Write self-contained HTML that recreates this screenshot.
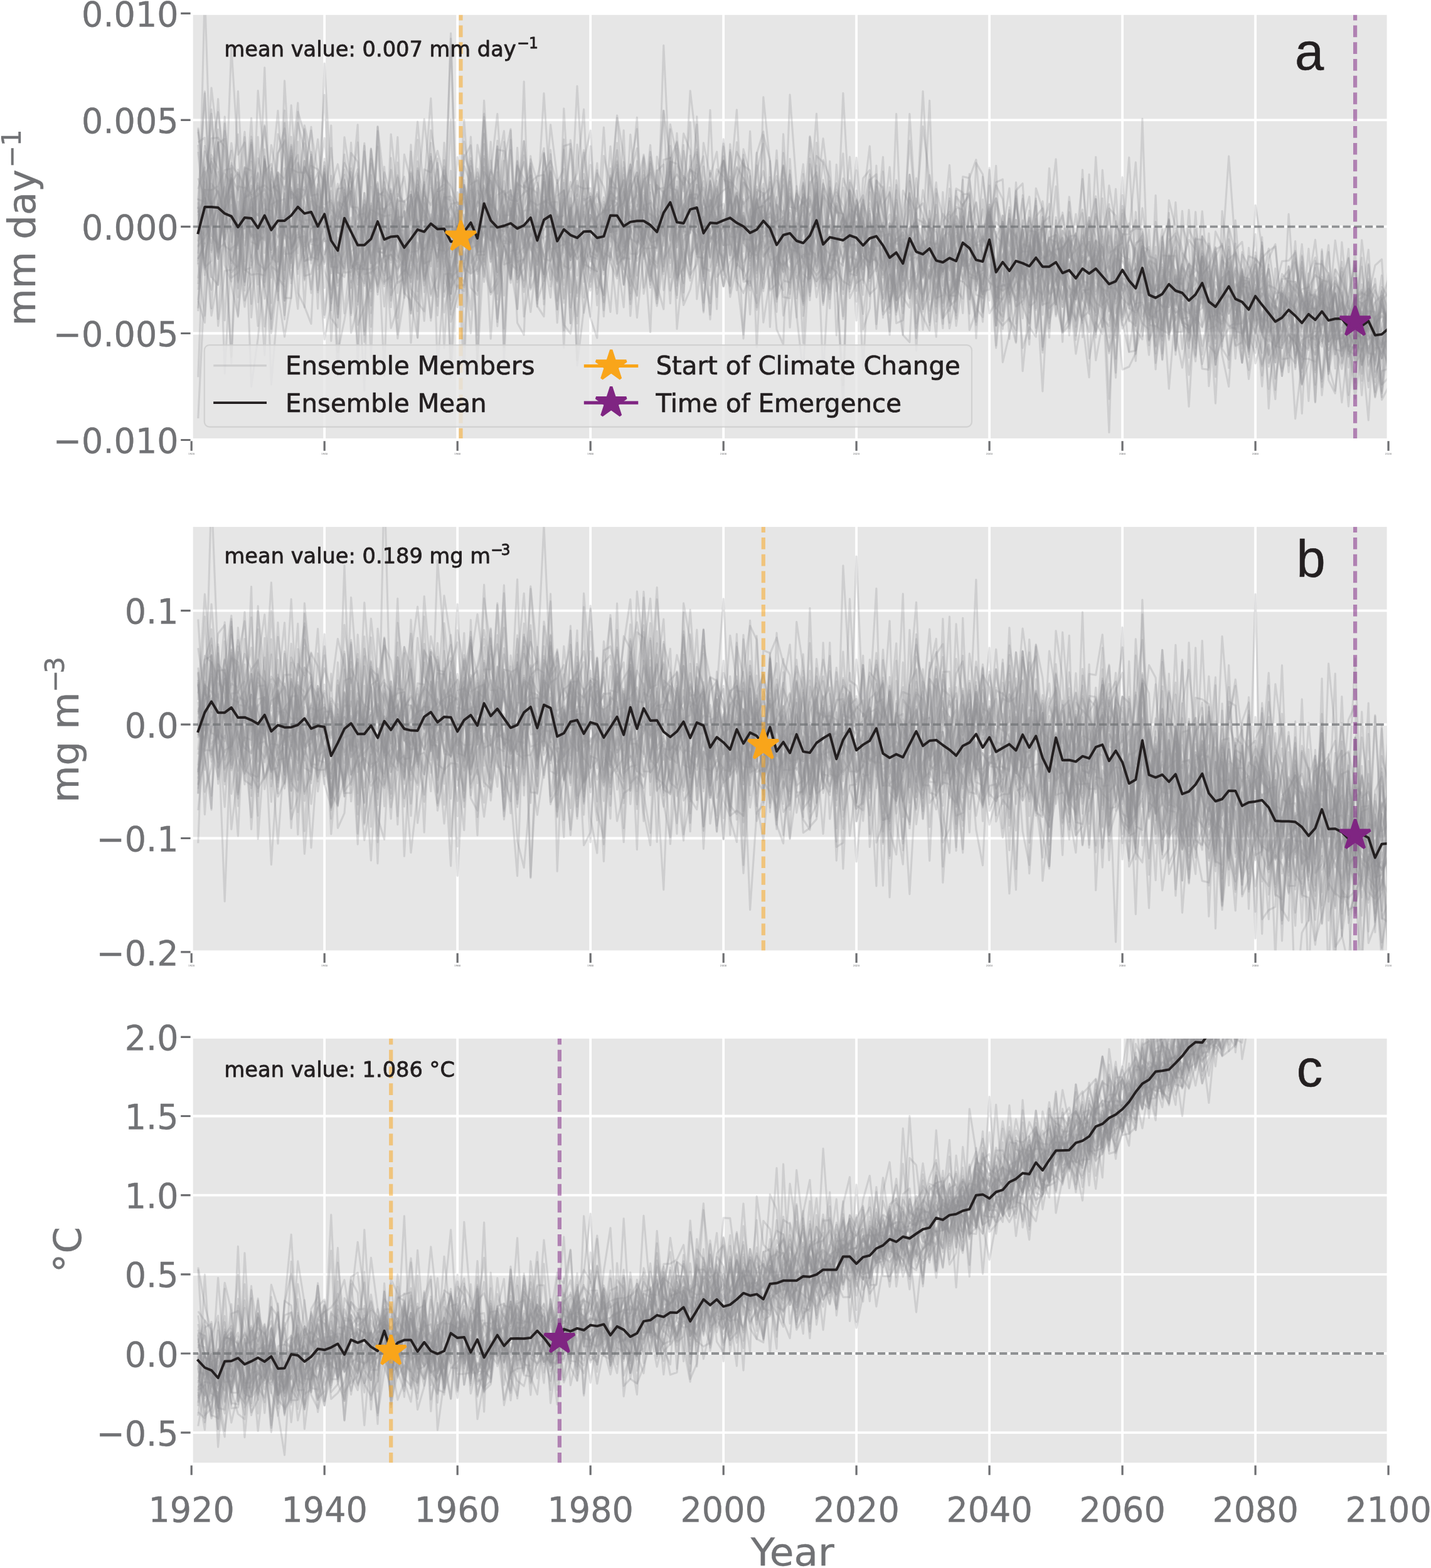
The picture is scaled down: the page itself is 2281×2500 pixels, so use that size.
<!DOCTYPE html>
<html lang="en">
<head>
<meta charset="utf-8">
<title>Ensemble time series: start of climate change and time of emergence</title>
<style>
html,body{margin:0;padding:0;background:#fff;}
body{width:2281px;height:2500px;overflow:hidden;}
svg{display:block;}
</style>
</head>
<body>
<svg width="2281" height="2500" viewBox="0 0 2281 2500" role="img" aria-label="Ensemble members, ensemble mean, start of climate change and time of emergence for three variables, 1920 to 2100">
<rect width="2281" height="2500" fill="#fff"/>
<defs>
<clipPath id="clipa"><rect x="305.2" y="21.3" width="1907.9" height="680.2"/></clipPath>
<clipPath id="clipb"><rect x="305.2" y="837.6" width="1907.9" height="680.3"/></clipPath>
<clipPath id="clipc"><rect x="305.2" y="1653.4" width="1907.9" height="681.2"/></clipPath>
</defs>
<rect width="2281" height="2500" fill="#fff"/>
<g>
<g id="panel-a">
<rect x="305.2" y="21.3" width="1907.9" height="680.2" fill="#e6e6e6"/>
<path d="M517.2,21.3V701.5M729.2,21.3V701.5M941.2,21.3V701.5M1153.2,21.3V701.5M1365.1,21.3V701.5M1577.1,21.3V701.5M1789.1,21.3V701.5M2001.1,21.3V701.5M305.2,191.3H2213.1M305.2,361.4H2213.1M305.2,531.5H2213.1" stroke="#fff" stroke-width="3.8" fill="none"/>
<g clip-path="url(#clipa)" fill="none" stroke-linejoin="round">
<g stroke="#8f9194" stroke-opacity="0.28" stroke-width="3.1">
<path d="M315.8,230.9L326.4,351.3L337.0,387.6L347.6,342.6L358.2,375.5L368.8,569.0L379.4,278.9L390.0,416.4L400.6,227.4L411.2,397.4L421.8,309.1L432.4,524.5L443.0,284.7L453.6,380.4L464.2,273.6L474.8,164.0L485.4,371.1L496.0,461.4L506.6,377.6L517.2,285.8L527.8,391.7L538.4,450.4L549.0,431.8L559.6,290.4L570.2,429.1L580.8,429.0L591.4,371.0L602.0,375.7L612.6,333.0L623.2,323.2L633.8,467.3L644.4,401.2L655.0,314.9L665.6,194.1L676.2,310.9L686.8,327.2L697.4,302.5L708.0,294.3L718.6,467.8L729.2,366.7L739.8,246.7L750.4,277.3L761.0,356.9L771.6,375.8L782.2,226.1L792.8,477.8L803.4,328.6L814.0,222.8L824.6,405.4L835.2,457.7L845.8,341.0L856.4,416.3L867.0,314.0L877.6,352.4L888.2,479.6L898.8,423.7L909.4,305.1L920.0,574.6L930.6,316.8L941.2,414.0L951.8,432.6L962.4,388.2L973.0,349.8L983.6,324.4L994.2,429.3L1004.8,301.5L1015.4,275.4L1026.0,393.3L1036.6,454.1L1047.2,369.8L1057.8,437.2L1068.4,321.3L1079.0,442.3L1089.6,426.5L1100.2,358.3L1110.8,379.9L1121.4,319.3L1132.0,354.0L1142.6,280.9L1153.2,256.5L1163.8,407.8L1174.4,346.4L1185.0,418.8L1195.6,400.8L1206.2,318.4L1216.8,514.1L1227.4,445.0L1238.0,415.5L1248.6,361.2L1259.1,468.6L1269.7,346.4L1280.3,486.3L1290.9,415.8L1301.5,263.8L1312.1,448.8L1322.7,425.2L1333.3,433.3L1343.9,448.6L1354.5,454.7L1365.1,361.2L1375.7,589.7L1386.3,396.2L1396.9,416.0L1407.5,297.2L1418.1,480.5L1428.7,453.0L1439.3,385.2L1449.9,396.3L1460.5,450.1L1471.1,472.8L1481.7,435.2L1492.3,389.0L1502.9,433.2L1513.5,300.7L1524.1,406.4L1534.7,345.8L1545.3,452.0L1555.9,504.9L1566.5,448.5L1577.1,267.6L1587.7,477.5L1598.3,343.8L1608.9,454.1L1619.5,435.6L1630.1,357.7L1640.7,313.5L1651.3,439.4L1661.9,624.0L1672.5,420.3L1683.1,454.5L1693.7,391.0L1704.3,411.1L1714.9,341.4L1725.5,447.7L1736.1,452.4L1746.7,414.6L1757.3,454.0L1767.9,435.6L1778.5,534.7L1789.1,430.3L1799.7,464.7L1810.3,515.1L1820.9,435.3L1831.5,508.3L1842.1,365.7L1852.7,458.2L1863.3,620.0L1873.9,492.0L1884.5,511.8L1895.1,520.3L1905.7,576.1L1916.3,409.1L1926.9,442.4L1937.5,509.1L1948.1,517.8L1958.7,470.5L1969.3,486.8L1979.9,441.7L1990.5,555.6L2001.1,468.7L2011.7,533.0L2022.3,468.1L2032.9,621.7L2043.5,477.4L2054.1,514.1L2064.7,452.7L2075.3,469.4L2085.9,516.3L2096.5,472.5L2107.1,493.0L2117.7,458.1L2128.3,528.3L2138.9,504.1L2149.5,586.0L2160.1,476.9L2170.7,466.8L2181.3,472.6L2191.9,423.2L2202.5,413.5L2213.1,580.2"/>
<path d="M315.8,601.2L326.4,315.4L337.0,339.7L347.6,298.1L358.2,382.0L368.8,342.5L379.4,378.2L390.0,336.0L400.6,230.9L411.2,432.7L421.8,257.5L432.4,531.4L443.0,444.8L453.6,356.5L464.2,167.7L474.8,322.4L485.4,393.0L496.0,363.7L506.6,293.9L517.2,502.2L527.8,424.8L538.4,379.2L549.0,499.7L559.6,401.1L570.2,390.9L580.8,416.6L591.4,459.3L602.0,396.3L612.6,396.4L623.2,384.6L633.8,507.2L644.4,388.6L655.0,274.2L665.6,314.5L676.2,337.9L686.8,437.7L697.4,473.5L708.0,363.5L718.6,410.5L729.2,363.4L739.8,265.0L750.4,293.4L761.0,287.2L771.6,318.0L782.2,384.2L792.8,358.9L803.4,328.8L814.0,386.5L824.6,307.0L835.2,224.8L845.8,351.1L856.4,394.3L867.0,275.1L877.6,256.3L888.2,291.9L898.8,269.2L909.4,365.1L920.0,367.9L930.6,394.5L941.2,417.0L951.8,377.6L962.4,430.8L973.0,365.3L983.6,227.9L994.2,357.8L1004.8,304.7L1015.4,274.9L1026.0,365.8L1036.6,408.8L1047.2,419.4L1057.8,353.9L1068.4,419.4L1079.0,337.1L1089.6,319.0L1100.2,294.3L1110.8,283.5L1121.4,249.1L1132.0,425.6L1142.6,370.9L1153.2,363.2L1163.8,318.3L1174.4,358.4L1185.0,317.6L1195.6,451.4L1206.2,263.9L1216.8,372.6L1227.4,362.5L1238.0,476.9L1248.6,447.3L1259.1,450.3L1269.7,366.5L1280.3,335.3L1290.9,465.6L1301.5,280.7L1312.1,430.3L1322.7,324.5L1333.3,390.0L1343.9,508.8L1354.5,408.8L1365.1,414.1L1375.7,364.0L1386.3,410.6L1396.9,416.2L1407.5,430.7L1418.1,364.4L1428.7,346.8L1439.3,423.4L1449.9,401.6L1460.5,445.9L1471.1,402.5L1481.7,279.0L1492.3,349.2L1502.9,516.4L1513.5,374.1L1524.1,481.2L1534.7,393.5L1545.3,352.9L1555.9,323.6L1566.5,392.0L1577.1,338.8L1587.7,376.5L1598.3,388.2L1608.9,509.0L1619.5,526.4L1630.1,311.3L1640.7,420.6L1651.3,369.3L1661.9,444.9L1672.5,467.2L1683.1,445.3L1693.7,426.0L1704.3,338.2L1714.9,384.2L1725.5,418.6L1736.1,405.3L1746.7,341.5L1757.3,376.1L1767.9,496.9L1778.5,393.7L1789.1,408.6L1799.7,413.3L1810.3,479.5L1820.9,393.2L1831.5,421.6L1842.1,436.8L1852.7,526.4L1863.3,532.6L1873.9,507.5L1884.5,471.6L1895.1,469.8L1905.7,504.4L1916.3,588.0L1926.9,589.4L1937.5,397.8L1948.1,391.6L1958.7,586.8L1969.3,453.8L1979.9,577.9L1990.5,466.5L2001.1,525.3L2011.7,562.7L2022.3,411.9L2032.9,389.3L2043.5,510.0L2054.1,444.2L2064.7,499.4L2075.3,572.2L2085.9,572.1L2096.5,576.6L2107.1,397.6L2117.7,535.5L2128.3,453.2L2138.9,464.6L2149.5,558.7L2160.1,565.8L2170.7,538.6L2181.3,541.3L2191.9,528.4L2202.5,465.4L2213.1,495.1"/>
<path d="M315.8,385.0L326.4,267.6L337.0,220.5L347.6,219.6L358.2,234.4L368.8,339.9L379.4,373.6L390.0,479.1L400.6,449.7L411.2,275.0L421.8,449.9L432.4,345.9L443.0,478.7L453.6,297.2L464.2,379.7L474.8,360.0L485.4,415.9L496.0,413.2L506.6,368.9L517.2,278.0L527.8,333.4L538.4,348.1L549.0,318.7L559.6,304.4L570.2,380.0L580.8,241.4L591.4,356.4L602.0,348.7L612.6,382.6L623.2,391.4L633.8,411.4L644.4,379.6L655.0,313.0L665.6,538.1L676.2,396.1L686.8,468.7L697.4,438.7L708.0,279.8L718.6,389.0L729.2,362.0L739.8,415.0L750.4,362.4L761.0,349.5L771.6,449.5L782.2,287.9L792.8,365.3L803.4,368.6L814.0,303.1L824.6,514.8L835.2,533.9L845.8,248.8L856.4,367.0L867.0,441.9L877.6,347.2L888.2,409.7L898.8,323.2L909.4,390.0L920.0,413.5L930.6,399.5L941.2,318.1L951.8,359.5L962.4,384.7L973.0,375.0L983.6,388.7L994.2,415.0L1004.8,364.5L1015.4,390.0L1026.0,339.2L1036.6,383.7L1047.2,350.0L1057.8,357.1L1068.4,313.6L1079.0,447.1L1089.6,398.0L1100.2,443.1L1110.8,325.4L1121.4,359.3L1132.0,454.9L1142.6,416.3L1153.2,341.2L1163.8,467.2L1174.4,356.2L1185.0,260.8L1195.6,400.6L1206.2,324.2L1216.8,349.3L1227.4,345.9L1238.0,355.5L1248.6,264.0L1259.1,329.7L1269.7,332.7L1280.3,293.0L1290.9,422.5L1301.5,438.4L1312.1,426.6L1322.7,461.2L1333.3,376.1L1343.9,360.4L1354.5,338.4L1365.1,511.1L1375.7,362.7L1386.3,364.6L1396.9,415.6L1407.5,476.9L1418.1,356.0L1428.7,383.7L1439.3,370.4L1449.9,441.9L1460.5,374.8L1471.1,479.5L1481.7,349.7L1492.3,407.7L1502.9,437.4L1513.5,316.1L1524.1,503.0L1534.7,384.3L1545.3,412.4L1555.9,411.6L1566.5,468.8L1577.1,359.4L1587.7,290.7L1598.3,285.8L1608.9,512.2L1619.5,303.6L1630.1,292.5L1640.7,452.6L1651.3,358.9L1661.9,442.8L1672.5,515.7L1683.1,466.9L1693.7,384.7L1704.3,523.4L1714.9,459.8L1725.5,505.3L1736.1,496.7L1746.7,527.5L1757.3,507.4L1767.9,520.3L1778.5,423.8L1789.1,367.3L1799.7,491.1L1810.3,498.1L1820.9,482.7L1831.5,511.9L1842.1,498.4L1852.7,385.6L1863.3,542.1L1873.9,368.6L1884.5,514.9L1895.1,452.9L1905.7,469.8L1916.3,565.4L1926.9,500.4L1937.5,369.1L1948.1,392.5L1958.7,424.3L1969.3,486.5L1979.9,456.1L1990.5,459.2L2001.1,519.0L2011.7,436.1L2022.3,651.4L2032.9,488.0L2043.5,495.0L2054.1,481.3L2064.7,492.8L2075.3,593.4L2085.9,509.7L2096.5,465.9L2107.1,452.4L2117.7,523.1L2128.3,469.0L2138.9,579.6L2149.5,516.2L2160.1,476.9L2170.7,462.0L2181.3,607.6L2191.9,504.6L2202.5,571.2L2213.1,519.9"/>
<path d="M315.8,329.3L326.4,421.4L337.0,462.2L347.6,374.1L358.2,292.1L368.8,240.2L379.4,460.0L390.0,311.0L400.6,223.4L411.2,391.7L421.8,343.0L432.4,313.3L443.0,275.0L453.6,285.5L464.2,248.7L474.8,429.1L485.4,394.2L496.0,242.4L506.6,361.0L517.2,361.5L527.8,392.6L538.4,394.0L549.0,428.9L559.6,305.3L570.2,392.1L580.8,331.6L591.4,499.1L602.0,201.6L612.6,295.8L623.2,449.4L633.8,358.6L644.4,431.9L655.0,310.5L665.6,496.3L676.2,366.1L686.8,364.3L697.4,378.2L708.0,265.4L718.6,317.8L729.2,367.7L739.8,305.0L750.4,459.0L761.0,470.2L771.6,340.7L782.2,466.0L792.8,443.5L803.4,393.1L814.0,451.0L824.6,235.5L835.2,382.6L845.8,342.5L856.4,387.0L867.0,352.8L877.6,331.5L888.2,445.7L898.8,286.8L909.4,515.8L920.0,295.9L930.6,300.8L941.2,300.1L951.8,386.7L962.4,392.6L973.0,304.9L983.6,318.1L994.2,286.7L1004.8,503.8L1015.4,386.9L1026.0,360.0L1036.6,319.7L1047.2,339.0L1057.8,362.8L1068.4,257.2L1079.0,261.3L1089.6,283.3L1100.2,424.5L1110.8,366.5L1121.4,377.0L1132.0,319.0L1142.6,441.5L1153.2,427.6L1163.8,229.9L1174.4,357.7L1185.0,283.9L1195.6,323.8L1206.2,494.1L1216.8,445.1L1227.4,384.4L1238.0,379.1L1248.6,473.6L1259.1,475.5L1269.7,366.2L1280.3,310.8L1290.9,478.6L1301.5,248.5L1312.1,258.9L1322.7,332.1L1333.3,302.2L1343.9,348.7L1354.5,369.7L1365.1,435.3L1375.7,416.1L1386.3,400.3L1396.9,358.3L1407.5,375.6L1418.1,373.1L1428.7,388.8L1439.3,390.7L1449.9,475.9L1460.5,413.1L1471.1,402.1L1481.7,444.7L1492.3,413.8L1502.9,396.9L1513.5,342.2L1524.1,454.0L1534.7,358.0L1545.3,429.0L1555.9,322.0L1566.5,415.0L1577.1,406.9L1587.7,437.3L1598.3,524.5L1608.9,409.4L1619.5,350.7L1630.1,591.8L1640.7,484.4L1651.3,391.8L1661.9,553.0L1672.5,484.6L1683.1,406.9L1693.7,437.8L1704.3,420.4L1714.9,466.1L1725.5,436.6L1736.1,492.3L1746.7,317.1L1757.3,485.6L1767.9,447.7L1778.5,454.8L1789.1,412.4L1799.7,434.3L1810.3,564.7L1820.9,452.8L1831.5,518.4L1842.1,519.6L1852.7,527.1L1863.3,405.3L1873.9,433.7L1884.5,476.0L1895.1,529.6L1905.7,497.7L1916.3,444.3L1926.9,534.5L1937.5,480.8L1948.1,407.1L1958.7,472.2L1969.3,401.8L1979.9,429.4L1990.5,553.6L2001.1,433.3L2011.7,511.0L2022.3,535.0L2032.9,504.1L2043.5,550.2L2054.1,533.8L2064.7,546.4L2075.3,568.7L2085.9,471.1L2096.5,469.4L2107.1,630.2L2117.7,531.5L2128.3,457.8L2138.9,578.0L2149.5,411.1L2160.1,571.7L2170.7,496.2L2181.3,522.8L2191.9,633.6L2202.5,515.7L2213.1,494.1"/>
<path d="M315.8,394.4L326.4,290.4L337.0,441.5L347.6,454.3L358.2,276.9L368.8,293.2L379.4,214.1L390.0,448.7L400.6,257.2L411.2,396.7L421.8,359.5L432.4,442.6L443.0,280.1L453.6,430.8L464.2,302.2L474.8,337.2L485.4,200.0L496.0,248.2L506.6,406.6L517.2,379.9L527.8,407.2L538.4,500.9L549.0,314.2L559.6,363.6L570.2,386.7L580.8,232.3L591.4,419.5L602.0,374.4L612.6,449.5L623.2,440.5L633.8,533.4L644.4,396.5L655.0,401.9L665.6,400.0L676.2,382.2L686.8,256.8L697.4,460.1L708.0,309.8L718.6,359.5L729.2,330.2L739.8,421.4L750.4,531.5L761.0,377.0L771.6,422.2L782.2,326.0L792.8,439.2L803.4,304.8L814.0,347.5L824.6,293.1L835.2,299.4L845.8,260.3L856.4,450.1L867.0,396.8L877.6,365.6L888.2,344.5L898.8,356.3L909.4,398.1L920.0,329.7L930.6,379.5L941.2,262.7L951.8,432.7L962.4,325.8L973.0,370.5L983.6,367.9L994.2,340.4L1004.8,404.5L1015.4,405.0L1026.0,387.9L1036.6,340.7L1047.2,355.2L1057.8,359.6L1068.4,206.0L1079.0,383.2L1089.6,334.1L1100.2,314.5L1110.8,317.2L1121.4,299.2L1132.0,337.8L1142.6,269.9L1153.2,282.0L1163.8,307.2L1174.4,441.6L1185.0,533.3L1195.6,378.1L1206.2,401.3L1216.8,215.0L1227.4,255.6L1238.0,402.0L1248.6,432.8L1259.1,151.1L1269.7,298.2L1280.3,426.4L1290.9,341.6L1301.5,308.0L1312.1,379.2L1322.7,435.0L1333.3,407.0L1343.9,351.5L1354.5,460.5L1365.1,413.8L1375.7,470.2L1386.3,287.0L1396.9,277.8L1407.5,506.6L1418.1,402.4L1428.7,318.5L1439.3,426.6L1449.9,391.3L1460.5,461.2L1471.1,438.6L1481.7,386.1L1492.3,426.7L1502.9,353.1L1513.5,337.8L1524.1,406.9L1534.7,399.9L1545.3,500.1L1555.9,259.8L1566.5,278.0L1577.1,392.1L1587.7,485.2L1598.3,406.3L1608.9,448.8L1619.5,424.0L1630.1,449.0L1640.7,430.1L1651.3,381.3L1661.9,362.1L1672.5,415.5L1683.1,475.3L1693.7,526.3L1704.3,417.5L1714.9,471.5L1725.5,453.9L1736.1,347.0L1746.7,420.8L1757.3,449.7L1767.9,689.4L1778.5,352.5L1789.1,387.7L1799.7,251.0L1810.3,439.5L1820.9,391.9L1831.5,486.5L1842.1,537.8L1852.7,444.4L1863.3,422.4L1873.9,377.0L1884.5,403.6L1895.1,493.1L1905.7,536.2L1916.3,376.0L1926.9,615.6L1937.5,501.4L1948.1,467.6L1958.7,445.9L1969.3,538.9L1979.9,459.1L1990.5,408.4L2001.1,412.8L2011.7,424.2L2022.3,507.5L2032.9,498.2L2043.5,528.1L2054.1,467.2L2064.7,570.5L2075.3,517.9L2085.9,492.2L2096.5,491.5L2107.1,441.4L2117.7,482.9L2128.3,537.3L2138.9,427.0L2149.5,502.8L2160.1,476.2L2170.7,484.0L2181.3,535.6L2191.9,545.2L2202.5,563.5L2213.1,539.3"/>
<path d="M315.8,318.1L326.4,321.7L337.0,491.6L347.6,332.1L358.2,297.7L368.8,348.8L379.4,370.5L390.0,320.1L400.6,616.6L411.2,539.2L421.8,428.1L432.4,326.2L443.0,319.1L453.6,371.6L464.2,419.3L474.8,335.9L485.4,256.3L496.0,304.3L506.6,371.8L517.2,264.6L527.8,543.7L538.4,411.9L549.0,365.3L559.6,346.9L570.2,480.5L580.8,363.2L591.4,328.0L602.0,465.6L612.6,403.2L623.2,376.2L633.8,331.6L644.4,475.0L655.0,407.3L665.6,436.2L676.2,290.2L686.8,403.1L697.4,315.7L708.0,465.3L718.6,415.6L729.2,357.4L739.8,376.7L750.4,264.7L761.0,406.5L771.6,406.2L782.2,256.1L792.8,354.8L803.4,386.7L814.0,389.7L824.6,265.4L835.2,285.1L845.8,440.1L856.4,291.2L867.0,366.7L877.6,245.7L888.2,386.8L898.8,238.7L909.4,366.8L920.0,467.0L930.6,411.0L941.2,431.3L951.8,368.5L962.4,430.1L973.0,268.5L983.6,412.9L994.2,397.7L1004.8,361.4L1015.4,472.1L1026.0,331.7L1036.6,260.8L1047.2,374.3L1057.8,341.8L1068.4,382.5L1079.0,289.1L1089.6,396.9L1100.2,304.0L1110.8,348.7L1121.4,387.6L1132.0,343.1L1142.6,300.9L1153.2,339.9L1163.8,281.4L1174.4,336.5L1185.0,540.0L1195.6,370.8L1206.2,323.1L1216.8,445.4L1227.4,323.6L1238.0,473.0L1248.6,415.9L1259.1,430.3L1269.7,355.7L1280.3,361.2L1290.9,377.9L1301.5,474.1L1312.1,420.0L1322.7,257.0L1333.3,427.7L1343.9,393.4L1354.5,392.6L1365.1,326.6L1375.7,375.5L1386.3,443.4L1396.9,426.2L1407.5,393.8L1418.1,413.7L1428.7,401.1L1439.3,438.5L1449.9,388.8L1460.5,372.8L1471.1,468.3L1481.7,434.9L1492.3,418.8L1502.9,482.0L1513.5,399.6L1524.1,384.5L1534.7,326.2L1545.3,311.2L1555.9,455.5L1566.5,359.1L1577.1,355.8L1587.7,424.1L1598.3,449.0L1608.9,335.0L1619.5,488.0L1630.1,423.5L1640.7,359.9L1651.3,522.8L1661.9,430.1L1672.5,415.5L1683.1,437.7L1693.7,446.8L1704.3,473.7L1714.9,456.5L1725.5,513.5L1736.1,601.8L1746.7,345.9L1757.3,426.4L1767.9,636.1L1778.5,449.0L1789.1,282.5L1799.7,444.5L1810.3,465.9L1820.9,466.8L1831.5,366.4L1842.1,506.9L1852.7,426.6L1863.3,481.5L1873.9,440.3L1884.5,556.6L1895.1,449.1L1905.7,412.4L1916.3,474.8L1926.9,443.7L1937.5,497.3L1948.1,475.9L1958.7,398.2L1969.3,472.1L1979.9,555.8L1990.5,453.2L2001.1,421.4L2011.7,477.9L2022.3,584.7L2032.9,526.0L2043.5,502.8L2054.1,502.1L2064.7,566.6L2075.3,542.4L2085.9,535.7L2096.5,528.5L2107.1,608.5L2117.7,464.7L2128.3,448.2L2138.9,471.5L2149.5,518.4L2160.1,543.1L2170.7,522.4L2181.3,563.4L2191.9,564.9L2202.5,633.2L2213.1,539.9"/>
<path d="M315.8,322.4L326.4,429.7L337.0,302.2L347.6,519.7L358.2,432.0L368.8,430.1L379.4,374.0L390.0,339.6L400.6,374.9L411.2,374.2L421.8,382.8L432.4,294.3L443.0,305.4L453.6,479.5L464.2,361.3L474.8,294.2L485.4,410.8L496.0,316.8L506.6,330.9L517.2,330.8L527.8,411.0L538.4,407.0L549.0,329.3L559.6,502.6L570.2,356.5L580.8,412.5L591.4,521.1L602.0,332.6L612.6,368.0L623.2,405.9L633.8,317.3L644.4,394.4L655.0,364.6L665.6,222.9L676.2,419.8L686.8,415.5L697.4,301.8L708.0,359.8L718.6,572.8L729.2,340.6L739.8,362.1L750.4,395.4L761.0,389.9L771.6,295.2L782.2,358.3L792.8,224.4L803.4,553.5L814.0,341.1L824.6,356.9L835.2,349.8L845.8,321.0L856.4,398.8L867.0,349.2L877.6,198.7L888.2,283.0L898.8,390.7L909.4,369.9L920.0,439.5L930.6,378.4L941.2,348.0L951.8,271.3L962.4,412.5L973.0,353.7L983.6,420.2L994.2,301.5L1004.8,360.8L1015.4,298.6L1026.0,335.4L1036.6,231.4L1047.2,399.8L1057.8,305.3L1068.4,335.0L1079.0,470.4L1089.6,231.3L1100.2,428.9L1110.8,269.1L1121.4,373.5L1132.0,288.5L1142.6,329.8L1153.2,365.0L1163.8,315.7L1174.4,411.6L1185.0,347.0L1195.6,402.1L1206.2,407.7L1216.8,385.4L1227.4,463.1L1238.0,452.5L1248.6,404.9L1259.1,271.5L1269.7,442.5L1280.3,483.4L1290.9,317.7L1301.5,427.3L1312.1,292.4L1322.7,333.7L1333.3,381.5L1343.9,374.6L1354.5,475.4L1365.1,451.1L1375.7,352.4L1386.3,409.2L1396.9,393.5L1407.5,359.8L1418.1,425.5L1428.7,343.8L1439.3,436.8L1449.9,361.4L1460.5,476.2L1471.1,505.2L1481.7,527.2L1492.3,415.5L1502.9,380.9L1513.5,477.9L1524.1,498.1L1534.7,393.5L1545.3,385.5L1555.9,442.7L1566.5,469.8L1577.1,295.7L1587.7,519.0L1598.3,353.6L1608.9,386.3L1619.5,444.3L1630.1,390.0L1640.7,540.3L1651.3,365.5L1661.9,418.3L1672.5,380.2L1683.1,386.6L1693.7,528.9L1704.3,506.1L1714.9,446.6L1725.5,514.9L1736.1,415.7L1746.7,423.1L1757.3,520.8L1767.9,413.9L1778.5,499.3L1789.1,468.1L1799.7,452.9L1810.3,526.1L1820.9,541.1L1831.5,431.9L1842.1,550.9L1852.7,456.7L1863.3,349.4L1873.9,450.8L1884.5,419.7L1895.1,382.4L1905.7,398.0L1916.3,435.5L1926.9,482.5L1937.5,394.0L1948.1,552.3L1958.7,458.1L1969.3,388.2L1979.9,532.8L1990.5,555.1L2001.1,408.0L2011.7,512.2L2022.3,448.8L2032.9,487.8L2043.5,505.0L2054.1,474.1L2064.7,494.3L2075.3,524.3L2085.9,449.3L2096.5,382.4L2107.1,486.1L2117.7,438.8L2128.3,507.1L2138.9,555.6L2149.5,472.5L2160.1,526.7L2170.7,512.6L2181.3,460.0L2191.9,475.2L2202.5,540.8L2213.1,561.5"/>
<path d="M315.8,318.9L326.4,148.8L337.0,342.7L347.6,454.0L358.2,369.3L368.8,263.8L379.4,277.6L390.0,349.0L400.6,416.9L411.2,268.5L421.8,201.9L432.4,311.9L443.0,416.8L453.6,307.8L464.2,251.1L474.8,350.2L485.4,355.0L496.0,414.7L506.6,333.8L517.2,459.3L527.8,344.6L538.4,359.1L549.0,342.1L559.6,499.5L570.2,279.8L580.8,456.0L591.4,260.7L602.0,410.9L612.6,438.7L623.2,367.9L633.8,218.6L644.4,432.2L655.0,241.6L665.6,377.7L676.2,398.9L686.8,373.3L697.4,410.6L708.0,307.8L718.6,513.2L729.2,473.7L739.8,424.7L750.4,494.0L761.0,341.9L771.6,322.3L782.2,330.3L792.8,233.0L803.4,579.5L814.0,332.1L824.6,439.7L835.2,391.8L845.8,311.9L856.4,282.5L867.0,236.3L877.6,457.0L888.2,366.6L898.8,384.1L909.4,388.6L920.0,412.4L930.6,277.4L941.2,317.7L951.8,400.7L962.4,364.0L973.0,328.4L983.6,415.9L994.2,267.4L1004.8,388.7L1015.4,415.9L1026.0,396.0L1036.6,396.0L1047.2,394.3L1057.8,72.3L1068.4,300.0L1079.0,302.9L1089.6,431.7L1100.2,334.2L1110.8,262.7L1121.4,346.6L1132.0,289.5L1142.6,368.7L1153.2,257.0L1163.8,323.4L1174.4,265.9L1185.0,284.2L1195.6,308.8L1206.2,490.2L1216.8,154.9L1227.4,259.8L1238.0,430.9L1248.6,380.2L1259.1,361.7L1269.7,309.4L1280.3,325.1L1290.9,314.2L1301.5,353.7L1312.1,395.1L1322.7,404.7L1333.3,442.8L1343.9,652.1L1354.5,287.2L1365.1,318.4L1375.7,351.8L1386.3,402.8L1396.9,359.5L1407.5,359.6L1418.1,489.1L1428.7,355.9L1439.3,488.4L1449.9,391.0L1460.5,333.6L1471.1,324.0L1481.7,360.5L1492.3,400.4L1502.9,506.9L1513.5,471.9L1524.1,461.1L1534.7,336.6L1545.3,477.8L1555.9,387.8L1566.5,380.9L1577.1,326.6L1587.7,473.6L1598.3,477.3L1608.9,400.7L1619.5,420.2L1630.1,555.0L1640.7,521.6L1651.3,537.2L1661.9,447.9L1672.5,268.2L1683.1,445.6L1693.7,338.9L1704.3,409.1L1714.9,420.7L1725.5,476.2L1736.1,442.5L1746.7,427.8L1757.3,464.2L1767.9,538.3L1778.5,417.2L1789.1,518.4L1799.7,373.0L1810.3,408.7L1820.9,444.1L1831.5,451.8L1842.1,511.8L1852.7,542.8L1863.3,471.3L1873.9,322.5L1884.5,471.3L1895.1,334.6L1905.7,476.5L1916.3,415.6L1926.9,519.6L1937.5,429.0L1948.1,471.6L1958.7,455.9L1969.3,428.0L1979.9,538.7L1990.5,508.5L2001.1,529.6L2011.7,468.1L2022.3,565.2L2032.9,533.4L2043.5,479.9L2054.1,487.3L2064.7,449.7L2075.3,659.4L2085.9,457.1L2096.5,509.9L2107.1,518.6L2117.7,509.4L2128.3,468.3L2138.9,540.3L2149.5,517.0L2160.1,620.5L2170.7,475.0L2181.3,460.5L2191.9,575.0L2202.5,477.7L2213.1,546.7"/>
<path d="M315.8,341.0L326.4,438.6L337.0,247.1L347.6,269.2L358.2,321.9L368.8,284.8L379.4,357.5L390.0,361.3L400.6,343.6L411.2,308.4L421.8,476.1L432.4,286.6L443.0,306.8L453.6,448.2L464.2,231.1L474.8,467.0L485.4,488.6L496.0,516.3L506.6,301.6L517.2,332.3L527.8,235.9L538.4,342.6L549.0,358.6L559.6,365.7L570.2,276.6L580.8,353.8L591.4,339.5L602.0,401.1L612.6,403.8L623.2,303.8L633.8,428.6L644.4,414.5L655.0,393.5L665.6,287.3L676.2,327.0L686.8,424.8L697.4,318.8L708.0,280.8L718.6,329.2L729.2,352.6L739.8,298.2L750.4,419.1L761.0,402.4L771.6,312.4L782.2,283.9L792.8,468.3L803.4,391.5L814.0,425.3L824.6,492.7L835.2,295.4L845.8,303.1L856.4,368.3L867.0,381.9L877.6,446.0L888.2,312.4L898.8,303.4L909.4,410.1L920.0,318.4L930.6,433.3L941.2,507.0L951.8,539.0L962.4,356.8L973.0,233.4L983.6,372.4L994.2,207.8L1004.8,477.6L1015.4,365.5L1026.0,271.7L1036.6,332.2L1047.2,428.2L1057.8,301.5L1068.4,258.4L1079.0,394.1L1089.6,342.3L1100.2,310.3L1110.8,404.6L1121.4,265.2L1132.0,346.5L1142.6,391.5L1153.2,339.4L1163.8,473.5L1174.4,420.1L1185.0,432.2L1195.6,367.5L1206.2,312.7L1216.8,272.7L1227.4,327.7L1238.0,255.6L1248.6,421.2L1259.1,308.8L1269.7,343.1L1280.3,261.8L1290.9,392.0L1301.5,352.4L1312.1,255.1L1322.7,284.6L1333.3,464.1L1343.9,408.3L1354.5,315.1L1365.1,373.0L1375.7,319.1L1386.3,374.8L1396.9,389.6L1407.5,423.6L1418.1,369.5L1428.7,460.6L1439.3,418.4L1449.9,181.6L1460.5,347.6L1471.1,497.0L1481.7,362.4L1492.3,366.4L1502.9,432.4L1513.5,409.0L1524.1,329.8L1534.7,334.6L1545.3,460.5L1555.9,513.2L1566.5,405.0L1577.1,499.6L1587.7,481.8L1598.3,458.7L1608.9,349.1L1619.5,380.7L1630.1,507.6L1640.7,387.0L1651.3,416.1L1661.9,411.2L1672.5,407.2L1683.1,396.2L1693.7,378.7L1704.3,504.3L1714.9,459.3L1725.5,387.7L1736.1,361.6L1746.7,312.9L1757.3,447.8L1767.9,458.8L1778.5,459.9L1789.1,476.0L1799.7,486.4L1810.3,465.6L1820.9,372.3L1831.5,456.0L1842.1,498.2L1852.7,491.7L1863.3,339.6L1873.9,565.6L1884.5,425.6L1895.1,442.4L1905.7,431.6L1916.3,377.1L1926.9,461.1L1937.5,538.4L1948.1,410.1L1958.7,488.0L1969.3,437.1L1979.9,516.0L1990.5,495.6L2001.1,459.0L2011.7,527.1L2022.3,566.5L2032.9,428.0L2043.5,545.0L2054.1,512.1L2064.7,418.0L2075.3,473.8L2085.9,503.0L2096.5,416.2L2107.1,517.4L2117.7,501.0L2128.3,451.9L2138.9,500.9L2149.5,478.4L2160.1,577.4L2170.7,523.2L2181.3,555.2L2191.9,532.6L2202.5,571.2L2213.1,519.9"/>
<path d="M315.8,392.5L326.4,378.9L337.0,358.3L347.6,324.2L358.2,369.7L368.8,278.8L379.4,371.6L390.0,331.8L400.6,379.0L411.2,376.7L421.8,347.5L432.4,410.0L443.0,420.6L453.6,128.8L464.2,316.6L474.8,314.1L485.4,490.1L496.0,321.1L506.6,341.6L517.2,334.1L527.8,417.7L538.4,302.7L549.0,278.6L559.6,408.0L570.2,453.7L580.8,391.9L591.4,352.1L602.0,469.6L612.6,290.2L623.2,399.9L633.8,259.1L644.4,437.1L655.0,386.3L665.6,306.8L676.2,354.9L686.8,363.2L697.4,392.0L708.0,329.8L718.6,344.4L729.2,387.3L739.8,424.8L750.4,388.2L761.0,325.6L771.6,253.3L782.2,382.6L792.8,348.5L803.4,524.1L814.0,310.0L824.6,320.6L835.2,307.8L845.8,265.6L856.4,487.8L867.0,504.6L877.6,289.1L888.2,369.2L898.8,380.5L909.4,408.2L920.0,394.5L930.6,378.4L941.2,350.3L951.8,260.1L962.4,437.4L973.0,395.8L983.6,500.0L994.2,306.8L1004.8,262.6L1015.4,360.3L1026.0,307.1L1036.6,458.7L1047.2,249.9L1057.8,295.8L1068.4,340.1L1079.0,364.9L1089.6,283.6L1100.2,407.6L1110.8,388.8L1121.4,436.4L1132.0,335.7L1142.6,357.1L1153.2,335.1L1163.8,412.2L1174.4,312.3L1185.0,366.0L1195.6,411.4L1206.2,393.1L1216.8,383.0L1227.4,359.1L1238.0,365.9L1248.6,365.0L1259.1,289.9L1269.7,411.0L1280.3,344.2L1290.9,444.0L1301.5,410.4L1312.1,383.4L1322.7,381.5L1333.3,387.3L1343.9,346.8L1354.5,390.8L1365.1,390.0L1375.7,413.7L1386.3,333.1L1396.9,419.5L1407.5,501.6L1418.1,486.9L1428.7,361.1L1439.3,433.3L1449.9,307.6L1460.5,392.6L1471.1,396.4L1481.7,477.9L1492.3,301.4L1502.9,346.8L1513.5,408.9L1524.1,300.5L1534.7,306.9L1545.3,384.0L1555.9,377.1L1566.5,496.9L1577.1,270.9L1587.7,480.8L1598.3,418.0L1608.9,340.9L1619.5,463.5L1630.1,420.5L1640.7,405.4L1651.3,401.6L1661.9,436.9L1672.5,382.2L1683.1,504.3L1693.7,447.7L1704.3,400.7L1714.9,372.2L1725.5,460.8L1736.1,470.1L1746.7,422.3L1757.3,366.4L1767.9,325.6L1778.5,474.6L1789.1,589.2L1799.7,584.8L1810.3,562.7L1820.9,384.6L1831.5,478.5L1842.1,459.0L1852.7,407.3L1863.3,408.1L1873.9,555.6L1884.5,403.7L1895.1,419.8L1905.7,568.9L1916.3,433.8L1926.9,391.8L1937.5,547.6L1948.1,475.6L1958.7,472.7L1969.3,487.9L1979.9,531.8L1990.5,499.8L2001.1,554.0L2011.7,386.4L2022.3,540.4L2032.9,551.6L2043.5,555.1L2054.1,448.3L2064.7,449.5L2075.3,488.2L2085.9,514.0L2096.5,461.8L2107.1,546.5L2117.7,473.9L2128.3,429.0L2138.9,447.6L2149.5,474.9L2160.1,423.0L2170.7,581.9L2181.3,493.3L2191.9,511.1L2202.5,439.1L2213.1,585.7"/>
<path d="M315.8,330.6L326.4,410.9L337.0,351.6L347.6,401.3L358.2,186.0L368.8,398.1L379.4,296.7L390.0,300.0L400.6,369.8L411.2,396.8L421.8,257.6L432.4,302.8L443.0,345.8L453.6,368.9L464.2,269.6L474.8,274.8L485.4,275.3L496.0,208.1L506.6,275.3L517.2,360.7L527.8,367.6L538.4,599.5L549.0,351.4L559.6,361.9L570.2,443.6L580.8,423.4L591.4,394.5L602.0,209.1L612.6,388.0L623.2,489.8L633.8,279.5L644.4,343.4L655.0,324.4L665.6,299.3L676.2,405.1L686.8,375.0L697.4,305.0L708.0,399.5L718.6,351.2L729.2,410.6L739.8,592.6L750.4,320.9L761.0,401.4L771.6,400.6L782.2,305.9L792.8,255.3L803.4,342.9L814.0,440.1L824.6,389.7L835.2,419.0L845.8,366.1L856.4,355.0L867.0,436.8L877.6,275.4L888.2,429.8L898.8,222.4L909.4,415.0L920.0,402.8L930.6,330.3L941.2,317.5L951.8,350.3L962.4,314.6L973.0,366.4L983.6,258.0L994.2,393.8L1004.8,271.5L1015.4,439.5L1026.0,374.1L1036.6,258.1L1047.2,301.8L1057.8,299.3L1068.4,442.2L1079.0,353.1L1089.6,334.0L1100.2,438.2L1110.8,421.2L1121.4,362.5L1132.0,353.3L1142.6,377.5L1153.2,430.1L1163.8,456.8L1174.4,307.2L1185.0,382.9L1195.6,346.0L1206.2,442.1L1216.8,300.6L1227.4,388.3L1238.0,239.8L1248.6,399.1L1259.1,387.0L1269.7,461.6L1280.3,353.3L1290.9,384.3L1301.5,291.6L1312.1,452.9L1322.7,300.6L1333.3,446.4L1343.9,374.6L1354.5,341.1L1365.1,370.7L1375.7,318.0L1386.3,422.2L1396.9,287.6L1407.5,300.6L1418.1,424.9L1428.7,466.4L1439.3,534.2L1449.9,545.5L1460.5,339.8L1471.1,444.4L1481.7,399.2L1492.3,326.6L1502.9,424.5L1513.5,523.8L1524.1,469.1L1534.7,281.6L1545.3,284.0L1555.9,254.6L1566.5,379.2L1577.1,398.8L1587.7,448.7L1598.3,427.2L1608.9,469.1L1619.5,449.0L1630.1,388.5L1640.7,393.6L1651.3,320.0L1661.9,501.9L1672.5,378.7L1683.1,411.1L1693.7,454.4L1704.3,430.1L1714.9,381.6L1725.5,537.7L1736.1,427.6L1746.7,574.4L1757.3,514.8L1767.9,332.2L1778.5,343.9L1789.1,501.2L1799.7,462.8L1810.3,395.5L1820.9,437.5L1831.5,550.4L1842.1,311.5L1852.7,573.9L1863.3,466.5L1873.9,471.7L1884.5,420.6L1895.1,541.5L1905.7,488.1L1916.3,551.8L1926.9,501.7L1937.5,461.2L1948.1,511.4L1958.7,364.3L1969.3,493.0L1979.9,498.1L1990.5,604.4L2001.1,524.0L2011.7,502.7L2022.3,481.3L2032.9,492.3L2043.5,436.8L2054.1,450.5L2064.7,463.6L2075.3,417.4L2085.9,537.0L2096.5,541.5L2107.1,492.6L2117.7,544.3L2128.3,496.3L2138.9,567.5L2149.5,501.8L2160.1,498.4L2170.7,410.7L2181.3,581.7L2191.9,555.6L2202.5,553.5L2213.1,580.8"/>
<path d="M315.8,339.3L326.4,315.8L337.0,402.2L347.6,333.9L358.2,364.7L368.8,363.7L379.4,505.3L390.0,334.9L400.6,376.5L411.2,218.3L421.8,403.3L432.4,375.1L443.0,321.4L453.6,222.8L464.2,398.1L474.8,378.7L485.4,376.5L496.0,467.2L506.6,293.5L517.2,220.1L527.8,349.9L538.4,435.3L549.0,348.3L559.6,366.7L570.2,414.2L580.8,308.0L591.4,419.0L602.0,456.9L612.6,397.1L623.2,359.9L633.8,444.4L644.4,430.9L655.0,499.2L665.6,357.9L676.2,420.7L686.8,369.2L697.4,252.9L708.0,386.6L718.6,325.5L729.2,322.6L739.8,347.5L750.4,400.9L761.0,432.8L771.6,329.5L782.2,412.7L792.8,311.4L803.4,304.1L814.0,340.2L824.6,426.6L835.2,337.8L845.8,318.8L856.4,375.2L867.0,289.7L877.6,414.7L888.2,353.0L898.8,341.5L909.4,290.1L920.0,333.3L930.6,426.5L941.2,343.1L951.8,359.6L962.4,416.6L973.0,497.5L983.6,342.7L994.2,305.3L1004.8,344.2L1015.4,359.4L1026.0,287.3L1036.6,275.7L1047.2,371.4L1057.8,360.2L1068.4,335.4L1079.0,353.0L1089.6,338.5L1100.2,144.9L1110.8,235.3L1121.4,322.9L1132.0,345.8L1142.6,314.5L1153.2,303.4L1163.8,296.9L1174.4,175.0L1185.0,381.1L1195.6,382.5L1206.2,321.5L1216.8,307.7L1227.4,418.4L1238.0,442.5L1248.6,266.3L1259.1,362.5L1269.7,368.0L1280.3,331.1L1290.9,399.7L1301.5,333.3L1312.1,445.5L1322.7,410.0L1333.3,366.0L1343.9,367.4L1354.5,367.4L1365.1,303.8L1375.7,451.2L1386.3,354.3L1396.9,432.5L1407.5,361.9L1418.1,266.4L1428.7,406.6L1439.3,363.4L1449.9,380.4L1460.5,284.1L1471.1,375.5L1481.7,495.5L1492.3,459.5L1502.9,378.9L1513.5,495.8L1524.1,403.0L1534.7,286.9L1545.3,526.3L1555.9,496.7L1566.5,435.8L1577.1,449.8L1587.7,491.8L1598.3,505.1L1608.9,348.2L1619.5,515.9L1630.1,377.0L1640.7,348.0L1651.3,392.8L1661.9,558.3L1672.5,440.3L1683.1,398.4L1693.7,393.9L1704.3,534.8L1714.9,411.4L1725.5,375.1L1736.1,407.7L1746.7,383.9L1757.3,432.8L1767.9,295.7L1778.5,361.4L1789.1,373.6L1799.7,466.0L1810.3,484.5L1820.9,445.2L1831.5,541.7L1842.1,393.6L1852.7,517.5L1863.3,475.9L1873.9,477.3L1884.5,336.3L1895.1,463.7L1905.7,452.2L1916.3,409.2L1926.9,489.8L1937.5,581.7L1948.1,404.8L1958.7,249.1L1969.3,397.4L1979.9,385.6L1990.5,469.5L2001.1,415.2L2011.7,598.8L2022.3,486.1L2032.9,603.6L2043.5,546.8L2054.1,341.4L2064.7,492.3L2075.3,433.9L2085.9,500.5L2096.5,613.4L2107.1,464.6L2117.7,544.5L2128.3,442.2L2138.9,475.8L2149.5,629.9L2160.1,452.5L2170.7,555.9L2181.3,444.7L2191.9,531.3L2202.5,463.3L2213.1,615.3"/>
<path d="M315.8,203.6L326.4,283.3L337.0,356.7L347.6,329.3L358.2,196.7L368.8,308.9L379.4,377.8L390.0,315.1L400.6,310.4L411.2,378.9L421.8,238.0L432.4,398.6L443.0,243.8L453.6,225.2L464.2,390.2L474.8,309.9L485.4,205.7L496.0,306.2L506.6,416.9L517.2,278.1L527.8,425.0L538.4,323.6L549.0,336.9L559.6,404.0L570.2,518.1L580.8,489.1L591.4,450.9L602.0,314.0L612.6,421.0L623.2,458.7L633.8,366.7L644.4,367.5L655.0,423.5L665.6,272.0L676.2,423.9L686.8,506.5L697.4,370.9L708.0,398.2L718.6,53.1L729.2,456.6L739.8,464.2L750.4,256.6L761.0,414.8L771.6,186.2L782.2,382.4L792.8,233.7L803.4,370.7L814.0,444.0L824.6,344.3L835.2,375.8L845.8,430.9L856.4,328.8L867.0,148.8L877.6,320.2L888.2,371.5L898.8,454.3L909.4,354.5L920.0,137.4L930.6,319.5L941.2,313.5L951.8,381.8L962.4,413.1L973.0,386.9L983.6,263.1L994.2,392.9L1004.8,271.8L1015.4,461.2L1026.0,327.2L1036.6,323.8L1047.2,389.8L1057.8,330.0L1068.4,198.3L1079.0,249.3L1089.6,305.0L1100.2,194.8L1110.8,476.9L1121.4,389.1L1132.0,175.5L1142.6,418.4L1153.2,369.7L1163.8,349.6L1174.4,443.9L1185.0,290.5L1195.6,305.4L1206.2,381.9L1216.8,322.8L1227.4,315.5L1238.0,280.5L1248.6,329.8L1259.1,398.0L1269.7,400.4L1280.3,412.2L1290.9,289.8L1301.5,379.6L1312.1,404.0L1322.7,435.4L1333.3,392.1L1343.9,461.5L1354.5,373.3L1365.1,251.4L1375.7,368.4L1386.3,355.0L1396.9,374.1L1407.5,377.0L1418.1,406.1L1428.7,474.2L1439.3,404.1L1449.9,463.5L1460.5,316.2L1471.1,343.1L1481.7,419.9L1492.3,458.6L1502.9,407.6L1513.5,430.8L1524.1,344.2L1534.7,364.7L1545.3,277.3L1555.9,463.6L1566.5,318.0L1577.1,382.6L1587.7,354.3L1598.3,366.6L1608.9,460.0L1619.5,373.4L1630.1,401.2L1640.7,400.8L1651.3,434.9L1661.9,418.3L1672.5,506.5L1683.1,454.2L1693.7,379.7L1704.3,410.3L1714.9,399.2L1725.5,388.0L1736.1,476.0L1746.7,529.1L1757.3,441.5L1767.9,415.6L1778.5,394.3L1789.1,387.5L1799.7,446.7L1810.3,455.3L1820.9,403.7L1831.5,449.3L1842.1,478.4L1852.7,488.5L1863.3,489.7L1873.9,456.3L1884.5,508.9L1895.1,450.7L1905.7,404.9L1916.3,438.6L1926.9,424.1L1937.5,395.0L1948.1,489.2L1958.7,566.4L1969.3,512.6L1979.9,439.5L1990.5,477.2L2001.1,540.5L2011.7,583.8L2022.3,514.8L2032.9,479.3L2043.5,599.5L2054.1,454.7L2064.7,585.4L2075.3,467.0L2085.9,506.6L2096.5,506.5L2107.1,449.3L2117.7,573.1L2128.3,522.9L2138.9,557.9L2149.5,528.7L2160.1,553.7L2170.7,482.2L2181.3,498.6L2191.9,580.8L2202.5,485.2L2213.1,513.7"/>
<path d="M315.8,496.1L326.4,273.5L337.0,332.9L347.6,328.2L358.2,373.4L368.8,579.2L379.4,337.7L390.0,269.3L400.6,315.8L411.2,395.4L421.8,345.2L432.4,350.3L443.0,213.7L453.6,246.3L464.2,392.9L474.8,330.3L485.4,297.8L496.0,202.4L506.6,383.7L517.2,362.5L527.8,200.0L538.4,507.3L549.0,321.2L559.6,427.2L570.2,418.4L580.8,622.9L591.4,236.7L602.0,383.2L612.6,452.5L623.2,214.0L633.8,313.6L644.4,281.7L655.0,359.0L665.6,403.0L676.2,318.0L686.8,351.7L697.4,259.9L708.0,435.9L718.6,478.2L729.2,359.9L739.8,295.3L750.4,408.3L761.0,463.6L771.6,274.3L782.2,289.8L792.8,364.1L803.4,393.1L814.0,361.9L824.6,415.4L835.2,447.5L845.8,300.9L856.4,473.9L867.0,285.9L877.6,330.3L888.2,447.9L898.8,373.2L909.4,223.4L920.0,312.9L930.6,239.4L941.2,324.7L951.8,387.7L962.4,359.2L973.0,344.1L983.6,339.1L994.2,412.3L1004.8,334.3L1015.4,374.3L1026.0,279.4L1036.6,390.8L1047.2,396.0L1057.8,351.5L1068.4,483.8L1079.0,304.4L1089.6,403.3L1100.2,447.4L1110.8,294.8L1121.4,498.2L1132.0,319.5L1142.6,348.9L1153.2,391.1L1163.8,300.8L1174.4,413.9L1185.0,339.6L1195.6,501.5L1206.2,334.1L1216.8,409.7L1227.4,393.1L1238.0,525.1L1248.6,549.3L1259.1,253.3L1269.7,403.5L1280.3,315.0L1290.9,436.5L1301.5,308.8L1312.1,443.4L1322.7,445.4L1333.3,386.6L1343.9,373.8L1354.5,389.0L1365.1,317.9L1375.7,373.1L1386.3,397.0L1396.9,397.6L1407.5,421.5L1418.1,481.0L1428.7,438.0L1439.3,370.8L1449.9,389.7L1460.5,465.9L1471.1,348.6L1481.7,362.7L1492.3,444.6L1502.9,412.7L1513.5,320.9L1524.1,425.7L1534.7,379.1L1545.3,286.8L1555.9,355.6L1566.5,410.6L1577.1,405.3L1587.7,295.6L1598.3,317.4L1608.9,415.1L1619.5,370.9L1630.1,475.0L1640.7,392.5L1651.3,427.1L1661.9,362.3L1672.5,325.0L1683.1,501.5L1693.7,367.7L1704.3,450.0L1714.9,542.0L1725.5,384.7L1736.1,401.9L1746.7,429.3L1757.3,471.5L1767.9,370.1L1778.5,414.8L1789.1,514.5L1799.7,561.3L1810.3,559.1L1820.9,485.0L1831.5,515.5L1842.1,407.0L1852.7,563.7L1863.3,319.3L1873.9,362.1L1884.5,396.8L1895.1,428.9L1905.7,510.1L1916.3,437.6L1926.9,424.1L1937.5,481.6L1948.1,544.3L1958.7,484.6L1969.3,551.8L1979.9,545.6L1990.5,458.1L2001.1,373.4L2011.7,581.0L2022.3,549.6L2032.9,636.5L2043.5,468.5L2054.1,492.3L2064.7,524.2L2075.3,587.8L2085.9,502.1L2096.5,491.5L2107.1,536.0L2117.7,558.1L2128.3,537.0L2138.9,433.3L2149.5,543.6L2160.1,610.1L2170.7,453.4L2181.3,530.0L2191.9,541.8L2202.5,475.0L2213.1,523.8"/>
<path d="M315.8,354.1L326.4,422.7L337.0,348.6L347.6,412.8L358.2,319.7L368.8,290.3L379.4,275.2L390.0,297.4L400.6,309.5L411.2,252.4L421.8,303.2L432.4,483.2L443.0,276.1L453.6,302.0L464.2,234.1L474.8,346.7L485.4,267.8L496.0,289.1L506.6,386.8L517.2,275.6L527.8,389.1L538.4,334.0L549.0,356.4L559.6,459.1L570.2,393.4L580.8,545.1L591.4,427.4L602.0,315.8L612.6,338.4L623.2,301.1L633.8,370.8L644.4,468.6L655.0,305.3L665.6,446.2L676.2,375.6L686.8,351.1L697.4,503.0L708.0,342.1L718.6,364.7L729.2,373.2L739.8,381.5L750.4,360.9L761.0,401.8L771.6,160.3L782.2,336.3L792.8,368.9L803.4,356.9L814.0,331.9L824.6,435.1L835.2,413.7L845.8,387.5L856.4,457.0L867.0,244.2L877.6,327.1L888.2,337.9L898.8,372.7L909.4,327.1L920.0,387.3L930.6,474.5L941.2,342.5L951.8,358.4L962.4,203.1L973.0,385.1L983.6,269.3L994.2,373.3L1004.8,484.9L1015.4,391.3L1026.0,285.0L1036.6,421.8L1047.2,295.8L1057.8,307.3L1068.4,293.6L1079.0,278.0L1089.6,294.4L1100.2,269.7L1110.8,287.1L1121.4,451.1L1132.0,295.2L1142.6,399.0L1153.2,457.0L1163.8,416.9L1174.4,404.3L1185.0,339.0L1195.6,406.5L1206.2,243.2L1216.8,372.0L1227.4,314.8L1238.0,471.9L1248.6,213.9L1259.1,386.6L1269.7,353.3L1280.3,314.7L1290.9,472.2L1301.5,392.4L1312.1,313.6L1322.7,413.5L1333.3,328.1L1343.9,384.8L1354.5,290.7L1365.1,379.2L1375.7,447.0L1386.3,336.6L1396.9,517.0L1407.5,407.1L1418.1,411.3L1428.7,380.7L1439.3,375.5L1449.9,465.3L1460.5,339.5L1471.1,493.1L1481.7,389.1L1492.3,342.3L1502.9,483.7L1513.5,368.6L1524.1,356.4L1534.7,429.3L1545.3,385.5L1555.9,469.9L1566.5,474.4L1577.1,416.9L1587.7,465.0L1598.3,372.2L1608.9,439.2L1619.5,396.5L1630.1,436.3L1640.7,346.2L1651.3,448.9L1661.9,355.4L1672.5,345.7L1683.1,440.5L1693.7,481.4L1704.3,362.8L1714.9,444.2L1725.5,407.6L1736.1,420.7L1746.7,482.5L1757.3,490.8L1767.9,393.5L1778.5,451.4L1789.1,311.1L1799.7,462.8L1810.3,427.1L1820.9,409.4L1831.5,451.8L1842.1,463.7L1852.7,457.4L1863.3,539.9L1873.9,430.1L1884.5,492.3L1895.1,499.7L1905.7,337.7L1916.3,490.6L1926.9,388.4L1937.5,426.4L1948.1,502.6L1958.7,381.6L1969.3,494.6L1979.9,432.0L1990.5,471.4L2001.1,515.2L2011.7,404.4L2022.3,530.1L2032.9,487.2L2043.5,506.9L2054.1,499.8L2064.7,543.0L2075.3,586.0L2085.9,536.5L2096.5,488.7L2107.1,531.9L2117.7,544.6L2128.3,533.2L2138.9,466.4L2149.5,564.7L2160.1,548.4L2170.7,484.4L2181.3,475.6L2191.9,601.3L2202.5,554.0L2213.1,476.3"/>
<path d="M315.8,667.0L326.4,448.9L337.0,292.9L347.6,306.6L358.2,358.1L368.8,305.6L379.4,376.8L390.0,450.2L400.6,336.3L411.2,292.3L421.8,346.2L432.4,359.6L443.0,378.3L453.6,363.1L464.2,410.9L474.8,359.3L485.4,369.8L496.0,410.0L506.6,413.5L517.2,333.1L527.8,361.7L538.4,561.9L549.0,510.2L559.6,447.8L570.2,548.3L580.8,357.0L591.4,253.0L602.0,311.9L612.6,305.8L623.2,399.3L633.8,319.7L644.4,321.6L655.0,310.4L665.6,363.9L676.2,301.3L686.8,249.8L697.4,304.7L708.0,271.4L718.6,442.2L729.2,432.7L739.8,400.7L750.4,432.4L761.0,319.7L771.6,181.4L782.2,333.9L792.8,513.5L803.4,383.2L814.0,386.6L824.6,308.6L835.2,404.1L845.8,372.1L856.4,395.1L867.0,328.6L877.6,427.8L888.2,448.6L898.8,303.3L909.4,427.2L920.0,230.6L930.6,354.8L941.2,329.5L951.8,309.3L962.4,338.8L973.0,308.5L983.6,421.9L994.2,410.5L1004.8,412.9L1015.4,339.5L1026.0,252.1L1036.6,368.1L1047.2,454.3L1057.8,493.0L1068.4,273.5L1079.0,367.6L1089.6,466.5L1100.2,314.4L1110.8,366.7L1121.4,387.8L1132.0,276.3L1142.6,400.7L1153.2,456.1L1163.8,377.0L1174.4,343.8L1185.0,365.5L1195.6,367.9L1206.2,353.4L1216.8,324.6L1227.4,312.7L1238.0,421.8L1248.6,361.4L1259.1,301.5L1269.7,384.4L1280.3,449.0L1290.9,252.8L1301.5,363.3L1312.1,486.3L1322.7,401.9L1333.3,330.0L1343.9,353.9L1354.5,432.8L1365.1,390.2L1375.7,320.6L1386.3,233.1L1396.9,415.6L1407.5,462.1L1418.1,389.3L1428.7,399.8L1439.3,499.3L1449.9,364.4L1460.5,361.6L1471.1,386.3L1481.7,409.3L1492.3,433.8L1502.9,523.4L1513.5,348.6L1524.1,333.1L1534.7,422.7L1545.3,413.8L1555.9,435.4L1566.5,431.1L1577.1,326.0L1587.7,446.1L1598.3,362.7L1608.9,392.3L1619.5,323.1L1630.1,383.7L1640.7,442.0L1651.3,373.6L1661.9,440.2L1672.5,388.5L1683.1,448.9L1693.7,368.1L1704.3,384.4L1714.9,449.6L1725.5,417.1L1736.1,571.7L1746.7,513.9L1757.3,532.7L1767.9,438.7L1778.5,301.2L1789.1,463.6L1799.7,449.2L1810.3,390.7L1820.9,375.0L1831.5,541.5L1842.1,518.2L1852.7,394.7L1863.3,528.7L1873.9,451.2L1884.5,453.3L1895.1,495.2L1905.7,514.5L1916.3,404.0L1926.9,438.2L1937.5,509.9L1948.1,457.4L1958.7,500.1L1969.3,476.6L1979.9,429.9L1990.5,561.2L2001.1,465.8L2011.7,430.6L2022.3,518.4L2032.9,546.8L2043.5,509.4L2054.1,582.9L2064.7,462.3L2075.3,477.2L2085.9,639.5L2096.5,476.2L2107.1,617.3L2117.7,482.2L2128.3,565.4L2138.9,444.6L2149.5,412.0L2160.1,499.0L2170.7,596.0L2181.3,468.3L2191.9,609.5L2202.5,546.5L2213.1,520.1"/>
<path d="M315.8,209.8L326.4,306.1L337.0,441.7L347.6,334.3L358.2,388.8L368.8,442.7L379.4,435.3L390.0,316.7L400.6,385.8L411.2,390.6L421.8,432.1L432.4,417.9L443.0,375.4L453.6,196.0L464.2,318.0L474.8,436.8L485.4,312.5L496.0,250.2L506.6,414.1L517.2,361.6L527.8,323.6L538.4,403.5L549.0,307.8L559.6,530.9L570.2,488.6L580.8,325.6L591.4,409.8L602.0,378.1L612.6,488.8L623.2,370.1L633.8,346.3L644.4,345.9L655.0,460.7L665.6,476.9L676.2,364.2L686.8,282.9L697.4,387.9L708.0,314.4L718.6,313.4L729.2,332.3L739.8,489.0L750.4,354.6L761.0,269.1L771.6,330.4L782.2,416.8L792.8,288.0L803.4,353.0L814.0,303.3L824.6,410.5L835.2,130.1L845.8,458.7L856.4,300.2L867.0,485.3L877.6,239.0L888.2,379.9L898.8,361.8L909.4,414.8L920.0,378.2L930.6,327.0L941.2,457.5L951.8,345.6L962.4,388.3L973.0,319.3L983.6,323.5L994.2,403.4L1004.8,375.0L1015.4,337.3L1026.0,458.8L1036.6,400.2L1047.2,271.5L1057.8,391.7L1068.4,322.3L1079.0,380.3L1089.6,345.2L1100.2,337.3L1110.8,310.4L1121.4,365.5L1132.0,287.3L1142.6,493.0L1153.2,233.6L1163.8,406.5L1174.4,284.9L1185.0,253.4L1195.6,361.6L1206.2,317.8L1216.8,359.1L1227.4,377.7L1238.0,361.1L1248.6,295.3L1259.1,522.2L1269.7,388.0L1280.3,436.7L1290.9,447.8L1301.5,336.2L1312.1,600.2L1322.7,407.6L1333.3,405.1L1343.9,148.6L1354.5,342.1L1365.1,425.7L1375.7,395.7L1386.3,357.7L1396.9,524.4L1407.5,325.7L1418.1,307.7L1428.7,354.7L1439.3,448.1L1449.9,314.7L1460.5,338.2L1471.1,201.6L1481.7,285.2L1492.3,440.4L1502.9,399.6L1513.5,477.7L1524.1,313.2L1534.7,328.2L1545.3,306.6L1555.9,539.5L1566.5,369.8L1577.1,333.0L1587.7,491.5L1598.3,369.9L1608.9,453.2L1619.5,386.8L1630.1,431.5L1640.7,486.2L1651.3,370.3L1661.9,486.8L1672.5,445.7L1683.1,364.9L1693.7,343.1L1704.3,428.5L1714.9,381.5L1725.5,476.9L1736.1,500.6L1746.7,384.4L1757.3,459.9L1767.9,473.7L1778.5,407.7L1789.1,505.4L1799.7,438.0L1810.3,462.0L1820.9,388.0L1831.5,447.9L1842.1,483.7L1852.7,470.6L1863.3,522.8L1873.9,446.6L1884.5,444.1L1895.1,543.6L1905.7,511.2L1916.3,470.4L1926.9,544.2L1937.5,496.7L1948.1,465.1L1958.7,450.9L1969.3,475.5L1979.9,486.2L1990.5,564.5L2001.1,402.2L2011.7,520.8L2022.3,470.7L2032.9,483.7L2043.5,444.7L2054.1,430.5L2064.7,588.6L2075.3,427.1L2085.9,488.9L2096.5,420.0L2107.1,421.4L2117.7,436.1L2128.3,546.4L2138.9,528.5L2149.5,647.9L2160.1,523.4L2170.7,580.7L2181.3,551.6L2191.9,632.2L2202.5,591.5L2213.1,588.0"/>
<path d="M315.8,362.2L326.4,375.0L337.0,237.1L347.6,178.6L358.2,261.2L368.8,434.4L379.4,423.2L390.0,299.0L400.6,411.0L411.2,296.0L421.8,319.7L432.4,613.0L443.0,484.1L453.6,308.3L464.2,451.8L474.8,322.5L485.4,425.5L496.0,302.7L506.6,222.1L517.2,326.1L527.8,319.4L538.4,350.8L549.0,270.6L559.6,314.0L570.2,428.5L580.8,319.0L591.4,362.3L602.0,292.8L612.6,408.8L623.2,406.4L633.8,417.5L644.4,371.7L655.0,276.6L665.6,350.9L676.2,455.1L686.8,341.9L697.4,371.5L708.0,498.2L718.6,435.8L729.2,384.6L739.8,322.2L750.4,352.3L761.0,359.6L771.6,406.3L782.2,311.0L792.8,391.9L803.4,256.0L814.0,446.2L824.6,325.4L835.2,361.6L845.8,350.7L856.4,386.7L867.0,273.8L877.6,325.2L888.2,346.0L898.8,344.5L909.4,515.3L920.0,364.7L930.6,449.5L941.2,369.2L951.8,346.2L962.4,337.9L973.0,307.0L983.6,184.0L994.2,250.0L1004.8,380.5L1015.4,386.8L1026.0,378.0L1036.6,347.1L1047.2,366.9L1057.8,310.5L1068.4,271.9L1079.0,225.6L1089.6,372.3L1100.2,311.1L1110.8,309.2L1121.4,338.1L1132.0,501.8L1142.6,309.8L1153.2,399.6L1163.8,352.8L1174.4,226.8L1185.0,387.8L1195.6,400.1L1206.2,245.4L1216.8,209.8L1227.4,381.5L1238.0,474.2L1248.6,359.1L1259.1,334.6L1269.7,406.2L1280.3,471.7L1290.9,361.7L1301.5,397.1L1312.1,427.7L1322.7,466.6L1333.3,262.4L1343.9,393.1L1354.5,367.6L1365.1,398.4L1375.7,416.1L1386.3,429.0L1396.9,322.0L1407.5,368.8L1418.1,342.1L1428.7,497.3L1439.3,438.8L1449.9,475.4L1460.5,395.0L1471.1,303.0L1481.7,365.5L1492.3,442.4L1502.9,403.8L1513.5,471.2L1524.1,471.7L1534.7,344.1L1545.3,378.5L1555.9,448.6L1566.5,434.0L1577.1,337.1L1587.7,457.4L1598.3,455.3L1608.9,452.3L1619.5,478.4L1630.1,397.7L1640.7,367.6L1651.3,370.0L1661.9,417.0L1672.5,399.2L1683.1,485.4L1693.7,396.0L1704.3,378.9L1714.9,441.9L1725.5,458.3L1736.1,357.5L1746.7,503.3L1757.3,271.0L1767.9,403.3L1778.5,396.7L1789.1,432.0L1799.7,430.8L1810.3,558.8L1820.9,518.6L1831.5,429.1L1842.1,464.6L1852.7,449.2L1863.3,483.3L1873.9,498.6L1884.5,492.3L1895.1,648.3L1905.7,470.7L1916.3,474.1L1926.9,475.7L1937.5,643.2L1948.1,432.3L1958.7,499.9L1969.3,426.1L1979.9,453.5L1990.5,558.7L2001.1,479.9L2011.7,513.9L2022.3,486.2L2032.9,515.7L2043.5,463.6L2054.1,483.2L2064.7,525.1L2075.3,479.4L2085.9,509.7L2096.5,564.7L2107.1,450.5L2117.7,606.0L2128.3,627.2L2138.9,480.3L2149.5,551.8L2160.1,554.9L2170.7,425.1L2181.3,532.7L2191.9,625.4L2202.5,577.4L2213.1,539.3"/>
<path d="M315.8,284.2L326.4,313.3L337.0,399.1L347.6,228.6L358.2,342.2L368.8,369.0L379.4,321.7L390.0,463.3L400.6,295.8L411.2,413.0L421.8,460.3L432.4,508.5L443.0,443.2L453.6,456.8L464.2,218.0L474.8,336.4L485.4,265.3L496.0,389.0L506.6,392.0L517.2,417.9L527.8,280.4L538.4,414.2L549.0,427.3L559.6,380.7L570.2,343.3L580.8,339.9L591.4,381.9L602.0,364.1L612.6,599.8L623.2,251.8L633.8,357.5L644.4,400.4L655.0,466.6L665.6,482.3L676.2,496.3L686.8,299.6L697.4,375.2L708.0,390.4L718.6,347.9L729.2,439.6L739.8,449.0L750.4,395.7L761.0,282.1L771.6,417.3L782.2,338.8L792.8,433.8L803.4,257.8L814.0,205.7L824.6,492.9L835.2,336.2L845.8,334.1L856.4,468.0L867.0,365.3L877.6,266.8L888.2,358.5L898.8,367.7L909.4,446.8L920.0,515.7L930.6,342.4L941.2,379.7L951.8,401.9L962.4,248.6L973.0,293.8L983.6,255.8L994.2,388.2L1004.8,378.0L1015.4,410.7L1026.0,246.6L1036.6,308.4L1047.2,476.9L1057.8,348.6L1068.4,294.0L1079.0,321.6L1089.6,440.4L1100.2,356.7L1110.8,322.9L1121.4,354.1L1132.0,371.4L1142.6,349.7L1153.2,438.4L1163.8,242.8L1174.4,402.1L1185.0,438.9L1195.6,341.0L1206.2,297.5L1216.8,395.5L1227.4,381.6L1238.0,436.3L1248.6,360.1L1259.1,360.3L1269.7,400.8L1280.3,308.9L1290.9,330.5L1301.5,181.4L1312.1,374.9L1322.7,491.8L1333.3,312.1L1343.9,342.3L1354.5,432.9L1365.1,425.0L1375.7,407.3L1386.3,418.4L1396.9,362.5L1407.5,250.4L1418.1,464.6L1428.7,181.5L1439.3,454.4L1449.9,413.8L1460.5,539.1L1471.1,398.8L1481.7,518.7L1492.3,394.4L1502.9,433.1L1513.5,388.7L1524.1,345.4L1534.7,423.7L1545.3,390.2L1555.9,407.1L1566.5,513.2L1577.1,338.3L1587.7,316.0L1598.3,360.1L1608.9,422.8L1619.5,304.6L1630.1,474.1L1640.7,362.7L1651.3,531.2L1661.9,466.8L1672.5,428.9L1683.1,361.5L1693.7,453.1L1704.3,466.3L1714.9,512.2L1725.5,417.0L1736.1,379.6L1746.7,538.2L1757.3,365.9L1767.9,408.3L1778.5,452.8L1789.1,524.1L1799.7,503.5L1810.3,483.8L1820.9,481.7L1831.5,437.2L1842.1,563.5L1852.7,499.1L1863.3,350.4L1873.9,531.1L1884.5,586.3L1895.1,510.5L1905.7,566.1L1916.3,409.6L1926.9,478.4L1937.5,485.2L1948.1,441.8L1958.7,520.6L1969.3,515.0L1979.9,441.3L1990.5,444.5L2001.1,531.6L2011.7,449.2L2022.3,396.3L2032.9,467.4L2043.5,466.0L2054.1,562.3L2064.7,533.8L2075.3,409.6L2085.9,555.2L2096.5,511.9L2107.1,449.3L2117.7,595.8L2128.3,534.9L2138.9,526.2L2149.5,487.6L2160.1,531.6L2170.7,538.2L2181.3,521.3L2191.9,538.1L2202.5,571.2L2213.1,475.3"/>
<path d="M315.8,206.4L326.4,322.4L337.0,376.4L347.6,389.3L358.2,336.8L368.8,286.6L379.4,450.4L390.0,356.9L400.6,347.8L411.2,341.3L421.8,373.6L432.4,309.4L443.0,347.3L453.6,268.4L464.2,397.3L474.8,375.1L485.4,399.8L496.0,381.5L506.6,381.1L517.2,253.1L527.8,483.8L538.4,416.5L549.0,302.9L559.6,450.5L570.2,410.0L580.8,385.9L591.4,406.9L602.0,202.5L612.6,370.4L623.2,384.1L633.8,343.6L644.4,396.4L655.0,494.5L665.6,315.1L676.2,189.7L686.8,292.8L697.4,343.5L708.0,473.3L718.6,426.2L729.2,335.0L739.8,372.0L750.4,303.6L761.0,437.0L771.6,406.3L782.2,465.8L792.8,265.8L803.4,208.7L814.0,368.8L824.6,257.8L835.2,379.2L845.8,461.6L856.4,429.4L867.0,343.4L877.6,272.4L888.2,393.9L898.8,389.4L909.4,336.8L920.0,393.7L930.6,287.2L941.2,408.6L951.8,412.9L962.4,335.2L973.0,365.7L983.6,439.9L994.2,321.6L1004.8,292.4L1015.4,350.4L1026.0,388.4L1036.6,330.1L1047.2,356.3L1057.8,375.7L1068.4,251.6L1079.0,410.4L1089.6,451.5L1100.2,285.5L1110.8,398.2L1121.4,495.6L1132.0,340.6L1142.6,320.3L1153.2,249.0L1163.8,308.9L1174.4,424.2L1185.0,291.9L1195.6,368.1L1206.2,435.8L1216.8,341.5L1227.4,373.2L1238.0,342.2L1248.6,385.2L1259.1,445.3L1269.7,307.9L1280.3,428.8L1290.9,341.1L1301.5,431.1L1312.1,394.9L1322.7,358.6L1333.3,368.7L1343.9,284.6L1354.5,312.0L1365.1,400.0L1375.7,347.3L1386.3,417.7L1396.9,348.4L1407.5,303.7L1418.1,402.9L1428.7,303.2L1439.3,403.6L1449.9,334.7L1460.5,523.1L1471.1,465.9L1481.7,424.9L1492.3,499.6L1502.9,377.0L1513.5,370.4L1524.1,461.7L1534.7,476.4L1545.3,366.0L1555.9,417.1L1566.5,453.6L1577.1,387.0L1587.7,264.3L1598.3,511.6L1608.9,449.2L1619.5,312.9L1630.1,436.8L1640.7,449.8L1651.3,475.4L1661.9,425.9L1672.5,379.2L1683.1,374.3L1693.7,446.5L1704.3,379.3L1714.9,480.5L1725.5,339.8L1736.1,408.2L1746.7,464.5L1757.3,419.9L1767.9,375.4L1778.5,602.2L1789.1,373.5L1799.7,373.7L1810.3,258.7L1820.9,430.2L1831.5,494.2L1842.1,455.2L1852.7,453.5L1863.3,384.7L1873.9,371.9L1884.5,518.2L1895.1,525.1L1905.7,506.5L1916.3,521.8L1926.9,372.0L1937.5,512.7L1948.1,451.4L1958.7,432.4L1969.3,527.8L1979.9,531.8L1990.5,508.1L2001.1,454.6L2011.7,530.8L2022.3,464.4L2032.9,490.6L2043.5,510.7L2054.1,534.1L2064.7,545.4L2075.3,574.5L2085.9,436.3L2096.5,410.5L2107.1,465.4L2117.7,390.8L2128.3,542.6L2138.9,522.3L2149.5,568.1L2160.1,478.9L2170.7,582.4L2181.3,534.4L2191.9,557.9L2202.5,477.9L2213.1,468.1"/>
<path d="M315.8,453.0L326.4,302.6L337.0,327.1L347.6,304.4L358.2,339.6L368.8,277.5L379.4,447.7L390.0,308.9L400.6,282.2L411.2,481.9L421.8,354.0L432.4,355.0L443.0,417.8L453.6,370.9L464.2,270.1L474.8,247.0L485.4,439.9L496.0,436.7L506.6,392.5L517.2,379.7L527.8,304.4L538.4,397.2L549.0,286.0L559.6,422.7L570.2,432.7L580.8,451.9L591.4,381.1L602.0,233.9L612.6,387.6L623.2,523.1L633.8,490.0L644.4,426.9L655.0,443.2L665.6,257.1L676.2,465.9L686.8,360.0L697.4,416.9L708.0,346.5L718.6,329.1L729.2,442.3L739.8,389.9L750.4,294.6L761.0,347.7L771.6,317.2L782.2,271.1L792.8,295.4L803.4,308.3L814.0,318.8L824.6,321.3L835.2,358.2L845.8,395.5L856.4,421.7L867.0,352.3L877.6,285.8L888.2,402.2L898.8,427.1L909.4,348.0L920.0,288.4L930.6,384.4L941.2,369.9L951.8,276.2L962.4,298.2L973.0,346.6L983.6,399.3L994.2,369.5L1004.8,277.4L1015.4,236.5L1026.0,468.4L1036.6,413.2L1047.2,426.0L1057.8,383.0L1068.4,303.8L1079.0,455.9L1089.6,384.2L1100.2,363.4L1110.8,375.6L1121.4,482.7L1132.0,371.8L1142.6,311.6L1153.2,422.7L1163.8,370.9L1174.4,312.6L1185.0,374.8L1195.6,333.7L1206.2,467.4L1216.8,355.0L1227.4,357.7L1238.0,353.0L1248.6,347.3L1259.1,315.8L1269.7,382.9L1280.3,382.3L1290.9,394.8L1301.5,376.4L1312.1,300.7L1322.7,363.8L1333.3,385.9L1343.9,358.9L1354.5,381.3L1365.1,328.6L1375.7,374.4L1386.3,443.2L1396.9,370.8L1407.5,355.1L1418.1,492.5L1428.7,408.2L1439.3,431.7L1449.9,400.7L1460.5,460.2L1471.1,382.9L1481.7,408.5L1492.3,384.4L1502.9,403.7L1513.5,446.7L1524.1,304.0L1534.7,374.7L1545.3,457.2L1555.9,491.3L1566.5,505.7L1577.1,388.2L1587.7,519.4L1598.3,419.2L1608.9,473.4L1619.5,422.5L1630.1,444.2L1640.7,335.7L1651.3,417.2L1661.9,479.7L1672.5,399.1L1683.1,413.0L1693.7,476.2L1704.3,367.5L1714.9,419.4L1725.5,444.2L1736.1,358.3L1746.7,533.2L1757.3,316.2L1767.9,432.4L1778.5,412.4L1789.1,417.0L1799.7,436.9L1810.3,428.7L1820.9,459.4L1831.5,503.1L1842.1,505.7L1852.7,378.3L1863.3,440.1L1873.9,394.4L1884.5,499.5L1895.1,433.4L1905.7,547.7L1916.3,427.4L1926.9,495.8L1937.5,540.5L1948.1,415.2L1958.7,427.5L1969.3,525.0L1979.9,405.7L1990.5,423.7L2001.1,455.1L2011.7,533.9L2022.3,422.1L2032.9,552.2L2043.5,533.6L2054.1,503.0L2064.7,481.7L2075.3,389.3L2085.9,509.3L2096.5,515.7L2107.1,475.6L2117.7,588.7L2128.3,466.5L2138.9,568.2L2149.5,538.5L2160.1,481.3L2170.7,516.8L2181.3,420.7L2191.9,520.7L2202.5,487.5L2213.1,555.5"/>
<path d="M315.8,316.3L326.4,388.4L337.0,320.9L347.6,508.6L358.2,358.5L368.8,347.1L379.4,391.5L390.0,267.0L400.6,272.0L411.2,343.4L421.8,274.0L432.4,261.4L443.0,333.9L453.6,368.0L464.2,427.3L474.8,178.2L485.4,213.4L496.0,312.1L506.6,309.6L517.2,347.2L527.8,425.4L538.4,426.4L549.0,400.7L559.6,227.3L570.2,421.0L580.8,429.6L591.4,428.6L602.0,416.8L612.6,373.1L623.2,383.9L633.8,370.0L644.4,336.6L655.0,415.7L665.6,306.8L676.2,340.4L686.8,357.5L697.4,397.6L708.0,400.5L718.6,468.6L729.2,391.1L739.8,294.7L750.4,331.7L761.0,585.4L771.6,248.9L782.2,347.8L792.8,384.3L803.4,471.1L814.0,208.0L824.6,387.7L835.2,327.6L845.8,290.6L856.4,280.8L867.0,278.9L877.6,384.1L888.2,403.5L898.8,527.0L909.4,359.1L920.0,365.1L930.6,435.4L941.2,505.0L951.8,344.8L962.4,335.9L973.0,334.7L983.6,336.5L994.2,367.2L1004.8,296.3L1015.4,187.2L1026.0,407.2L1036.6,356.4L1047.2,294.8L1057.8,336.6L1068.4,273.4L1079.0,355.7L1089.6,280.5L1100.2,294.3L1110.8,356.8L1121.4,332.5L1132.0,327.9L1142.6,306.9L1153.2,256.7L1163.8,308.8L1174.4,242.1L1185.0,263.8L1195.6,272.0L1206.2,430.8L1216.8,335.6L1227.4,379.0L1238.0,353.7L1248.6,373.8L1259.1,339.2L1269.7,381.8L1280.3,416.4L1290.9,430.2L1301.5,448.6L1312.1,294.0L1322.7,323.5L1333.3,339.9L1343.9,244.7L1354.5,436.4L1365.1,439.0L1375.7,284.3L1386.3,271.1L1396.9,375.2L1407.5,273.6L1418.1,435.1L1428.7,479.4L1439.3,464.7L1449.9,375.4L1460.5,351.4L1471.1,145.6L1481.7,340.0L1492.3,488.8L1502.9,373.9L1513.5,263.2L1524.1,439.4L1534.7,355.3L1545.3,396.9L1555.9,389.1L1566.5,452.8L1577.1,410.0L1587.7,554.8L1598.3,451.4L1608.9,362.1L1619.5,411.2L1630.1,400.4L1640.7,352.2L1651.3,414.0L1661.9,352.4L1672.5,423.6L1683.1,446.8L1693.7,477.8L1704.3,390.9L1714.9,372.2L1725.5,412.4L1736.1,425.3L1746.7,427.8L1757.3,494.4L1767.9,560.0L1778.5,522.3L1789.1,445.7L1799.7,391.3L1810.3,520.0L1820.9,445.1L1831.5,500.9L1842.1,466.7L1852.7,452.8L1863.3,408.6L1873.9,558.2L1884.5,460.7L1895.1,466.6L1905.7,442.9L1916.3,462.2L1926.9,497.6L1937.5,449.9L1948.1,469.3L1958.7,471.3L1969.3,483.0L1979.9,447.8L1990.5,473.5L2001.1,512.3L2011.7,378.1L2022.3,578.8L2032.9,553.8L2043.5,530.0L2054.1,425.4L2064.7,548.2L2075.3,471.9L2085.9,545.0L2096.5,566.1L2107.1,525.2L2117.7,446.8L2128.3,513.0L2138.9,490.6L2149.5,512.4L2160.1,470.4L2170.7,529.8L2181.3,515.3L2191.9,583.2L2202.5,476.4L2213.1,444.8"/>
<path d="M315.8,443.9L326.4,340.1L337.0,140.1L347.6,230.8L358.2,310.8L368.8,455.3L379.4,503.4L390.0,395.6L400.6,314.8L411.2,429.0L421.8,520.8L432.4,424.5L443.0,433.3L453.6,394.5L464.2,444.0L474.8,381.0L485.4,330.7L496.0,420.0L506.6,316.3L517.2,384.4L527.8,384.3L538.4,349.6L549.0,287.5L559.6,329.9L570.2,331.0L580.8,366.0L591.4,279.4L602.0,401.6L612.6,403.3L623.2,350.4L633.8,381.8L644.4,409.6L655.0,386.1L665.6,387.0L676.2,511.7L686.8,375.5L697.4,411.4L708.0,347.3L718.6,501.5L729.2,393.3L739.8,420.7L750.4,377.5L761.0,533.9L771.6,229.5L782.2,343.6L792.8,386.8L803.4,288.8L814.0,421.1L824.6,430.5L835.2,307.9L845.8,299.4L856.4,308.0L867.0,378.9L877.6,373.5L888.2,342.5L898.8,483.0L909.4,334.4L920.0,310.0L930.6,428.9L941.2,313.6L951.8,369.2L962.4,421.2L973.0,356.5L983.6,399.9L994.2,365.9L1004.8,303.3L1015.4,358.2L1026.0,383.1L1036.6,250.5L1047.2,314.3L1057.8,462.6L1068.4,389.2L1079.0,212.3L1089.6,363.3L1100.2,321.7L1110.8,409.2L1121.4,411.8L1132.0,383.3L1142.6,367.4L1153.2,255.2L1163.8,375.7L1174.4,462.7L1185.0,375.7L1195.6,416.0L1206.2,332.6L1216.8,328.1L1227.4,362.2L1238.0,446.4L1248.6,462.6L1259.1,352.1L1269.7,394.1L1280.3,349.4L1290.9,218.9L1301.5,375.8L1312.1,311.1L1322.7,330.9L1333.3,370.9L1343.9,418.0L1354.5,391.8L1365.1,320.1L1375.7,407.9L1386.3,418.2L1396.9,411.2L1407.5,442.4L1418.1,393.3L1428.7,384.6L1439.3,381.2L1449.9,415.0L1460.5,409.3L1471.1,429.5L1481.7,443.3L1492.3,418.1L1502.9,417.8L1513.5,362.8L1524.1,358.5L1534.7,448.8L1545.3,401.8L1555.9,413.8L1566.5,376.8L1577.1,401.8L1587.7,438.3L1598.3,404.0L1608.9,443.1L1619.5,488.9L1630.1,479.6L1640.7,458.7L1651.3,328.3L1661.9,562.3L1672.5,406.1L1683.1,297.1L1693.7,442.5L1704.3,313.7L1714.9,408.4L1725.5,479.4L1736.1,278.0L1746.7,515.9L1757.3,457.7L1767.9,510.3L1778.5,465.7L1789.1,448.5L1799.7,475.3L1810.3,502.4L1820.9,473.0L1831.5,415.1L1842.1,421.5L1852.7,461.3L1863.3,452.7L1873.9,399.2L1884.5,501.3L1895.1,597.8L1905.7,502.9L1916.3,580.5L1926.9,533.9L1937.5,423.7L1948.1,501.9L1958.7,442.8L1969.3,482.7L1979.9,578.2L1990.5,517.6L2001.1,463.9L2011.7,535.8L2022.3,544.5L2032.9,478.1L2043.5,467.7L2054.1,593.4L2064.7,470.7L2075.3,494.7L2085.9,481.1L2096.5,589.8L2107.1,514.8L2117.7,401.9L2128.3,540.4L2138.9,539.2L2149.5,467.6L2160.1,417.6L2170.7,560.3L2181.3,450.6L2191.9,516.2L2202.5,549.5L2213.1,541.1"/>
<path d="M315.8,461.9L326.4,355.3L337.0,281.4L347.6,226.6L358.2,392.1L368.8,400.1L379.4,145.6L390.0,363.7L400.6,318.1L411.2,388.6L421.8,107.9L432.4,402.4L443.0,321.1L453.6,317.1L464.2,395.5L474.8,370.3L485.4,392.8L496.0,335.4L506.6,466.3L517.2,369.0L527.8,494.8L538.4,351.1L549.0,338.0L559.6,417.8L570.2,381.5L580.8,528.2L591.4,297.9L602.0,440.0L612.6,338.7L623.2,309.3L633.8,404.6L644.4,455.0L655.0,413.3L665.6,268.3L676.2,315.4L686.8,397.5L697.4,270.0L708.0,451.9L718.6,272.2L729.2,393.1L739.8,427.4L750.4,436.5L761.0,428.6L771.6,362.4L782.2,336.6L792.8,387.1L803.4,347.6L814.0,239.2L824.6,445.1L835.2,407.7L845.8,384.7L856.4,407.4L867.0,437.8L877.6,376.5L888.2,292.4L898.8,423.5L909.4,430.2L920.0,388.3L930.6,423.8L941.2,348.4L951.8,366.9L962.4,332.2L973.0,414.3L983.6,275.1L994.2,413.1L1004.8,329.1L1015.4,372.2L1026.0,389.3L1036.6,242.1L1047.2,302.7L1057.8,376.3L1068.4,250.1L1079.0,428.4L1089.6,327.1L1100.2,364.8L1110.8,343.5L1121.4,440.7L1132.0,342.7L1142.6,379.7L1153.2,361.1L1163.8,356.8L1174.4,371.2L1185.0,349.1L1195.6,380.8L1206.2,332.1L1216.8,328.3L1227.4,375.2L1238.0,314.4L1248.6,445.6L1259.1,388.6L1269.7,304.1L1280.3,503.8L1290.9,421.8L1301.5,456.4L1312.1,394.4L1322.7,350.8L1333.3,407.7L1343.9,341.9L1354.5,449.8L1365.1,354.0L1375.7,404.3L1386.3,369.8L1396.9,366.5L1407.5,398.5L1418.1,459.6L1428.7,294.9L1439.3,468.4L1449.9,447.0L1460.5,433.4L1471.1,385.0L1481.7,442.7L1492.3,537.2L1502.9,365.4L1513.5,487.8L1524.1,478.5L1534.7,325.9L1545.3,455.6L1555.9,414.3L1566.5,430.8L1577.1,398.0L1587.7,415.4L1598.3,464.0L1608.9,330.5L1619.5,433.8L1630.1,364.4L1640.7,411.9L1651.3,477.6L1661.9,386.9L1672.5,470.0L1683.1,460.7L1693.7,489.4L1704.3,456.1L1714.9,564.1L1725.5,502.8L1736.1,459.7L1746.7,250.4L1757.3,417.6L1767.9,449.3L1778.5,448.4L1789.1,406.0L1799.7,382.3L1810.3,351.0L1820.9,535.8L1831.5,417.4L1842.1,588.9L1852.7,430.2L1863.3,467.4L1873.9,487.5L1884.5,426.8L1895.1,366.2L1905.7,389.2L1916.3,458.3L1926.9,586.1L1937.5,483.1L1948.1,566.3L1958.7,616.4L1969.3,458.2L1979.9,445.2L1990.5,449.1L2001.1,492.7L2011.7,458.6L2022.3,488.9L2032.9,577.9L2043.5,468.3L2054.1,481.4L2064.7,541.7L2075.3,512.3L2085.9,396.6L2096.5,536.7L2107.1,523.0L2117.7,460.5L2128.3,564.5L2138.9,482.2L2149.5,501.5L2160.1,504.4L2170.7,549.7L2181.3,471.3L2191.9,500.7L2202.5,553.2L2213.1,425.3"/>
<path d="M315.8,404.5L326.4,279.7L337.0,258.0L347.6,284.9L358.2,368.5L368.8,415.3L379.4,427.4L390.0,309.6L400.6,484.7L411.2,355.9L421.8,249.2L432.4,367.9L443.0,245.9L453.6,204.7L464.2,315.5L474.8,301.0L485.4,303.1L496.0,345.0L506.6,423.1L517.2,101.0L527.8,297.3L538.4,261.7L549.0,321.3L559.6,298.6L570.2,269.9L580.8,418.3L591.4,324.4L602.0,420.0L612.6,409.1L623.2,333.2L633.8,539.7L644.4,471.9L655.0,330.2L665.6,395.4L676.2,369.6L686.8,511.3L697.4,407.4L708.0,351.1L718.6,61.5L729.2,368.3L739.8,191.3L750.4,344.4L761.0,321.1L771.6,331.2L782.2,540.2L792.8,380.8L803.4,337.2L814.0,400.2L824.6,397.2L835.2,292.8L845.8,280.0L856.4,352.5L867.0,447.9L877.6,418.3L888.2,493.1L898.8,317.4L909.4,466.4L920.0,342.3L930.6,256.7L941.2,208.0L951.8,398.7L962.4,343.1L973.0,327.0L983.6,314.0L994.2,454.5L1004.8,360.8L1015.4,256.9L1026.0,387.4L1036.6,529.6L1047.2,272.8L1057.8,262.1L1068.4,384.2L1079.0,306.8L1089.6,363.7L1100.2,422.2L1110.8,320.2L1121.4,288.8L1132.0,410.3L1142.6,348.3L1153.2,390.5L1163.8,304.3L1174.4,267.7L1185.0,442.3L1195.6,455.5L1206.2,302.2L1216.8,308.4L1227.4,423.1L1238.0,327.4L1248.6,408.5L1259.1,366.2L1269.7,420.4L1280.3,277.6L1290.9,444.6L1301.5,305.3L1312.1,380.4L1322.7,336.1L1333.3,292.1L1343.9,355.3L1354.5,400.4L1365.1,438.7L1375.7,355.4L1386.3,286.2L1396.9,402.5L1407.5,431.2L1418.1,528.4L1428.7,287.2L1439.3,352.2L1449.9,390.1L1460.5,401.8L1471.1,525.9L1481.7,429.8L1492.3,475.4L1502.9,470.9L1513.5,409.4L1524.1,461.4L1534.7,416.4L1545.3,364.0L1555.9,421.3L1566.5,468.5L1577.1,443.9L1587.7,378.5L1598.3,356.6L1608.9,423.7L1619.5,411.8L1630.1,365.8L1640.7,454.4L1651.3,384.0L1661.9,407.4L1672.5,421.6L1683.1,384.8L1693.7,414.8L1704.3,516.1L1714.9,388.1L1725.5,285.2L1736.1,406.2L1746.7,427.3L1757.3,412.7L1767.9,367.0L1778.5,483.8L1789.1,452.5L1799.7,457.6L1810.3,575.6L1820.9,409.3L1831.5,393.7L1842.1,464.4L1852.7,456.9L1863.3,453.8L1873.9,466.6L1884.5,422.3L1895.1,458.5L1905.7,414.9L1916.3,469.7L1926.9,485.7L1937.5,581.2L1948.1,525.4L1958.7,432.2L1969.3,538.5L1979.9,432.9L1990.5,548.8L2001.1,462.4L2011.7,460.2L2022.3,429.1L2032.9,482.7L2043.5,541.7L2054.1,424.3L2064.7,501.3L2075.3,478.1L2085.9,497.3L2096.5,549.8L2107.1,446.9L2117.7,505.6L2128.3,552.5L2138.9,588.3L2149.5,522.6L2160.1,578.4L2170.7,563.2L2181.3,508.6L2191.9,481.5L2202.5,471.1L2213.1,535.6"/>
<path d="M315.8,491.7L326.4,348.5L337.0,174.5L347.6,328.4L358.2,359.0L368.8,75.0L379.4,246.8L390.0,227.1L400.6,506.1L411.2,374.2L421.8,333.2L432.4,336.2L443.0,454.7L453.6,176.0L464.2,406.9L474.8,492.5L485.4,298.4L496.0,351.9L506.6,393.4L517.2,541.1L527.8,484.0L538.4,350.6L549.0,246.2L559.6,327.3L570.2,341.2L580.8,387.7L591.4,239.7L602.0,321.4L612.6,299.9L623.2,319.1L633.8,352.1L644.4,401.0L655.0,449.3L665.6,350.3L676.2,305.9L686.8,356.1L697.4,290.5L708.0,404.5L718.6,393.1L729.2,386.0L739.8,225.8L750.4,287.4L761.0,405.2L771.6,428.5L782.2,469.5L792.8,453.0L803.4,388.5L814.0,444.2L824.6,324.4L835.2,504.8L845.8,440.0L856.4,334.6L867.0,437.1L877.6,335.5L888.2,514.7L898.8,374.0L909.4,373.7L920.0,382.7L930.6,243.1L941.2,401.5L951.8,408.4L962.4,375.3L973.0,282.9L983.6,387.0L994.2,361.3L1004.8,323.7L1015.4,311.2L1026.0,384.9L1036.6,419.2L1047.2,487.9L1057.8,413.7L1068.4,315.8L1079.0,394.8L1089.6,338.8L1100.2,267.4L1110.8,238.2L1121.4,447.5L1132.0,317.9L1142.6,397.7L1153.2,410.7L1163.8,239.4L1174.4,448.5L1185.0,467.3L1195.6,439.7L1206.2,376.7L1216.8,332.6L1227.4,401.5L1238.0,366.2L1248.6,429.3L1259.1,313.2L1269.7,336.5L1280.3,320.9L1290.9,343.0L1301.5,322.8L1312.1,408.9L1322.7,447.8L1333.3,434.9L1343.9,360.8L1354.5,439.7L1365.1,332.3L1375.7,403.6L1386.3,422.0L1396.9,308.1L1407.5,395.5L1418.1,298.7L1428.7,501.8L1439.3,424.9L1449.9,406.9L1460.5,405.0L1471.1,386.9L1481.7,377.9L1492.3,512.8L1502.9,306.2L1513.5,465.8L1524.1,448.3L1534.7,389.1L1545.3,441.2L1555.9,445.3L1566.5,380.9L1577.1,391.7L1587.7,476.1L1598.3,453.2L1608.9,461.1L1619.5,421.0L1630.1,485.7L1640.7,393.1L1651.3,494.5L1661.9,424.3L1672.5,395.7L1683.1,485.2L1693.7,425.0L1704.3,459.2L1714.9,465.7L1725.5,402.3L1736.1,385.3L1746.7,444.1L1757.3,393.6L1767.9,461.9L1778.5,572.0L1789.1,439.4L1799.7,418.3L1810.3,493.8L1820.9,397.1L1831.5,460.2L1842.1,476.5L1852.7,489.2L1863.3,469.1L1873.9,498.4L1884.5,359.5L1895.1,393.7L1905.7,528.1L1916.3,463.2L1926.9,456.1L1937.5,404.3L1948.1,496.7L1958.7,412.8L1969.3,518.4L1979.9,435.7L1990.5,569.6L2001.1,327.2L2011.7,394.5L2022.3,504.6L2032.9,465.1L2043.5,489.7L2054.1,497.9L2064.7,384.6L2075.3,547.1L2085.9,558.2L2096.5,427.1L2107.1,491.5L2117.7,549.2L2128.3,517.1L2138.9,472.7L2149.5,556.8L2160.1,534.0L2170.7,537.1L2181.3,617.8L2191.9,506.2L2202.5,496.1L2213.1,504.7"/>
<path d="M315.8,301.4L326.4,267.0L337.0,347.5L347.6,228.3L358.2,221.6L368.8,385.8L379.4,270.6L390.0,314.8L400.6,306.5L411.2,276.8L421.8,358.1L432.4,274.2L443.0,333.2L453.6,373.6L464.2,381.9L474.8,259.1L485.4,386.1L496.0,284.0L506.6,462.7L517.2,274.6L527.8,507.3L538.4,522.0L549.0,331.7L559.6,304.6L570.2,227.1L580.8,437.2L591.4,434.2L602.0,425.3L612.6,456.5L623.2,319.7L633.8,282.9L644.4,378.6L655.0,438.0L665.6,354.1L676.2,350.8L686.8,207.7L697.4,268.4L708.0,412.8L718.6,190.5L729.2,489.9L739.8,366.4L750.4,275.5L761.0,577.3L771.6,394.1L782.2,335.5L792.8,520.1L803.4,343.2L814.0,343.0L824.6,291.7L835.2,352.3L845.8,376.1L856.4,362.9L867.0,413.0L877.6,415.8L888.2,369.2L898.8,291.3L909.4,490.1L920.0,396.2L930.6,498.8L941.2,442.9L951.8,325.0L962.4,403.2L973.0,410.2L983.6,332.4L994.2,323.3L1004.8,266.6L1015.4,205.5L1026.0,389.0L1036.6,306.8L1047.2,473.9L1057.8,254.8L1068.4,251.9L1079.0,524.5L1089.6,415.2L1100.2,302.5L1110.8,348.7L1121.4,398.3L1132.0,376.8L1142.6,388.5L1153.2,368.0L1163.8,344.7L1174.4,306.7L1185.0,445.8L1195.6,427.1L1206.2,316.1L1216.8,380.7L1227.4,337.1L1238.0,439.8L1248.6,352.2L1259.1,402.0L1269.7,317.6L1280.3,405.1L1290.9,405.1L1301.5,227.6L1312.1,371.3L1322.7,359.5L1333.3,385.8L1343.9,358.9L1354.5,465.0L1365.1,416.6L1375.7,325.7L1386.3,353.3L1396.9,392.3L1407.5,390.6L1418.1,372.1L1428.7,414.1L1439.3,394.5L1449.9,381.3L1460.5,393.3L1471.1,404.5L1481.7,380.6L1492.3,422.7L1502.9,366.5L1513.5,359.2L1524.1,508.1L1534.7,309.7L1545.3,309.1L1555.9,462.5L1566.5,390.3L1577.1,330.6L1587.7,491.5L1598.3,475.6L1608.9,454.8L1619.5,350.4L1630.1,422.2L1640.7,403.1L1651.3,367.2L1661.9,364.5L1672.5,452.2L1683.1,398.9L1693.7,545.3L1704.3,321.7L1714.9,535.1L1725.5,462.9L1736.1,461.8L1746.7,414.9L1757.3,389.7L1767.9,472.7L1778.5,385.7L1789.1,510.2L1799.7,477.6L1810.3,387.4L1820.9,382.0L1831.5,454.2L1842.1,353.5L1852.7,433.5L1863.3,489.8L1873.9,444.8L1884.5,505.7L1895.1,555.0L1905.7,379.4L1916.3,444.1L1926.9,485.9L1937.5,516.9L1948.1,535.4L1958.7,432.3L1969.3,499.3L1979.9,463.5L1990.5,495.0L2001.1,443.9L2011.7,410.9L2022.3,489.1L2032.9,552.3L2043.5,592.6L2054.1,553.7L2064.7,481.5L2075.3,460.9L2085.9,458.2L2096.5,438.7L2107.1,446.4L2117.7,449.8L2128.3,587.7L2138.9,386.1L2149.5,491.9L2160.1,399.8L2170.7,575.9L2181.3,466.1L2191.9,554.1L2202.5,457.5L2213.1,473.8"/>
<path d="M315.8,333.2L326.4,145.7L337.0,376.2L347.6,319.7L358.2,510.9L368.8,326.8L379.4,362.1L390.0,430.7L400.6,426.5L411.2,385.1L421.8,376.3L432.4,425.2L443.0,464.6L453.6,344.4L464.2,404.4L474.8,310.2L485.4,416.6L496.0,408.9L506.6,311.5L517.2,151.4L527.8,383.9L538.4,321.2L549.0,328.1L559.6,274.4L570.2,332.7L580.8,368.8L591.4,411.4L602.0,453.6L612.6,265.7L623.2,418.8L633.8,372.8L644.4,336.9L655.0,450.1L665.6,338.1L676.2,294.6L686.8,381.9L697.4,306.7L708.0,300.5L718.6,601.9L729.2,421.1L739.8,251.1L750.4,231.5L761.0,366.7L771.6,266.4L782.2,363.0L792.8,394.0L803.4,326.8L814.0,427.1L824.6,256.4L835.2,390.6L845.8,359.2L856.4,355.7L867.0,409.0L877.6,474.4L888.2,345.4L898.8,391.3L909.4,409.0L920.0,336.7L930.6,416.6L941.2,400.8L951.8,357.5L962.4,494.7L973.0,402.9L983.6,436.6L994.2,400.7L1004.8,365.8L1015.4,326.4L1026.0,412.6L1036.6,269.9L1047.2,307.7L1057.8,176.4L1068.4,398.2L1079.0,475.4L1089.6,326.5L1100.2,310.1L1110.8,357.4L1121.4,345.9L1132.0,385.5L1142.6,360.7L1153.2,358.1L1163.8,387.9L1174.4,409.1L1185.0,255.5L1195.6,297.9L1206.2,404.0L1216.8,459.6L1227.4,417.7L1238.0,497.4L1248.6,243.9L1259.1,366.5L1269.7,378.6L1280.3,457.4L1290.9,396.1L1301.5,311.1L1312.1,418.2L1322.7,288.7L1333.3,534.7L1343.9,415.1L1354.5,370.9L1365.1,342.3L1375.7,441.7L1386.3,323.9L1396.9,355.7L1407.5,427.4L1418.1,381.2L1428.7,428.0L1439.3,382.8L1449.9,377.1L1460.5,359.4L1471.1,441.2L1481.7,362.0L1492.3,370.2L1502.9,455.6L1513.5,415.0L1524.1,403.8L1534.7,414.8L1545.3,371.8L1555.9,390.0L1566.5,392.1L1577.1,351.2L1587.7,472.3L1598.3,425.1L1608.9,396.3L1619.5,316.7L1630.1,412.6L1640.7,498.5L1651.3,344.9L1661.9,332.2L1672.5,468.3L1683.1,375.2L1693.7,418.3L1704.3,445.9L1714.9,488.7L1725.5,510.5L1736.1,417.5L1746.7,404.6L1757.3,438.5L1767.9,461.6L1778.5,447.9L1789.1,460.2L1799.7,512.2L1810.3,337.7L1820.9,429.5L1831.5,497.4L1842.1,525.2L1852.7,495.4L1863.3,455.2L1873.9,485.1L1884.5,438.9L1895.1,532.6L1905.7,475.7L1916.3,408.9L1926.9,457.1L1937.5,401.2L1948.1,555.9L1958.7,573.5L1969.3,351.4L1979.9,484.7L1990.5,471.0L2001.1,502.6L2011.7,529.4L2022.3,455.0L2032.9,460.0L2043.5,472.6L2054.1,493.6L2064.7,667.6L2075.3,578.9L2085.9,473.6L2096.5,508.1L2107.1,415.8L2117.7,482.3L2128.3,556.9L2138.9,559.7L2149.5,540.6L2160.1,474.9L2170.7,502.1L2181.3,584.2L2191.9,542.1L2202.5,626.6L2213.1,528.1"/>
<path d="M315.8,478.5L326.4,369.0L337.0,338.4L347.6,157.9L358.2,324.7L368.8,415.3L379.4,360.8L390.0,454.7L400.6,317.9L411.2,311.7L421.8,301.5L432.4,328.1L443.0,452.4L453.6,351.9L464.2,239.8L474.8,356.1L485.4,444.9L496.0,264.3L506.6,270.0L517.2,290.2L527.8,435.5L538.4,352.6L549.0,313.7L559.6,439.6L570.2,386.4L580.8,395.6L591.4,464.7L602.0,321.0L612.6,417.9L623.2,405.9L633.8,431.6L644.4,383.2L655.0,409.6L665.6,350.9L676.2,445.3L686.8,402.0L697.4,365.9L708.0,314.8L718.6,319.3L729.2,419.1L739.8,287.4L750.4,387.2L761.0,357.0L771.6,379.2L782.2,274.2L792.8,370.2L803.4,392.2L814.0,416.9L824.6,358.6L835.2,465.7L845.8,366.5L856.4,484.1L867.0,243.7L877.6,321.8L888.2,322.2L898.8,554.6L909.4,316.1L920.0,375.8L930.6,337.4L941.2,407.3L951.8,441.8L962.4,470.3L973.0,347.2L983.6,387.0L994.2,426.3L1004.8,456.0L1015.4,397.1L1026.0,358.1L1036.6,440.2L1047.2,385.2L1057.8,304.6L1068.4,350.3L1079.0,297.6L1089.6,346.6L1100.2,366.1L1110.8,198.5L1121.4,402.9L1132.0,326.0L1142.6,297.9L1153.2,367.9L1163.8,341.8L1174.4,427.4L1185.0,344.0L1195.6,423.3L1206.2,338.9L1216.8,358.9L1227.4,324.5L1238.0,352.1L1248.6,285.7L1259.1,383.6L1269.7,398.0L1280.3,480.4L1290.9,261.9L1301.5,327.5L1312.1,451.0L1322.7,430.0L1333.3,366.1L1343.9,347.1L1354.5,363.4L1365.1,329.8L1375.7,311.4L1386.3,396.1L1396.9,381.3L1407.5,416.8L1418.1,356.1L1428.7,416.8L1439.3,474.0L1449.9,490.3L1460.5,352.9L1471.1,492.7L1481.7,463.8L1492.3,308.3L1502.9,458.9L1513.5,477.2L1524.1,353.2L1534.7,409.4L1545.3,436.1L1555.9,409.3L1566.5,464.7L1577.1,461.4L1587.7,433.3L1598.3,374.1L1608.9,469.8L1619.5,383.2L1630.1,316.9L1640.7,408.6L1651.3,460.7L1661.9,469.5L1672.5,368.6L1683.1,434.5L1693.7,444.7L1704.3,369.1L1714.9,477.8L1725.5,361.0L1736.1,461.5L1746.7,382.5L1757.3,393.7L1767.9,472.3L1778.5,538.7L1789.1,377.0L1799.7,356.2L1810.3,429.7L1820.9,369.9L1831.5,509.4L1842.1,432.8L1852.7,365.7L1863.3,529.8L1873.9,473.3L1884.5,508.1L1895.1,506.2L1905.7,465.4L1916.3,336.7L1926.9,459.0L1937.5,496.7L1948.1,501.3L1958.7,393.3L1969.3,550.0L1979.9,453.7L1990.5,450.1L2001.1,489.6L2011.7,616.1L2022.3,482.8L2032.9,510.6L2043.5,599.5L2054.1,531.4L2064.7,534.9L2075.3,612.5L2085.9,489.5L2096.5,523.8L2107.1,515.4L2117.7,489.0L2128.3,468.6L2138.9,521.9L2149.5,505.3L2160.1,427.8L2170.7,539.8L2181.3,492.2L2191.9,462.8L2202.5,488.8L2213.1,518.6"/>
<path d="M315.8,412.7L326.4,387.6L337.0,503.3L347.6,443.9L358.2,208.7L368.8,303.0L379.4,343.1L390.0,379.4L400.6,331.0L411.2,343.4L421.8,317.9L432.4,414.0L443.0,393.2L453.6,509.1L464.2,305.4L474.8,318.2L485.4,359.9L496.0,246.5L506.6,369.1L517.2,405.5L527.8,382.2L538.4,505.8L549.0,402.5L559.6,243.9L570.2,257.9L580.8,441.1L591.4,487.2L602.0,339.9L612.6,344.8L623.2,342.8L633.8,406.7L644.4,424.2L655.0,310.5L665.6,368.0L676.2,323.8L686.8,392.5L697.4,309.9L708.0,428.6L718.6,458.6L729.2,441.5L739.8,457.8L750.4,369.9L761.0,287.9L771.6,441.4L782.2,355.6L792.8,238.4L803.4,240.8L814.0,331.8L824.6,450.4L835.2,413.0L845.8,497.5L856.4,404.4L867.0,319.2L877.6,325.8L888.2,360.4L898.8,322.2L909.4,300.1L920.0,276.1L930.6,174.3L941.2,409.6L951.8,306.5L962.4,350.8L973.0,284.8L983.6,300.4L994.2,397.8L1004.8,214.5L1015.4,329.0L1026.0,289.1L1036.6,385.4L1047.2,364.3L1057.8,345.7L1068.4,411.2L1079.0,318.3L1089.6,478.9L1100.2,248.1L1110.8,358.2L1121.4,323.5L1132.0,272.0L1142.6,311.8L1153.2,425.2L1163.8,286.9L1174.4,302.3L1185.0,325.2L1195.6,312.4L1206.2,348.4L1216.8,408.4L1227.4,393.0L1238.0,318.6L1248.6,263.7L1259.1,417.6L1269.7,386.9L1280.3,372.7L1290.9,320.4L1301.5,358.6L1312.1,483.1L1322.7,407.4L1333.3,385.6L1343.9,412.3L1354.5,372.5L1365.1,384.4L1375.7,332.9L1386.3,472.2L1396.9,346.9L1407.5,438.1L1418.1,418.2L1428.7,404.8L1439.3,407.1L1449.9,405.2L1460.5,398.9L1471.1,400.5L1481.7,513.6L1492.3,414.4L1502.9,429.5L1513.5,422.9L1524.1,466.5L1534.7,407.0L1545.3,476.4L1555.9,408.2L1566.5,281.9L1577.1,361.4L1587.7,518.6L1598.3,408.7L1608.9,365.7L1619.5,376.8L1630.1,445.9L1640.7,390.2L1651.3,491.7L1661.9,345.3L1672.5,434.7L1683.1,364.1L1693.7,396.8L1704.3,376.7L1714.9,375.2L1725.5,403.5L1736.1,346.2L1746.7,450.7L1757.3,460.7L1767.9,465.1L1778.5,520.4L1789.1,377.1L1799.7,485.2L1810.3,440.0L1820.9,414.3L1831.5,543.7L1842.1,496.6L1852.7,535.3L1863.3,429.7L1873.9,475.4L1884.5,428.4L1895.1,570.3L1905.7,366.4L1916.3,426.6L1926.9,551.0L1937.5,563.4L1948.1,503.5L1958.7,519.4L1969.3,524.3L1979.9,401.9L1990.5,490.5L2001.1,439.4L2011.7,489.1L2022.3,445.4L2032.9,553.6L2043.5,448.3L2054.1,495.4L2064.7,496.2L2075.3,613.6L2085.9,543.6L2096.5,535.3L2107.1,552.8L2117.7,490.6L2128.3,498.8L2138.9,417.2L2149.5,491.1L2160.1,499.4L2170.7,607.3L2181.3,448.5L2191.9,540.4L2202.5,552.9L2213.1,492.8"/>
<path d="M315.8,413.4L326.4,391.4L337.0,252.7L347.6,396.9L358.2,387.9L368.8,419.6L379.4,383.7L390.0,218.6L400.6,423.0L411.2,144.6L421.8,266.5L432.4,421.6L443.0,347.0L453.6,474.9L464.2,475.4L474.8,301.6L485.4,321.5L496.0,364.2L506.6,327.9L517.2,506.6L527.8,359.7L538.4,293.0L549.0,419.6L559.6,375.5L570.2,428.5L580.8,420.7L591.4,332.1L602.0,290.4L612.6,410.0L623.2,446.2L633.8,309.3L644.4,322.9L655.0,546.7L665.6,417.3L676.2,293.1L686.8,156.9L697.4,368.1L708.0,327.3L718.6,493.0L729.2,455.3L739.8,454.6L750.4,377.2L761.0,379.3L771.6,213.3L782.2,394.6L792.8,343.9L803.4,226.1L814.0,306.1L824.6,349.1L835.2,395.3L845.8,375.9L856.4,333.1L867.0,352.1L877.6,324.1L888.2,493.8L898.8,232.7L909.4,229.4L920.0,346.6L930.6,421.1L941.2,427.1L951.8,432.8L962.4,470.9L973.0,333.9L983.6,325.4L994.2,288.0L1004.8,443.7L1015.4,470.7L1026.0,329.4L1036.6,343.3L1047.2,382.5L1057.8,176.8L1068.4,253.1L1079.0,227.5L1089.6,277.4L1100.2,340.5L1110.8,185.8L1121.4,383.4L1132.0,509.3L1142.6,361.3L1153.2,432.0L1163.8,348.6L1174.4,308.8L1185.0,363.7L1195.6,383.9L1206.2,274.3L1216.8,229.1L1227.4,521.5L1238.0,326.1L1248.6,340.5L1259.1,278.0L1269.7,374.6L1280.3,547.1L1290.9,217.2L1301.5,284.0L1312.1,463.9L1322.7,416.5L1333.3,414.7L1343.9,423.5L1354.5,303.8L1365.1,425.8L1375.7,500.6L1386.3,420.1L1396.9,384.2L1407.5,404.5L1418.1,305.8L1428.7,467.4L1439.3,337.1L1449.9,278.5L1460.5,362.4L1471.1,442.7L1481.7,408.3L1492.3,476.9L1502.9,379.6L1513.5,480.7L1524.1,395.2L1534.7,499.4L1545.3,325.0L1555.9,393.0L1566.5,415.8L1577.1,450.4L1587.7,457.5L1598.3,463.1L1608.9,457.4L1619.5,432.5L1630.1,400.6L1640.7,489.7L1651.3,479.7L1661.9,357.6L1672.5,490.8L1683.1,479.9L1693.7,530.7L1704.3,518.3L1714.9,460.3L1725.5,438.7L1736.1,495.3L1746.7,317.7L1757.3,466.1L1767.9,488.2L1778.5,517.9L1789.1,334.7L1799.7,443.3L1810.3,427.9L1820.9,436.7L1831.5,436.9L1842.1,578.6L1852.7,507.4L1863.3,408.6L1873.9,407.7L1884.5,459.2L1895.1,499.7L1905.7,467.8L1916.3,445.0L1926.9,500.6L1937.5,526.9L1948.1,432.0L1958.7,362.2L1969.3,403.3L1979.9,539.3L1990.5,589.9L2001.1,459.3L2011.7,410.8L2022.3,400.2L2032.9,392.8L2043.5,505.3L2054.1,564.8L2064.7,579.3L2075.3,407.3L2085.9,491.4L2096.5,640.5L2107.1,400.9L2117.7,596.9L2128.3,430.5L2138.9,509.7L2149.5,516.4L2160.1,544.3L2170.7,561.2L2181.3,525.0L2191.9,524.0L2202.5,613.3L2213.1,602.3"/>
<path d="M315.8,227.1L326.4,219.6L337.0,322.8L347.6,398.9L358.2,334.0L368.8,309.8L379.4,396.3L390.0,274.0L400.6,334.7L411.2,383.7L421.8,253.1L432.4,398.5L443.0,350.8L453.6,346.9L464.2,299.1L474.8,360.0L485.4,256.8L496.0,385.5L506.6,380.7L517.2,420.6L527.8,352.4L538.4,435.3L549.0,218.7L559.6,289.6L570.2,349.7L580.8,326.7L591.4,436.5L602.0,381.4L612.6,274.8L623.2,311.1L633.8,372.5L644.4,320.1L655.0,351.3L665.6,310.6L676.2,395.9L686.8,371.9L697.4,365.1L708.0,425.0L718.6,365.0L729.2,360.9L739.8,388.5L750.4,218.1L761.0,397.1L771.6,368.6L782.2,384.3L792.8,508.2L803.4,420.4L814.0,369.8L824.6,292.6L835.2,258.1L845.8,320.3L856.4,327.3L867.0,322.1L877.6,316.0L888.2,404.6L898.8,443.4L909.4,330.7L920.0,582.8L930.6,492.9L941.2,396.4L951.8,469.0L962.4,415.7L973.0,314.9L983.6,351.3L994.2,278.7L1004.8,468.0L1015.4,285.3L1026.0,332.0L1036.6,368.2L1047.2,483.8L1057.8,375.8L1068.4,257.4L1079.0,438.2L1089.6,361.6L1100.2,307.0L1110.8,354.0L1121.4,441.2L1132.0,483.6L1142.6,331.1L1153.2,325.0L1163.8,377.3L1174.4,378.8L1185.0,237.9L1195.6,279.0L1206.2,554.0L1216.8,349.5L1227.4,290.4L1238.0,329.9L1248.6,503.1L1259.1,448.0L1269.7,420.0L1280.3,406.5L1290.9,413.7L1301.5,301.7L1312.1,480.0L1322.7,308.5L1333.3,448.1L1343.9,614.2L1354.5,302.6L1365.1,337.6L1375.7,395.6L1386.3,341.1L1396.9,434.4L1407.5,475.3L1418.1,438.2L1428.7,478.4L1439.3,430.5L1449.9,288.9L1460.5,559.3L1471.1,381.3L1481.7,160.2L1492.3,483.2L1502.9,407.8L1513.5,514.7L1524.1,375.6L1534.7,424.2L1545.3,423.3L1555.9,386.2L1566.5,333.8L1577.1,413.6L1587.7,322.6L1598.3,392.7L1608.9,426.7L1619.5,441.4L1630.1,488.6L1640.7,515.1L1651.3,415.3L1661.9,346.6L1672.5,439.0L1683.1,374.8L1693.7,439.2L1704.3,513.8L1714.9,454.8L1725.5,410.5L1736.1,486.5L1746.7,384.4L1757.3,407.1L1767.9,337.9L1778.5,461.5L1789.1,443.9L1799.7,492.0L1810.3,420.6L1820.9,504.6L1831.5,483.0L1842.1,492.5L1852.7,467.4L1863.3,443.8L1873.9,532.5L1884.5,456.4L1895.1,420.1L1905.7,497.8L1916.3,491.6L1926.9,418.1L1937.5,572.4L1948.1,540.9L1958.7,523.3L1969.3,523.1L1979.9,578.5L1990.5,395.0L2001.1,510.3L2011.7,507.7L2022.3,512.3L2032.9,577.8L2043.5,445.6L2054.1,443.3L2064.7,413.0L2075.3,506.5L2085.9,453.2L2096.5,502.9L2107.1,463.2L2117.7,539.1L2128.3,467.3L2138.9,555.0L2149.5,549.5L2160.1,635.3L2170.7,555.6L2181.3,670.0L2191.9,482.9L2202.5,612.9L2213.1,485.8"/>
<path d="M315.8,353.9L326.4,302.5L337.0,303.4L347.6,296.2L358.2,271.3L368.8,268.8L379.4,408.5L390.0,489.3L400.6,406.8L411.2,519.9L421.8,254.9L432.4,315.9L443.0,445.9L453.6,349.1L464.2,305.6L474.8,320.7L485.4,310.1L496.0,280.0L506.6,492.3L517.2,258.5L527.8,321.3L538.4,368.7L549.0,301.8L559.6,376.6L570.2,437.7L580.8,403.3L591.4,391.8L602.0,300.8L612.6,402.4L623.2,382.1L633.8,317.2L644.4,466.8L655.0,479.8L665.6,538.6L676.2,270.1L686.8,274.8L697.4,240.4L708.0,283.6L718.6,296.8L729.2,325.5L739.8,315.7L750.4,397.3L761.0,231.0L771.6,282.4L782.2,335.4L792.8,274.5L803.4,384.6L814.0,341.8L824.6,290.7L835.2,351.7L845.8,398.9L856.4,379.2L867.0,246.4L877.6,307.4L888.2,414.4L898.8,517.8L909.4,532.0L920.0,453.2L930.6,395.3L941.2,307.9L951.8,335.7L962.4,365.4L973.0,300.8L983.6,239.2L994.2,374.2L1004.8,441.1L1015.4,335.9L1026.0,332.7L1036.6,361.6L1047.2,386.9L1057.8,355.1L1068.4,346.0L1079.0,265.8L1089.6,368.8L1100.2,370.6L1110.8,294.5L1121.4,318.4L1132.0,409.3L1142.6,314.3L1153.2,429.8L1163.8,319.2L1174.4,381.3L1185.0,427.4L1195.6,462.9L1206.2,378.3L1216.8,311.4L1227.4,300.3L1238.0,375.4L1248.6,345.3L1259.1,403.7L1269.7,475.8L1280.3,386.2L1290.9,392.9L1301.5,424.6L1312.1,363.3L1322.7,378.8L1333.3,324.4L1343.9,342.3L1354.5,382.7L1365.1,451.3L1375.7,444.2L1386.3,468.8L1396.9,459.0L1407.5,394.6L1418.1,533.8L1428.7,380.9L1439.3,410.2L1449.9,375.5L1460.5,350.5L1471.1,400.2L1481.7,423.8L1492.3,387.7L1502.9,507.7L1513.5,492.1L1524.1,445.2L1534.7,449.2L1545.3,459.8L1555.9,357.0L1566.5,386.5L1577.1,341.9L1587.7,551.0L1598.3,353.6L1608.9,465.6L1619.5,544.8L1630.1,409.2L1640.7,375.2L1651.3,470.0L1661.9,375.1L1672.5,523.5L1683.1,346.3L1693.7,489.4L1704.3,392.8L1714.9,432.0L1725.5,382.0L1736.1,352.1L1746.7,377.2L1757.3,486.1L1767.9,475.5L1778.5,374.6L1789.1,463.1L1799.7,377.7L1810.3,400.4L1820.9,479.2L1831.5,566.0L1842.1,451.1L1852.7,421.5L1863.3,470.8L1873.9,510.7L1884.5,481.5L1895.1,502.8L1905.7,381.3L1916.3,382.3L1926.9,512.2L1937.5,475.8L1948.1,527.4L1958.7,480.2L1969.3,452.3L1979.9,464.0L1990.5,536.9L2001.1,562.8L2011.7,497.0L2022.3,620.3L2032.9,545.0L2043.5,475.2L2054.1,442.9L2064.7,399.9L2075.3,484.5L2085.9,515.4L2096.5,593.5L2107.1,494.0L2117.7,435.4L2128.3,502.8L2138.9,491.8L2149.5,396.7L2160.1,555.0L2170.7,465.2L2181.3,569.6L2191.9,517.3L2202.5,502.3L2213.1,546.3"/>
<path d="M315.8,417.2L326.4,-12.8L337.0,324.4L347.6,403.0L358.2,320.4L368.8,260.1L379.4,376.8L390.0,330.9L400.6,188.3L411.2,411.8L421.8,566.4L432.4,300.4L443.0,295.1L453.6,346.4L464.2,363.7L474.8,225.7L485.4,447.1L496.0,365.1L506.6,356.5L517.2,268.7L527.8,414.0L538.4,488.1L549.0,364.6L559.6,268.3L570.2,582.2L580.8,353.4L591.4,570.6L602.0,303.0L612.6,406.3L623.2,414.3L633.8,351.7L644.4,422.1L655.0,230.8L665.6,464.5L676.2,344.5L686.8,407.2L697.4,487.6L708.0,255.4L718.6,444.1L729.2,392.1L739.8,431.7L750.4,300.4L761.0,391.2L771.6,326.7L782.2,374.6L792.8,434.1L803.4,376.8L814.0,387.3L824.6,302.7L835.2,402.0L845.8,288.4L856.4,379.0L867.0,321.4L877.6,392.5L888.2,450.9L898.8,173.0L909.4,361.8L920.0,334.9L930.6,411.5L941.2,362.9L951.8,364.1L962.4,357.9L973.0,305.8L983.6,375.7L994.2,454.1L1004.8,359.7L1015.4,506.5L1026.0,403.1L1036.6,447.9L1047.2,332.5L1057.8,347.2L1068.4,463.3L1079.0,416.0L1089.6,486.4L1100.2,461.5L1110.8,410.2L1121.4,227.9L1132.0,281.7L1142.6,242.0L1153.2,359.6L1163.8,455.3L1174.4,363.5L1185.0,358.6L1195.6,372.2L1206.2,412.7L1216.8,347.2L1227.4,339.7L1238.0,357.6L1248.6,418.6L1259.1,458.4L1269.7,296.8L1280.3,383.2L1290.9,443.3L1301.5,363.0L1312.1,316.9L1322.7,477.0L1333.3,385.3L1343.9,299.1L1354.5,411.1L1365.1,319.8L1375.7,368.0L1386.3,424.1L1396.9,341.0L1407.5,400.0L1418.1,421.6L1428.7,371.7L1439.3,362.1L1449.9,308.8L1460.5,396.1L1471.1,438.2L1481.7,355.0L1492.3,460.6L1502.9,427.5L1513.5,399.1L1524.1,519.6L1534.7,444.7L1545.3,328.6L1555.9,419.9L1566.5,460.0L1577.1,343.2L1587.7,428.7L1598.3,441.0L1608.9,484.3L1619.5,290.8L1630.1,436.1L1640.7,418.0L1651.3,410.2L1661.9,320.7L1672.5,400.5L1683.1,406.1L1693.7,425.3L1704.3,460.2L1714.9,477.8L1725.5,362.1L1736.1,483.1L1746.7,399.9L1757.3,486.5L1767.9,563.2L1778.5,448.4L1789.1,340.7L1799.7,448.4L1810.3,460.5L1820.9,331.9L1831.5,408.3L1842.1,412.9L1852.7,536.4L1863.3,380.8L1873.9,529.3L1884.5,529.0L1895.1,451.2L1905.7,541.8L1916.3,377.2L1926.9,395.2L1937.5,600.9L1948.1,336.6L1958.7,445.8L1969.3,507.9L1979.9,457.6L1990.5,438.3L2001.1,411.6L2011.7,426.7L2022.3,521.6L2032.9,459.4L2043.5,416.5L2054.1,415.5L2064.7,403.0L2075.3,521.2L2085.9,436.0L2096.5,641.7L2107.1,469.7L2117.7,591.8L2128.3,505.7L2138.9,483.2L2149.5,519.5L2160.1,520.0L2170.7,497.0L2181.3,562.0L2191.9,515.1L2202.5,504.5L2213.1,509.9"/>
<path d="M315.8,421.7L326.4,241.3L337.0,275.7L347.6,206.4L358.2,368.9L368.8,296.0L379.4,364.3L390.0,364.4L400.6,330.1L411.2,453.7L421.8,349.7L432.4,231.2L443.0,287.8L453.6,479.5L464.2,394.7L474.8,372.2L485.4,266.5L496.0,289.9L506.6,337.8L517.2,340.0L527.8,475.2L538.4,396.3L549.0,361.9L559.6,312.8L570.2,198.9L580.8,534.0L591.4,355.1L602.0,392.3L612.6,431.6L623.2,398.3L633.8,348.8L644.4,398.4L655.0,398.6L665.6,354.2L676.2,430.4L686.8,352.2L697.4,363.9L708.0,396.0L718.6,431.7L729.2,397.6L739.8,310.6L750.4,364.3L761.0,384.2L771.6,358.9L782.2,315.6L792.8,342.4L803.4,421.7L814.0,417.9L824.6,263.6L835.2,297.6L845.8,317.1L856.4,379.1L867.0,408.6L877.6,391.0L888.2,286.7L898.8,403.2L909.4,347.1L920.0,378.0L930.6,418.6L941.2,320.2L951.8,458.8L962.4,346.2L973.0,369.9L983.6,359.6L994.2,452.8L1004.8,364.9L1015.4,280.9L1026.0,327.2L1036.6,365.4L1047.2,342.0L1057.8,413.3L1068.4,394.0L1079.0,356.0L1089.6,240.5L1100.2,305.8L1110.8,405.7L1121.4,379.0L1132.0,302.6L1142.6,423.7L1153.2,271.4L1163.8,339.5L1174.4,312.9L1185.0,387.7L1195.6,280.8L1206.2,398.8L1216.8,376.0L1227.4,377.3L1238.0,288.0L1248.6,353.2L1259.1,363.3L1269.7,506.1L1280.3,290.9L1290.9,398.6L1301.5,406.7L1312.1,286.8L1322.7,412.8L1333.3,306.6L1343.9,328.5L1354.5,382.1L1365.1,463.9L1375.7,334.3L1386.3,278.1L1396.9,340.4L1407.5,392.6L1418.1,498.9L1428.7,396.6L1439.3,447.9L1449.9,362.8L1460.5,354.5L1471.1,428.4L1481.7,336.0L1492.3,391.3L1502.9,411.4L1513.5,400.5L1524.1,477.4L1534.7,411.4L1545.3,421.8L1555.9,518.3L1566.5,421.6L1577.1,343.4L1587.7,375.8L1598.3,495.9L1608.9,447.8L1619.5,479.0L1630.1,365.9L1640.7,473.0L1651.3,364.5L1661.9,407.3L1672.5,422.2L1683.1,485.3L1693.7,395.8L1704.3,381.3L1714.9,521.4L1725.5,445.4L1736.1,385.7L1746.7,469.6L1757.3,434.7L1767.9,424.1L1778.5,457.7L1789.1,478.8L1799.7,510.1L1810.3,519.4L1820.9,189.4L1831.5,502.6L1842.1,453.3L1852.7,490.1L1863.3,433.4L1873.9,559.3L1884.5,468.5L1895.1,421.5L1905.7,446.2L1916.3,460.3L1926.9,508.8L1937.5,409.7L1948.1,388.6L1958.7,438.9L1969.3,517.5L1979.9,514.9L1990.5,479.2L2001.1,422.1L2011.7,525.8L2022.3,500.3L2032.9,510.1L2043.5,555.2L2054.1,515.5L2064.7,527.6L2075.3,558.6L2085.9,467.1L2096.5,474.9L2107.1,544.1L2117.7,501.9L2128.3,383.3L2138.9,458.4L2149.5,569.1L2160.1,545.6L2170.7,382.9L2181.3,471.5L2191.9,453.4L2202.5,637.5L2213.1,617.1"/>
<path d="M315.8,418.2L326.4,503.4L337.0,319.3L347.6,226.4L358.2,422.7L368.8,449.0L379.4,336.1L390.0,391.3L400.6,346.6L411.2,420.1L421.8,430.2L432.4,282.8L443.0,176.5L453.6,334.3L464.2,282.9L474.8,196.1L485.4,240.7L496.0,298.7L506.6,275.8L517.2,354.1L527.8,369.5L538.4,301.2L549.0,299.0L559.6,427.4L570.2,409.6L580.8,365.5L591.4,419.5L602.0,307.7L612.6,312.3L623.2,479.5L633.8,334.3L644.4,452.2L655.0,329.9L665.6,312.6L676.2,447.8L686.8,409.3L697.4,343.9L708.0,408.0L718.6,468.8L729.2,306.5L739.8,553.4L750.4,319.0L761.0,274.8L771.6,325.8L782.2,275.8L792.8,181.5L803.4,346.9L814.0,372.2L824.6,314.2L835.2,247.9L845.8,380.1L856.4,489.0L867.0,290.6L877.6,399.3L888.2,432.9L898.8,391.0L909.4,376.1L920.0,472.7L930.6,418.0L941.2,463.3L951.8,394.4L962.4,322.1L973.0,370.7L983.6,347.2L994.2,258.3L1004.8,371.7L1015.4,294.2L1026.0,249.2L1036.6,436.2L1047.2,470.5L1057.8,308.2L1068.4,358.4L1079.0,237.4L1089.6,350.9L1100.2,270.7L1110.8,277.7L1121.4,349.7L1132.0,411.8L1142.6,345.2L1153.2,456.1L1163.8,302.0L1174.4,415.7L1185.0,321.4L1195.6,353.1L1206.2,331.6L1216.8,293.1L1227.4,460.7L1238.0,410.4L1248.6,387.7L1259.1,405.1L1269.7,443.3L1280.3,420.6L1290.9,293.8L1301.5,274.5L1312.1,360.1L1322.7,363.2L1333.3,405.2L1343.9,468.7L1354.5,356.1L1365.1,352.8L1375.7,429.7L1386.3,306.3L1396.9,368.7L1407.5,369.9L1418.1,389.2L1428.7,515.4L1439.3,510.7L1449.9,392.4L1460.5,483.6L1471.1,419.2L1481.7,400.3L1492.3,419.6L1502.9,365.2L1513.5,482.7L1524.1,410.6L1534.7,444.7L1545.3,380.3L1555.9,403.7L1566.5,476.1L1577.1,452.0L1587.7,369.3L1598.3,577.6L1608.9,533.0L1619.5,491.6L1630.1,420.0L1640.7,516.1L1651.3,378.2L1661.9,399.0L1672.5,346.8L1683.1,253.8L1693.7,423.7L1704.3,432.0L1714.9,476.7L1725.5,270.7L1736.1,445.2L1746.7,392.8L1757.3,418.9L1767.9,495.7L1778.5,406.1L1789.1,445.0L1799.7,444.0L1810.3,490.3L1820.9,429.3L1831.5,453.9L1842.1,491.2L1852.7,572.8L1863.3,406.9L1873.9,450.1L1884.5,452.0L1895.1,421.1L1905.7,429.6L1916.3,440.8L1926.9,505.8L1937.5,503.1L1948.1,447.3L1958.7,412.8L1969.3,404.2L1979.9,494.4L1990.5,443.8L2001.1,501.7L2011.7,467.8L2022.3,476.9L2032.9,493.3L2043.5,586.4L2054.1,525.0L2064.7,516.9L2075.3,536.9L2085.9,484.7L2096.5,471.1L2107.1,478.2L2117.7,558.7L2128.3,512.4L2138.9,501.1L2149.5,525.0L2160.1,490.7L2170.7,505.7L2181.3,506.0L2191.9,533.4L2202.5,550.7L2213.1,480.5"/>
<path d="M315.8,335.4L326.4,426.6L337.0,415.9L347.6,274.2L358.2,595.5L368.8,395.9L379.4,387.9L390.0,356.8L400.6,217.8L411.2,314.8L421.8,457.3L432.4,268.2L443.0,340.1L453.6,502.7L464.2,404.5L474.8,393.2L485.4,349.9L496.0,274.8L506.6,314.1L517.2,431.9L527.8,462.0L538.4,394.7L549.0,434.6L559.6,433.5L570.2,398.4L580.8,354.1L591.4,334.1L602.0,340.8L612.6,362.4L623.2,365.4L633.8,335.8L644.4,405.1L655.0,500.1L665.6,294.2L676.2,440.4L686.8,245.5L697.4,387.9L708.0,349.5L718.6,452.6L729.2,400.6L739.8,342.2L750.4,435.3L761.0,410.2L771.6,299.5L782.2,316.5L792.8,383.6L803.4,371.5L814.0,347.5L824.6,445.1L835.2,428.0L845.8,254.1L856.4,289.9L867.0,334.3L877.6,397.2L888.2,394.4L898.8,322.4L909.4,237.8L920.0,376.9L930.6,401.1L941.2,449.2L951.8,347.1L962.4,504.7L973.0,279.7L983.6,408.8L994.2,490.0L1004.8,287.5L1015.4,388.0L1026.0,311.3L1036.6,341.7L1047.2,348.0L1057.8,425.0L1068.4,325.0L1079.0,355.7L1089.6,419.6L1100.2,367.5L1110.8,246.5L1121.4,314.1L1132.0,380.1L1142.6,361.8L1153.2,221.9L1163.8,341.9L1174.4,385.8L1185.0,246.8L1195.6,343.5L1206.2,356.4L1216.8,383.8L1227.4,415.1L1238.0,409.0L1248.6,434.1L1259.1,385.3L1269.7,396.2L1280.3,392.3L1290.9,406.2L1301.5,319.4L1312.1,220.9L1322.7,312.3L1333.3,334.3L1343.9,363.0L1354.5,250.1L1365.1,379.3L1375.7,428.9L1386.3,289.5L1396.9,319.8L1407.5,368.7L1418.1,417.2L1428.7,323.6L1439.3,533.7L1449.9,278.6L1460.5,364.5L1471.1,413.9L1481.7,348.6L1492.3,417.4L1502.9,488.5L1513.5,421.7L1524.1,371.0L1534.7,417.4L1545.3,337.7L1555.9,390.0L1566.5,403.7L1577.1,443.5L1587.7,424.8L1598.3,343.7L1608.9,481.6L1619.5,447.2L1630.1,463.3L1640.7,400.0L1651.3,316.5L1661.9,485.6L1672.5,482.4L1683.1,437.0L1693.7,528.7L1704.3,383.1L1714.9,399.5L1725.5,445.1L1736.1,493.6L1746.7,407.9L1757.3,440.2L1767.9,457.7L1778.5,448.4L1789.1,451.8L1799.7,560.9L1810.3,484.8L1820.9,515.7L1831.5,525.3L1842.1,414.1L1852.7,525.0L1863.3,465.0L1873.9,438.1L1884.5,476.4L1895.1,459.9L1905.7,555.1L1916.3,400.3L1926.9,426.3L1937.5,462.1L1948.1,496.1L1958.7,418.9L1969.3,468.6L1979.9,463.7L1990.5,507.1L2001.1,466.6L2011.7,443.1L2022.3,528.1L2032.9,520.3L2043.5,500.6L2054.1,547.8L2064.7,532.9L2075.3,611.4L2085.9,577.7L2096.5,509.5L2107.1,603.5L2117.7,533.3L2128.3,509.3L2138.9,548.2L2149.5,530.6L2160.1,553.1L2170.7,499.1L2181.3,523.3L2191.9,444.2L2202.5,537.4L2213.1,592.4"/>
<path d="M315.8,479.2L326.4,514.4L337.0,324.3L347.6,409.6L358.2,333.5L368.8,283.7L379.4,302.8L390.0,210.1L400.6,377.1L411.2,329.2L421.8,199.9L432.4,304.2L443.0,274.6L453.6,444.5L464.2,314.9L474.8,403.8L485.4,228.2L496.0,359.0L506.6,341.4L517.2,356.4L527.8,381.8L538.4,333.5L549.0,259.9L559.6,284.5L570.2,365.6L580.8,228.4L591.4,383.5L602.0,375.6L612.6,343.2L623.2,270.7L633.8,368.5L644.4,412.4L655.0,367.7L665.6,417.5L676.2,395.1L686.8,227.7L697.4,590.1L708.0,437.2L718.6,436.2L729.2,460.9L739.8,358.2L750.4,371.4L761.0,401.2L771.6,192.4L782.2,379.7L792.8,407.7L803.4,352.3L814.0,323.6L824.6,405.4L835.2,393.3L845.8,279.4L856.4,422.6L867.0,279.4L877.6,416.5L888.2,355.7L898.8,368.6L909.4,332.0L920.0,401.1L930.6,289.1L941.2,379.8L951.8,400.8L962.4,343.6L973.0,297.7L983.6,300.8L994.2,336.8L1004.8,345.0L1015.4,383.3L1026.0,394.9L1036.6,294.5L1047.2,328.3L1057.8,432.7L1068.4,290.5L1079.0,385.8L1089.6,324.9L1100.2,341.5L1110.8,344.6L1121.4,426.5L1132.0,432.0L1142.6,370.3L1153.2,228.9L1163.8,365.6L1174.4,341.0L1185.0,449.2L1195.6,448.0L1206.2,483.3L1216.8,421.4L1227.4,282.6L1238.0,481.2L1248.6,351.9L1259.1,390.8L1269.7,434.7L1280.3,296.4L1290.9,365.2L1301.5,448.2L1312.1,434.0L1322.7,380.6L1333.3,384.8L1343.9,344.3L1354.5,305.0L1365.1,481.1L1375.7,368.4L1386.3,434.3L1396.9,288.1L1407.5,337.0L1418.1,433.5L1428.7,463.8L1439.3,303.8L1449.9,325.9L1460.5,515.7L1471.1,359.9L1481.7,377.7L1492.3,433.7L1502.9,382.6L1513.5,360.6L1524.1,460.7L1534.7,406.8L1545.3,436.3L1555.9,442.0L1566.5,406.7L1577.1,373.0L1587.7,506.0L1598.3,519.0L1608.9,507.2L1619.5,546.7L1630.1,351.2L1640.7,390.6L1651.3,444.2L1661.9,436.5L1672.5,538.3L1683.1,351.4L1693.7,435.7L1704.3,511.0L1714.9,374.0L1725.5,334.2L1736.1,478.4L1746.7,497.5L1757.3,377.0L1767.9,433.2L1778.5,364.7L1789.1,474.7L1799.7,421.6L1810.3,454.3L1820.9,392.9L1831.5,399.4L1842.1,552.9L1852.7,376.5L1863.3,498.1L1873.9,477.4L1884.5,514.8L1895.1,519.5L1905.7,459.8L1916.3,520.4L1926.9,485.5L1937.5,474.1L1948.1,443.5L1958.7,433.6L1969.3,571.9L1979.9,429.1L1990.5,498.3L2001.1,579.4L2011.7,540.5L2022.3,477.8L2032.9,570.4L2043.5,458.9L2054.1,533.0L2064.7,556.5L2075.3,487.8L2085.9,476.6L2096.5,554.3L2107.1,541.4L2117.7,582.7L2128.3,623.0L2138.9,533.3L2149.5,559.4L2160.1,478.6L2170.7,474.8L2181.3,398.1L2191.9,539.9L2202.5,525.3L2213.1,501.3"/>
<path d="M315.8,361.3L326.4,232.5L337.0,277.4L347.6,412.8L358.2,325.5L368.8,228.1L379.4,299.0L390.0,429.9L400.6,438.3L411.2,436.4L421.8,439.2L432.4,343.8L443.0,279.0L453.6,404.9L464.2,404.1L474.8,305.0L485.4,351.1L496.0,350.0L506.6,429.4L517.2,405.5L527.8,367.2L538.4,455.8L549.0,356.7L559.6,408.2L570.2,485.7L580.8,307.6L591.4,378.1L602.0,319.9L612.6,366.9L623.2,374.3L633.8,451.1L644.4,443.9L655.0,369.1L665.6,373.9L676.2,335.6L686.8,471.5L697.4,326.6L708.0,554.9L718.6,367.9L729.2,366.1L739.8,363.1L750.4,252.1L761.0,329.0L771.6,297.0L782.2,418.1L792.8,342.4L803.4,310.9L814.0,303.9L824.6,393.6L835.2,225.4L845.8,339.9L856.4,478.9L867.0,448.1L877.6,322.8L888.2,342.3L898.8,476.0L909.4,396.5L920.0,384.9L930.6,313.2L941.2,350.5L951.8,486.9L962.4,364.9L973.0,419.1L983.6,444.0L994.2,322.6L1004.8,262.0L1015.4,304.5L1026.0,409.5L1036.6,386.6L1047.2,383.8L1057.8,323.5L1068.4,232.5L1079.0,339.8L1089.6,212.7L1100.2,239.9L1110.8,402.0L1121.4,345.7L1132.0,366.2L1142.6,473.7L1153.2,286.6L1163.8,291.3L1174.4,423.8L1185.0,344.4L1195.6,366.5L1206.2,306.1L1216.8,464.2L1227.4,256.9L1238.0,414.2L1248.6,423.7L1259.1,409.3L1269.7,365.6L1280.3,367.1L1290.9,392.9L1301.5,416.2L1312.1,386.0L1322.7,374.3L1333.3,367.4L1343.9,504.1L1354.5,333.6L1365.1,340.5L1375.7,357.4L1386.3,448.3L1396.9,264.0L1407.5,496.0L1418.1,437.2L1428.7,494.8L1439.3,377.9L1449.9,224.4L1460.5,348.5L1471.1,354.7L1481.7,362.7L1492.3,290.8L1502.9,442.7L1513.5,400.9L1524.1,362.5L1534.7,409.0L1545.3,391.9L1555.9,367.2L1566.5,398.6L1577.1,479.1L1587.7,316.3L1598.3,371.8L1608.9,300.1L1619.5,441.8L1630.1,366.9L1640.7,440.7L1651.3,349.1L1661.9,423.1L1672.5,436.8L1683.1,477.4L1693.7,421.2L1704.3,508.8L1714.9,421.3L1725.5,493.5L1736.1,529.7L1746.7,395.3L1757.3,507.0L1767.9,474.9L1778.5,594.3L1789.1,328.4L1799.7,370.9L1810.3,364.3L1820.9,366.1L1831.5,411.3L1842.1,476.6L1852.7,439.5L1863.3,533.5L1873.9,470.6L1884.5,514.8L1895.1,530.4L1905.7,382.1L1916.3,446.2L1926.9,524.7L1937.5,520.0L1948.1,462.2L1958.7,433.5L1969.3,399.3L1979.9,548.1L1990.5,425.7L2001.1,482.1L2011.7,391.6L2022.3,483.7L2032.9,524.1L2043.5,498.0L2054.1,504.1L2064.7,488.6L2075.3,569.3L2085.9,484.9L2096.5,494.0L2107.1,482.5L2117.7,492.8L2128.3,531.6L2138.9,641.7L2149.5,542.1L2160.1,472.0L2170.7,558.6L2181.3,422.9L2191.9,593.0L2202.5,570.1L2213.1,485.9"/>
<path d="M315.8,242.1L326.4,358.7L337.0,181.3L347.6,350.3L358.2,381.3L368.8,313.9L379.4,474.2L390.0,266.8L400.6,312.8L411.2,300.9L421.8,295.5L432.4,305.2L443.0,466.2L453.6,537.0L464.2,472.4L474.8,260.8L485.4,286.1L496.0,336.8L506.6,398.8L517.2,352.9L527.8,335.3L538.4,434.1L549.0,441.5L559.6,391.1L570.2,363.3L580.8,370.7L591.4,237.6L602.0,332.7L612.6,332.9L623.2,470.8L633.8,448.5L644.4,246.3L655.0,288.5L665.6,444.3L676.2,374.2L686.8,348.1L697.4,425.4L708.0,227.6L718.6,400.0L729.2,250.6L739.8,300.1L750.4,349.9L761.0,304.0L771.6,323.2L782.2,326.5L792.8,337.0L803.4,359.8L814.0,383.2L824.6,417.6L835.2,413.2L845.8,268.8L856.4,338.3L867.0,476.5L877.6,273.7L888.2,398.2L898.8,304.2L909.4,353.7L920.0,504.0L930.6,389.2L941.2,233.1L951.8,400.2L962.4,481.9L973.0,320.8L983.6,188.0L994.2,325.0L1004.8,344.9L1015.4,363.5L1026.0,364.7L1036.6,383.6L1047.2,349.4L1057.8,337.4L1068.4,356.4L1079.0,444.0L1089.6,376.0L1100.2,371.9L1110.8,242.5L1121.4,428.9L1132.0,361.3L1142.6,288.3L1153.2,390.8L1163.8,390.0L1174.4,318.8L1185.0,401.3L1195.6,209.3L1206.2,398.8L1216.8,435.7L1227.4,362.3L1238.0,455.7L1248.6,335.9L1259.1,398.9L1269.7,501.7L1280.3,595.7L1290.9,380.6L1301.5,332.4L1312.1,425.8L1322.7,298.3L1333.3,338.0L1343.9,341.1L1354.5,373.1L1365.1,271.6L1375.7,525.3L1386.3,491.6L1396.9,297.6L1407.5,341.6L1418.1,365.1L1428.7,478.2L1439.3,403.0L1449.9,391.8L1460.5,386.3L1471.1,430.8L1481.7,386.2L1492.3,389.7L1502.9,340.9L1513.5,356.4L1524.1,460.4L1534.7,405.8L1545.3,428.4L1555.9,366.6L1566.5,498.8L1577.1,421.2L1587.7,427.7L1598.3,370.7L1608.9,540.4L1619.5,364.2L1630.1,443.8L1640.7,549.4L1651.3,300.2L1661.9,333.7L1672.5,492.2L1683.1,396.0L1693.7,399.5L1704.3,488.5L1714.9,509.8L1725.5,468.4L1736.1,458.9L1746.7,481.3L1757.3,521.8L1767.9,448.4L1778.5,475.9L1789.1,394.2L1799.7,445.0L1810.3,494.5L1820.9,396.8L1831.5,430.6L1842.1,513.7L1852.7,379.2L1863.3,352.0L1873.9,471.1L1884.5,472.1L1895.1,459.0L1905.7,475.9L1916.3,484.3L1926.9,433.5L1937.5,499.7L1948.1,515.6L1958.7,468.8L1969.3,431.9L1979.9,535.7L1990.5,468.5L2001.1,469.9L2011.7,472.9L2022.3,428.7L2032.9,499.8L2043.5,572.6L2054.1,571.2L2064.7,410.5L2075.3,480.3L2085.9,463.5L2096.5,528.4L2107.1,507.1L2117.7,545.0L2128.3,501.6L2138.9,504.3L2149.5,527.9L2160.1,518.5L2170.7,630.3L2181.3,496.2L2191.9,497.5L2202.5,623.5L2213.1,433.6"/>
</g>
<path d="M305.2,361.4H2213.1" stroke="#737578" stroke-opacity="0.8" stroke-width="3.9" stroke-dasharray="12.33 5.33" stroke-dashoffset="1.3"/>
<path d="M734.5,701.5V21.3" stroke="#f9a51a" stroke-opacity="0.52" stroke-width="6.2" stroke-dasharray="18.7 8.06"/>
<path d="M2160.1,701.5V21.3" stroke="#7f2582" stroke-opacity="0.52" stroke-width="6.2" stroke-dasharray="18.7 8.06"/>
<path d="M315.8,371.3L326.4,329.9L337.0,329.9L347.6,331.0L358.2,340.4L368.8,344.9L379.4,362.1L390.0,347.0L400.6,347.9L411.2,363.5L421.8,343.5L432.4,366.6L443.0,351.9L453.6,351.9L464.2,343.5L474.8,329.9L485.4,340.4L496.0,337.9L506.6,360.9L517.2,341.4L527.8,383.5L538.4,399.5L549.0,347.9L559.6,369.6L570.2,390.8L580.8,390.8L591.4,380.9L602.0,353.1L612.6,381.8L623.2,377.4L633.8,376.6L644.4,394.8L655.0,380.9L665.6,366.1L676.2,369.6L686.8,356.6L697.4,365.3L708.0,364.7L718.6,385.3L729.2,385.3L739.8,369.6L750.4,354.8L761.0,380.0L771.6,324.4L782.2,351.3L792.8,362.6L803.4,360.0L814.0,356.0L824.6,364.4L835.2,359.2L845.8,347.0L856.4,383.5L867.0,350.5L877.6,343.5L888.2,384.4L898.8,365.8L909.4,374.8L920.0,379.2L930.6,369.3L941.2,368.7L951.8,379.2L962.4,376.9L973.0,343.5L983.6,343.8L994.2,360.6L1004.8,353.9L1015.4,352.2L1026.0,352.2L1036.6,358.8L1047.2,369.9L1057.8,339.2L1068.4,322.6L1079.0,354.3L1089.6,356.0L1100.2,333.9L1110.8,331.0L1121.4,371.7L1132.0,355.3L1142.6,356.0L1153.2,351.3L1163.8,347.3L1174.4,355.3L1185.0,360.9L1195.6,371.3L1206.2,366.1L1216.8,352.2L1227.4,364.0L1238.0,390.5L1248.6,374.8L1259.1,371.9L1269.7,384.0L1280.3,387.5L1290.9,375.7L1301.5,351.3L1312.1,389.6L1322.7,378.3L1333.3,380.6L1343.9,383.0L1354.5,375.3L1365.1,379.2L1375.7,391.3L1386.3,380.0L1396.9,376.6L1407.5,391.3L1418.1,410.8L1428.7,402.7L1439.3,420.1L1449.9,380.0L1460.5,401.4L1471.1,405.3L1481.7,396.2L1492.3,415.4L1502.9,418.3L1513.5,411.4L1524.1,416.2L1534.7,387.0L1545.3,395.6L1555.9,414.4L1566.5,417.0L1577.1,382.2L1587.7,433.9L1598.3,417.9L1608.9,431.8L1619.5,416.1L1630.1,419.6L1640.7,424.5L1651.3,410.9L1661.9,425.3L1672.5,425.2L1683.1,418.2L1693.7,435.3L1704.3,430.9L1714.9,443.6L1725.5,428.3L1736.1,436.1L1746.7,428.3L1757.3,440.5L1767.9,453.0L1778.5,448.3L1789.1,430.4L1799.7,447.4L1810.3,459.6L1820.9,427.4L1831.5,470.1L1842.1,474.8L1852.7,468.7L1863.3,453.1L1873.9,463.5L1884.5,467.0L1895.1,479.2L1905.7,469.6L1916.3,451.3L1926.9,480.9L1937.5,489.1L1948.1,473.1L1958.7,456.6L1969.3,476.6L1979.9,481.4L1990.5,493.6L2001.1,472.2L2011.7,486.1L2022.3,499.2L2032.9,512.8L2043.5,506.5L2054.1,494.0L2064.7,503.5L2075.3,514.8L2085.9,500.9L2096.5,510.0L2107.1,496.5L2117.7,510.9L2128.3,508.3L2138.9,508.1L2149.5,520.9L2160.1,515.3L2170.7,519.6L2181.3,511.8L2191.9,534.4L2202.5,533.1L2213.1,524.0" stroke="#231f20" stroke-width="4.0" stroke-linecap="square"/>
<path d="M734.5,352.1L740.2,369.6L758.5,369.6L743.7,380.4L749.3,397.9L734.5,387.1L719.6,397.9L725.3,380.4L710.4,369.6L728.8,369.6Z" fill="#f9a51a" stroke="#f9a51a" stroke-width="4.4" stroke-linejoin="bevel"/>
<path d="M2160.1,488.0L2165.8,505.5L2184.2,505.5L2169.3,516.3L2175.0,533.8L2160.1,523.0L2145.2,533.8L2150.9,516.3L2136.0,505.5L2154.4,505.5Z" fill="#7f2582" stroke="#7f2582" stroke-width="4.4" stroke-linejoin="bevel"/>
</g>
<rect x="325.8" y="550.2" width="1223.2" height="130.4" rx="8" ry="8" fill="#e6e6e6" fill-opacity="0.8" stroke="#cccccc" stroke-opacity="0.8" stroke-width="2.2"/>
<path d="M342,582.9H423.2" stroke="#8f9194" stroke-opacity="0.28" stroke-width="3.4" stroke-linecap="square"/>
<path d="M342,642.2H423.2" stroke="#231f20" stroke-width="3.7" stroke-linecap="square"/>
<path d="M933.4,583.5H1014.7" stroke="#f9a51a" stroke-width="5.2" stroke-linecap="square"/>
<path d="M933.4,642.1H1014.7" stroke="#7f2582" stroke-width="5.2" stroke-linecap="square"/>
<path d="M974.2,558.0L979.9,575.5L998.3,575.5L983.4,586.3L989.1,603.8L974.2,593.0L959.3,603.8L965.0,586.3L950.1,575.5L968.5,575.5Z" fill="#f9a51a" stroke="#f9a51a" stroke-width="4.4" stroke-linejoin="bevel"/>
<path d="M974.2,616.6L979.9,634.1L998.3,634.1L983.4,644.9L989.1,662.4L974.2,651.6L959.3,662.4L965.0,644.9L950.1,634.1L968.5,634.1Z" fill="#7f2582" stroke="#7f2582" stroke-width="4.4" stroke-linejoin="bevel"/>
<text transform="translate(455.0,597.4) scale(0.968,1)" font-family="'DejaVu Sans', 'Liberation Sans', sans-serif" font-size="41.67" fill="#231f20" text-anchor="start" stroke="#231f20" stroke-width="0.7" stroke-linejoin="round">Ensemble Members</text>
<text transform="translate(455.0,657.0) scale(0.968,1)" font-family="'DejaVu Sans', 'Liberation Sans', sans-serif" font-size="41.67" fill="#231f20" text-anchor="start" stroke="#231f20" stroke-width="0.7" stroke-linejoin="round">Ensemble Mean</text>
<text transform="translate(1045.4,597.4) scale(0.968,1)" font-family="'DejaVu Sans', 'Liberation Sans', sans-serif" font-size="41.67" fill="#231f20" text-anchor="start" stroke="#231f20" stroke-width="0.7" stroke-linejoin="round">Start of Climate Change</text>
<text transform="translate(1045.4,657.0) scale(0.968,1)" font-family="'DejaVu Sans', 'Liberation Sans', sans-serif" font-size="41.67" fill="#231f20" text-anchor="start" stroke="#231f20" stroke-width="0.7" stroke-linejoin="round">Time of Emergence</text>
<rect x="305.2" y="21.3" width="1907.9" height="680.2" fill="none" stroke="#fff" stroke-width="5"/>
<path d="M288.2,21.3H303.6M288.2,191.3H303.6M288.2,361.4H303.6M288.2,531.5H303.6M288.2,701.5H303.6M305.2,703.3V718.7M517.2,703.3V718.7M729.2,703.3V718.7M941.2,703.3V718.7M1153.2,703.3V718.7M1365.1,703.3V718.7M1577.1,703.3V718.7M1789.1,703.3V718.7M2001.1,703.3V718.7M2213.1,703.3V718.7" stroke="#6d6e71" stroke-width="3.2" fill="none"/>
<text transform="translate(284.6,41.9) scale(0.972,1)" font-family="'DejaVu Sans', 'Liberation Sans', sans-serif" font-size="55.56" fill="#717275" text-anchor="end" stroke="#717275" stroke-width="0.35" stroke-linejoin="round">0.010</text>
<text transform="translate(284.6,211.9) scale(0.972,1)" font-family="'DejaVu Sans', 'Liberation Sans', sans-serif" font-size="55.56" fill="#717275" text-anchor="end" stroke="#717275" stroke-width="0.35" stroke-linejoin="round">0.005</text>
<text transform="translate(284.6,382.0) scale(0.972,1)" font-family="'DejaVu Sans', 'Liberation Sans', sans-serif" font-size="55.56" fill="#717275" text-anchor="end" stroke="#717275" stroke-width="0.35" stroke-linejoin="round">0.000</text>
<text transform="translate(284.6,552.1) scale(0.972,1)" font-family="'DejaVu Sans', 'Liberation Sans', sans-serif" font-size="55.56" fill="#717275" text-anchor="end" stroke="#717275" stroke-width="0.35" stroke-linejoin="round">−0.005</text>
<text transform="translate(284.6,722.1) scale(0.972,1)" font-family="'DejaVu Sans', 'Liberation Sans', sans-serif" font-size="55.56" fill="#717275" text-anchor="end" stroke="#717275" stroke-width="0.35" stroke-linejoin="round">−0.010</text>
<text transform="translate(305.2,724.9)" font-family="'DejaVu Sans', 'Liberation Sans', sans-serif" font-size="4.0" fill="#6d6e71" text-anchor="middle">1920</text>
<text transform="translate(517.2,724.9)" font-family="'DejaVu Sans', 'Liberation Sans', sans-serif" font-size="4.0" fill="#6d6e71" text-anchor="middle">1940</text>
<text transform="translate(729.2,724.9)" font-family="'DejaVu Sans', 'Liberation Sans', sans-serif" font-size="4.0" fill="#6d6e71" text-anchor="middle">1960</text>
<text transform="translate(941.2,724.9)" font-family="'DejaVu Sans', 'Liberation Sans', sans-serif" font-size="4.0" fill="#6d6e71" text-anchor="middle">1980</text>
<text transform="translate(1153.2,724.9)" font-family="'DejaVu Sans', 'Liberation Sans', sans-serif" font-size="4.0" fill="#6d6e71" text-anchor="middle">2000</text>
<text transform="translate(1365.1,724.9)" font-family="'DejaVu Sans', 'Liberation Sans', sans-serif" font-size="4.0" fill="#6d6e71" text-anchor="middle">2020</text>
<text transform="translate(1577.1,724.9)" font-family="'DejaVu Sans', 'Liberation Sans', sans-serif" font-size="4.0" fill="#6d6e71" text-anchor="middle">2040</text>
<text transform="translate(1789.1,724.9)" font-family="'DejaVu Sans', 'Liberation Sans', sans-serif" font-size="4.0" fill="#6d6e71" text-anchor="middle">2060</text>
<text transform="translate(2001.1,724.9)" font-family="'DejaVu Sans', 'Liberation Sans', sans-serif" font-size="4.0" fill="#6d6e71" text-anchor="middle">2080</text>
<text transform="translate(2213.1,724.9)" font-family="'DejaVu Sans', 'Liberation Sans', sans-serif" font-size="4.0" fill="#6d6e71" text-anchor="middle">2100</text>
<text transform="translate(56.3,519.5) rotate(-90) scale(0.995,1)" font-family="'DejaVu Sans', 'Liberation Sans', sans-serif" font-size="61.1" fill="#717275" text-anchor="start" stroke="#717275" stroke-width="0.35" stroke-linejoin="round">mm day<tspan font-size="42.77" dy="-23.22" dx="2.69">−</tspan><tspan font-size="42.77" dx="-1.53">1</tspan></text>
<text transform="translate(357.6,90.2) scale(0.978,1)" font-family="'DejaVu Sans', 'Liberation Sans', sans-serif" font-size="34.4" fill="#231f20" text-anchor="start" stroke="#231f20" stroke-width="0.8" stroke-linejoin="round">mean value: 0.007 mm day<tspan font-size="24.08" dy="-13.07" dx="1.51">−</tspan><tspan font-size="24.08" dx="-0.86">1</tspan></text>
<text transform="translate(2087.0,111.4)" font-family="'Liberation Sans', Arial, Helvetica, sans-serif" font-size="83" fill="#231f20" text-anchor="middle" stroke="#231f20" stroke-width="0.5" stroke-linejoin="round">a</text>
</g>
<g id="panel-b">
<rect x="305.2" y="837.6" width="1907.9" height="680.3" fill="#e6e6e6"/>
<path d="M517.2,837.6V1517.9M729.2,837.6V1517.9M941.2,837.6V1517.9M1153.2,837.6V1517.9M1365.1,837.6V1517.9M1577.1,837.6V1517.9M1789.1,837.6V1517.9M2001.1,837.6V1517.9M305.2,973.7H2213.1M305.2,1155.1H2213.1M305.2,1336.5H2213.1" stroke="#fff" stroke-width="3.8" fill="none"/>
<g clip-path="url(#clipb)" fill="none" stroke-linejoin="round">
<g stroke="#8f9194" stroke-opacity="0.28" stroke-width="3.1">
<path d="M315.8,1088.0L326.4,1181.1L337.0,1055.2L347.6,1224.5L358.2,1196.4L368.8,1189.8L379.4,1165.9L390.0,1225.2L400.6,1107.2L411.2,1134.3L421.8,1172.0L432.4,1116.9L443.0,1110.5L453.6,1154.3L464.2,1183.3L474.8,1070.0L485.4,993.7L496.0,1179.1L506.6,1122.8L517.2,1169.1L527.8,1118.6L538.4,1280.7L549.0,1241.8L559.6,1101.5L570.2,1217.8L580.8,1339.6L591.4,1271.1L602.0,1216.8L612.6,1238.7L623.2,1100.8L633.8,1179.4L644.4,1210.6L655.0,1208.0L665.6,1124.0L676.2,1161.8L686.8,1039.8L697.4,1168.3L708.0,1232.9L718.6,1164.7L729.2,1243.2L739.8,1089.3L750.4,1029.9L761.0,1076.3L771.6,1221.0L782.2,1017.7L792.8,1137.0L803.4,1138.7L814.0,1202.7L824.6,1183.7L835.2,1129.1L845.8,934.9L856.4,1045.3L867.0,1146.9L877.6,1182.8L888.2,1035.2L898.8,1204.7L909.4,1191.9L920.0,1071.4L930.6,1247.1L941.2,1218.9L951.8,1134.4L962.4,1105.5L973.0,1196.2L983.6,1221.3L994.2,1102.1L1004.8,1213.3L1015.4,1180.3L1026.0,1309.3L1036.6,1052.5L1047.2,1241.3L1057.8,1205.4L1068.4,1248.0L1079.0,1256.9L1089.6,1207.8L1100.2,1011.2L1110.8,1122.6L1121.4,1145.1L1132.0,1172.7L1142.6,1229.7L1153.2,1198.7L1163.8,1120.3L1174.4,1307.0L1185.0,1019.2L1195.6,1130.0L1206.2,1152.4L1216.8,1206.9L1227.4,1074.8L1238.0,1271.6L1248.6,1164.6L1259.1,1234.1L1269.7,1167.1L1280.3,1043.0L1290.9,1227.6L1301.5,1263.6L1312.1,1134.8L1322.7,1157.7L1333.3,1209.3L1343.9,1198.6L1354.5,1108.5L1365.1,1231.7L1375.7,1219.6L1386.3,1249.4L1396.9,1130.7L1407.5,1085.6L1418.1,1263.0L1428.7,1276.9L1439.3,1103.3L1449.9,1107.6L1460.5,1314.3L1471.1,1238.7L1481.7,1164.4L1492.3,1263.5L1502.9,1206.5L1513.5,1142.5L1524.1,1224.6L1534.7,1236.6L1545.3,1266.0L1555.9,1194.2L1566.5,1268.9L1577.1,1197.9L1587.7,1067.2L1598.3,1149.0L1608.9,1239.3L1619.5,1324.2L1630.1,1198.4L1640.7,1132.1L1651.3,1133.6L1661.9,1254.8L1672.5,1216.1L1683.1,1228.0L1693.7,1236.9L1704.3,1271.8L1714.9,1162.5L1725.5,1093.0L1736.1,1222.8L1746.7,1227.6L1757.3,1351.1L1767.9,1260.9L1778.5,1110.2L1789.1,1032.1L1799.7,1311.3L1810.3,1018.7L1820.9,1175.3L1831.5,1251.2L1842.1,1256.6L1852.7,1234.0L1863.3,1222.8L1873.9,1212.0L1884.5,1055.8L1895.1,1286.0L1905.7,1367.4L1916.3,1195.3L1926.9,1232.9L1937.5,1381.0L1948.1,1192.0L1958.7,1412.0L1969.3,1225.3L1979.9,1224.5L1990.5,1238.6L2001.1,1300.8L2011.7,1136.7L2022.3,1274.3L2032.9,1090.8L2043.5,1170.2L2054.1,1371.5L2064.7,1247.3L2075.3,1233.7L2085.9,1283.1L2096.5,1466.6L2107.1,1322.4L2117.7,1231.5L2128.3,1290.2L2138.9,1353.7L2149.5,1220.2L2160.1,1361.0L2170.7,1294.0L2181.3,1288.9L2191.9,1470.1L2202.5,1359.1L2213.1,1487.2"/>
<path d="M315.8,1127.9L326.4,1142.8L337.0,1214.2L347.6,1102.1L358.2,1250.8L368.8,1105.9L379.4,1104.3L390.0,975.8L400.6,1166.2L411.2,1126.2L421.8,1111.1L432.4,1198.6L443.0,1220.5L453.6,1128.3L464.2,1115.6L474.8,1194.1L485.4,1077.6L496.0,1172.4L506.6,1170.2L517.2,1135.0L527.8,1133.8L538.4,1215.6L549.0,1175.3L559.6,1171.2L570.2,1208.3L580.8,1200.2L591.4,1188.0L602.0,1065.8L612.6,1200.2L623.2,1110.2L633.8,1142.8L644.4,1138.9L655.0,1161.2L665.6,1158.5L676.2,1117.6L686.8,1185.6L697.4,1153.5L708.0,1072.2L718.6,1049.1L729.2,1123.0L739.8,1080.7L750.4,1160.6L761.0,1066.5L771.6,1018.7L782.2,1087.8L792.8,1118.2L803.4,1301.4L814.0,1179.0L824.6,1129.2L835.2,1224.7L845.8,1114.5L856.4,1112.6L867.0,1121.2L877.6,1129.0L888.2,1133.1L898.8,1076.8L909.4,1027.9L920.0,1150.8L930.6,1153.4L941.2,1205.5L951.8,1242.9L962.4,1208.5L973.0,1222.4L983.6,1036.1L994.2,1160.4L1004.8,1069.7L1015.4,1250.0L1026.0,1037.8L1036.6,954.3L1047.2,1115.5L1057.8,1162.2L1068.4,1093.7L1079.0,1181.3L1089.6,1135.9L1100.2,1089.9L1110.8,1162.9L1121.4,1140.9L1132.0,1143.0L1142.6,1272.1L1153.2,1246.4L1163.8,1105.7L1174.4,1085.0L1185.0,1184.1L1195.6,1162.3L1206.2,1188.0L1216.8,1189.1L1227.4,1042.7L1238.0,1016.5L1248.6,1057.1L1259.1,1076.5L1269.7,1215.8L1280.3,1144.3L1290.9,1069.5L1301.5,1187.5L1312.1,1248.0L1322.7,1136.5L1333.3,1372.1L1343.9,1211.4L1354.5,1230.0L1365.1,1229.8L1375.7,1060.3L1386.3,1152.2L1396.9,1041.0L1407.5,1159.1L1418.1,1224.7L1428.7,1277.7L1439.3,1231.5L1449.9,1115.1L1460.5,1251.3L1471.1,1272.5L1481.7,1222.4L1492.3,1128.0L1502.9,1343.1L1513.5,1321.4L1524.1,1204.6L1534.7,1353.9L1545.3,1150.9L1555.9,1054.8L1566.5,1129.1L1577.1,1136.2L1587.7,1167.9L1598.3,1138.4L1608.9,1316.4L1619.5,1193.0L1630.1,1122.5L1640.7,1219.8L1651.3,1120.1L1661.9,1265.1L1672.5,1203.4L1683.1,1253.4L1693.7,1117.1L1704.3,1231.2L1714.9,1247.5L1725.5,1272.0L1736.1,1135.0L1746.7,1115.9L1757.3,1188.1L1767.9,1302.0L1778.5,1275.2L1789.1,1220.6L1799.7,1332.6L1810.3,1327.2L1820.9,1186.2L1831.5,1265.5L1842.1,1202.9L1852.7,1197.3L1863.3,1257.8L1873.9,1238.2L1884.5,1144.8L1895.1,1333.6L1905.7,1275.5L1916.3,1318.8L1926.9,1250.9L1937.5,1150.1L1948.1,1434.1L1958.7,1218.0L1969.3,1306.3L1979.9,1231.6L1990.5,1289.9L2001.1,1310.1L2011.7,1231.0L2022.3,1355.9L2032.9,1334.7L2043.5,1272.6L2054.1,1281.6L2064.7,1192.9L2075.3,1378.6L2085.9,1263.5L2096.5,1368.7L2107.1,1226.8L2117.7,1293.3L2128.3,1308.5L2138.9,1353.7L2149.5,1372.3L2160.1,1176.4L2170.7,1305.3L2181.3,1399.5L2191.9,1413.9L2202.5,1346.7L2213.1,1305.0"/>
<path d="M315.8,1105.5L326.4,1051.9L337.0,1046.0L347.6,1176.7L358.2,1073.1L368.8,1118.9L379.4,1194.7L390.0,1127.5L400.6,1107.9L411.2,1237.7L421.8,1134.8L432.4,1169.1L443.0,1137.9L453.6,1130.2L464.2,1146.1L474.8,1145.1L485.4,1188.5L496.0,1173.3L506.6,1212.0L517.2,1215.5L527.8,1273.2L538.4,1174.2L549.0,1143.6L559.6,1155.5L570.2,1118.4L580.8,1226.5L591.4,1053.8L602.0,1145.9L612.6,1088.7L623.2,1103.1L633.8,1159.8L644.4,1249.9L655.0,988.0L665.6,1166.7L676.2,1148.9L686.8,1014.6L697.4,1068.5L708.0,1071.1L718.6,1333.4L729.2,1199.4L739.8,1044.5L750.4,1092.9L761.0,1302.8L771.6,1185.4L782.2,1263.0L792.8,1191.9L803.4,1198.6L814.0,1296.8L824.6,1055.8L835.2,1200.1L845.8,1108.2L856.4,1266.0L867.0,1181.3L877.6,1212.5L888.2,1167.2L898.8,1131.3L909.4,1233.2L920.0,1126.5L930.6,1127.8L941.2,1197.3L951.8,1135.9L962.4,1174.4L973.0,1248.4L983.6,1195.1L994.2,1272.4L1004.8,1071.0L1015.4,1153.9L1026.0,1053.0L1036.6,1095.9L1047.2,1125.1L1057.8,1123.0L1068.4,1211.0L1079.0,1132.5L1089.6,1119.5L1100.2,972.4L1110.8,1122.1L1121.4,1353.4L1132.0,1168.7L1142.6,1143.0L1153.2,1166.3L1163.8,1013.4L1174.4,1089.2L1185.0,1157.8L1195.6,1053.7L1206.2,1177.6L1216.8,1234.9L1227.4,1050.3L1238.0,1132.7L1248.6,1281.8L1259.1,1130.4L1269.7,1227.4L1280.3,1205.0L1290.9,1174.6L1301.5,1217.2L1312.1,1203.1L1322.7,1198.2L1333.3,1204.4L1343.9,1201.3L1354.5,1117.3L1365.1,1149.7L1375.7,1066.2L1386.3,1232.4L1396.9,1117.4L1407.5,1225.5L1418.1,1221.8L1428.7,1199.5L1439.3,1264.2L1449.9,1004.4L1460.5,1262.8L1471.1,1169.3L1481.7,1094.7L1492.3,1258.3L1502.9,1075.8L1513.5,1127.8L1524.1,1105.3L1534.7,1218.2L1545.3,1204.1L1555.9,1123.0L1566.5,1252.8L1577.1,1070.7L1587.7,1149.7L1598.3,1113.8L1608.9,1119.3L1619.5,1112.1L1630.1,1223.0L1640.7,1224.1L1651.3,1218.7L1661.9,1217.5L1672.5,1332.8L1683.1,1269.9L1693.7,1008.1L1704.3,1143.8L1714.9,1105.0L1725.5,1204.6L1736.1,1272.8L1746.7,1167.2L1757.3,1160.0L1767.9,1236.8L1778.5,1212.1L1789.1,1000.2L1799.7,1328.5L1810.3,1207.7L1820.9,1272.8L1831.5,1222.0L1842.1,1263.2L1852.7,1167.1L1863.3,1376.1L1873.9,1353.5L1884.5,1298.6L1895.1,1262.2L1905.7,1203.6L1916.3,1215.7L1926.9,1188.4L1937.5,1351.9L1948.1,1301.8L1958.7,1325.6L1969.3,1188.1L1979.9,1334.6L1990.5,1111.5L2001.1,1349.6L2011.7,1190.7L2022.3,1382.7L2032.9,1168.8L2043.5,1350.4L2054.1,1381.7L2064.7,1301.5L2075.3,1294.3L2085.9,1242.6L2096.5,1204.9L2107.1,1331.3L2117.7,1305.2L2128.3,1316.8L2138.9,1182.2L2149.5,1407.0L2160.1,1339.6L2170.7,1235.8L2181.3,1313.0L2191.9,1317.6L2202.5,1279.4L2213.1,1332.5"/>
<path d="M315.8,1138.9L326.4,1092.5L337.0,1177.1L347.6,1068.0L358.2,1141.7L368.8,1225.0L379.4,1159.8L390.0,1128.9L400.6,1236.5L411.2,1256.7L421.8,1238.7L432.4,1207.9L443.0,1169.4L453.6,1173.1L464.2,1123.4L474.8,994.4L485.4,1277.0L496.0,1211.7L506.6,1186.4L517.2,1101.8L527.8,1283.2L538.4,1110.2L549.0,1042.6L559.6,1163.8L570.2,1182.0L580.8,960.9L591.4,1100.6L602.0,1332.7L612.6,1185.0L623.2,1094.5L633.8,1161.9L644.4,1108.2L655.0,1259.2L665.6,1168.0L676.2,1194.7L686.8,1107.7L697.4,1243.6L708.0,1137.5L718.6,1121.0L729.2,1301.4L739.8,1064.2L750.4,1128.3L761.0,1126.7L771.6,1032.0L782.2,1147.3L792.8,1133.6L803.4,1153.0L814.0,1118.0L824.6,1149.5L835.2,1152.0L845.8,1005.3L856.4,1182.5L867.0,1083.9L877.6,1269.4L888.2,1192.2L898.8,1307.4L909.4,1117.0L920.0,1150.9L930.6,1270.7L941.2,1084.7L951.8,1150.9L962.4,1056.9L973.0,1044.8L983.6,1123.4L994.2,1216.5L1004.8,1177.1L1015.4,1142.2L1026.0,1165.2L1036.6,1064.0L1047.2,1249.8L1057.8,1418.7L1068.4,1141.1L1079.0,1071.8L1089.6,1211.1L1100.2,1277.7L1110.8,1159.8L1121.4,1107.2L1132.0,1231.4L1142.6,1214.0L1153.2,1169.1L1163.8,1212.2L1174.4,1207.3L1185.0,1219.7L1195.6,1077.8L1206.2,1297.7L1216.8,1159.9L1227.4,1223.0L1238.0,1239.8L1248.6,1331.4L1259.1,1243.3L1269.7,1180.0L1280.3,1136.9L1290.9,1209.0L1301.5,1065.4L1312.1,1257.5L1322.7,1125.8L1333.3,1255.8L1343.9,1204.7L1354.5,1127.6L1365.1,1158.7L1375.7,1282.1L1386.3,1169.4L1396.9,1225.7L1407.5,1282.7L1418.1,1309.2L1428.7,1189.9L1439.3,1222.9L1449.9,1172.3L1460.5,1180.9L1471.1,1305.1L1481.7,1228.9L1492.3,1218.3L1502.9,1131.7L1513.5,1176.1L1524.1,1116.7L1534.7,1257.1L1545.3,1220.4L1555.9,1183.5L1566.5,1187.5L1577.1,1155.5L1587.7,1212.5L1598.3,1203.0L1608.9,1183.7L1619.5,1251.9L1630.1,1276.6L1640.7,1056.1L1651.3,1126.4L1661.9,1292.6L1672.5,1319.6L1683.1,1189.6L1693.7,1231.5L1704.3,1164.5L1714.9,1310.8L1725.5,1314.0L1736.1,1265.5L1746.7,1113.6L1757.3,1265.2L1767.9,1276.4L1778.5,1115.8L1789.1,1135.3L1799.7,1381.6L1810.3,1357.3L1820.9,1089.5L1831.5,1180.1L1842.1,1208.9L1852.7,1284.6L1863.3,1248.2L1873.9,1028.3L1884.5,1245.4L1895.1,1151.6L1905.7,1227.4L1916.3,1303.0L1926.9,1268.4L1937.5,1214.7L1948.1,1260.4L1958.7,1368.9L1969.3,1184.4L1979.9,1425.6L1990.5,1241.4L2001.1,1282.2L2011.7,1202.5L2022.3,1072.7L2032.9,1284.2L2043.5,1291.5L2054.1,1167.0L2064.7,1321.8L2075.3,1330.7L2085.9,1333.5L2096.5,1282.5L2107.1,1300.0L2117.7,1397.2L2128.3,1365.4L2138.9,1273.9L2149.5,1147.5L2160.1,1124.5L2170.7,1460.0L2181.3,1366.3L2191.9,1467.1L2202.5,1402.7L2213.1,1425.0"/>
<path d="M315.8,1159.1L326.4,1119.5L337.0,963.2L347.6,1099.1L358.2,1051.1L368.8,1097.8L379.4,1263.8L390.0,1087.4L400.6,1256.8L411.2,1180.7L421.8,1105.5L432.4,928.9L443.0,1121.6L453.6,1076.1L464.2,1075.6L474.8,1133.1L485.4,1112.0L496.0,1092.4L506.6,1110.3L517.2,1065.6L527.8,1101.2L538.4,1018.6L549.0,1062.3L559.6,1206.5L570.2,1117.0L580.8,1173.3L591.4,1139.7L602.0,1202.1L612.6,1101.8L623.2,1145.3L633.8,1077.9L644.4,1159.9L655.0,1171.8L665.6,1202.0L676.2,1227.2L686.8,1047.6L697.4,1142.9L708.0,1193.7L718.6,1205.5L729.2,1158.1L739.8,1053.4L750.4,1268.3L761.0,1199.1L771.6,1169.4L782.2,1189.8L792.8,1170.4L803.4,1177.7L814.0,1180.6L824.6,1251.3L835.2,1136.5L845.8,1060.7L856.4,1166.8L867.0,1158.5L877.6,1229.5L888.2,1235.5L898.8,1137.3L909.4,1183.4L920.0,1197.0L930.6,1120.6L941.2,1038.4L951.8,1128.1L962.4,1184.6L973.0,1107.0L983.6,1032.2L994.2,1120.2L1004.8,1282.1L1015.4,1182.2L1026.0,1168.3L1036.6,1141.1L1047.2,1261.4L1057.8,1131.5L1068.4,1131.9L1079.0,1202.4L1089.6,1181.7L1100.2,1095.5L1110.8,1275.9L1121.4,1042.3L1132.0,1253.0L1142.6,1158.2L1153.2,1254.0L1163.8,1174.3L1174.4,1092.7L1185.0,1136.4L1195.6,1287.5L1206.2,1218.6L1216.8,1245.9L1227.4,1196.7L1238.0,1303.6L1248.6,1254.8L1259.1,1107.0L1269.7,1162.0L1280.3,1265.6L1290.9,1193.3L1301.5,1114.3L1312.1,1078.5L1322.7,1186.2L1333.3,1257.5L1343.9,1084.2L1354.5,1258.6L1365.1,1290.0L1375.7,1157.3L1386.3,1128.8L1396.9,1174.8L1407.5,1412.3L1418.1,1122.8L1428.7,1185.6L1439.3,1355.8L1449.9,1216.9L1460.5,1169.6L1471.1,1306.0L1481.7,1140.7L1492.3,1063.1L1502.9,1154.7L1513.5,1165.0L1524.1,1250.0L1534.7,1290.7L1545.3,1177.7L1555.9,1132.0L1566.5,1167.2L1577.1,1138.7L1587.7,1256.5L1598.3,1242.2L1608.9,1424.8L1619.5,1261.5L1630.1,1254.9L1640.7,1146.4L1651.3,1101.0L1661.9,1160.0L1672.5,1213.2L1683.1,1244.4L1693.7,1232.6L1704.3,1166.0L1714.9,1197.1L1725.5,1246.1L1736.1,1209.0L1746.7,1183.0L1757.3,1158.5L1767.9,1112.2L1778.5,1292.6L1789.1,1264.1L1799.7,1307.2L1810.3,1353.5L1820.9,1082.7L1831.5,1105.5L1842.1,1297.5L1852.7,1131.0L1863.3,1243.4L1873.9,1233.0L1884.5,1219.2L1895.1,1386.3L1905.7,1199.6L1916.3,1237.7L1926.9,1231.9L1937.5,1276.8L1948.1,1188.5L1958.7,1235.8L1969.3,1335.4L1979.9,1401.2L1990.5,1369.0L2001.1,1339.1L2011.7,1304.4L2022.3,1279.0L2032.9,1409.7L2043.5,1321.0L2054.1,1240.8L2064.7,1255.9L2075.3,1265.5L2085.9,1574.0L2096.5,1262.5L2107.1,1386.8L2117.7,1365.9L2128.3,1324.7L2138.9,1207.1L2149.5,1197.9L2160.1,1254.9L2170.7,1265.6L2181.3,1320.7L2191.9,1374.3L2202.5,1253.5L2213.1,1335.1"/>
<path d="M315.8,1130.0L326.4,1189.4L337.0,1085.5L347.6,1164.4L358.2,1181.8L368.8,1047.7L379.4,1056.0L390.0,1196.8L400.6,1303.2L411.2,1003.4L421.8,1215.3L432.4,1019.1L443.0,1169.1L453.6,1162.3L464.2,1202.9L474.8,1260.7L485.4,961.8L496.0,1079.2L506.6,1150.2L517.2,1196.7L527.8,1191.9L538.4,1203.4L549.0,1156.9L559.6,1159.1L570.2,1153.5L580.8,1181.4L591.4,1094.5L602.0,1283.6L612.6,1106.5L623.2,1230.6L633.8,1197.6L644.4,1241.2L655.0,1066.3L665.6,1138.6L676.2,1056.4L686.8,1197.9L697.4,893.2L708.0,1024.4L718.6,1273.4L729.2,1154.8L739.8,1114.4L750.4,1081.6L761.0,1187.1L771.6,1144.6L782.2,1241.1L792.8,1063.9L803.4,1116.9L814.0,1135.7L824.6,1181.7L835.2,1184.6L845.8,1131.9L856.4,1139.6L867.0,1203.6L877.6,1182.6L888.2,1197.7L898.8,1242.3L909.4,1177.8L920.0,1138.9L930.6,1137.9L941.2,1263.2L951.8,1180.7L962.4,1277.1L973.0,1161.6L983.6,1200.1L994.2,1185.0L1004.8,1019.0L1015.4,1158.5L1026.0,1131.1L1036.6,1246.7L1047.2,1174.6L1057.8,1023.3L1068.4,1188.9L1079.0,1196.3L1089.6,1157.8L1100.2,1195.0L1110.8,1183.4L1121.4,1098.6L1132.0,1271.9L1142.6,1070.9L1153.2,1202.4L1163.8,1101.7L1174.4,1094.3L1185.0,1180.6L1195.6,1078.4L1206.2,1285.3L1216.8,1163.2L1227.4,1177.1L1238.0,1145.6L1248.6,1227.5L1259.1,1227.3L1269.7,1121.0L1280.3,1282.3L1290.9,1223.3L1301.5,1151.5L1312.1,1132.5L1322.7,1069.8L1333.3,1142.2L1343.9,1191.0L1354.5,1199.7L1365.1,887.1L1375.7,1142.3L1386.3,1128.5L1396.9,1213.4L1407.5,1218.5L1418.1,1100.6L1428.7,1280.5L1439.3,1173.5L1449.9,1119.2L1460.5,1047.1L1471.1,1082.0L1481.7,1123.8L1492.3,1168.4L1502.9,1232.1L1513.5,1157.4L1524.1,1321.7L1534.7,1225.2L1545.3,1167.4L1555.9,1256.0L1566.5,1278.9L1577.1,1253.1L1587.7,1250.0L1598.3,1335.2L1608.9,1256.8L1619.5,1418.8L1630.1,1085.6L1640.7,1232.3L1651.3,1149.5L1661.9,1161.2L1672.5,1318.5L1683.1,1214.6L1693.7,1247.2L1704.3,1111.5L1714.9,1241.5L1725.5,1346.7L1736.1,1244.5L1746.7,1215.3L1757.3,1352.6L1767.9,1234.9L1778.5,1223.2L1789.1,1224.9L1799.7,1279.4L1810.3,1344.8L1820.9,1211.6L1831.5,1256.4L1842.1,1268.8L1852.7,1338.4L1863.3,1318.5L1873.9,1201.0L1884.5,1455.3L1895.1,1315.5L1905.7,1354.1L1916.3,1323.7L1926.9,1304.0L1937.5,1319.5L1948.1,1210.3L1958.7,1353.0L1969.3,1268.0L1979.9,1252.0L1990.5,1215.5L2001.1,1223.8L2011.7,1248.1L2022.3,1258.1L2032.9,1291.1L2043.5,1368.4L2054.1,1319.7L2064.7,1184.6L2075.3,1386.2L2085.9,1293.2L2096.5,1323.2L2107.1,1350.8L2117.7,1058.1L2128.3,1167.8L2138.9,1429.5L2149.5,1430.8L2160.1,1421.2L2170.7,1400.6L2181.3,1213.4L2191.9,1391.5L2202.5,1298.6L2213.1,1353.3"/>
<path d="M315.8,1176.8L326.4,1097.3L337.0,1156.8L347.6,1058.9L358.2,1074.5L368.8,1150.0L379.4,1045.6L390.0,990.4L400.6,1142.2L411.2,1193.4L421.8,1165.7L432.4,1083.4L443.0,1206.4L453.6,1257.2L464.2,1184.4L474.8,1125.6L485.4,999.4L496.0,1242.9L506.6,1133.0L517.2,1161.6L527.8,1126.1L538.4,1283.7L549.0,1067.3L559.6,1171.6L570.2,1042.5L580.8,1159.7L591.4,1198.2L602.0,1122.1L612.6,1165.9L623.2,1107.4L633.8,1222.4L644.4,1113.7L655.0,1052.7L665.6,1214.0L676.2,1159.7L686.8,1143.1L697.4,1208.0L708.0,1101.3L718.6,1146.4L729.2,963.2L739.8,1197.6L750.4,1235.7L761.0,1084.9L771.6,1203.4L782.2,1139.3L792.8,1124.3L803.4,933.0L814.0,1185.4L824.6,1224.7L835.2,1090.0L845.8,1398.1L856.4,1208.6L867.0,1166.9L877.6,1216.9L888.2,1082.7L898.8,1189.9L909.4,1087.6L920.0,1086.2L930.6,1190.9L941.2,1179.1L951.8,1169.4L962.4,1188.8L973.0,1254.8L983.6,1079.1L994.2,1108.9L1004.8,1166.7L1015.4,1282.5L1026.0,1141.0L1036.6,1122.7L1047.2,1246.8L1057.8,1193.6L1068.4,1195.7L1079.0,1177.0L1089.6,1006.2L1100.2,1149.7L1110.8,1004.0L1121.4,1208.8L1132.0,1252.2L1142.6,1188.2L1153.2,1304.7L1163.8,1162.3L1174.4,1222.4L1185.0,1135.3L1195.6,1222.3L1206.2,1117.9L1216.8,1279.7L1227.4,1102.9L1238.0,1057.4L1248.6,1247.5L1259.1,1337.8L1269.7,1086.7L1280.3,1210.2L1290.9,1193.4L1301.5,1265.7L1312.1,1257.1L1322.7,1176.4L1333.3,1166.7L1343.9,1291.3L1354.5,1154.5L1365.1,1158.2L1375.7,1213.5L1386.3,1118.2L1396.9,938.4L1407.5,1307.4L1418.1,1304.0L1428.7,1206.5L1439.3,1246.2L1449.9,1194.1L1460.5,1271.0L1471.1,1182.5L1481.7,1206.3L1492.3,1042.9L1502.9,1026.8L1513.5,1237.0L1524.1,1300.5L1534.7,1296.1L1545.3,1158.2L1555.9,924.4L1566.5,1285.0L1577.1,1170.9L1587.7,1177.1L1598.3,1262.1L1608.9,1227.7L1619.5,1118.0L1630.1,1039.1L1640.7,1135.9L1651.3,1178.5L1661.9,1165.6L1672.5,1123.7L1683.1,1100.8L1693.7,1221.7L1704.3,1270.0L1714.9,1232.8L1725.5,1250.8L1736.1,1109.5L1746.7,1111.3L1757.3,1192.0L1767.9,1331.9L1778.5,1296.0L1789.1,1270.5L1799.7,1201.5L1810.3,1302.5L1820.9,1184.0L1831.5,1216.7L1842.1,1285.9L1852.7,1338.2L1863.3,1074.0L1873.9,1267.8L1884.5,1404.2L1895.1,1163.8L1905.7,1343.2L1916.3,1187.8L1926.9,1461.1L1937.5,1241.5L1948.1,1162.1L1958.7,1279.0L1969.3,1294.0L1979.9,1411.2L1990.5,1255.8L2001.1,1243.5L2011.7,1312.4L2022.3,1385.8L2032.9,1243.3L2043.5,1500.3L2054.1,1265.5L2064.7,1175.5L2075.3,1359.4L2085.9,1369.3L2096.5,1309.5L2107.1,1320.4L2117.7,1384.4L2128.3,1282.4L2138.9,1344.9L2149.5,1326.1L2160.1,1359.4L2170.7,1294.6L2181.3,1371.7L2191.9,1341.2L2202.5,1319.4L2213.1,1538.7"/>
<path d="M315.8,1291.9L326.4,1184.6L337.0,1056.6L347.6,1169.7L358.2,1211.2L368.8,1178.3L379.4,1039.6L390.0,1152.8L400.6,1074.1L411.2,1173.4L421.8,1133.6L432.4,1200.6L443.0,1052.1L453.6,1249.8L464.2,1048.2L474.8,1076.8L485.4,1019.8L496.0,1062.1L506.6,1262.0L517.2,1189.4L527.8,1240.9L538.4,1159.6L549.0,1142.2L559.6,1024.2L570.2,1200.6L580.8,1136.9L591.4,1055.7L602.0,1143.7L612.6,1208.0L623.2,1195.1L633.8,954.2L644.4,1239.5L655.0,1125.6L665.6,1212.0L676.2,1266.9L686.8,1180.3L697.4,1192.2L708.0,1313.1L718.6,1204.5L729.2,1277.2L739.8,1131.3L750.4,1088.9L761.0,1060.9L771.6,1004.4L782.2,1067.6L792.8,1098.9L803.4,1188.5L814.0,1165.6L824.6,1059.3L835.2,946.0L845.8,1124.3L856.4,1165.6L867.0,1189.0L877.6,1068.4L888.2,1037.9L898.8,1115.1L909.4,1204.8L920.0,1082.5L930.6,1299.1L941.2,1081.6L951.8,1085.4L962.4,1147.3L973.0,1111.2L983.6,1160.0L994.2,1151.1L1004.8,1127.4L1015.4,1354.8L1026.0,1061.9L1036.6,1214.6L1047.2,1097.0L1057.8,1211.5L1068.4,1167.6L1079.0,1329.5L1089.6,1016.0L1100.2,1126.3L1110.8,1116.8L1121.4,1003.2L1132.0,1144.5L1142.6,1201.6L1153.2,1248.0L1163.8,1236.6L1174.4,1170.1L1185.0,1250.5L1195.6,1154.3L1206.2,1162.3L1216.8,1162.6L1227.4,1104.9L1238.0,1268.5L1248.6,1202.8L1259.1,1291.1L1269.7,1120.0L1280.3,1288.9L1290.9,1274.7L1301.5,1220.3L1312.1,1162.2L1322.7,1162.9L1333.3,1064.5L1343.9,1167.8L1354.5,1170.6L1365.1,1231.5L1375.7,1222.9L1386.3,1169.3L1396.9,1201.6L1407.5,1252.1L1418.1,1237.4L1428.7,1136.2L1439.3,1199.3L1449.9,1092.6L1460.5,1232.5L1471.1,1176.0L1481.7,1209.2L1492.3,1197.0L1502.9,1250.6L1513.5,1097.6L1524.1,1145.5L1534.7,1171.8L1545.3,1131.9L1555.9,1167.1L1566.5,1141.7L1577.1,1032.8L1587.7,1272.6L1598.3,1266.3L1608.9,1266.2L1619.5,1218.3L1630.1,1190.8L1640.7,1227.1L1651.3,1279.4L1661.9,1367.3L1672.5,1209.5L1683.1,1188.0L1693.7,1193.9L1704.3,1238.1L1714.9,1150.3L1725.5,1110.1L1736.1,1212.5L1746.7,1201.6L1757.3,1253.2L1767.9,1252.2L1778.5,1128.4L1789.1,1242.4L1799.7,1203.2L1810.3,1199.8L1820.9,1181.8L1831.5,1162.0L1842.1,1211.3L1852.7,1311.0L1863.3,1334.0L1873.9,1317.9L1884.5,1354.8L1895.1,1311.2L1905.7,1318.4L1916.3,1231.4L1926.9,1134.6L1937.5,1204.1L1948.1,1327.3L1958.7,1233.0L1969.3,1277.0L1979.9,1243.5L1990.5,1237.7L2001.1,1324.5L2011.7,1350.5L2022.3,1246.1L2032.9,1306.2L2043.5,1354.7L2054.1,1199.3L2064.7,1352.4L2075.3,1297.2L2085.9,1382.3L2096.5,1428.6L2107.1,1221.0L2117.7,1567.0L2128.3,1242.4L2138.9,1152.9L2149.5,1245.2L2160.1,1383.5L2170.7,1402.5L2181.3,1439.3L2191.9,1371.3L2202.5,1225.0L2213.1,1360.5"/>
<path d="M315.8,1264.8L326.4,1115.4L337.0,1107.6L347.6,1069.5L358.2,1068.1L368.8,1113.6L379.4,1120.4L390.0,1099.6L400.6,1067.3L411.2,1053.3L421.8,1141.1L432.4,1175.4L443.0,1128.6L453.6,1146.1L464.2,1111.3L474.8,1330.6L485.4,1127.2L496.0,1221.3L506.6,1041.9L517.2,1163.8L527.8,1130.0L538.4,1181.8L549.0,1196.0L559.6,1251.3L570.2,1156.8L580.8,1169.8L591.4,1246.7L602.0,1178.0L612.6,1169.4L623.2,1273.0L633.8,1210.2L644.4,1116.9L655.0,1217.3L665.6,1118.2L676.2,1096.5L686.8,1039.6L697.4,1292.4L708.0,1227.7L718.6,1216.7L729.2,1218.3L739.8,1260.7L750.4,1015.8L761.0,1164.0L771.6,1254.0L782.2,1134.9L792.8,1149.9L803.4,1043.3L814.0,1111.5L824.6,1059.5L835.2,1252.2L845.8,1079.6L856.4,1102.1L867.0,1112.0L877.6,1175.9L888.2,1121.8L898.8,1097.7L909.4,1116.0L920.0,1214.6L930.6,1101.5L941.2,970.3L951.8,1118.0L962.4,1080.1L973.0,1192.7L983.6,1127.3L994.2,1196.5L1004.8,1046.9L1015.4,992.1L1026.0,1058.1L1036.6,1110.1L1047.2,1058.3L1057.8,1258.4L1068.4,1119.5L1079.0,1171.6L1089.6,1160.0L1100.2,1325.8L1110.8,1130.4L1121.4,1094.7L1132.0,1209.2L1142.6,1132.1L1153.2,1171.6L1163.8,1156.4L1174.4,1233.5L1185.0,1180.6L1195.6,1450.6L1206.2,1295.0L1216.8,1284.0L1227.4,1225.9L1238.0,1322.0L1248.6,1126.3L1259.1,1170.6L1269.7,1170.6L1280.3,1249.7L1290.9,1156.0L1301.5,1182.3L1312.1,1109.4L1322.7,1305.7L1333.3,1218.9L1343.9,1106.5L1354.5,1216.4L1365.1,1177.5L1375.7,1154.2L1386.3,1200.8L1396.9,1153.5L1407.5,1253.0L1418.1,1093.6L1428.7,1166.1L1439.3,1205.6L1449.9,1151.3L1460.5,1227.6L1471.1,1120.6L1481.7,1003.1L1492.3,1169.0L1502.9,1236.7L1513.5,1217.9L1524.1,1147.7L1534.7,1194.8L1545.3,1251.4L1555.9,1194.0L1566.5,1263.4L1577.1,1217.8L1587.7,1178.7L1598.3,1104.5L1608.9,1224.6L1619.5,1385.6L1630.1,1179.5L1640.7,1191.5L1651.3,1144.7L1661.9,1181.6L1672.5,1294.7L1683.1,1225.3L1693.7,1262.5L1704.3,1284.5L1714.9,1332.1L1725.5,1077.1L1736.1,1201.6L1746.7,1172.5L1757.3,1085.6L1767.9,1125.8L1778.5,1100.4L1789.1,1072.6L1799.7,1275.4L1810.3,1156.8L1820.9,1347.9L1831.5,1284.1L1842.1,1207.3L1852.7,1138.9L1863.3,1250.4L1873.9,1182.6L1884.5,1325.1L1895.1,1256.3L1905.7,1154.3L1916.3,1276.8L1926.9,1293.2L1937.5,1225.3L1948.1,1437.2L1958.7,1127.0L1969.3,1211.0L1979.9,1372.5L1990.5,1273.3L2001.1,1453.8L2011.7,1120.8L2022.3,1235.1L2032.9,1274.0L2043.5,1193.2L2054.1,1269.8L2064.7,1318.9L2075.3,1326.6L2085.9,1254.7L2096.5,1275.9L2107.1,1184.2L2117.7,1313.4L2128.3,1265.5L2138.9,1226.4L2149.5,1442.8L2160.1,1175.2L2170.7,1320.8L2181.3,1170.0L2191.9,1395.6L2202.5,1530.2L2213.1,1379.3"/>
<path d="M315.8,1033.3L326.4,1106.4L337.0,1112.3L347.6,1134.4L358.2,1081.7L368.8,1161.7L379.4,1273.1L390.0,1135.5L400.6,1233.9L411.2,1240.1L421.8,1086.2L432.4,1149.9L443.0,1101.7L453.6,1176.0L464.2,1173.0L474.8,1244.0L485.4,1110.0L496.0,1155.2L506.6,1228.4L517.2,1044.8L527.8,1205.7L538.4,1148.0L549.0,1158.1L559.6,1196.6L570.2,1147.7L580.8,1228.8L591.4,1135.7L602.0,1342.9L612.6,1190.4L623.2,1208.8L633.8,1097.7L644.4,1100.6L655.0,1067.8L665.6,1312.2L676.2,1236.4L686.8,1133.2L697.4,1120.3L708.0,949.7L718.6,1021.4L729.2,1100.2L739.8,1098.0L750.4,1214.6L761.0,1112.9L771.6,1085.5L782.2,1188.3L792.8,1132.5L803.4,1293.0L814.0,1062.5L824.6,1201.6L835.2,1210.6L845.8,1104.0L856.4,1107.4L867.0,1176.7L877.6,1112.2L888.2,1193.4L898.8,1191.8L909.4,1088.4L920.0,1240.0L930.6,1180.2L941.2,1183.0L951.8,1167.0L962.4,1072.5L973.0,986.0L983.6,1199.4L994.2,1158.8L1004.8,1060.2L1015.4,1118.1L1026.0,1119.9L1036.6,1094.5L1047.2,936.5L1057.8,1135.6L1068.4,1164.0L1079.0,1101.3L1089.6,1254.9L1100.2,1155.3L1110.8,1170.1L1121.4,1169.1L1132.0,1101.6L1142.6,1086.1L1153.2,1123.3L1163.8,1167.2L1174.4,1078.6L1185.0,1222.1L1195.6,1223.5L1206.2,1108.5L1216.8,1168.4L1227.4,1117.0L1238.0,1266.3L1248.6,1180.8L1259.1,1236.1L1269.7,1174.1L1280.3,1225.7L1290.9,1318.1L1301.5,1306.1L1312.1,1209.7L1322.7,1161.4L1333.3,1116.1L1343.9,1114.6L1354.5,1201.5L1365.1,1159.5L1375.7,1149.6L1386.3,1138.9L1396.9,1238.1L1407.5,1119.8L1418.1,1178.2L1428.7,1085.5L1439.3,1337.7L1449.9,1086.6L1460.5,1028.1L1471.1,1098.1L1481.7,1180.2L1492.3,1226.1L1502.9,1154.1L1513.5,1117.6L1524.1,1153.1L1534.7,1317.1L1545.3,1193.7L1555.9,1322.8L1566.5,1379.6L1577.1,1152.5L1587.7,1175.0L1598.3,1282.0L1608.9,1208.1L1619.5,1232.7L1630.1,1159.5L1640.7,1343.6L1651.3,1261.5L1661.9,1150.6L1672.5,1113.2L1683.1,1212.5L1693.7,1169.0L1704.3,1194.0L1714.9,1255.1L1725.5,1190.9L1736.1,1237.8L1746.7,1164.2L1757.3,1290.5L1767.9,1170.1L1778.5,1245.8L1789.1,1297.3L1799.7,1304.5L1810.3,1177.4L1820.9,1090.9L1831.5,1259.4L1842.1,1295.3L1852.7,1211.3L1863.3,1104.7L1873.9,1147.9L1884.5,1255.9L1895.1,1233.4L1905.7,1250.0L1916.3,1144.8L1926.9,1280.7L1937.5,1328.4L1948.1,1240.1L1958.7,1269.2L1969.3,1422.1L1979.9,1250.9L1990.5,1180.6L2001.1,1238.5L2011.7,1129.0L2022.3,1379.6L2032.9,1363.5L2043.5,1378.6L2054.1,1422.4L2064.7,1211.7L2075.3,1424.9L2085.9,1376.4L2096.5,1228.7L2107.1,1318.9L2117.7,1400.2L2128.3,1314.3L2138.9,1234.1L2149.5,1228.6L2160.1,1350.9L2170.7,1397.0L2181.3,1312.0L2191.9,1431.8L2202.5,1295.7L2213.1,1177.7"/>
<path d="M315.8,1153.8L326.4,1050.6L337.0,1017.9L347.6,1117.7L358.2,1059.4L368.8,981.5L379.4,1208.6L390.0,1232.8L400.6,1208.4L411.2,1071.1L421.8,1158.7L432.4,974.0L443.0,1134.3L453.6,1136.2L464.2,1320.5L474.8,1145.4L485.4,1171.6L496.0,1195.9L506.6,1103.1L517.2,1171.9L527.8,1287.1L538.4,1260.9L549.0,1132.9L559.6,1207.6L570.2,1193.4L580.8,1014.9L591.4,1203.1L602.0,1101.2L612.6,1084.0L623.2,1215.7L633.8,1228.2L644.4,1041.5L655.0,1234.4L665.6,1186.3L676.2,1120.0L686.8,1195.5L697.4,1167.8L708.0,1283.1L718.6,1180.2L729.2,1167.5L739.8,1009.3L750.4,1224.8L761.0,1193.0L771.6,954.0L782.2,1031.3L792.8,1092.9L803.4,1192.7L814.0,1072.4L824.6,1065.5L835.2,1116.3L845.8,1076.1L856.4,1066.2L867.0,1072.7L877.6,1211.2L888.2,1173.0L898.8,1150.8L909.4,1213.4L920.0,1081.4L930.6,1101.1L941.2,1085.1L951.8,1097.2L962.4,1140.1L973.0,1235.6L983.6,1222.5L994.2,1208.9L1004.8,1119.5L1015.4,1070.6L1026.0,996.7L1036.6,1177.0L1047.2,1025.5L1057.8,1281.5L1068.4,1335.0L1079.0,1070.3L1089.6,1146.8L1100.2,1232.8L1110.8,1111.0L1121.4,1189.5L1132.0,1196.8L1142.6,1182.1L1153.2,1137.0L1163.8,1227.5L1174.4,1174.1L1185.0,1071.4L1195.6,1226.4L1206.2,1139.3L1216.8,1165.4L1227.4,1280.5L1238.0,1131.2L1248.6,1153.1L1259.1,1246.9L1269.7,1197.8L1280.3,1229.0L1290.9,1294.3L1301.5,1204.1L1312.1,1201.9L1322.7,1234.2L1333.3,1237.9L1343.9,1169.5L1354.5,1164.4L1365.1,1191.8L1375.7,1172.5L1386.3,1115.4L1396.9,1343.5L1407.5,1312.5L1418.1,1132.7L1428.7,1025.8L1439.3,1277.3L1449.9,1314.5L1460.5,1162.7L1471.1,1255.1L1481.7,1194.1L1492.3,1066.4L1502.9,1215.1L1513.5,1272.5L1524.1,1190.7L1534.7,1122.9L1545.3,1178.0L1555.9,1103.0L1566.5,1171.6L1577.1,1157.7L1587.7,1035.2L1598.3,1163.4L1608.9,1174.3L1619.5,1203.0L1630.1,1176.9L1640.7,1166.3L1651.3,1141.1L1661.9,1276.5L1672.5,1157.6L1683.1,1193.0L1693.7,1190.0L1704.3,1071.9L1714.9,1164.5L1725.5,1131.9L1736.1,1144.5L1746.7,1242.5L1757.3,1067.1L1767.9,1315.7L1778.5,1171.5L1789.1,1268.3L1799.7,1214.1L1810.3,1299.0L1820.9,1202.1L1831.5,1191.1L1842.1,1091.0L1852.7,1269.5L1863.3,1221.4L1873.9,1182.2L1884.5,1274.6L1895.1,1357.5L1905.7,1287.9L1916.3,1259.9L1926.9,1126.0L1937.5,1480.5L1948.1,1180.0L1958.7,1177.0L1969.3,1360.2L1979.9,1188.7L1990.5,1348.7L2001.1,1413.3L2011.7,1348.7L2022.3,1357.8L2032.9,1200.3L2043.5,1263.6L2054.1,1290.0L2064.7,1219.8L2075.3,1261.6L2085.9,1272.6L2096.5,1499.7L2107.1,1459.5L2117.7,1408.3L2128.3,1426.4L2138.9,1255.3L2149.5,1336.1L2160.1,1336.8L2170.7,1221.2L2181.3,1406.0L2191.9,1428.2L2202.5,1410.2L2213.1,1328.6"/>
<path d="M315.8,1234.9L326.4,1142.7L337.0,1079.2L347.6,1215.4L358.2,1124.3L368.8,1036.7L379.4,1124.9L390.0,1213.9L400.6,1083.3L411.2,1190.8L421.8,1155.5L432.4,1043.3L443.0,1238.1L453.6,1089.7L464.2,1190.0L474.8,1097.3L485.4,1144.9L496.0,1199.6L506.6,1240.6L517.2,1198.7L527.8,1240.9L538.4,1155.7L549.0,1264.5L559.6,1264.1L570.2,1011.8L580.8,1149.1L591.4,1188.7L602.0,1231.9L612.6,1142.3L623.2,1156.2L633.8,1024.2L644.4,1180.9L655.0,1196.7L665.6,1156.8L676.2,950.7L686.8,1077.2L697.4,1143.2L708.0,1198.6L718.6,1125.8L729.2,1074.6L739.8,1131.9L750.4,1087.6L761.0,1171.3L771.6,1130.9L782.2,1187.6L792.8,1147.1L803.4,1187.2L814.0,1180.6L824.6,1132.4L835.2,994.1L845.8,1399.6L856.4,1151.9L867.0,1125.7L877.6,1279.0L888.2,1259.3L898.8,1133.5L909.4,1167.2L920.0,1024.8L930.6,1243.7L941.2,1205.4L951.8,1210.2L962.4,1251.5L973.0,1187.3L983.6,1074.0L994.2,1149.1L1004.8,1123.5L1015.4,1290.0L1026.0,1107.9L1036.6,993.6L1047.2,1224.7L1057.8,1172.3L1068.4,1072.1L1079.0,1153.8L1089.6,1154.2L1100.2,1211.3L1110.8,1221.1L1121.4,1181.9L1132.0,1234.8L1142.6,1210.9L1153.2,1224.9L1163.8,1123.2L1174.4,1221.7L1185.0,1131.1L1195.6,1146.9L1206.2,1145.7L1216.8,1237.0L1227.4,1051.2L1238.0,1222.6L1248.6,1153.6L1259.1,1213.8L1269.7,1211.0L1280.3,1079.9L1290.9,1305.2L1301.5,1282.8L1312.1,1125.3L1322.7,1177.2L1333.3,1350.4L1343.9,1343.7L1354.5,1123.4L1365.1,1114.3L1375.7,1237.4L1386.3,1234.7L1396.9,1110.8L1407.5,1088.7L1418.1,1210.5L1428.7,1234.8L1439.3,1278.2L1449.9,1241.8L1460.5,1288.9L1471.1,1217.3L1481.7,1144.6L1492.3,1172.7L1502.9,1214.2L1513.5,1149.7L1524.1,1131.8L1534.7,1223.1L1545.3,1160.5L1555.9,1224.6L1566.5,1236.8L1577.1,1215.3L1587.7,1219.1L1598.3,1189.4L1608.9,1156.6L1619.5,1231.8L1630.1,1243.8L1640.7,1207.4L1651.3,1161.0L1661.9,1136.4L1672.5,1381.1L1683.1,1186.5L1693.7,1363.5L1704.3,1125.9L1714.9,1199.4L1725.5,1174.5L1736.1,1211.2L1746.7,1143.4L1757.3,1114.8L1767.9,1371.7L1778.5,1208.1L1789.1,1313.3L1799.7,1327.8L1810.3,1170.9L1820.9,1160.5L1831.5,1060.6L1842.1,1080.6L1852.7,1286.2L1863.3,1331.2L1873.9,1157.9L1884.5,1224.6L1895.1,1166.6L1905.7,1255.1L1916.3,1270.8L1926.9,1411.9L1937.5,1246.0L1948.1,1014.5L1958.7,1146.9L1969.3,1093.4L1979.9,1429.3L1990.5,1401.5L2001.1,1314.7L2011.7,1355.1L2022.3,1230.6L2032.9,1335.9L2043.5,1311.1L2054.1,1396.3L2064.7,1296.2L2075.3,1470.9L2085.9,1257.4L2096.5,1305.0L2107.1,1169.4L2117.7,1418.6L2128.3,1253.1L2138.9,1290.4L2149.5,1417.9L2160.1,1176.6L2170.7,1516.0L2181.3,1362.5L2191.9,1361.7L2202.5,1297.6L2213.1,1342.9"/>
<path d="M315.8,1090.4L326.4,1227.5L337.0,1159.7L347.6,1144.6L358.2,1082.5L368.8,1132.6L379.4,1175.7L390.0,1192.4L400.6,1201.6L411.2,966.4L421.8,1156.5L432.4,1090.7L443.0,1192.1L453.6,1178.1L464.2,1111.8L474.8,1087.6L485.4,1262.3L496.0,1234.2L506.6,1093.7L517.2,1113.6L527.8,1305.3L538.4,1138.5L549.0,1216.5L559.6,1170.0L570.2,1133.0L580.8,1224.2L591.4,1253.0L602.0,1239.1L612.6,1256.3L623.2,1086.1L633.8,1136.0L644.4,1179.8L655.0,1171.9L665.6,1134.5L676.2,1131.4L686.8,1232.1L697.4,1128.9L708.0,1113.5L718.6,1108.7L729.2,1115.6L739.8,1050.9L750.4,1222.2L761.0,1102.8L771.6,1112.3L782.2,1001.9L792.8,1210.7L803.4,1258.9L814.0,1118.1L824.6,1274.8L835.2,1197.3L845.8,1144.0L856.4,1237.7L867.0,1123.6L877.6,1143.7L888.2,1146.7L898.8,1230.5L909.4,1039.4L920.0,1171.2L930.6,1151.5L941.2,1108.3L951.8,1294.2L962.4,1335.9L973.0,1100.7L983.6,1103.3L994.2,1027.4L1004.8,955.6L1015.4,1120.4L1026.0,1207.0L1036.6,1017.7L1047.2,1215.6L1057.8,1177.8L1068.4,1197.1L1079.0,1251.0L1089.6,1340.3L1100.2,1119.2L1110.8,1125.9L1121.4,1256.4L1132.0,1081.4L1142.6,1160.1L1153.2,1207.7L1163.8,1291.0L1174.4,1162.0L1185.0,1172.6L1195.6,1193.2L1206.2,1167.2L1216.8,1169.3L1227.4,1122.4L1238.0,1167.7L1248.6,1134.0L1259.1,1207.2L1269.7,1252.3L1280.3,1244.5L1290.9,1152.0L1301.5,1260.0L1312.1,1159.7L1322.7,1134.2L1333.3,1320.8L1343.9,1193.6L1354.5,1114.2L1365.1,1309.1L1375.7,1234.4L1386.3,1299.9L1396.9,1163.9L1407.5,1139.7L1418.1,990.0L1428.7,1310.1L1439.3,1378.1L1449.9,1148.3L1460.5,1202.3L1471.1,1251.5L1481.7,1252.8L1492.3,1290.6L1502.9,1231.5L1513.5,1233.0L1524.1,994.8L1534.7,1150.3L1545.3,1216.2L1555.9,1300.7L1566.5,1242.0L1577.1,1150.4L1587.7,1257.8L1598.3,1224.9L1608.9,1107.2L1619.5,1223.0L1630.1,1249.6L1640.7,1145.6L1651.3,1193.1L1661.9,1207.4L1672.5,1347.0L1683.1,1225.9L1693.7,1333.5L1704.3,1176.9L1714.9,1142.9L1725.5,1297.3L1736.1,1153.0L1746.7,1348.1L1757.3,1081.9L1767.9,1165.8L1778.5,1072.8L1789.1,1309.6L1799.7,1368.6L1810.3,1206.7L1820.9,1076.4L1831.5,1225.9L1842.1,1246.1L1852.7,1094.2L1863.3,1329.4L1873.9,1107.6L1884.5,1317.4L1895.1,1400.4L1905.7,1212.7L1916.3,1202.5L1926.9,1207.3L1937.5,1356.5L1948.1,1242.3L1958.7,1148.1L1969.3,1083.3L1979.9,1175.1L1990.5,1194.2L2001.1,1248.4L2011.7,1309.8L2022.3,1330.0L2032.9,1428.4L2043.5,1355.7L2054.1,1337.4L2064.7,1393.7L2075.3,1409.1L2085.9,1299.7L2096.5,1220.8L2107.1,1364.9L2117.7,1237.3L2128.3,1282.9L2138.9,1360.9L2149.5,1458.9L2160.1,1425.0L2170.7,1272.2L2181.3,1337.4L2191.9,1140.4L2202.5,1325.3L2213.1,1402.0"/>
<path d="M315.8,1115.9L326.4,947.3L337.0,1067.1L347.6,1242.4L358.2,1022.6L368.8,1228.1L379.4,1181.3L390.0,1134.8L400.6,1156.5L411.2,1081.5L421.8,1122.0L432.4,1195.2L443.0,1247.8L453.6,1167.0L464.2,1026.3L474.8,1164.6L485.4,1361.5L496.0,1225.6L506.6,1177.7L517.2,1011.0L527.8,1291.5L538.4,1175.6L549.0,1270.2L559.6,1020.2L570.2,1168.2L580.8,1148.7L591.4,1139.9L602.0,1116.2L612.6,1018.8L623.2,1184.4L633.8,1131.0L644.4,1243.3L655.0,1167.6L665.6,1207.2L676.2,1138.4L686.8,1182.2L697.4,1239.6L708.0,993.6L718.6,1102.1L729.2,1207.4L739.8,1131.9L750.4,1130.7L761.0,1222.1L771.6,1302.3L782.2,1219.9L792.8,1178.1L803.4,974.4L814.0,1138.1L824.6,923.7L835.2,1235.0L845.8,1120.1L856.4,1144.6L867.0,1240.1L877.6,1154.4L888.2,1160.6L898.8,1154.9L909.4,1088.2L920.0,1112.1L930.6,1164.1L941.2,1194.1L951.8,1165.5L962.4,1237.2L973.0,1147.3L983.6,1223.0L994.2,1245.3L1004.8,1076.2L1015.4,1206.4L1026.0,1150.9L1036.6,1231.7L1047.2,1216.2L1057.8,1182.6L1068.4,1345.8L1079.0,1222.8L1089.6,961.9L1100.2,1021.6L1110.8,1275.2L1121.4,1166.2L1132.0,1239.7L1142.6,1136.2L1153.2,1202.5L1163.8,1078.4L1174.4,1220.4L1185.0,1012.3L1195.6,1190.5L1206.2,1118.0L1216.8,1177.5L1227.4,1156.7L1238.0,1183.3L1248.6,1098.2L1259.1,1127.2L1269.7,1191.5L1280.3,1112.4L1290.9,1198.1L1301.5,1252.5L1312.1,1128.9L1322.7,1157.7L1333.3,1248.5L1343.9,1192.6L1354.5,1222.5L1365.1,1278.6L1375.7,1195.0L1386.3,1173.2L1396.9,1215.7L1407.5,1166.6L1418.1,1364.7L1428.7,1165.2L1439.3,946.9L1449.9,1320.8L1460.5,1179.2L1471.1,1151.9L1481.7,1194.3L1492.3,1268.6L1502.9,1243.6L1513.5,1190.2L1524.1,1154.5L1534.7,1108.2L1545.3,1217.4L1555.9,1130.4L1566.5,1153.2L1577.1,1161.3L1587.7,1066.9L1598.3,1150.7L1608.9,1074.2L1619.5,1219.6L1630.1,1169.9L1640.7,1277.6L1651.3,1172.9L1661.9,1108.4L1672.5,1207.1L1683.1,1204.6L1693.7,1166.8L1704.3,1196.5L1714.9,1104.1L1725.5,1172.7L1736.1,1178.6L1746.7,1186.1L1757.3,1136.6L1767.9,1262.5L1778.5,1249.4L1789.1,1145.6L1799.7,1322.1L1810.3,1104.0L1820.9,1182.2L1831.5,1240.0L1842.1,1280.8L1852.7,1260.6L1863.3,1102.1L1873.9,1281.8L1884.5,1293.5L1895.1,1236.2L1905.7,1243.9L1916.3,1270.9L1926.9,1330.8L1937.5,1303.8L1948.1,1204.4L1958.7,1349.5L1969.3,1206.6L1979.9,1321.3L1990.5,1244.9L2001.1,1354.2L2011.7,1205.6L2022.3,1324.7L2032.9,1274.9L2043.5,1467.4L2054.1,1337.6L2064.7,1367.3L2075.3,1197.3L2085.9,1390.6L2096.5,1211.0L2107.1,1260.4L2117.7,1259.8L2128.3,1369.3L2138.9,1234.6L2149.5,1471.8L2160.1,1423.3L2170.7,1550.4L2181.3,1325.1L2191.9,1392.8L2202.5,1205.3L2213.1,1246.0"/>
<path d="M315.8,1230.7L326.4,1131.8L337.0,1203.0L347.6,1106.0L358.2,1245.7L368.8,1183.6L379.4,1285.3L390.0,1059.2L400.6,1134.8L411.2,1269.5L421.8,1115.6L432.4,1078.8L443.0,1093.9L453.6,992.7L464.2,1209.2L474.8,1093.8L485.4,1115.3L496.0,1093.0L506.6,1161.0L517.2,1190.8L527.8,1288.3L538.4,1210.0L549.0,1243.4L559.6,1178.2L570.2,1171.2L580.8,1123.3L591.4,1228.8L602.0,1131.8L612.6,1250.2L623.2,1112.6L633.8,1105.4L644.4,1103.2L655.0,1194.8L665.6,1193.4L676.2,1172.0L686.8,1118.7L697.4,1025.2L708.0,1180.3L718.6,1097.5L729.2,1187.9L739.8,1106.7L750.4,1249.6L761.0,1227.2L771.6,1279.8L782.2,1173.5L792.8,1216.5L803.4,1239.9L814.0,1277.6L824.6,1096.5L835.2,1030.5L845.8,1129.5L856.4,1211.5L867.0,1178.3L877.6,1105.9L888.2,1161.6L898.8,1213.5L909.4,1087.1L920.0,1070.2L930.6,1038.1L941.2,1108.7L951.8,1124.4L962.4,1109.9L973.0,1214.1L983.6,1173.9L994.2,1204.8L1004.8,1022.0L1015.4,1138.6L1026.0,1135.2L1036.6,1114.0L1047.2,1072.9L1057.8,987.1L1068.4,1207.4L1079.0,1216.6L1089.6,1043.7L1100.2,1296.9L1110.8,1058.5L1121.4,1092.5L1132.0,1181.6L1142.6,1161.9L1153.2,1053.4L1163.8,1159.8L1174.4,1150.2L1185.0,1331.9L1195.6,1166.0L1206.2,1171.6L1216.8,1142.3L1227.4,1252.7L1238.0,1083.2L1248.6,1185.8L1259.1,1193.6L1269.7,1140.6L1280.3,1180.9L1290.9,1243.0L1301.5,1199.5L1312.1,1136.6L1322.7,1158.2L1333.3,1226.1L1343.9,1135.6L1354.5,1072.9L1365.1,1309.9L1375.7,1264.8L1386.3,1148.9L1396.9,1170.4L1407.5,1325.9L1418.1,1191.1L1428.7,1137.6L1439.3,1156.0L1449.9,1184.6L1460.5,1104.2L1471.1,1116.6L1481.7,1225.9L1492.3,1202.1L1502.9,1167.6L1513.5,1266.9L1524.1,1281.7L1534.7,1121.1L1545.3,1186.9L1555.9,1106.6L1566.5,1267.0L1577.1,1208.6L1587.7,1194.0L1598.3,1193.3L1608.9,1106.9L1619.5,1132.2L1630.1,1002.0L1640.7,1080.7L1651.3,1300.6L1661.9,1213.9L1672.5,1126.0L1683.1,1155.6L1693.7,1129.5L1704.3,1213.7L1714.9,1073.3L1725.5,1220.4L1736.1,1212.8L1746.7,1158.7L1757.3,1139.6L1767.9,1226.9L1778.5,1196.5L1789.1,1111.0L1799.7,1120.3L1810.3,1305.1L1820.9,1089.2L1831.5,1302.2L1842.1,1236.3L1852.7,1156.9L1863.3,1279.5L1873.9,1158.2L1884.5,1403.7L1895.1,1290.4L1905.7,1339.4L1916.3,1347.7L1926.9,1287.0L1937.5,1373.4L1948.1,1378.6L1958.7,1241.8L1969.3,1195.9L1979.9,1201.9L1990.5,1290.0L2001.1,1242.5L2011.7,1234.5L2022.3,1119.1L2032.9,1194.4L2043.5,1220.4L2054.1,1308.8L2064.7,1361.9L2075.3,1337.5L2085.9,1224.4L2096.5,1377.5L2107.1,1242.3L2117.7,1370.4L2128.3,1448.0L2138.9,1277.9L2149.5,1375.6L2160.1,1366.1L2170.7,1237.1L2181.3,1283.8L2191.9,1370.8L2202.5,1502.7L2213.1,1118.4"/>
<path d="M315.8,1344.3L326.4,1066.7L337.0,1028.7L347.6,1223.0L358.2,1153.3L368.8,991.1L379.4,1172.8L390.0,1234.1L400.6,1135.3L411.2,1214.8L421.8,1069.9L432.4,1163.4L443.0,1270.1L453.6,1247.7L464.2,1086.3L474.8,1295.0L485.4,1186.6L496.0,1088.0L506.6,1143.5L517.2,1159.7L527.8,1233.6L538.4,1092.5L549.0,1199.3L559.6,1180.4L570.2,1222.6L580.8,1208.6L591.4,1224.0L602.0,1213.7L612.6,1181.5L623.2,1128.7L633.8,1209.3L644.4,1126.2L655.0,1111.8L665.6,1204.0L676.2,1200.1L686.8,1220.5L697.4,1284.4L708.0,1227.2L718.6,1120.9L729.2,1112.8L739.8,1223.1L750.4,1129.5L761.0,1138.2L771.6,932.4L782.2,1107.1L792.8,1141.8L803.4,1101.9L814.0,1218.4L824.6,1178.9L835.2,1123.4L845.8,1113.5L856.4,1224.4L867.0,1076.9L877.6,1169.8L888.2,1144.3L898.8,1125.0L909.4,1252.1L920.0,1056.8L930.6,1246.3L941.2,1149.4L951.8,1102.0L962.4,1239.8L973.0,1151.3L983.6,1213.7L994.2,1342.8L1004.8,1157.6L1015.4,1261.6L1026.0,1149.7L1036.6,1154.7L1047.2,1125.8L1057.8,1201.5L1068.4,1211.8L1079.0,1189.8L1089.6,1276.4L1100.2,1260.2L1110.8,1115.0L1121.4,1103.0L1132.0,1258.7L1142.6,1300.2L1153.2,1139.6L1163.8,1213.6L1174.4,1144.8L1185.0,1174.6L1195.6,1208.3L1206.2,1103.7L1216.8,1076.1L1227.4,1126.7L1238.0,1289.5L1248.6,1167.8L1259.1,1156.1L1269.7,1295.8L1280.3,1235.1L1290.9,1180.6L1301.5,1200.2L1312.1,1329.5L1322.7,1183.2L1333.3,1164.8L1343.9,1187.1L1354.5,1195.7L1365.1,1239.2L1375.7,1060.3L1386.3,1329.9L1396.9,1066.4L1407.5,1296.4L1418.1,1173.1L1428.7,1205.9L1439.3,1228.3L1449.9,1195.8L1460.5,1141.3L1471.1,1102.3L1481.7,1157.2L1492.3,1223.0L1502.9,1194.3L1513.5,1158.7L1524.1,1279.0L1534.7,1171.6L1545.3,1290.1L1555.9,1219.4L1566.5,1066.2L1577.1,1269.4L1587.7,1096.4L1598.3,1320.7L1608.9,1181.6L1619.5,1281.9L1630.1,1198.9L1640.7,1198.6L1651.3,1102.5L1661.9,1286.9L1672.5,1184.9L1683.1,1130.9L1693.7,1313.3L1704.3,1163.4L1714.9,1202.8L1725.5,1264.4L1736.1,1211.5L1746.7,1190.3L1757.3,1152.2L1767.9,1090.5L1778.5,1270.0L1789.1,1310.0L1799.7,1319.5L1810.3,1160.1L1820.9,1085.9L1831.5,1234.7L1842.1,1189.2L1852.7,1280.8L1863.3,1296.3L1873.9,1164.9L1884.5,1303.4L1895.1,1285.2L1905.7,1144.2L1916.3,1346.1L1926.9,1288.2L1937.5,1312.7L1948.1,1321.2L1958.7,1367.5L1969.3,1253.9L1979.9,1282.2L1990.5,1269.8L2001.1,1222.2L2011.7,1465.8L2022.3,1451.0L2032.9,1445.9L2043.5,1269.1L2054.1,1256.8L2064.7,1307.0L2075.3,1430.3L2085.9,1328.2L2096.5,1328.9L2107.1,1219.7L2117.7,1205.6L2128.3,1181.0L2138.9,1308.6L2149.5,1380.1L2160.1,1364.9L2170.7,1323.4L2181.3,1434.5L2191.9,1277.2L2202.5,1325.4L2213.1,1315.2"/>
<path d="M315.8,1250.7L326.4,1045.6L337.0,1055.6L347.6,1081.7L358.2,1105.7L368.8,1195.8L379.4,1063.4L390.0,1133.7L400.6,1125.2L411.2,1262.8L421.8,1116.0L432.4,1165.8L443.0,1211.3L453.6,1042.0L464.2,1164.1L474.8,1195.4L485.4,1115.1L496.0,1079.8L506.6,1231.7L517.2,1127.7L527.8,1272.1L538.4,1210.4L549.0,1156.1L559.6,1128.1L570.2,1207.7L580.8,1255.8L591.4,1200.7L602.0,1125.8L612.6,1179.9L623.2,1287.2L633.8,1232.2L644.4,1128.6L655.0,1109.5L665.6,1132.0L676.2,1161.1L686.8,1130.6L697.4,1211.6L708.0,1118.3L718.6,1184.9L729.2,1233.0L739.8,1323.6L750.4,1079.9L761.0,1069.5L771.6,1158.2L782.2,1137.4L792.8,1161.0L803.4,1104.8L814.0,1075.1L824.6,1127.9L835.2,1084.4L845.8,1092.7L856.4,1151.5L867.0,1129.7L877.6,1012.1L888.2,1186.8L898.8,1030.2L909.4,1130.4L920.0,1061.7L930.6,1149.3L941.2,1342.9L951.8,1079.4L962.4,1182.7L973.0,1266.5L983.6,962.1L994.2,1280.7L1004.8,1171.8L1015.4,1128.0L1026.0,1064.7L1036.6,1108.3L1047.2,1241.3L1057.8,1249.4L1068.4,1266.8L1079.0,1191.3L1089.6,1145.9L1100.2,1140.1L1110.8,1094.1L1121.4,1181.5L1132.0,1218.7L1142.6,1159.7L1153.2,1072.8L1163.8,1108.9L1174.4,1129.3L1185.0,1169.4L1195.6,1209.3L1206.2,1136.2L1216.8,1234.3L1227.4,1159.0L1238.0,1185.3L1248.6,1239.9L1259.1,1165.2L1269.7,1051.9L1280.3,1166.0L1290.9,1178.6L1301.5,1115.2L1312.1,1256.6L1322.7,1024.5L1333.3,1341.9L1343.9,1181.5L1354.5,1161.7L1365.1,1169.9L1375.7,1267.0L1386.3,1190.6L1396.9,1204.6L1407.5,1035.7L1418.1,1206.0L1428.7,1138.6L1439.3,1095.5L1449.9,1255.7L1460.5,1126.2L1471.1,1204.0L1481.7,1263.7L1492.3,1267.3L1502.9,1332.4L1513.5,1183.7L1524.1,1246.6L1534.7,1359.6L1545.3,1107.4L1555.9,1211.8L1566.5,1076.1L1577.1,1265.7L1587.7,1277.0L1598.3,1151.1L1608.9,1216.7L1619.5,1039.9L1630.1,1127.9L1640.7,1176.6L1651.3,1106.0L1661.9,1136.2L1672.5,1307.5L1683.1,1058.7L1693.7,1184.8L1704.3,1013.4L1714.9,1331.3L1725.5,1317.3L1736.1,1074.5L1746.7,1076.2L1757.3,1011.7L1767.9,1169.3L1778.5,1188.1L1789.1,1210.8L1799.7,1276.8L1810.3,1358.9L1820.9,1375.2L1831.5,1280.1L1842.1,1288.7L1852.7,1362.2L1863.3,1250.0L1873.9,1166.2L1884.5,1270.9L1895.1,1239.0L1905.7,1309.2L1916.3,1218.5L1926.9,1372.1L1937.5,1317.3L1948.1,1299.5L1958.7,1184.7L1969.3,1283.4L1979.9,1276.6L1990.5,1133.1L2001.1,1496.2L2011.7,1194.8L2022.3,1223.2L2032.9,1370.8L2043.5,1344.7L2054.1,1258.6L2064.7,1323.7L2075.3,1253.6L2085.9,1419.4L2096.5,1367.2L2107.1,1269.0L2117.7,1357.2L2128.3,1377.5L2138.9,1401.1L2149.5,1320.4L2160.1,1377.9L2170.7,1134.7L2181.3,1325.5L2191.9,1310.6L2202.5,1463.4L2213.1,1470.4"/>
<path d="M315.8,1257.9L326.4,1127.1L337.0,1114.8L347.6,1174.2L358.2,1199.2L368.8,1040.8L379.4,1266.8L390.0,1201.2L400.6,1142.1L411.2,1072.9L421.8,1086.7L432.4,1133.1L443.0,1104.5L453.6,1187.9L464.2,1082.3L474.8,1159.8L485.4,1149.9L496.0,1124.1L506.6,1002.6L517.2,1196.3L527.8,1262.6L538.4,1283.9L549.0,1038.8L559.6,1236.1L570.2,1105.3L580.8,1124.5L591.4,1131.6L602.0,1074.9L612.6,1199.2L623.2,1163.0L633.8,1152.9L644.4,1160.8L655.0,1177.9L665.6,1017.1L676.2,1117.3L686.8,1160.2L697.4,1157.5L708.0,1166.0L718.6,1107.9L729.2,1161.7L739.8,1287.0L750.4,1138.0L761.0,1089.1L771.6,1247.2L782.2,1258.3L792.8,1133.7L803.4,1306.7L814.0,1205.8L824.6,1264.1L835.2,1080.8L845.8,1223.7L856.4,1299.2L867.0,1225.5L877.6,1187.5L888.2,1232.7L898.8,1094.4L909.4,1005.2L920.0,1273.7L930.6,1243.7L941.2,965.8L951.8,1190.8L962.4,1253.9L973.0,1169.3L983.6,1059.8L994.2,1172.6L1004.8,1124.4L1015.4,1140.5L1026.0,1229.8L1036.6,1230.0L1047.2,1043.9L1057.8,1099.9L1068.4,1083.8L1079.0,1072.5L1089.6,1219.7L1100.2,1224.5L1110.8,1148.8L1121.4,1318.1L1132.0,1176.4L1142.6,1091.6L1153.2,1121.4L1163.8,1235.3L1174.4,1223.7L1185.0,1392.3L1195.6,1215.4L1206.2,1230.8L1216.8,1226.7L1227.4,1055.6L1238.0,1225.8L1248.6,1214.7L1259.1,1178.7L1269.7,1085.3L1280.3,1186.2L1290.9,1234.6L1301.5,1301.7L1312.1,1024.7L1322.7,1227.5L1333.3,1252.2L1343.9,1134.2L1354.5,1103.6L1365.1,1227.0L1375.7,1172.0L1386.3,1255.1L1396.9,1137.6L1407.5,1251.5L1418.1,1322.6L1428.7,1117.9L1439.3,1229.8L1449.9,1196.4L1460.5,1130.3L1471.1,1259.4L1481.7,1056.2L1492.3,1261.2L1502.9,1178.7L1513.5,1246.5L1524.1,1224.6L1534.7,1124.3L1545.3,1248.3L1555.9,1063.6L1566.5,1136.6L1577.1,1076.1L1587.7,1136.2L1598.3,1201.9L1608.9,1264.4L1619.5,1204.7L1630.1,1155.4L1640.7,1143.4L1651.3,1293.1L1661.9,1170.7L1672.5,1273.0L1683.1,1095.4L1693.7,1304.5L1704.3,1267.2L1714.9,1186.4L1725.5,1228.1L1736.1,1233.0L1746.7,1171.9L1757.3,1319.7L1767.9,1106.6L1778.5,1086.5L1789.1,1183.7L1799.7,1130.3L1810.3,1310.6L1820.9,1195.0L1831.5,1256.4L1842.1,1166.0L1852.7,1247.6L1863.3,1169.4L1873.9,1428.3L1884.5,1262.4L1895.1,1408.8L1905.7,1226.5L1916.3,1181.9L1926.9,1249.9L1937.5,1316.5L1948.1,1349.2L1958.7,1286.6L1969.3,1366.4L1979.9,1263.2L1990.5,1293.3L2001.1,1143.1L2011.7,1317.1L2022.3,1257.9L2032.9,1254.3L2043.5,1392.8L2054.1,1363.7L2064.7,1352.4L2075.3,1114.9L2085.9,1370.5L2096.5,1270.8L2107.1,1152.9L2117.7,1333.3L2128.3,1336.1L2138.9,1418.0L2149.5,1448.1L2160.1,1638.1L2170.7,1369.0L2181.3,1378.2L2191.9,1456.0L2202.5,1281.4L2213.1,1294.2"/>
<path d="M315.8,1231.8L326.4,1059.3L337.0,1135.5L347.6,1010.2L358.2,996.6L368.8,1173.5L379.4,1229.1L390.0,1173.4L400.6,1104.1L411.2,1051.2L421.8,1176.7L432.4,1110.6L443.0,1081.2L453.6,1235.3L464.2,1083.0L474.8,1216.5L485.4,1158.8L496.0,1121.8L506.6,1202.1L517.2,1175.9L527.8,1204.8L538.4,1139.2L549.0,1170.5L559.6,1118.2L570.2,1173.3L580.8,1152.9L591.4,1167.8L602.0,1160.8L612.6,1195.6L623.2,1265.8L633.8,993.0L644.4,1085.6L655.0,1215.3L665.6,1106.7L676.2,1327.2L686.8,1087.6L697.4,1131.4L708.0,1134.7L718.6,1082.9L729.2,1129.4L739.8,1086.6L750.4,1185.8L761.0,1234.7L771.6,1095.0L782.2,1172.8L792.8,1103.2L803.4,1197.2L814.0,1129.5L824.6,1136.9L835.2,1150.8L845.8,1280.3L856.4,1108.2L867.0,1195.6L877.6,946.9L888.2,1389.3L898.8,1135.9L909.4,1161.3L920.0,1103.3L930.6,1112.5L941.2,1095.3L951.8,1142.9L962.4,1247.1L973.0,1111.9L983.6,1119.5L994.2,1232.9L1004.8,1222.4L1015.4,1219.2L1026.0,1137.7L1036.6,1209.8L1047.2,1157.7L1057.8,1126.2L1068.4,1095.2L1079.0,1144.5L1089.6,1195.2L1100.2,1273.5L1110.8,1290.6L1121.4,1198.1L1132.0,1268.1L1142.6,1119.0L1153.2,1098.4L1163.8,1305.5L1174.4,1342.6L1185.0,1161.1L1195.6,1218.8L1206.2,1132.6L1216.8,1191.6L1227.4,1188.1L1238.0,1228.0L1248.6,1294.7L1259.1,1280.7L1269.7,1176.8L1280.3,1104.3L1290.9,1250.5L1301.5,1078.2L1312.1,1115.3L1322.7,1096.0L1333.3,1245.8L1343.9,1147.5L1354.5,1151.8L1365.1,1280.7L1375.7,1177.6L1386.3,1212.9L1396.9,1203.9L1407.5,1126.9L1418.1,1160.3L1428.7,1151.4L1439.3,1160.3L1449.9,1178.0L1460.5,1195.1L1471.1,1181.7L1481.7,1240.7L1492.3,1093.8L1502.9,1407.3L1513.5,1253.0L1524.1,1211.4L1534.7,1206.2L1545.3,1170.0L1555.9,1129.7L1566.5,1248.1L1577.1,1117.7L1587.7,1204.2L1598.3,1175.3L1608.9,1184.3L1619.5,1206.9L1630.1,1214.9L1640.7,1070.8L1651.3,1046.5L1661.9,1231.8L1672.5,1381.1L1683.1,1224.4L1693.7,1205.1L1704.3,1188.1L1714.9,1275.2L1725.5,1222.4L1736.1,1059.2L1746.7,1419.4L1757.3,1228.1L1767.9,1245.3L1778.5,1196.9L1789.1,1128.5L1799.7,1300.3L1810.3,1163.1L1820.9,1191.5L1831.5,1281.0L1842.1,1241.4L1852.7,1219.6L1863.3,1248.1L1873.9,1290.9L1884.5,1248.0L1895.1,1285.3L1905.7,1309.9L1916.3,1257.9L1926.9,1346.6L1937.5,1319.3L1948.1,1450.8L1958.7,1343.6L1969.3,1393.3L1979.9,1309.1L1990.5,1139.8L2001.1,1363.1L2011.7,1357.4L2022.3,1315.4L2032.9,1244.2L2043.5,1450.9L2054.1,1339.5L2064.7,1332.4L2075.3,1376.7L2085.9,1194.9L2096.5,1391.1L2107.1,1364.7L2117.7,1405.7L2128.3,1548.3L2138.9,1197.3L2149.5,1394.6L2160.1,1237.0L2170.7,1415.5L2181.3,1321.5L2191.9,1379.9L2202.5,1384.0L2213.1,1365.3"/>
<path d="M315.8,1144.1L326.4,1142.6L337.0,1193.1L347.6,1238.3L358.2,1125.1L368.8,1189.5L379.4,1139.8L390.0,1193.6L400.6,1127.4L411.2,1190.1L421.8,1208.6L432.4,1182.3L443.0,1152.0L453.6,1182.9L464.2,1110.1L474.8,1109.6L485.4,1325.1L496.0,1162.7L506.6,1120.5L517.2,1203.0L527.8,1250.0L538.4,1056.0L549.0,1249.2L559.6,1202.6L570.2,1089.7L580.8,1224.4L591.4,1152.3L602.0,1122.8L612.6,1147.7L623.2,1141.0L633.8,1314.6L644.4,1103.5L655.0,1281.3L665.6,1171.8L676.2,1195.1L686.8,1086.2L697.4,1264.9L708.0,1223.7L718.6,1151.0L729.2,1150.8L739.8,1228.7L750.4,1203.9L761.0,1143.8L771.6,1192.7L782.2,1186.9L792.8,1223.1L803.4,1033.5L814.0,1114.2L824.6,1018.6L835.2,1268.3L845.8,1066.1L856.4,1054.3L867.0,1189.8L877.6,1024.0L888.2,1093.9L898.8,1243.1L909.4,1190.5L920.0,1131.2L930.6,1225.8L941.2,1069.0L951.8,1123.6L962.4,1157.3L973.0,1141.9L983.6,1149.2L994.2,1320.5L1004.8,1059.8L1015.4,1128.3L1026.0,1295.2L1036.6,1347.7L1047.2,1165.7L1057.8,1153.4L1068.4,1195.6L1079.0,1183.0L1089.6,1061.7L1100.2,1184.2L1110.8,1125.6L1121.4,1225.3L1132.0,1228.5L1142.6,1115.1L1153.2,1171.3L1163.8,1210.9L1174.4,1178.8L1185.0,1098.4L1195.6,1185.9L1206.2,1309.1L1216.8,1271.4L1227.4,1047.9L1238.0,1191.8L1248.6,1223.5L1259.1,1284.8L1269.7,1192.2L1280.3,1183.1L1290.9,1233.4L1301.5,1119.6L1312.1,1051.7L1322.7,1106.1L1333.3,1187.4L1343.9,1230.9L1354.5,1218.0L1365.1,1051.6L1375.7,1141.6L1386.3,1072.4L1396.9,1084.8L1407.5,1135.6L1418.1,1182.9L1428.7,1297.2L1439.3,1247.4L1449.9,1425.7L1460.5,1239.5L1471.1,1214.5L1481.7,1203.4L1492.3,1082.5L1502.9,1126.2L1513.5,1143.4L1524.1,1216.0L1534.7,1250.1L1545.3,1196.7L1555.9,1146.0L1566.5,1281.7L1577.1,1129.1L1587.7,1200.1L1598.3,1224.0L1608.9,1229.3L1619.5,1142.3L1630.1,1196.8L1640.7,1184.0L1651.3,1282.0L1661.9,1329.7L1672.5,1384.9L1683.1,1176.6L1693.7,1264.3L1704.3,1204.8L1714.9,1299.4L1725.5,1066.6L1736.1,1140.5L1746.7,1189.5L1757.3,1383.1L1767.9,1194.8L1778.5,1279.1L1789.1,1159.0L1799.7,1341.6L1810.3,1214.8L1820.9,1178.9L1831.5,1394.8L1842.1,1175.3L1852.7,1274.8L1863.3,1145.5L1873.9,1162.0L1884.5,1214.1L1895.1,1211.6L1905.7,1235.3L1916.3,1337.5L1926.9,1353.0L1937.5,1287.7L1948.1,1260.7L1958.7,1294.7L1969.3,1232.3L1979.9,1304.3L1990.5,1335.6L2001.1,1371.6L2011.7,1284.9L2022.3,1275.9L2032.9,1291.0L2043.5,1336.4L2054.1,1277.4L2064.7,1402.9L2075.3,1262.7L2085.9,1347.4L2096.5,1411.6L2107.1,1081.9L2117.7,1467.8L2128.3,1414.1L2138.9,1306.4L2149.5,1248.5L2160.1,1049.7L2170.7,1337.8L2181.3,1340.2L2191.9,1422.5L2202.5,1344.7L2213.1,1340.9"/>
<path d="M315.8,1071.0L326.4,1298.7L337.0,1135.0L347.6,1178.7L358.2,1129.2L368.8,986.9L379.4,1168.9L390.0,1221.9L400.6,1107.9L411.2,1170.3L421.8,1127.9L432.4,1202.5L443.0,1107.5L453.6,1164.9L464.2,1306.3L474.8,1270.9L485.4,1163.4L496.0,1145.6L506.6,1093.6L517.2,1250.3L527.8,1074.0L538.4,1320.3L549.0,1296.4L559.6,1164.5L570.2,1282.8L580.8,1093.3L591.4,1188.1L602.0,1198.4L612.6,1175.7L623.2,1305.5L633.8,1116.8L644.4,1163.8L655.0,1226.3L665.6,1251.4L676.2,1100.5L686.8,1046.3L697.4,1209.2L708.0,1160.9L718.6,1097.2L729.2,1084.7L739.8,1277.2L750.4,1127.1L761.0,1165.0L771.6,1089.3L782.2,1130.2L792.8,1201.0L803.4,1071.3L814.0,1177.8L824.6,1198.1L835.2,1064.2L845.8,1023.4L856.4,1057.8L867.0,836.7L877.6,1078.6L888.2,1062.0L898.8,1233.2L909.4,1134.6L920.0,1133.4L930.6,1104.2L941.2,1225.3L951.8,1211.8L962.4,1037.1L973.0,1030.7L983.6,1074.4L994.2,1225.7L1004.8,1205.1L1015.4,1230.0L1026.0,1166.7L1036.6,1135.5L1047.2,1191.5L1057.8,1173.4L1068.4,1245.8L1079.0,1188.6L1089.6,1330.4L1100.2,1276.5L1110.8,1178.3L1121.4,1220.9L1132.0,1080.5L1142.6,1124.7L1153.2,1242.8L1163.8,1292.9L1174.4,1031.0L1185.0,1078.9L1195.6,1133.7L1206.2,1279.7L1216.8,1339.7L1227.4,1222.7L1238.0,1143.8L1248.6,1129.9L1259.1,1104.9L1269.7,1263.5L1280.3,1262.4L1290.9,1156.0L1301.5,1279.3L1312.1,1153.4L1322.7,1201.2L1333.3,1221.9L1343.9,1267.0L1354.5,1218.6L1365.1,1185.1L1375.7,1137.8L1386.3,1150.4L1396.9,1181.5L1407.5,1232.9L1418.1,1252.4L1428.7,1259.7L1439.3,1238.8L1449.9,1090.6L1460.5,1068.4L1471.1,1177.6L1481.7,1239.2L1492.3,1109.6L1502.9,1047.6L1513.5,1235.9L1524.1,1350.8L1534.7,1195.1L1545.3,1189.7L1555.9,1093.3L1566.5,1158.2L1577.1,1137.6L1587.7,1114.3L1598.3,1191.5L1608.9,1304.2L1619.5,1190.4L1630.1,1172.0L1640.7,1228.5L1651.3,1291.8L1661.9,1223.0L1672.5,1157.1L1683.1,1281.8L1693.7,1226.4L1704.3,1276.1L1714.9,1257.3L1725.5,976.0L1736.1,1293.1L1746.7,1247.1L1757.3,1263.6L1767.9,1341.5L1778.5,1144.0L1789.1,1251.8L1799.7,1166.0L1810.3,1151.7L1820.9,1250.5L1831.5,1163.4L1842.1,1245.1L1852.7,1358.1L1863.3,1181.1L1873.9,1088.3L1884.5,1264.3L1895.1,1317.8L1905.7,1032.9L1916.3,1317.7L1926.9,1140.6L1937.5,1269.2L1948.1,1288.8L1958.7,1095.3L1969.3,1252.9L1979.9,1198.1L1990.5,1295.6L2001.1,1327.6L2011.7,1335.8L2022.3,1465.6L2032.9,1208.7L2043.5,1161.1L2054.1,1282.9L2064.7,1261.9L2075.3,1292.0L2085.9,1403.5L2096.5,1266.2L2107.1,1234.0L2117.7,1212.1L2128.3,1444.7L2138.9,1159.4L2149.5,1300.9L2160.1,1394.5L2170.7,1286.5L2181.3,1284.7L2191.9,1399.4L2202.5,1394.7L2213.1,1363.5"/>
<path d="M315.8,1220.4L326.4,1119.2L337.0,1074.9L347.6,1185.1L358.2,1066.8L368.8,1161.1L379.4,1030.6L390.0,1102.5L400.6,1141.0L411.2,1094.3L421.8,1092.8L432.4,1185.5L443.0,1187.7L453.6,1223.6L464.2,1088.0L474.8,1111.2L485.4,1174.1L496.0,1351.7L506.6,1199.6L517.2,1157.4L527.8,1219.1L538.4,1084.8L549.0,1175.4L559.6,1066.5L570.2,1088.5L580.8,1183.6L591.4,1096.1L602.0,1256.2L612.6,1131.2L623.2,1189.2L633.8,1213.0L644.4,1204.6L655.0,1244.1L665.6,1162.9L676.2,1126.6L686.8,1162.0L697.4,1061.3L708.0,1157.7L718.6,1200.8L729.2,1136.3L739.8,1100.2L750.4,1007.1L761.0,1221.9L771.6,1091.8L782.2,1154.9L792.8,1118.0L803.4,1172.7L814.0,1245.9L824.6,1165.2L835.2,1087.3L845.8,1101.3L856.4,1160.2L867.0,1178.9L877.6,1046.3L888.2,1073.8L898.8,1207.9L909.4,1235.6L920.0,1134.6L930.6,1248.9L941.2,1228.8L951.8,1048.0L962.4,1182.8L973.0,1199.0L983.6,1309.2L994.2,1264.9L1004.8,1257.1L1015.4,1130.6L1026.0,1089.7L1036.6,1210.6L1047.2,1223.7L1057.8,1286.2L1068.4,1220.4L1079.0,1183.7L1089.6,1201.0L1100.2,1185.6L1110.8,1253.4L1121.4,1198.9L1132.0,1209.4L1142.6,1175.3L1153.2,1276.1L1163.8,1300.7L1174.4,1189.3L1185.0,1089.2L1195.6,1187.9L1206.2,1077.1L1216.8,1266.9L1227.4,1049.9L1238.0,1242.9L1248.6,1154.2L1259.1,1119.9L1269.7,1062.4L1280.3,1098.4L1290.9,1213.1L1301.5,1096.2L1312.1,1264.4L1322.7,1225.3L1333.3,1240.7L1343.9,1227.2L1354.5,954.8L1365.1,1163.1L1375.7,1165.5L1386.3,1207.9L1396.9,1216.8L1407.5,1307.5L1418.1,1297.7L1428.7,1121.5L1439.3,1216.5L1449.9,1180.6L1460.5,1107.7L1471.1,1148.1L1481.7,1144.4L1492.3,1082.8L1502.9,1381.8L1513.5,1253.8L1524.1,1180.1L1534.7,1155.5L1545.3,1327.2L1555.9,1115.7L1566.5,1178.9L1577.1,1126.2L1587.7,1309.9L1598.3,1275.1L1608.9,1289.9L1619.5,1143.9L1630.1,1240.4L1640.7,1263.8L1651.3,1105.7L1661.9,1404.4L1672.5,1302.8L1683.1,1260.8L1693.7,1133.4L1704.3,1246.0L1714.9,1306.8L1725.5,1232.5L1736.1,1164.1L1746.7,1263.9L1757.3,1144.5L1767.9,1220.3L1778.5,1502.0L1789.1,1171.1L1799.7,1244.7L1810.3,1217.9L1820.9,1220.2L1831.5,1205.4L1842.1,1145.4L1852.7,1209.9L1863.3,1282.9L1873.9,1287.0L1884.5,1121.3L1895.1,1348.8L1905.7,1112.4L1916.3,1114.9L1926.9,1122.7L1937.5,1253.0L1948.1,1444.7L1958.7,1152.1L1969.3,1190.2L1979.9,1164.0L1990.5,1421.8L2001.1,1307.6L2011.7,1186.9L2022.3,1426.4L2032.9,1336.0L2043.5,1473.0L2054.1,1330.0L2064.7,1319.8L2075.3,1317.7L2085.9,1285.4L2096.5,1320.5L2107.1,1335.6L2117.7,1229.1L2128.3,1352.4L2138.9,1110.6L2149.5,1326.7L2160.1,1246.7L2170.7,1271.4L2181.3,1262.2L2191.9,1303.0L2202.5,1339.8L2213.1,1270.1"/>
<path d="M315.8,1091.5L326.4,1197.5L337.0,1121.3L347.6,1059.1L358.2,1146.2L368.8,1035.0L379.4,1125.7L390.0,1170.0L400.6,1269.3L411.2,1088.8L421.8,1176.4L432.4,1230.1L443.0,1196.1L453.6,1130.8L464.2,955.4L474.8,1166.7L485.4,1173.2L496.0,1124.6L506.6,1238.2L517.2,1203.3L527.8,1271.6L538.4,1122.6L549.0,1176.2L559.6,1027.6L570.2,1298.5L580.8,1149.4L591.4,986.2L602.0,1085.8L612.6,1214.3L623.2,1114.3L633.8,1151.8L644.4,1111.1L655.0,1170.6L665.6,1089.5L676.2,1091.6L686.8,1168.2L697.4,1073.4L708.0,1075.2L718.6,1135.7L729.2,1222.9L739.8,1107.7L750.4,1025.2L761.0,1136.3L771.6,1083.3L782.2,1128.3L792.8,1077.2L803.4,1000.8L814.0,1195.4L824.6,1012.9L835.2,1146.5L845.8,1190.4L856.4,1186.9L867.0,1179.7L877.6,1193.2L888.2,1214.7L898.8,1206.4L909.4,1111.6L920.0,1286.5L930.6,1097.8L941.2,1157.7L951.8,1183.1L962.4,1131.2L973.0,1123.0L983.6,1086.4L994.2,1118.8L1004.8,1206.8L1015.4,943.1L1026.0,1041.8L1036.6,1097.1L1047.2,1091.6L1057.8,1058.9L1068.4,1192.9L1079.0,1093.5L1089.6,1156.2L1100.2,1239.8L1110.8,1131.2L1121.4,1324.7L1132.0,1148.2L1142.6,1143.6L1153.2,1093.4L1163.8,1286.6L1174.4,1168.5L1185.0,1130.4L1195.6,1231.0L1206.2,1226.7L1216.8,1205.9L1227.4,1158.4L1238.0,1250.5L1248.6,1186.4L1259.1,1146.8L1269.7,1114.5L1280.3,1291.3L1290.9,969.6L1301.5,1244.3L1312.1,1193.0L1322.7,1151.7L1333.3,1121.4L1343.9,1093.5L1354.5,1103.7L1365.1,1136.5L1375.7,1221.0L1386.3,1051.9L1396.9,1120.4L1407.5,1114.7L1418.1,1430.6L1428.7,1221.0L1439.3,1275.9L1449.9,1215.2L1460.5,1200.5L1471.1,1086.7L1481.7,1134.0L1492.3,1198.2L1502.9,1083.9L1513.5,1164.2L1524.1,1285.8L1534.7,1237.1L1545.3,1202.8L1555.9,1226.0L1566.5,1200.6L1577.1,1219.9L1587.7,1206.1L1598.3,1201.6L1608.9,1143.2L1619.5,1250.2L1630.1,1215.2L1640.7,1274.1L1651.3,1148.1L1661.9,1229.0L1672.5,1295.9L1683.1,1073.8L1693.7,1208.9L1704.3,1297.5L1714.9,1359.5L1725.5,1207.9L1736.1,1112.8L1746.7,1217.0L1757.3,1191.7L1767.9,1059.9L1778.5,1211.5L1789.1,1329.9L1799.7,1110.9L1810.3,1197.8L1820.9,1144.4L1831.5,1249.6L1842.1,1403.5L1852.7,1162.0L1863.3,1393.7L1873.9,1361.0L1884.5,1154.9L1895.1,1407.0L1905.7,1302.8L1916.3,1315.0L1926.9,1339.5L1937.5,1261.7L1948.1,1400.9L1958.7,1332.4L1969.3,1452.0L1979.9,1280.1L1990.5,1313.7L2001.1,1252.6L2011.7,1204.7L2022.3,1143.1L2032.9,1300.7L2043.5,1060.9L2054.1,1330.5L2064.7,1231.9L2075.3,1376.2L2085.9,1366.1L2096.5,1282.9L2107.1,1282.6L2117.7,1300.8L2128.3,1074.1L2138.9,1491.9L2149.5,1200.3L2160.1,1320.9L2170.7,1239.1L2181.3,1382.5L2191.9,1142.0L2202.5,1335.0L2213.1,1257.4"/>
<path d="M315.8,1162.0L326.4,983.1L337.0,1168.0L347.6,1174.6L358.2,1068.8L368.8,1191.5L379.4,1146.6L390.0,1250.6L400.6,1148.9L411.2,1124.1L421.8,1258.3L432.4,1193.6L443.0,1109.2L453.6,1095.2L464.2,1124.6L474.8,1242.6L485.4,1197.0L496.0,1218.6L506.6,1219.2L517.2,1174.8L527.8,1171.4L538.4,1143.3L549.0,1234.7L559.6,952.5L570.2,1091.0L580.8,1160.8L591.4,1092.6L602.0,1084.2L612.6,1029.2L623.2,1053.2L633.8,1129.1L644.4,1164.0L655.0,1150.6L665.6,1097.1L676.2,1163.2L686.8,1036.6L697.4,1058.3L708.0,1201.7L718.6,1204.4L729.2,1004.7L739.8,1068.0L750.4,1019.7L761.0,1186.9L771.6,1125.8L782.2,1215.5L792.8,1111.6L803.4,945.9L814.0,1138.9L824.6,1202.3L835.2,1161.6L845.8,1152.9L856.4,1136.5L867.0,1088.0L877.6,1186.3L888.2,1301.1L898.8,1075.1L909.4,1160.6L920.0,1005.1L930.6,1281.4L941.2,1150.5L951.8,1101.9L962.4,1170.6L973.0,1217.1L983.6,1234.9L994.2,1257.4L1004.8,1089.4L1015.4,1201.7L1026.0,1130.6L1036.6,1166.2L1047.2,1214.9L1057.8,1084.9L1068.4,1094.5L1079.0,1120.0L1089.6,1132.0L1100.2,1073.4L1110.8,1177.3L1121.4,1121.0L1132.0,1139.7L1142.6,1206.8L1153.2,1166.9L1163.8,1224.7L1174.4,1116.6L1185.0,1379.3L1195.6,1118.3L1206.2,1154.6L1216.8,1102.4L1227.4,1127.6L1238.0,1113.5L1248.6,1050.6L1259.1,1177.4L1269.7,1258.2L1280.3,1188.1L1290.9,1025.2L1301.5,1213.2L1312.1,1198.8L1322.7,1187.5L1333.3,1265.0L1343.9,901.7L1354.5,1085.3L1365.1,1093.1L1375.7,1125.1L1386.3,1214.5L1396.9,1090.5L1407.5,1192.0L1418.1,1217.2L1428.7,1268.8L1439.3,1190.8L1449.9,1088.0L1460.5,960.4L1471.1,1194.0L1481.7,1098.2L1492.3,1237.6L1502.9,1185.5L1513.5,1222.8L1524.1,1237.7L1534.7,1178.9L1545.3,1231.9L1555.9,1116.5L1566.5,1077.1L1577.1,1094.9L1587.7,1155.8L1598.3,1165.2L1608.9,1149.2L1619.5,1040.3L1630.1,1171.2L1640.7,1179.2L1651.3,1171.8L1661.9,1229.7L1672.5,1299.9L1683.1,1192.9L1693.7,1252.9L1704.3,1190.8L1714.9,1146.5L1725.5,1243.3L1736.1,1259.1L1746.7,1167.6L1757.3,1092.3L1767.9,1210.0L1778.5,1276.0L1789.1,1194.0L1799.7,1224.8L1810.3,1223.5L1820.9,1286.5L1831.5,1157.4L1842.1,1297.7L1852.7,1280.4L1863.3,1179.8L1873.9,1345.1L1884.5,1121.9L1895.1,1067.7L1905.7,1171.7L1916.3,1270.4L1926.9,1204.8L1937.5,1322.0L1948.1,1257.7L1958.7,1195.0L1969.3,1337.6L1979.9,1363.9L1990.5,1393.4L2001.1,1177.1L2011.7,1156.4L2022.3,1293.0L2032.9,1287.3L2043.5,1449.7L2054.1,1468.0L2064.7,1150.0L2075.3,1401.0L2085.9,1355.0L2096.5,1328.7L2107.1,1288.0L2117.7,1209.2L2128.3,1291.5L2138.9,1356.2L2149.5,1274.3L2160.1,1411.3L2170.7,1276.5L2181.3,1485.2L2191.9,1298.8L2202.5,1418.9L2213.1,1309.9"/>
<path d="M315.8,987.4L326.4,1157.1L337.0,1207.7L347.6,1164.0L358.2,1286.7L368.8,1130.9L379.4,1110.9L390.0,1117.5L400.6,1137.1L411.2,1180.5L421.8,1141.8L432.4,1278.5L443.0,1075.7L453.6,1128.8L464.2,1289.3L474.8,1113.4L485.4,1064.0L496.0,1220.6L506.6,1227.7L517.2,1227.2L527.8,1214.7L538.4,1183.0L549.0,1085.4L559.6,1080.4L570.2,1168.7L580.8,1062.2L591.4,1159.6L602.0,1376.7L612.6,1104.8L623.2,1143.2L633.8,1139.2L644.4,1164.1L655.0,1124.3L665.6,1151.5L676.2,1234.3L686.8,1159.9L697.4,1280.9L708.0,1037.7L718.6,1142.8L729.2,1101.2L739.8,1121.1L750.4,1272.7L761.0,1292.5L771.6,1110.8L782.2,1084.5L792.8,1158.1L803.4,1110.4L814.0,1142.7L824.6,1124.5L835.2,1042.6L845.8,1067.3L856.4,1126.4L867.0,1075.8L877.6,958.7L888.2,1171.8L898.8,1206.5L909.4,1085.5L920.0,1187.0L930.6,1210.2L941.2,1085.3L951.8,1125.2L962.4,1106.6L973.0,1105.4L983.6,1130.6L994.2,1241.2L1004.8,1110.8L1015.4,1095.9L1026.0,1129.5L1036.6,1207.8L1047.2,1152.5L1057.8,1027.0L1068.4,1068.1L1079.0,1176.4L1089.6,1170.6L1100.2,1092.2L1110.8,1118.9L1121.4,1261.6L1132.0,1194.8L1142.6,1227.2L1153.2,1337.6L1163.8,1140.2L1174.4,1230.7L1185.0,1185.9L1195.6,1252.1L1206.2,1156.7L1216.8,1166.5L1227.4,1230.8L1238.0,1100.0L1248.6,1256.8L1259.1,1221.3L1269.7,1138.5L1280.3,1215.8L1290.9,1285.5L1301.5,1168.7L1312.1,1110.9L1322.7,1170.8L1333.3,1170.2L1343.9,1117.7L1354.5,1181.0L1365.1,1126.2L1375.7,1137.9L1386.3,1180.7L1396.9,1127.0L1407.5,1146.6L1418.1,1116.1L1428.7,1254.6L1439.3,1146.7L1449.9,1171.9L1460.5,1175.7L1471.1,1226.7L1481.7,1174.1L1492.3,1214.1L1502.9,1134.5L1513.5,1183.6L1524.1,1074.1L1534.7,1054.3L1545.3,1141.2L1555.9,1219.7L1566.5,1131.1L1577.1,1293.0L1587.7,1268.1L1598.3,1185.8L1608.9,1355.6L1619.5,1138.7L1630.1,1239.5L1640.7,1213.0L1651.3,1156.5L1661.9,1144.4L1672.5,1232.1L1683.1,1197.3L1693.7,1151.3L1704.3,1310.8L1714.9,1212.9L1725.5,1143.4L1736.1,1351.8L1746.7,1183.5L1757.3,1283.8L1767.9,1126.5L1778.5,1151.9L1789.1,1370.1L1799.7,1211.5L1810.3,1108.4L1820.9,1257.4L1831.5,1448.0L1842.1,1186.3L1852.7,1369.0L1863.3,1353.4L1873.9,1202.2L1884.5,1304.7L1895.1,1338.6L1905.7,1222.7L1916.3,1236.1L1926.9,1078.2L1937.5,1225.2L1948.1,1185.0L1958.7,1244.1L1969.3,1308.0L1979.9,1391.6L1990.5,1291.9L2001.1,1340.2L2011.7,1224.0L2022.3,1245.9L2032.9,1351.3L2043.5,1306.3L2054.1,1267.4L2064.7,1343.3L2075.3,1298.0L2085.9,1252.3L2096.5,1420.3L2107.1,1326.5L2117.7,1293.8L2128.3,1288.0L2138.9,1268.7L2149.5,1375.6L2160.1,1409.7L2170.7,1303.7L2181.3,1503.6L2191.9,1474.4L2202.5,1321.4L2213.1,1269.2"/>
<path d="M315.8,1162.3L326.4,1206.5L337.0,1291.1L347.6,1031.4L358.2,1225.1L368.8,1209.2L379.4,1102.7L390.0,1084.6L400.6,1032.6L411.2,1213.1L421.8,1112.0L432.4,1212.4L443.0,1243.6L453.6,1165.8L464.2,1172.1L474.8,1091.7L485.4,1103.3L496.0,1169.2L506.6,1141.2L517.2,1207.2L527.8,1133.6L538.4,1159.1L549.0,1182.3L559.6,1234.5L570.2,1207.4L580.8,1190.8L591.4,1066.9L602.0,1077.3L612.6,1152.7L623.2,1256.4L633.8,1126.1L644.4,1095.9L655.0,1010.4L665.6,1248.5L676.2,1036.0L686.8,1089.1L697.4,1169.6L708.0,1151.0L718.6,1140.7L729.2,1189.0L739.8,1157.6L750.4,1076.1L761.0,1168.3L771.6,1145.7L782.2,1156.9L792.8,1095.0L803.4,1102.5L814.0,1185.9L824.6,1281.7L835.2,1011.7L845.8,1095.0L856.4,1160.3L867.0,1235.8L877.6,1164.9L888.2,1132.7L898.8,1127.3L909.4,1331.7L920.0,1226.4L930.6,946.1L941.2,1084.0L951.8,1224.8L962.4,1022.5L973.0,1131.2L983.6,1152.9L994.2,1136.6L1004.8,1248.3L1015.4,1237.7L1026.0,1256.5L1036.6,1200.0L1047.2,1173.3L1057.8,1124.9L1068.4,1098.6L1079.0,1199.9L1089.6,1260.8L1100.2,1162.7L1110.8,1081.2L1121.4,1242.6L1132.0,1172.5L1142.6,1177.9L1153.2,1243.1L1163.8,1159.7L1174.4,1157.8L1185.0,1177.2L1195.6,989.3L1206.2,1214.1L1216.8,1167.4L1227.4,1113.7L1238.0,1165.7L1248.6,1182.4L1259.1,1276.6L1269.7,1169.7L1280.3,1069.2L1290.9,1271.7L1301.5,1110.1L1312.1,1199.3L1322.7,1159.3L1333.3,1284.5L1343.9,1139.6L1354.5,1145.0L1365.1,1129.6L1375.7,1116.5L1386.3,1260.7L1396.9,1149.9L1407.5,1156.9L1418.1,1249.1L1428.7,1241.7L1439.3,1172.4L1449.9,1149.7L1460.5,1132.9L1471.1,1241.1L1481.7,1231.7L1492.3,1252.2L1502.9,1163.3L1513.5,983.0L1524.1,1356.5L1534.7,985.4L1545.3,1238.8L1555.9,1262.5L1566.5,1283.6L1577.1,1208.0L1587.7,1195.0L1598.3,1112.3L1608.9,1061.2L1619.5,1166.3L1630.1,1052.6L1640.7,1100.9L1651.3,1194.2L1661.9,1153.2L1672.5,1224.0L1683.1,1204.5L1693.7,1232.4L1704.3,1136.3L1714.9,1321.8L1725.5,1227.0L1736.1,1346.8L1746.7,1176.1L1757.3,1113.2L1767.9,1061.7L1778.5,1223.1L1789.1,1197.0L1799.7,1158.1L1810.3,1294.3L1820.9,1243.1L1831.5,1159.0L1842.1,1231.3L1852.7,1262.7L1863.3,1264.7L1873.9,1161.9L1884.5,1352.7L1895.1,1024.5L1905.7,1249.8L1916.3,1192.5L1926.9,1161.4L1937.5,1333.5L1948.1,1280.9L1958.7,1314.4L1969.3,1208.1L1979.9,1216.8L1990.5,1334.4L2001.1,1207.4L2011.7,1241.5L2022.3,1261.0L2032.9,1299.1L2043.5,1357.6L2054.1,1348.2L2064.7,1476.1L2075.3,1258.0L2085.9,1353.4L2096.5,1195.5L2107.1,1443.6L2117.7,1380.7L2128.3,1257.5L2138.9,1439.1L2149.5,1254.0L2160.1,1346.8L2170.7,1334.1L2181.3,1234.0L2191.9,1382.0L2202.5,1373.6L2213.1,1516.4"/>
<path d="M315.8,1171.8L326.4,1177.8L337.0,1044.3L347.6,1249.7L358.2,1172.7L368.8,1203.5L379.4,1000.7L390.0,1132.4L400.6,1074.7L411.2,1245.8L421.8,1152.3L432.4,1378.6L443.0,1212.3L453.6,1208.6L464.2,1164.0L474.8,1135.5L485.4,1190.3L496.0,1177.0L506.6,1108.3L517.2,1164.8L527.8,1122.2L538.4,1257.4L549.0,1165.6L559.6,1234.8L570.2,1212.1L580.8,1280.4L591.4,1016.2L602.0,1142.2L612.6,1017.8L623.2,1134.7L633.8,1101.7L644.4,1031.3L655.0,1104.9L665.6,1138.3L676.2,1278.5L686.8,1168.4L697.4,1114.6L708.0,1131.1L718.6,1072.0L729.2,1349.6L739.8,1126.9L750.4,1201.2L761.0,1168.7L771.6,1111.3L782.2,1128.5L792.8,961.9L803.4,1270.1L814.0,1110.1L824.6,1198.1L835.2,1114.3L845.8,1078.5L856.4,1196.7L867.0,998.6L877.6,1155.7L888.2,1138.3L898.8,1244.8L909.4,1208.5L920.0,1149.1L930.6,1174.7L941.2,1098.7L951.8,1086.8L962.4,1200.4L973.0,1305.3L983.6,1004.6L994.2,1236.2L1004.8,1166.4L1015.4,1229.5L1026.0,1237.4L1036.6,1131.7L1047.2,1118.7L1057.8,1268.4L1068.4,1227.0L1079.0,1312.6L1089.6,1199.3L1100.2,1269.8L1110.8,1182.8L1121.4,1004.4L1132.0,1207.4L1142.6,1325.4L1153.2,1144.0L1163.8,1100.7L1174.4,1204.9L1185.0,1087.7L1195.6,1268.1L1206.2,1013.7L1216.8,1232.8L1227.4,1211.7L1238.0,1158.3L1248.6,1140.1L1259.1,1336.5L1269.7,1261.3L1280.3,1302.8L1290.9,1094.7L1301.5,1135.7L1312.1,1198.2L1322.7,1212.6L1333.3,1135.5L1343.9,1385.1L1354.5,1175.1L1365.1,1284.2L1375.7,1292.1L1386.3,1144.4L1396.9,1256.5L1407.5,1152.4L1418.1,1102.5L1428.7,1270.4L1439.3,1202.9L1449.9,1230.1L1460.5,1170.5L1471.1,1139.0L1481.7,1372.5L1492.3,1168.3L1502.9,1166.6L1513.5,1218.4L1524.1,1231.4L1534.7,1187.0L1545.3,1089.0L1555.9,1237.3L1566.5,1121.6L1577.1,1200.9L1587.7,1182.9L1598.3,1187.5L1608.9,1213.5L1619.5,1126.0L1630.1,1275.6L1640.7,1250.9L1651.3,1280.0L1661.9,1136.6L1672.5,1201.5L1683.1,1167.8L1693.7,1235.7L1704.3,1229.1L1714.9,1212.9L1725.5,1221.1L1736.1,1257.6L1746.7,1257.8L1757.3,1120.5L1767.9,1289.4L1778.5,1286.2L1789.1,1234.4L1799.7,1201.7L1810.3,1108.2L1820.9,1020.3L1831.5,1175.8L1842.1,1307.9L1852.7,1129.8L1863.3,1328.1L1873.9,1154.7L1884.5,1258.9L1895.1,1218.1L1905.7,1165.5L1916.3,1152.3L1926.9,1281.8L1937.5,1157.3L1948.1,1299.3L1958.7,1194.3L1969.3,1259.7L1979.9,1354.0L1990.5,1384.4L2001.1,1206.4L2011.7,1243.8L2022.3,1269.0L2032.9,1528.2L2043.5,1275.4L2054.1,1412.5L2064.7,1412.2L2075.3,1275.7L2085.9,1300.6L2096.5,1205.0L2107.1,1342.2L2117.7,1305.8L2128.3,1383.0L2138.9,1348.3L2149.5,1258.3L2160.1,1291.5L2170.7,1412.7L2181.3,1364.9L2191.9,1405.7L2202.5,1284.3L2213.1,1267.9"/>
<path d="M315.8,1084.1L326.4,1262.9L337.0,1224.0L347.6,1145.1L358.2,1124.3L368.8,1089.8L379.4,1096.0L390.0,1042.6L400.6,1068.4L411.2,1182.9L421.8,1098.7L432.4,1166.8L443.0,1101.4L453.6,1147.9L464.2,1172.8L474.8,1116.1L485.4,1202.9L496.0,1128.7L506.6,1133.8L517.2,1128.0L527.8,1143.1L538.4,1261.8L549.0,1103.0L559.6,1160.6L570.2,1199.2L580.8,1279.3L591.4,1182.8L602.0,1090.5L612.6,1117.6L623.2,1154.3L633.8,1190.6L644.4,1123.1L655.0,1125.1L665.6,1169.1L676.2,1026.5L686.8,1211.8L697.4,1087.2L708.0,1145.8L718.6,1206.8L729.2,1083.5L739.8,1137.9L750.4,1226.7L761.0,1181.3L771.6,1056.8L782.2,1160.9L792.8,1012.5L803.4,1212.8L814.0,1115.4L824.6,1169.9L835.2,1204.8L845.8,1203.9L856.4,1179.2L867.0,1163.5L877.6,1030.2L888.2,1187.9L898.8,1225.6L909.4,1288.4L920.0,1139.0L930.6,1208.7L941.2,1223.7L951.8,1049.5L962.4,1227.3L973.0,1181.4L983.6,1131.9L994.2,1128.1L1004.8,1049.7L1015.4,1209.3L1026.0,1266.1L1036.6,1328.0L1047.2,1100.9L1057.8,1056.1L1068.4,1232.6L1079.0,1140.3L1089.6,1061.7L1100.2,1108.9L1110.8,1108.0L1121.4,1029.6L1132.0,1080.7L1142.6,1153.8L1153.2,1338.4L1163.8,1190.6L1174.4,1163.9L1185.0,1244.6L1195.6,1155.3L1206.2,1164.3L1216.8,1176.0L1227.4,1154.2L1238.0,1202.7L1248.6,1218.6L1259.1,1150.0L1269.7,1198.3L1280.3,1267.1L1290.9,1181.6L1301.5,1190.8L1312.1,1188.4L1322.7,1166.3L1333.3,1275.5L1343.9,1140.2L1354.5,1104.9L1365.1,1229.2L1375.7,1200.0L1386.3,1211.3L1396.9,1217.6L1407.5,1178.2L1418.1,1233.5L1428.7,1196.6L1439.3,1164.1L1449.9,1186.2L1460.5,1271.3L1471.1,1066.9L1481.7,1280.3L1492.3,1266.8L1502.9,1247.5L1513.5,1250.3L1524.1,1203.0L1534.7,1168.4L1545.3,1100.2L1555.9,1208.2L1566.5,1176.8L1577.1,1180.0L1587.7,1100.6L1598.3,1106.2L1608.9,1116.9L1619.5,1096.1L1630.1,1236.7L1640.7,1019.6L1651.3,1152.4L1661.9,1292.1L1672.5,1141.6L1683.1,1267.6L1693.7,1263.6L1704.3,1322.6L1714.9,1144.1L1725.5,1212.2L1736.1,1179.4L1746.7,1148.7L1757.3,1106.7L1767.9,1182.5L1778.5,1135.6L1789.1,1190.5L1799.7,1311.3L1810.3,1299.1L1820.9,956.3L1831.5,1213.6L1842.1,1296.7L1852.7,1055.4L1863.3,1151.5L1873.9,1195.0L1884.5,1346.2L1895.1,1153.7L1905.7,1249.1L1916.3,1021.6L1926.9,1237.5L1937.5,1168.9L1948.1,1338.1L1958.7,1273.7L1969.3,1197.5L1979.9,1354.8L1990.5,1221.2L2001.1,1306.8L2011.7,1220.1L2022.3,1270.7L2032.9,1426.0L2043.5,1433.8L2054.1,1282.5L2064.7,1280.8L2075.3,1316.8L2085.9,1152.4L2096.5,1273.4L2107.1,1422.4L2117.7,1366.9L2128.3,1274.7L2138.9,1480.4L2149.5,1322.7L2160.1,1250.7L2170.7,1320.2L2181.3,1357.1L2191.9,1316.0L2202.5,1156.9L2213.1,1461.8"/>
<path d="M315.8,1168.8L326.4,1175.8L337.0,1145.5L347.6,1132.6L358.2,1110.0L368.8,999.2L379.4,1123.3L390.0,1126.3L400.6,984.3L411.2,1179.3L421.8,1143.1L432.4,1160.0L443.0,1203.3L453.6,1191.9L464.2,1260.2L474.8,1168.8L485.4,1208.5L496.0,1248.7L506.6,1127.1L517.2,1105.2L527.8,1329.9L538.4,1211.5L549.0,996.4L559.6,1089.1L570.2,1050.9L580.8,1312.1L591.4,1204.1L602.0,1180.1L612.6,1142.1L623.2,1185.6L633.8,1048.4L644.4,1180.5L655.0,1159.2L665.6,1218.3L676.2,983.0L686.8,1197.5L697.4,1131.2L708.0,1198.0L718.6,1380.6L729.2,1128.3L739.8,1131.4L750.4,1256.0L761.0,1127.6L771.6,1053.1L782.2,1121.6L792.8,1174.7L803.4,1169.3L814.0,1197.3L824.6,1166.3L835.2,1077.1L845.8,1170.9L856.4,1170.0L867.0,1030.4L877.6,1183.6L888.2,1040.2L898.8,1116.0L909.4,1102.6L920.0,1159.1L930.6,1184.7L941.2,1006.7L951.8,1152.4L962.4,1126.4L973.0,1223.8L983.6,1089.7L994.2,1163.8L1004.8,1073.7L1015.4,1148.7L1026.0,1239.1L1036.6,1167.0L1047.2,1125.0L1057.8,1128.3L1068.4,1088.0L1079.0,1109.4L1089.6,1136.0L1100.2,1211.3L1110.8,1227.5L1121.4,1125.7L1132.0,1208.6L1142.6,1083.5L1153.2,1227.3L1163.8,1229.8L1174.4,1199.1L1185.0,1275.5L1195.6,1061.2L1206.2,1142.6L1216.8,1115.7L1227.4,1152.4L1238.0,1314.6L1248.6,1201.0L1259.1,1212.0L1269.7,1174.3L1280.3,1306.6L1290.9,1323.1L1301.5,1168.4L1312.1,1220.5L1322.7,1159.5L1333.3,1236.6L1343.9,1321.4L1354.5,1183.8L1365.1,1178.4L1375.7,1257.1L1386.3,1127.4L1396.9,1227.0L1407.5,1174.1L1418.1,1312.6L1428.7,1143.2L1439.3,1138.1L1449.9,1202.6L1460.5,1066.1L1471.1,1285.8L1481.7,1069.5L1492.3,1018.4L1502.9,1263.7L1513.5,1197.2L1524.1,1249.6L1534.7,1142.8L1545.3,1120.4L1555.9,1247.0L1566.5,1252.2L1577.1,1314.9L1587.7,1275.8L1598.3,1251.6L1608.9,1170.2L1619.5,1258.9L1630.1,1106.4L1640.7,1167.4L1651.3,1031.3L1661.9,1168.4L1672.5,1177.5L1683.1,1207.0L1693.7,1232.9L1704.3,1276.5L1714.9,1187.7L1725.5,1157.6L1736.1,1237.1L1746.7,1136.3L1757.3,1091.6L1767.9,1153.1L1778.5,1124.7L1789.1,1247.2L1799.7,1216.1L1810.3,1457.6L1820.9,1147.1L1831.5,1189.9L1842.1,1251.5L1852.7,1242.5L1863.3,1292.4L1873.9,1294.6L1884.5,1341.2L1895.1,1220.8L1905.7,1331.9L1916.3,1128.6L1926.9,1319.1L1937.5,1273.8L1948.1,1281.1L1958.7,1118.5L1969.3,1125.1L1979.9,1245.8L1990.5,1144.0L2001.1,1257.8L2011.7,1267.0L2022.3,1293.0L2032.9,1306.5L2043.5,1138.1L2054.1,1261.7L2064.7,1340.2L2075.3,1342.3L2085.9,1361.6L2096.5,1252.4L2107.1,1324.5L2117.7,1370.7L2128.3,1509.6L2138.9,1493.4L2149.5,1416.9L2160.1,1255.2L2170.7,1336.8L2181.3,1337.1L2191.9,1442.0L2202.5,1423.7L2213.1,1309.5"/>
<path d="M315.8,1227.6L326.4,1186.6L337.0,1044.7L347.6,1115.4L358.2,1149.6L368.8,1045.0L379.4,1205.8L390.0,1175.4L400.6,1179.6L411.2,974.6L421.8,1076.1L432.4,1241.6L443.0,1015.5L453.6,1105.4L464.2,1245.7L474.8,1136.3L485.4,1064.8L496.0,1076.0L506.6,1246.0L517.2,1123.2L527.8,1267.2L538.4,1181.9L549.0,1261.2L559.6,1246.7L570.2,1208.9L580.8,1127.2L591.4,1155.4L602.0,1190.0L612.6,1252.4L623.2,1211.7L633.8,1172.7L644.4,1286.0L655.0,1172.8L665.6,1209.6L676.2,1234.8L686.8,1188.1L697.4,1188.8L708.0,1249.8L718.6,1059.3L729.2,1024.2L739.8,1147.1L750.4,1053.0L761.0,979.2L771.6,1067.5L782.2,1100.4L792.8,1100.4L803.4,1194.4L814.0,1045.0L824.6,1116.0L835.2,1015.7L845.8,1050.8L856.4,1226.1L867.0,1052.2L877.6,1084.7L888.2,1198.3L898.8,1148.0L909.4,1095.8L920.0,1174.1L930.6,1261.1L941.2,1138.3L951.8,1054.3L962.4,1207.3L973.0,1062.3L983.6,1170.6L994.2,1117.9L1004.8,1113.0L1015.4,1156.2L1026.0,1123.9L1036.6,1021.3L1047.2,1194.8L1057.8,1263.7L1068.4,1158.3L1079.0,1112.2L1089.6,1012.1L1100.2,1234.3L1110.8,1130.2L1121.4,1164.0L1132.0,1124.1L1142.6,1243.5L1153.2,1223.3L1163.8,1284.3L1174.4,1297.8L1185.0,1170.2L1195.6,1204.2L1206.2,1265.6L1216.8,1161.9L1227.4,1205.3L1238.0,1307.8L1248.6,1071.9L1259.1,1228.2L1269.7,1224.1L1280.3,1246.7L1290.9,1135.5L1301.5,1112.6L1312.1,1234.2L1322.7,1237.6L1333.3,1170.6L1343.9,1245.2L1354.5,1170.3L1365.1,1203.5L1375.7,1045.4L1386.3,1350.5L1396.9,1249.3L1407.5,1090.5L1418.1,1369.0L1428.7,1149.2L1439.3,1177.2L1449.9,1180.5L1460.5,1011.2L1471.1,1170.1L1481.7,1318.7L1492.3,1199.5L1502.9,1167.2L1513.5,1228.4L1524.1,1198.3L1534.7,1101.2L1545.3,1262.8L1555.9,1265.7L1566.5,1164.5L1577.1,1160.7L1587.7,1241.5L1598.3,1088.6L1608.9,1132.4L1619.5,1238.6L1630.1,1170.0L1640.7,1040.0L1651.3,1175.3L1661.9,1117.1L1672.5,1317.5L1683.1,1097.2L1693.7,1235.5L1704.3,1338.4L1714.9,1139.9L1725.5,1216.2L1736.1,1214.9L1746.7,1096.2L1757.3,1258.6L1767.9,1116.5L1778.5,1152.0L1789.1,1293.2L1799.7,1324.3L1810.3,1045.0L1820.9,1224.5L1831.5,1236.9L1842.1,1263.6L1852.7,1322.2L1863.3,1193.9L1873.9,1233.9L1884.5,1354.1L1895.1,1304.8L1905.7,1199.3L1916.3,1218.5L1926.9,1318.2L1937.5,1293.5L1948.1,1181.7L1958.7,1337.5L1969.3,1230.4L1979.9,1299.2L1990.5,1317.4L2001.1,1214.3L2011.7,1488.9L2022.3,1156.3L2032.9,1298.1L2043.5,1229.3L2054.1,1173.5L2064.7,1258.7L2075.3,1319.0L2085.9,1408.3L2096.5,1448.6L2107.1,1244.7L2117.7,1306.9L2128.3,1303.2L2138.9,1300.0L2149.5,1325.7L2160.1,1270.2L2170.7,1263.0L2181.3,1422.3L2191.9,1433.1L2202.5,1387.8L2213.1,1372.6"/>
<path d="M315.8,1241.6L326.4,1141.9L337.0,1288.6L347.6,1027.2L358.2,1227.5L368.8,1087.4L379.4,1020.4L390.0,1083.6L400.6,1163.2L411.2,1300.7L421.8,1017.2L432.4,1180.8L443.0,992.6L453.6,1172.4L464.2,1242.7L474.8,1034.9L485.4,1193.0L496.0,1184.4L506.6,1131.7L517.2,1177.5L527.8,1165.8L538.4,1202.5L549.0,1116.9L559.6,1165.5L570.2,1346.1L580.8,1135.4L591.4,1063.1L602.0,1147.1L612.6,1204.3L623.2,1087.0L633.8,1301.4L644.4,1031.9L655.0,1064.9L665.6,1223.0L676.2,1169.6L686.8,1261.7L697.4,1052.1L708.0,1111.5L718.6,1098.9L729.2,1144.8L739.8,1095.7L750.4,1111.7L761.0,1139.2L771.6,1133.0L782.2,1223.2L792.8,1115.1L803.4,1184.8L814.0,1201.8L824.6,1190.3L835.2,1138.5L845.8,1140.6L856.4,1142.5L867.0,1154.5L877.6,1065.6L888.2,1294.0L898.8,1244.6L909.4,1168.9L920.0,1148.4L930.6,1169.0L941.2,1156.0L951.8,1049.9L962.4,1242.3L973.0,1128.1L983.6,1229.8L994.2,1133.2L1004.8,995.5L1015.4,1157.0L1026.0,1007.6L1036.6,1096.8L1047.2,1059.9L1057.8,1110.6L1068.4,1124.5L1079.0,1159.5L1089.6,1100.4L1100.2,1252.7L1110.8,1063.5L1121.4,1094.9L1132.0,1211.6L1142.6,1099.9L1153.2,954.9L1163.8,1177.9L1174.4,1093.8L1185.0,1301.4L1195.6,1071.8L1206.2,1121.5L1216.8,1072.3L1227.4,1137.6L1238.0,1261.4L1248.6,1227.7L1259.1,1170.5L1269.7,1165.1L1280.3,1327.6L1290.9,1320.3L1301.5,1128.8L1312.1,1161.3L1322.7,1262.2L1333.3,1177.1L1343.9,1187.9L1354.5,1140.5L1365.1,1163.0L1375.7,1309.0L1386.3,1189.5L1396.9,1149.6L1407.5,1080.3L1418.1,1324.6L1428.7,1362.5L1439.3,1197.7L1449.9,1126.8L1460.5,1205.1L1471.1,1143.7L1481.7,1204.4L1492.3,1272.4L1502.9,1071.2L1513.5,1070.7L1524.1,1190.7L1534.7,1161.7L1545.3,1130.3L1555.9,1192.1L1566.5,1201.9L1577.1,1218.9L1587.7,1187.9L1598.3,1051.6L1608.9,1189.0L1619.5,1233.2L1630.1,1038.0L1640.7,1179.6L1651.3,1027.6L1661.9,1080.5L1672.5,1202.8L1683.1,1127.6L1693.7,1163.8L1704.3,1283.7L1714.9,1155.1L1725.5,1229.1L1736.1,1232.2L1746.7,1173.8L1757.3,1153.7L1767.9,1319.8L1778.5,1097.0L1789.1,1161.6L1799.7,1319.8L1810.3,1302.4L1820.9,1119.9L1831.5,1206.0L1842.1,1344.6L1852.7,1036.2L1863.3,1256.6L1873.9,1255.2L1884.5,1167.4L1895.1,1164.3L1905.7,1145.0L1916.3,1261.3L1926.9,1368.1L1937.5,1214.8L1948.1,1299.7L1958.7,1213.8L1969.3,1221.8L1979.9,1247.2L1990.5,1308.8L2001.1,1226.5L2011.7,1350.9L2022.3,1092.9L2032.9,1369.1L2043.5,1335.2L2054.1,1285.9L2064.7,1606.8L2075.3,1487.0L2085.9,1467.2L2096.5,1295.3L2107.1,1473.1L2117.7,1389.7L2128.3,1346.8L2138.9,1334.0L2149.5,1279.0L2160.1,1345.6L2170.7,1361.3L2181.3,1380.0L2191.9,1417.3L2202.5,1231.4L2213.1,1414.8"/>
<path d="M315.8,1064.3L326.4,1164.5L337.0,784.6L347.6,1057.4L358.2,1143.4L368.8,1050.5L379.4,1061.0L390.0,1147.2L400.6,1074.9L411.2,1160.8L421.8,1242.5L432.4,1195.7L443.0,1264.7L453.6,1038.5L464.2,1151.8L474.8,1192.5L485.4,1265.7L496.0,1150.4L506.6,1174.0L517.2,1091.2L527.8,1143.8L538.4,1285.6L549.0,1142.7L559.6,1277.8L570.2,1179.6L580.8,1213.8L591.4,1372.0L602.0,1177.1L612.6,1093.2L623.2,1148.4L633.8,1169.5L644.4,1230.0L655.0,1147.9L665.6,1135.2L676.2,1100.1L686.8,1187.4L697.4,1125.8L708.0,1065.2L718.6,1126.9L729.2,1213.8L739.8,1095.5L750.4,1165.5L761.0,1129.1L771.6,1112.6L782.2,1003.8L792.8,1182.4L803.4,1068.0L814.0,1127.0L824.6,1043.2L835.2,1148.5L845.8,1085.7L856.4,1213.9L867.0,1105.4L877.6,1128.7L888.2,1256.2L898.8,1226.2L909.4,1322.8L920.0,1163.9L930.6,1278.1L941.2,1176.9L951.8,1278.0L962.4,1138.0L973.0,1179.9L983.6,1082.0L994.2,1056.2L1004.8,1260.6L1015.4,1007.9L1026.0,1016.5L1036.6,1267.9L1047.2,1102.9L1057.8,1242.3L1068.4,1113.5L1079.0,1044.4L1089.6,1086.1L1100.2,1256.2L1110.8,1197.7L1121.4,1317.2L1132.0,1235.2L1142.6,1316.8L1153.2,1265.5L1163.8,1197.8L1174.4,1024.8L1185.0,1251.0L1195.6,1097.3L1206.2,1222.0L1216.8,1110.9L1227.4,1189.6L1238.0,1205.5L1248.6,1125.4L1259.1,1185.1L1269.7,1071.8L1280.3,1240.0L1290.9,1119.2L1301.5,1177.1L1312.1,1180.0L1322.7,1175.4L1333.3,1203.7L1343.9,1081.1L1354.5,1126.5L1365.1,1148.4L1375.7,1213.1L1386.3,1218.5L1396.9,1412.6L1407.5,1052.2L1418.1,1118.6L1428.7,1214.4L1439.3,1157.5L1449.9,1279.8L1460.5,1018.9L1471.1,1136.9L1481.7,1212.5L1492.3,1141.6L1502.9,1099.5L1513.5,1108.8L1524.1,1208.4L1534.7,1097.9L1545.3,1185.2L1555.9,1234.5L1566.5,1064.1L1577.1,1174.8L1587.7,1222.0L1598.3,1242.6L1608.9,1029.0L1619.5,1098.0L1630.1,1223.6L1640.7,1204.2L1651.3,1237.9L1661.9,1143.4L1672.5,1089.8L1683.1,1198.0L1693.7,1123.7L1704.3,1178.0L1714.9,1275.0L1725.5,1251.7L1736.1,1156.8L1746.7,1231.4L1757.3,1130.0L1767.9,1151.0L1778.5,1247.9L1789.1,1274.6L1799.7,1114.0L1810.3,1217.4L1820.9,1181.6L1831.5,1305.2L1842.1,1156.6L1852.7,1036.2L1863.3,1140.4L1873.9,1304.6L1884.5,1275.0L1895.1,1258.1L1905.7,1276.4L1916.3,1209.2L1926.9,1314.5L1937.5,1092.5L1948.1,1390.4L1958.7,1249.6L1969.3,1212.0L1979.9,1356.5L1990.5,1190.7L2001.1,1180.9L2011.7,1334.0L2022.3,1322.7L2032.9,1414.2L2043.5,1310.7L2054.1,1367.3L2064.7,1236.6L2075.3,1271.5L2085.9,1397.8L2096.5,1295.7L2107.1,1471.9L2117.7,1202.6L2128.3,1337.3L2138.9,1316.2L2149.5,1403.7L2160.1,1289.1L2170.7,1325.5L2181.3,1121.1L2191.9,1486.5L2202.5,1161.9L2213.1,1292.6"/>
<path d="M315.8,1265.9L326.4,1092.4L337.0,1103.4L347.6,1112.7L358.2,992.1L368.8,1219.4L379.4,1127.1L390.0,1181.7L400.6,1200.3L411.2,1172.8L421.8,1048.4L432.4,1253.8L443.0,1134.4L453.6,1150.2L464.2,1189.8L474.8,1158.8L485.4,1032.7L496.0,1186.6L506.6,1128.5L517.2,1237.5L527.8,1151.6L538.4,1194.5L549.0,1105.6L559.6,1149.4L570.2,1134.3L580.8,1152.8L591.4,1218.2L602.0,1214.0L612.6,1016.2L623.2,1117.9L633.8,1157.9L644.4,1103.2L655.0,1228.0L665.6,1208.2L676.2,1176.2L686.8,1155.3L697.4,1132.7L708.0,1099.9L718.6,1199.2L729.2,1176.8L739.8,1188.0L750.4,1186.9L761.0,1102.9L771.6,1206.7L782.2,1244.4L792.8,1062.5L803.4,1220.2L814.0,1224.5L824.6,1093.1L835.2,1162.5L845.8,938.8L856.4,1091.2L867.0,1181.6L877.6,1070.6L888.2,1049.1L898.8,1192.7L909.4,1083.7L920.0,1152.5L930.6,1347.8L941.2,1327.1L951.8,1149.0L962.4,1190.1L973.0,1114.2L983.6,1259.0L994.2,1187.2L1004.8,1039.0L1015.4,1110.2L1026.0,1197.9L1036.6,1231.6L1047.2,1006.4L1057.8,1103.7L1068.4,1263.1L1079.0,1123.9L1089.6,1196.1L1100.2,1197.8L1110.8,1207.2L1121.4,1102.7L1132.0,1200.8L1142.6,1114.3L1153.2,1173.7L1163.8,1300.5L1174.4,1292.6L1185.0,1300.4L1195.6,1113.4L1206.2,1225.5L1216.8,1036.9L1227.4,1041.3L1238.0,1252.1L1248.6,1142.4L1259.1,1216.7L1269.7,1195.1L1280.3,1100.6L1290.9,1274.6L1301.5,1208.4L1312.1,1245.0L1322.7,1267.9L1333.3,1071.8L1343.9,1185.4L1354.5,1193.4L1365.1,1109.8L1375.7,1234.7L1386.3,1106.1L1396.9,1059.9L1407.5,1159.2L1418.1,1179.4L1428.7,1161.0L1439.3,1284.7L1449.9,1310.1L1460.5,1086.8L1471.1,1158.8L1481.7,1197.0L1492.3,1171.4L1502.9,1229.7L1513.5,1195.6L1524.1,1272.8L1534.7,1307.9L1545.3,1142.0L1555.9,1160.4L1566.5,1144.0L1577.1,1282.8L1587.7,1210.5L1598.3,1189.0L1608.9,1190.3L1619.5,1222.4L1630.1,1270.0L1640.7,1144.5L1651.3,1270.2L1661.9,1299.3L1672.5,1153.9L1683.1,1127.6L1693.7,1242.4L1704.3,1279.6L1714.9,1120.0L1725.5,1133.8L1736.1,1268.8L1746.7,1127.3L1757.3,1198.2L1767.9,1218.9L1778.5,1206.4L1789.1,1111.1L1799.7,1230.7L1810.3,1317.4L1820.9,1323.4L1831.5,1213.4L1842.1,1239.5L1852.7,1355.1L1863.3,1179.8L1873.9,1252.3L1884.5,1343.5L1895.1,1272.9L1905.7,1170.2L1916.3,1120.0L1926.9,1282.1L1937.5,1375.1L1948.1,1133.1L1958.7,1319.2L1969.3,1177.4L1979.9,1186.9L1990.5,1310.9L2001.1,947.4L2011.7,1405.5L2022.3,1341.8L2032.9,1367.8L2043.5,1216.3L2054.1,1309.5L2064.7,1358.6L2075.3,1302.8L2085.9,1325.2L2096.5,1323.5L2107.1,1158.4L2117.7,1336.2L2128.3,1269.7L2138.9,1366.0L2149.5,1230.3L2160.1,1363.7L2170.7,1175.7L2181.3,1255.1L2191.9,1365.3L2202.5,1387.1L2213.1,1369.6"/>
<path d="M315.8,1171.9L326.4,1090.2L337.0,1123.8L347.6,1210.6L358.2,1155.7L368.8,1198.8L379.4,1332.9L390.0,1102.8L400.6,1188.6L411.2,1068.4L421.8,1163.3L432.4,1231.1L443.0,1080.9L453.6,1095.7L464.2,1247.7L474.8,1262.9L485.4,1166.2L496.0,1281.9L506.6,1195.8L517.2,1171.3L527.8,1227.0L538.4,1207.1L549.0,1252.7L559.6,1183.9L570.2,1113.5L580.8,1159.8L591.4,1117.7L602.0,1263.1L612.6,762.2L623.2,1171.3L633.8,1212.2L644.4,1221.5L655.0,1043.9L665.6,967.4L676.2,1078.6L686.8,1095.9L697.4,1218.7L708.0,1226.9L718.6,1054.3L729.2,1200.8L739.8,1204.9L750.4,1121.8L761.0,1177.1L771.6,1098.6L782.2,1030.1L792.8,1128.9L803.4,1154.3L814.0,1150.8L824.6,1340.6L835.2,1383.5L845.8,1254.2L856.4,1031.3L867.0,1112.8L877.6,1013.9L888.2,1303.1L898.8,1131.1L909.4,1176.2L920.0,1305.3L930.6,1134.3L941.2,1092.0L951.8,1156.6L962.4,1071.7L973.0,1178.4L983.6,1106.2L994.2,1081.1L1004.8,1064.3L1015.4,1154.7L1026.0,952.7L1036.6,1194.9L1047.2,1130.4L1057.8,1259.5L1068.4,1265.2L1079.0,1097.8L1089.6,1178.0L1100.2,1126.6L1110.8,1148.7L1121.4,1155.7L1132.0,1205.8L1142.6,1115.0L1153.2,1167.5L1163.8,1238.7L1174.4,1010.9L1185.0,1311.2L1195.6,1098.2L1206.2,1209.7L1216.8,1246.9L1227.4,1262.5L1238.0,1287.1L1248.6,1246.1L1259.1,1265.7L1269.7,991.5L1280.3,1064.0L1290.9,1152.3L1301.5,1252.9L1312.1,1086.0L1322.7,1161.0L1333.3,1086.4L1343.9,1302.2L1354.5,1252.3L1365.1,1250.4L1375.7,1167.0L1386.3,1114.3L1396.9,1103.8L1407.5,1281.8L1418.1,1103.4L1428.7,1217.3L1439.3,1344.8L1449.9,1228.4L1460.5,1131.9L1471.1,1216.6L1481.7,1246.6L1492.3,1247.3L1502.9,986.5L1513.5,1239.4L1524.1,1313.9L1534.7,1156.1L1545.3,1146.8L1555.9,1226.6L1566.5,1225.5L1577.1,1204.7L1587.7,1236.4L1598.3,1201.7L1608.9,1132.8L1619.5,1228.5L1630.1,1124.4L1640.7,1301.1L1651.3,1172.1L1661.9,1121.6L1672.5,1227.6L1683.1,1075.8L1693.7,1128.0L1704.3,1116.6L1714.9,1250.6L1725.5,1249.7L1736.1,1249.4L1746.7,1358.9L1757.3,1260.0L1767.9,1229.5L1778.5,1187.3L1789.1,1344.5L1799.7,1265.2L1810.3,1291.0L1820.9,1274.2L1831.5,1368.6L1842.1,1266.9L1852.7,1419.7L1863.3,1339.8L1873.9,1255.9L1884.5,1188.0L1895.1,1248.9L1905.7,1186.3L1916.3,1227.5L1926.9,1201.7L1937.5,1079.9L1948.1,1442.9L1958.7,1328.4L1969.3,1418.1L1979.9,1330.6L1990.5,1220.8L2001.1,1193.9L2011.7,1363.5L2022.3,1390.8L2032.9,1344.9L2043.5,1303.0L2054.1,1424.9L2064.7,1345.4L2075.3,1427.1L2085.9,1431.1L2096.5,1506.4L2107.1,1403.4L2117.7,1325.1L2128.3,1330.2L2138.9,1490.3L2149.5,1539.6L2160.1,1368.0L2170.7,1304.2L2181.3,1395.1L2191.9,1260.5L2202.5,1238.4L2213.1,1329.8"/>
<path d="M315.8,1072.6L326.4,1207.6L337.0,1268.8L347.6,1156.7L358.2,1437.3L368.8,1150.1L379.4,1112.4L390.0,1180.4L400.6,935.3L411.2,1337.7L421.8,1190.8L432.4,1228.0L443.0,1223.6L453.6,1171.9L464.2,1205.1L474.8,1147.9L485.4,1212.5L496.0,1138.4L506.6,1204.3L517.2,1196.7L527.8,1263.9L538.4,1198.7L549.0,1269.4L559.6,1055.3L570.2,1231.1L580.8,1142.8L591.4,1188.5L602.0,1210.0L612.6,1233.3L623.2,1138.4L633.8,1122.8L644.4,1171.6L655.0,1187.2L665.6,1144.2L676.2,1128.2L686.8,1097.3L697.4,1047.1L708.0,1151.7L718.6,1129.3L729.2,1396.4L739.8,1208.7L750.4,1159.1L761.0,1332.0L771.6,1077.9L782.2,1276.3L792.8,1171.9L803.4,1148.9L814.0,1197.7L824.6,1119.9L835.2,1121.9L845.8,1106.3L856.4,1050.8L867.0,1164.8L877.6,1166.1L888.2,1198.4L898.8,1335.0L909.4,997.9L920.0,1268.8L930.6,967.9L941.2,1303.6L951.8,1360.1L962.4,1149.4L973.0,1284.7L983.6,1137.8L994.2,1098.4L1004.8,1185.8L1015.4,1185.8L1026.0,1202.4L1036.6,1108.4L1047.2,1342.4L1057.8,1109.0L1068.4,1034.4L1079.0,1251.1L1089.6,976.5L1100.2,1238.9L1110.8,1099.9L1121.4,1118.6L1132.0,1079.3L1142.6,1085.5L1153.2,1170.5L1163.8,1124.0L1174.4,1108.4L1185.0,1292.9L1195.6,1198.8L1206.2,1245.6L1216.8,1260.1L1227.4,1226.8L1238.0,1200.4L1248.6,1171.3L1259.1,1185.5L1269.7,1088.5L1280.3,1138.5L1290.9,1266.4L1301.5,1135.7L1312.1,1141.0L1322.7,1209.6L1333.3,1174.8L1343.9,1168.6L1354.5,1332.7L1365.1,1243.9L1375.7,1193.8L1386.3,1135.8L1396.9,1130.0L1407.5,1345.5L1418.1,1079.5L1428.7,1254.6L1439.3,1056.0L1449.9,1254.7L1460.5,1183.3L1471.1,1252.6L1481.7,1082.7L1492.3,1098.7L1502.9,1249.6L1513.5,1212.7L1524.1,1286.9L1534.7,1177.4L1545.3,1200.7L1555.9,1103.5L1566.5,1152.8L1577.1,1130.2L1587.7,1277.4L1598.3,1228.3L1608.9,1000.7L1619.5,1184.8L1630.1,1325.8L1640.7,1379.2L1651.3,1082.9L1661.9,1222.4L1672.5,1038.0L1683.1,1103.5L1693.7,1275.0L1704.3,1297.8L1714.9,1133.6L1725.5,1185.8L1736.1,1313.4L1746.7,1201.2L1757.3,1204.3L1767.9,1239.8L1778.5,1113.3L1789.1,1281.7L1799.7,1054.4L1810.3,1313.7L1820.9,1073.4L1831.5,1248.7L1842.1,1194.1L1852.7,1256.9L1863.3,1238.4L1873.9,1330.1L1884.5,1215.3L1895.1,1212.4L1905.7,1304.7L1916.3,1161.1L1926.9,1293.2L1937.5,1266.2L1948.1,1200.4L1958.7,1372.0L1969.3,1274.6L1979.9,1189.1L1990.5,1331.0L2001.1,1313.1L2011.7,1266.7L2022.3,1262.8L2032.9,1232.7L2043.5,1327.4L2054.1,1258.0L2064.7,1236.1L2075.3,1329.1L2085.9,1387.9L2096.5,1230.0L2107.1,1216.6L2117.7,1240.8L2128.3,1259.5L2138.9,1384.9L2149.5,1300.7L2160.1,1455.3L2170.7,1342.0L2181.3,1249.0L2191.9,1388.5L2202.5,1511.6L2213.1,1437.7"/>
<path d="M315.8,1203.0L326.4,1149.9L337.0,1170.0L347.6,1089.4L358.2,1098.2L368.8,1322.2L379.4,1229.0L390.0,1018.6L400.6,1138.1L411.2,1185.9L421.8,1182.0L432.4,1200.7L443.0,1345.2L453.6,1195.8L464.2,1112.6L474.8,1232.5L485.4,978.4L496.0,1088.5L506.6,1150.6L517.2,1030.5L527.8,1140.1L538.4,1213.8L549.0,901.6L559.6,1187.5L570.2,1192.1L580.8,1046.3L591.4,1318.2L602.0,1002.3L612.6,1090.1L623.2,1135.6L633.8,1125.2L644.4,1211.4L655.0,1359.5L665.6,1265.6L676.2,1193.5L686.8,1170.9L697.4,1184.3L708.0,1124.9L718.6,1140.7L729.2,1252.9L739.8,1206.5L750.4,1103.0L761.0,1095.9L771.6,1091.3L782.2,1183.5L792.8,1254.5L803.4,1067.4L814.0,1070.3L824.6,1137.3L835.2,1176.3L845.8,1133.1L856.4,1207.5L867.0,1111.8L877.6,1088.5L888.2,1080.5L898.8,1060.2L909.4,1147.4L920.0,1088.1L930.6,1055.8L941.2,1222.3L951.8,1308.0L962.4,1135.9L973.0,980.5L983.6,1127.3L994.2,1181.2L1004.8,1148.1L1015.4,1162.3L1026.0,1157.7L1036.6,1174.4L1047.2,1163.7L1057.8,1094.7L1068.4,1207.4L1079.0,1115.1L1089.6,1168.2L1100.2,1104.9L1110.8,1135.1L1121.4,1004.6L1132.0,1209.9L1142.6,1186.3L1153.2,1167.4L1163.8,1161.7L1174.4,1101.3L1185.0,1102.8L1195.6,1232.6L1206.2,1154.0L1216.8,1150.0L1227.4,1287.8L1238.0,1227.4L1248.6,1091.9L1259.1,1027.9L1269.7,1177.2L1280.3,1183.4L1290.9,1115.0L1301.5,1089.4L1312.1,1143.2L1322.7,1141.4L1333.3,1147.5L1343.9,1172.0L1354.5,1221.4L1365.1,1246.5L1375.7,1220.5L1386.3,1172.2L1396.9,1135.2L1407.5,1252.5L1418.1,1252.7L1428.7,1197.3L1439.3,1155.7L1449.9,1212.4L1460.5,1247.1L1471.1,1174.4L1481.7,1068.0L1492.3,1039.7L1502.9,1105.1L1513.5,1235.2L1524.1,1050.6L1534.7,1111.4L1545.3,1173.6L1555.9,1143.6L1566.5,1059.4L1577.1,1183.9L1587.7,1222.7L1598.3,1232.0L1608.9,1192.6L1619.5,1110.1L1630.1,1084.4L1640.7,1209.2L1651.3,1191.4L1661.9,1184.6L1672.5,1245.2L1683.1,1005.8L1693.7,1082.6L1704.3,1289.5L1714.9,1169.1L1725.5,1281.7L1736.1,1232.9L1746.7,1162.0L1757.3,1317.6L1767.9,1171.7L1778.5,1193.9L1789.1,1239.2L1799.7,1179.3L1810.3,1249.3L1820.9,1191.4L1831.5,1261.3L1842.1,1201.6L1852.7,1241.4L1863.3,1181.9L1873.9,1313.1L1884.5,1335.0L1895.1,1367.6L1905.7,1334.6L1916.3,1141.8L1926.9,1260.1L1937.5,1191.6L1948.1,1221.6L1958.7,1271.8L1969.3,1239.0L1979.9,1315.0L1990.5,1349.3L2001.1,1262.2L2011.7,1363.3L2022.3,1173.6L2032.9,1331.0L2043.5,1303.4L2054.1,1272.2L2064.7,1455.2L2075.3,1355.5L2085.9,1468.0L2096.5,1302.3L2107.1,1138.2L2117.7,1343.1L2128.3,1200.6L2138.9,1408.2L2149.5,1365.6L2160.1,1294.3L2170.7,1351.9L2181.3,1326.1L2191.9,1398.2L2202.5,1365.9L2213.1,1331.3"/>
<path d="M315.8,1252.0L326.4,1214.4L337.0,1003.2L347.6,1155.9L358.2,1052.7L368.8,1265.7L379.4,1195.1L390.0,1124.9L400.6,1153.7L411.2,1053.5L421.8,979.9L432.4,1122.5L443.0,1099.8L453.6,1234.9L464.2,1056.5L474.8,1130.4L485.4,1224.5L496.0,1230.6L506.6,1098.0L517.2,1158.7L527.8,1112.9L538.4,1131.6L549.0,1254.5L559.6,1141.9L570.2,1264.9L580.8,1034.4L591.4,1094.8L602.0,1137.6L612.6,1172.5L623.2,1231.1L633.8,1053.0L644.4,1365.1L655.0,1180.3L665.6,1188.2L676.2,1038.0L686.8,1057.5L697.4,1122.5L708.0,1114.1L718.6,1206.6L729.2,1174.1L739.8,1212.9L750.4,1135.6L761.0,1139.5L771.6,1067.4L782.2,1067.3L792.8,1027.0L803.4,1104.6L814.0,1196.2L824.6,1056.4L835.2,1145.5L845.8,1263.2L856.4,1264.1L867.0,1045.7L877.6,1087.1L888.2,1287.0L898.8,1098.8L909.4,1090.4L920.0,1301.5L930.6,1178.5L941.2,1116.2L951.8,1170.6L962.4,1373.4L973.0,1154.0L983.6,1187.6L994.2,1122.7L1004.8,1154.2L1015.4,1069.0L1026.0,1094.6L1036.6,1171.8L1047.2,1144.8L1057.8,1255.3L1068.4,1132.5L1079.0,1269.2L1089.6,1238.2L1100.2,1058.4L1110.8,1201.8L1121.4,1156.9L1132.0,1272.0L1142.6,1233.7L1153.2,1177.2L1163.8,1235.6L1174.4,1171.0L1185.0,1240.6L1195.6,1183.1L1206.2,1129.2L1216.8,1193.8L1227.4,1155.5L1238.0,1091.4L1248.6,1177.7L1259.1,1205.1L1269.7,1169.4L1280.3,1213.8L1290.9,1085.1L1301.5,1280.6L1312.1,1230.2L1322.7,1253.3L1333.3,1217.9L1343.9,1234.4L1354.5,1092.2L1365.1,1165.7L1375.7,1195.3L1386.3,1078.6L1396.9,1118.7L1407.5,1265.7L1418.1,1169.1L1428.7,1053.2L1439.3,1302.7L1449.9,1144.1L1460.5,1212.1L1471.1,1266.7L1481.7,1082.4L1492.3,1226.7L1502.9,1113.1L1513.5,1242.5L1524.1,1140.4L1534.7,1045.3L1545.3,1236.4L1555.9,1120.5L1566.5,1147.9L1577.1,1095.8L1587.7,1186.7L1598.3,1057.2L1608.9,1270.8L1619.5,1205.9L1630.1,1038.2L1640.7,1125.3L1651.3,1028.8L1661.9,1220.5L1672.5,1196.6L1683.1,1218.4L1693.7,1174.2L1704.3,1278.4L1714.9,1294.3L1725.5,1175.9L1736.1,1115.2L1746.7,1126.3L1757.3,1219.4L1767.9,1142.9L1778.5,1180.7L1789.1,1110.2L1799.7,1228.8L1810.3,1351.8L1820.9,979.5L1831.5,1294.0L1842.1,1273.5L1852.7,1230.1L1863.3,1201.4L1873.9,1418.0L1884.5,1298.3L1895.1,1348.5L1905.7,1267.1L1916.3,1182.4L1926.9,1261.3L1937.5,1389.2L1948.1,1214.9L1958.7,1386.4L1969.3,1188.9L1979.9,1285.8L1990.5,1417.6L2001.1,1357.9L2011.7,1267.7L2022.3,1385.9L2032.9,1341.6L2043.5,1283.7L2054.1,1238.7L2064.7,1418.2L2075.3,1200.1L2085.9,1227.8L2096.5,1308.9L2107.1,1168.8L2117.7,1310.4L2128.3,1219.2L2138.9,1196.5L2149.5,1451.0L2160.1,1443.7L2170.7,1400.5L2181.3,1277.5L2191.9,1313.8L2202.5,1341.3L2213.1,1307.7"/>
<path d="M315.8,1135.8L326.4,1104.9L337.0,1129.1L347.6,1041.5L358.2,1153.1L368.8,1011.7L379.4,1080.4L390.0,1244.2L400.6,1251.8L411.2,1182.4L421.8,1240.3L432.4,1216.9L443.0,1152.2L453.6,1247.8L464.2,1187.9L474.8,1212.1L485.4,1089.4L496.0,1040.4L506.6,1175.8L517.2,1250.3L527.8,1285.7L538.4,1224.5L549.0,1104.0L559.6,1197.4L570.2,1130.4L580.8,1203.6L591.4,1071.7L602.0,1096.1L612.6,1285.6L623.2,1103.7L633.8,1217.2L644.4,1134.2L655.0,1300.9L665.6,1126.0L676.2,1095.6L686.8,1109.8L697.4,1124.5L708.0,1161.0L718.6,1114.3L729.2,1163.7L739.8,1206.0L750.4,1170.6L761.0,1133.9L771.6,1126.5L782.2,1043.2L792.8,1185.0L803.4,1289.1L814.0,1107.3L824.6,1221.0L835.2,1152.2L845.8,996.8L856.4,1208.8L867.0,991.1L877.6,1060.8L888.2,1267.1L898.8,1160.9L909.4,1154.3L920.0,1110.7L930.6,1157.3L941.2,1255.1L951.8,1169.4L962.4,1194.4L973.0,1157.7L983.6,1195.6L994.2,1133.9L1004.8,1179.7L1015.4,1176.7L1026.0,1104.6L1036.6,1112.6L1047.2,1259.9L1057.8,1246.0L1068.4,1187.4L1079.0,1096.5L1089.6,1171.8L1100.2,1311.9L1110.8,1141.0L1121.4,1087.6L1132.0,1313.3L1142.6,1237.6L1153.2,1143.0L1163.8,1331.4L1174.4,1117.8L1185.0,1132.8L1195.6,1186.1L1206.2,1138.0L1216.8,1075.9L1227.4,1294.9L1238.0,1009.1L1248.6,1175.7L1259.1,1261.5L1269.7,1208.4L1280.3,1213.5L1290.9,1198.2L1301.5,1165.8L1312.1,1246.0L1322.7,1147.7L1333.3,1194.6L1343.9,1039.0L1354.5,1199.1L1365.1,1373.9L1375.7,1258.1L1386.3,1153.6L1396.9,1053.1L1407.5,1126.8L1418.1,1161.1L1428.7,1269.7L1439.3,1115.5L1449.9,1130.6L1460.5,1246.2L1471.1,1112.9L1481.7,1211.7L1492.3,1158.0L1502.9,1117.8L1513.5,1176.9L1524.1,1205.4L1534.7,1222.7L1545.3,1042.1L1555.9,1126.2L1566.5,1309.3L1577.1,1146.9L1587.7,1300.0L1598.3,1161.9L1608.9,1087.2L1619.5,1210.8L1630.1,1178.6L1640.7,1392.8L1651.3,1242.8L1661.9,1208.1L1672.5,1193.6L1683.1,1171.0L1693.7,1208.4L1704.3,1097.4L1714.9,1160.7L1725.5,1220.1L1736.1,1220.1L1746.7,1172.5L1757.3,1032.7L1767.9,1317.2L1778.5,1111.2L1789.1,1269.4L1799.7,1220.6L1810.3,1271.6L1820.9,1202.6L1831.5,1260.9L1842.1,1329.8L1852.7,1101.9L1863.3,1335.9L1873.9,1171.2L1884.5,1251.2L1895.1,1150.0L1905.7,1349.7L1916.3,1404.5L1926.9,1407.1L1937.5,1334.2L1948.1,1277.4L1958.7,1060.6L1969.3,1279.4L1979.9,1150.1L1990.5,1119.9L2001.1,1358.9L2011.7,1398.3L2022.3,1412.8L2032.9,1281.4L2043.5,1320.9L2054.1,1257.9L2064.7,1236.2L2075.3,1258.0L2085.9,1328.6L2096.5,1271.7L2107.1,1202.4L2117.7,1437.6L2128.3,1254.8L2138.9,1456.7L2149.5,1326.6L2160.1,1356.4L2170.7,1431.0L2181.3,1378.9L2191.9,1266.8L2202.5,1465.2L2213.1,1438.7"/>
<path d="M315.8,1119.3L326.4,1195.8L337.0,1196.7L347.6,1169.0L358.2,1088.7L368.8,1150.0L379.4,1118.5L390.0,1226.9L400.6,1237.1L411.2,1114.7L421.8,1111.8L432.4,1147.3L443.0,1254.5L453.6,1176.4L464.2,1261.2L474.8,1112.8L485.4,1180.2L496.0,1147.3L506.6,1142.5L517.2,1169.4L527.8,1176.9L538.4,1130.8L549.0,1203.2L559.6,1083.2L570.2,1329.3L580.8,1160.6L591.4,1101.7L602.0,1273.7L612.6,1148.5L623.2,1221.9L633.8,1047.6L644.4,1180.9L655.0,1187.2L665.6,1136.4L676.2,1126.4L686.8,1128.4L697.4,1180.0L708.0,1114.1L718.6,1012.4L729.2,1146.9L739.8,1144.1L750.4,1233.9L761.0,1171.8L771.6,1185.6L782.2,1118.9L792.8,1174.8L803.4,1090.6L814.0,1265.7L824.6,1396.7L835.2,1122.7L845.8,1204.4L856.4,1253.6L867.0,1085.2L877.6,1097.6L888.2,1140.3L898.8,1150.0L909.4,1120.0L920.0,1197.3L930.6,1178.3L941.2,1106.3L951.8,1152.4L962.4,1346.2L973.0,1161.8L983.6,1147.3L994.2,1014.4L1004.8,1034.0L1015.4,1152.9L1026.0,1099.0L1036.6,1155.5L1047.2,955.5L1057.8,1092.3L1068.4,1132.1L1079.0,1195.1L1089.6,1144.3L1100.2,1114.8L1110.8,1206.0L1121.4,1100.3L1132.0,1142.4L1142.6,1105.8L1153.2,1129.7L1163.8,1191.0L1174.4,1183.2L1185.0,1197.3L1195.6,1142.1L1206.2,1113.8L1216.8,1255.4L1227.4,1184.4L1238.0,1314.7L1248.6,1344.8L1259.1,1175.9L1269.7,1271.1L1280.3,1258.3L1290.9,1242.0L1301.5,1182.6L1312.1,1215.4L1322.7,1106.4L1333.3,1210.0L1343.9,1162.6L1354.5,1110.4L1365.1,1289.1L1375.7,1279.2L1386.3,1178.2L1396.9,1135.3L1407.5,1205.9L1418.1,1181.4L1428.7,1275.1L1439.3,1228.6L1449.9,1218.0L1460.5,1291.2L1471.1,1169.8L1481.7,1220.6L1492.3,1228.5L1502.9,1296.3L1513.5,1360.0L1524.1,1160.7L1534.7,1210.1L1545.3,1218.1L1555.9,1087.6L1566.5,1287.5L1577.1,1221.8L1587.7,1223.3L1598.3,1222.4L1608.9,1226.6L1619.5,1081.5L1630.1,1179.9L1640.7,1241.2L1651.3,1295.8L1661.9,1302.4L1672.5,1169.2L1683.1,1118.3L1693.7,1227.6L1704.3,1123.2L1714.9,1216.7L1725.5,1348.0L1736.1,1285.3L1746.7,1238.9L1757.3,1242.0L1767.9,1331.2L1778.5,1224.4L1789.1,1258.2L1799.7,1372.4L1810.3,1196.9L1820.9,1262.3L1831.5,1167.6L1842.1,1215.1L1852.7,1321.3L1863.3,1279.5L1873.9,1255.2L1884.5,1051.8L1895.1,1322.7L1905.7,1393.6L1916.3,1180.3L1926.9,1253.9L1937.5,1362.1L1948.1,1121.8L1958.7,1368.3L1969.3,1405.4L1979.9,1153.7L1990.5,1449.3L2001.1,1190.0L2011.7,1217.5L2022.3,1237.5L2032.9,1318.0L2043.5,1227.9L2054.1,1390.4L2064.7,1213.9L2075.3,1320.3L2085.9,1329.1L2096.5,1363.4L2107.1,1215.8L2117.7,1237.0L2128.3,1517.7L2138.9,1419.6L2149.5,1433.0L2160.1,1341.6L2170.7,1375.7L2181.3,1386.8L2191.9,1369.3L2202.5,1386.4L2213.1,1335.4"/>
<path d="M315.8,1195.5L326.4,1086.8L337.0,1185.8L347.6,1172.5L358.2,1176.7L368.8,1072.5L379.4,1104.1L390.0,1125.8L400.6,1322.1L411.2,1165.3L421.8,1170.3L432.4,1226.0L443.0,1106.6L453.6,1230.1L464.2,1194.1L474.8,1058.6L485.4,1076.5L496.0,1042.0L506.6,1062.1L517.2,1145.1L527.8,1143.6L538.4,1171.4L549.0,1125.0L559.6,1125.5L570.2,1056.8L580.8,1314.6L591.4,1202.9L602.0,1303.1L612.6,1338.4L623.2,1136.4L633.8,1161.1L644.4,1272.8L655.0,1216.9L665.6,1143.3L676.2,1153.6L686.8,1142.6L697.4,1262.7L708.0,1073.1L718.6,1028.1L729.2,1179.3L739.8,1271.8L750.4,988.2L761.0,1249.0L771.6,1099.3L782.2,1139.4L792.8,964.5L803.4,1099.2L814.0,1146.6L824.6,1286.9L835.2,1151.4L845.8,1122.8L856.4,1220.8L867.0,1057.9L877.6,1282.4L888.2,1225.3L898.8,1161.4L909.4,1248.1L920.0,1047.1L930.6,1102.5L941.2,1161.6L951.8,1126.4L962.4,1131.5L973.0,1219.6L983.6,1181.2L994.2,1106.9L1004.8,1260.8L1015.4,1202.4L1026.0,943.4L1036.6,1097.4L1047.2,1195.3L1057.8,1187.4L1068.4,1243.4L1079.0,1148.3L1089.6,1110.9L1100.2,1177.6L1110.8,1079.6L1121.4,1163.3L1132.0,1193.7L1142.6,1326.3L1153.2,1193.8L1163.8,1229.1L1174.4,1123.5L1185.0,1068.7L1195.6,997.7L1206.2,1020.1L1216.8,1200.1L1227.4,1212.0L1238.0,1133.7L1248.6,1088.5L1259.1,1243.1L1269.7,1213.3L1280.3,1174.7L1290.9,1266.4L1301.5,1050.6L1312.1,1147.2L1322.7,1045.9L1333.3,1213.1L1343.9,1124.4L1354.5,1184.2L1365.1,1279.7L1375.7,1137.7L1386.3,1272.4L1396.9,1182.4L1407.5,1342.8L1418.1,1192.6L1428.7,1182.3L1439.3,1193.5L1449.9,1147.3L1460.5,1099.1L1471.1,1293.3L1481.7,1144.5L1492.3,1203.3L1502.9,1284.6L1513.5,1172.8L1524.1,1095.5L1534.7,1271.8L1545.3,1085.3L1555.9,1240.6L1566.5,1100.1L1577.1,1150.1L1587.7,1238.3L1598.3,1262.3L1608.9,1044.3L1619.5,1232.7L1630.1,1047.8L1640.7,1196.9L1651.3,1170.8L1661.9,1137.5L1672.5,1240.6L1683.1,1169.3L1693.7,1310.9L1704.3,1205.6L1714.9,1297.7L1725.5,1113.9L1736.1,1146.3L1746.7,1164.9L1757.3,1140.9L1767.9,1191.0L1778.5,1192.2L1789.1,1181.0L1799.7,1166.6L1810.3,1370.2L1820.9,1300.2L1831.5,1216.2L1842.1,1239.5L1852.7,1213.9L1863.3,1283.7L1873.9,1212.9L1884.5,1323.8L1895.1,1146.1L1905.7,1312.5L1916.3,1355.0L1926.9,1127.8L1937.5,1230.0L1948.1,1245.7L1958.7,1243.0L1969.3,1280.9L1979.9,1410.0L1990.5,1289.9L2001.1,1250.8L2011.7,1194.5L2022.3,1297.8L2032.9,1204.7L2043.5,1254.5L2054.1,1333.7L2064.7,1316.5L2075.3,1189.1L2085.9,1227.1L2096.5,1393.0L2107.1,1377.7L2117.7,1292.1L2128.3,1424.2L2138.9,1432.6L2149.5,1241.8L2160.1,1459.8L2170.7,1336.0L2181.3,1314.9L2191.9,1321.1L2202.5,1452.3L2213.1,1219.2"/>
</g>
<path d="M305.2,1155.1H2213.1" stroke="#737578" stroke-opacity="0.8" stroke-width="3.9" stroke-dasharray="12.33 5.33" stroke-dashoffset="1.3"/>
<path d="M1216.8,1517.9V837.6" stroke="#f9a51a" stroke-opacity="0.52" stroke-width="6.2" stroke-dasharray="18.7 8.06"/>
<path d="M2160.1,1517.9V837.6" stroke="#7f2582" stroke-opacity="0.52" stroke-width="6.2" stroke-dasharray="18.7 8.06"/>
<path d="M315.8,1166.0L326.4,1135.9L337.0,1118.5L347.6,1136.2L358.2,1136.2L368.8,1128.1L379.4,1144.1L390.0,1143.7L400.6,1148.1L411.2,1154.2L421.8,1139.9L432.4,1166.0L443.0,1156.2L453.6,1159.7L464.2,1159.4L474.8,1155.9L485.4,1145.5L496.0,1161.6L506.6,1157.3L517.2,1159.0L527.8,1205.0L538.4,1184.6L549.0,1162.0L559.6,1153.3L570.2,1170.2L580.8,1170.2L591.4,1156.8L602.0,1176.4L612.6,1149.8L623.2,1163.7L633.8,1147.2L644.4,1162.0L655.0,1164.6L665.6,1164.9L676.2,1142.9L686.8,1135.4L697.4,1151.6L708.0,1142.9L718.6,1143.7L729.2,1166.3L739.8,1148.1L750.4,1140.2L761.0,1156.8L771.6,1121.4L782.2,1141.6L792.8,1130.1L803.4,1145.5L814.0,1160.3L824.6,1155.9L835.2,1135.9L845.8,1127.2L856.4,1160.8L867.0,1123.7L877.6,1128.9L888.2,1174.2L898.8,1169.0L909.4,1150.7L920.0,1148.1L930.6,1169.8L941.2,1151.6L951.8,1155.0L962.4,1175.9L973.0,1159.7L983.6,1142.9L994.2,1171.6L1004.8,1127.7L1015.4,1162.0L1026.0,1129.5L1036.6,1148.9L1047.2,1148.6L1057.8,1166.7L1068.4,1175.0L1079.0,1166.3L1089.6,1150.7L1100.2,1176.4L1110.8,1152.1L1121.4,1156.8L1132.0,1191.6L1142.6,1175.4L1153.2,1183.7L1163.8,1195.1L1174.4,1162.9L1185.0,1185.5L1195.6,1168.1L1206.2,1173.3L1216.8,1188.1L1227.4,1159.4L1238.0,1197.9L1248.6,1183.1L1259.1,1200.5L1269.7,1170.9L1280.3,1198.4L1290.9,1200.1L1301.5,1184.5L1312.1,1177.0L1322.7,1170.6L1333.3,1210.1L1343.9,1179.6L1354.5,1162.2L1365.1,1196.1L1375.7,1187.4L1386.3,1181.0L1396.9,1161.3L1407.5,1201.4L1418.1,1208.3L1428.7,1202.6L1439.3,1207.4L1449.9,1186.7L1460.5,1166.0L1471.1,1189.2L1481.7,1181.0L1492.3,1179.9L1502.9,1188.0L1513.5,1195.3L1524.1,1204.8L1534.7,1189.2L1545.3,1183.9L1555.9,1170.4L1566.5,1191.8L1577.1,1175.6L1587.7,1198.7L1598.3,1192.6L1608.9,1186.6L1619.5,1196.5L1630.1,1171.4L1640.7,1191.8L1651.3,1173.5L1661.9,1208.3L1672.5,1230.1L1683.1,1176.1L1693.7,1212.1L1704.3,1211.8L1714.9,1214.4L1725.5,1205.7L1736.1,1209.2L1746.7,1191.2L1757.3,1187.4L1767.9,1213.2L1778.5,1197.0L1789.1,1215.3L1799.7,1249.2L1810.3,1243.1L1820.9,1180.5L1831.5,1235.3L1842.1,1239.6L1852.7,1235.2L1863.3,1246.5L1873.9,1234.4L1884.5,1266.0L1895.1,1261.9L1905.7,1250.9L1916.3,1233.5L1926.9,1264.8L1937.5,1277.5L1948.1,1274.0L1958.7,1260.8L1969.3,1261.0L1979.9,1284.8L1990.5,1279.3L2001.1,1277.9L2011.7,1275.8L2022.3,1287.4L2032.9,1308.8L2043.5,1309.5L2054.1,1309.5L2064.7,1310.5L2075.3,1318.7L2085.9,1332.6L2096.5,1320.5L2107.1,1290.4L2117.7,1321.8L2128.3,1321.3L2138.9,1326.6L2149.5,1337.4L2160.1,1331.4L2170.7,1330.0L2181.3,1335.7L2191.9,1367.5L2202.5,1345.7L2213.1,1344.8" stroke="#231f20" stroke-width="4.0" stroke-linecap="square"/>
<path d="M1216.8,1162.8L1222.4,1180.3L1240.8,1180.3L1225.9,1191.1L1231.6,1208.6L1216.8,1197.8L1201.9,1208.6L1207.6,1191.1L1192.7,1180.3L1211.1,1180.3Z" fill="#f9a51a" stroke="#f9a51a" stroke-width="4.4" stroke-linejoin="bevel"/>
<path d="M2160.1,1306.1L2165.8,1323.6L2184.2,1323.6L2169.3,1334.4L2175.0,1351.9L2160.1,1341.1L2145.2,1351.9L2150.9,1334.4L2136.0,1323.6L2154.4,1323.6Z" fill="#7f2582" stroke="#7f2582" stroke-width="4.4" stroke-linejoin="bevel"/>
</g>
<rect x="305.2" y="837.6" width="1907.9" height="680.3" fill="none" stroke="#fff" stroke-width="5"/>
<path d="M288.2,973.7H303.6M288.2,1155.1H303.6M288.2,1336.5H303.6M288.2,1517.9H303.6M305.2,1519.7V1535.1M517.2,1519.7V1535.1M729.2,1519.7V1535.1M941.2,1519.7V1535.1M1153.2,1519.7V1535.1M1365.1,1519.7V1535.1M1577.1,1519.7V1535.1M1789.1,1519.7V1535.1M2001.1,1519.7V1535.1M2213.1,1519.7V1535.1" stroke="#6d6e71" stroke-width="3.2" fill="none"/>
<text transform="translate(284.6,994.3) scale(0.972,1)" font-family="'DejaVu Sans', 'Liberation Sans', sans-serif" font-size="55.56" fill="#717275" text-anchor="end" stroke="#717275" stroke-width="0.35" stroke-linejoin="round">0.1</text>
<text transform="translate(284.6,1175.7) scale(0.972,1)" font-family="'DejaVu Sans', 'Liberation Sans', sans-serif" font-size="55.56" fill="#717275" text-anchor="end" stroke="#717275" stroke-width="0.35" stroke-linejoin="round">0.0</text>
<text transform="translate(284.6,1357.1) scale(0.972,1)" font-family="'DejaVu Sans', 'Liberation Sans', sans-serif" font-size="55.56" fill="#717275" text-anchor="end" stroke="#717275" stroke-width="0.35" stroke-linejoin="round">−0.1</text>
<text transform="translate(284.6,1538.5) scale(0.972,1)" font-family="'DejaVu Sans', 'Liberation Sans', sans-serif" font-size="55.56" fill="#717275" text-anchor="end" stroke="#717275" stroke-width="0.35" stroke-linejoin="round">−0.2</text>
<text transform="translate(305.2,1541.3)" font-family="'DejaVu Sans', 'Liberation Sans', sans-serif" font-size="4.0" fill="#6d6e71" text-anchor="middle">1920</text>
<text transform="translate(517.2,1541.3)" font-family="'DejaVu Sans', 'Liberation Sans', sans-serif" font-size="4.0" fill="#6d6e71" text-anchor="middle">1940</text>
<text transform="translate(729.2,1541.3)" font-family="'DejaVu Sans', 'Liberation Sans', sans-serif" font-size="4.0" fill="#6d6e71" text-anchor="middle">1960</text>
<text transform="translate(941.2,1541.3)" font-family="'DejaVu Sans', 'Liberation Sans', sans-serif" font-size="4.0" fill="#6d6e71" text-anchor="middle">1980</text>
<text transform="translate(1153.2,1541.3)" font-family="'DejaVu Sans', 'Liberation Sans', sans-serif" font-size="4.0" fill="#6d6e71" text-anchor="middle">2000</text>
<text transform="translate(1365.1,1541.3)" font-family="'DejaVu Sans', 'Liberation Sans', sans-serif" font-size="4.0" fill="#6d6e71" text-anchor="middle">2020</text>
<text transform="translate(1577.1,1541.3)" font-family="'DejaVu Sans', 'Liberation Sans', sans-serif" font-size="4.0" fill="#6d6e71" text-anchor="middle">2040</text>
<text transform="translate(1789.1,1541.3)" font-family="'DejaVu Sans', 'Liberation Sans', sans-serif" font-size="4.0" fill="#6d6e71" text-anchor="middle">2060</text>
<text transform="translate(2001.1,1541.3)" font-family="'DejaVu Sans', 'Liberation Sans', sans-serif" font-size="4.0" fill="#6d6e71" text-anchor="middle">2080</text>
<text transform="translate(2213.1,1541.3)" font-family="'DejaVu Sans', 'Liberation Sans', sans-serif" font-size="4.0" fill="#6d6e71" text-anchor="middle">2100</text>
<text transform="translate(124.8,1279.8) rotate(-90) scale(0.995,1)" font-family="'DejaVu Sans', 'Liberation Sans', sans-serif" font-size="61.1" fill="#717275" text-anchor="start" stroke="#717275" stroke-width="0.35" stroke-linejoin="round">mg m<tspan font-size="42.77" dy="-23.22" dx="-0.18">−</tspan><tspan font-size="42.77" dx="-6.11">3</tspan></text>
<text transform="translate(357.6,897.8) scale(0.978,1)" font-family="'DejaVu Sans', 'Liberation Sans', sans-serif" font-size="34.4" fill="#231f20" text-anchor="start" stroke="#231f20" stroke-width="0.8" stroke-linejoin="round">mean value: 0.189 mg m<tspan font-size="24.08" dy="-13.07" dx="-0.10">−</tspan><tspan font-size="24.08" dx="-3.44">3</tspan></text>
<text transform="translate(2089.5,919.8)" font-family="'Liberation Sans', Arial, Helvetica, sans-serif" font-size="83" fill="#231f20" text-anchor="middle" stroke="#231f20" stroke-width="0.5" stroke-linejoin="round">b</text>
</g>
<g id="panel-c">
<rect x="305.2" y="1653.4" width="1907.9" height="681.2" fill="#e6e6e6"/>
<path d="M517.2,1653.4V2334.6M729.2,1653.4V2334.6M941.2,1653.4V2334.6M1153.2,1653.4V2334.6M1365.1,1653.4V2334.6M1577.1,1653.4V2334.6M1789.1,1653.4V2334.6M2001.1,1653.4V2334.6M305.2,1779.5H2213.1M305.2,1905.7H2213.1M305.2,2031.8H2213.1M305.2,2158.0H2213.1M305.2,2284.1H2213.1" stroke="#fff" stroke-width="3.8" fill="none"/>
<g clip-path="url(#clipc)" fill="none" stroke-linejoin="round">
<g stroke="#8f9194" stroke-opacity="0.28" stroke-width="3.1">
<path d="M315.8,2124.4L326.4,2129.9L337.0,2199.4L347.6,2037.2L358.2,2177.8L368.8,2079.4L379.4,2235.1L390.0,2193.9L400.6,2220.5L411.2,2176.7L421.8,2201.3L432.4,2154.6L443.0,2111.7L453.6,2138.9L464.2,2147.1L474.8,2213.3L485.4,2244.1L496.0,2125.9L506.6,2182.7L517.2,2082.6L527.8,2204.2L538.4,2073.7L549.0,2148.4L559.6,2194.0L570.2,2216.5L580.8,2153.2L591.4,2130.6L602.0,2117.5L612.6,2086.9L623.2,2158.0L633.8,2193.7L644.4,2176.8L655.0,2186.7L665.6,2122.9L676.2,2159.5L686.8,2148.1L697.4,2089.8L708.0,2062.6L718.6,2124.1L729.2,2135.9L739.8,2141.4L750.4,2170.6L761.0,2089.3L771.6,2005.2L782.2,2156.8L792.8,2161.4L803.4,2132.6L814.0,2176.9L824.6,2201.4L835.2,2210.0L845.8,2165.7L856.4,2137.9L867.0,2171.3L877.6,2083.7L888.2,2134.7L898.8,2088.1L909.4,2163.4L920.0,2077.5L930.6,2052.0L941.2,2065.2L951.8,2093.9L962.4,2113.4L973.0,2077.5L983.6,2121.5L994.2,2113.9L1004.8,2094.6L1015.4,2066.7L1026.0,2098.8L1036.6,2027.2L1047.2,2083.8L1057.8,2111.7L1068.4,2113.9L1079.0,2034.4L1089.6,2035.4L1100.2,2163.2L1110.8,2094.6L1121.4,2012.9L1132.0,2053.2L1142.6,2040.4L1153.2,2099.2L1163.8,2106.0L1174.4,2103.2L1185.0,2116.4L1195.6,2077.1L1206.2,2022.5L1216.8,2015.4L1227.4,2072.8L1238.0,2150.5L1248.6,1856.1L1259.1,2055.4L1269.7,1865.6L1280.3,1958.1L1290.9,2027.1L1301.5,1955.9L1312.1,2016.7L1322.7,2024.0L1333.3,1990.6L1343.9,1999.9L1354.5,2011.3L1365.1,1986.7L1375.7,2027.4L1386.3,1947.6L1396.9,2013.3L1407.5,1986.2L1418.1,1947.6L1428.7,1879.2L1439.3,1963.7L1449.9,1982.0L1460.5,1928.9L1471.1,1915.9L1481.7,1891.6L1492.3,1909.1L1502.9,1953.9L1513.5,1964.7L1524.1,1917.5L1534.7,1915.5L1545.3,1945.6L1555.9,1957.5L1566.5,1912.0L1577.1,1895.5L1587.7,1880.7L1598.3,1880.6L1608.9,1877.9L1619.5,1935.5L1630.1,1900.6L1640.7,1825.4L1651.3,1871.5L1661.9,1881.3L1672.5,1909.2L1683.1,1783.4L1693.7,1782.2L1704.3,1795.7L1714.9,1856.3L1725.5,1743.5L1736.1,1732.5L1746.7,1719.9L1757.3,1764.1L1767.9,1806.6L1778.5,1718.1L1789.1,1717.1L1799.7,1767.2L1810.3,1721.3L1820.9,1754.3L1831.5,1614.5L1842.1,1738.7L1852.7,1731.6L1863.3,1729.5L1873.9,1706.4L1884.5,1655.9L1895.1,1653.3L1905.7,1700.9L1916.3,1653.3L1926.9,1632.2L1937.5,1655.0L1948.1,1675.9L1958.7,1646.0L1969.3,1606.7L1979.9,1574.8L1990.5,1620.0L2001.1,1587.8L2011.7,1626.7L2022.3,1594.0L2032.9,1557.6L2043.5,1567.2L2054.1,1583.2L2064.7,1525.1L2075.3,1560.1L2085.9,1501.3L2096.5,1574.9L2107.1,1465.9L2117.7,1479.8L2128.3,1496.5L2138.9,1430.8L2149.5,1478.6L2160.1,1453.4L2170.7,1425.3L2181.3,1367.2L2191.9,1401.8L2202.5,1399.0L2213.1,1397.3"/>
<path d="M315.8,2120.0L326.4,2157.0L337.0,2222.0L347.6,2227.6L358.2,2169.2L368.8,2178.1L379.4,2070.7L390.0,2229.5L400.6,2150.5L411.2,2178.5L421.8,2215.2L432.4,2182.7L443.0,2220.0L453.6,2181.6L464.2,2162.3L474.8,2194.5L485.4,2139.1L496.0,2159.7L506.6,2251.4L517.2,2193.7L527.8,2091.4L538.4,2202.5L549.0,2069.8L559.6,2086.6L570.2,2107.0L580.8,2044.9L591.4,2231.8L602.0,2144.1L612.6,2161.7L623.2,2046.7L633.8,2147.3L644.4,2121.2L655.0,2213.0L665.6,2157.8L676.2,2058.9L686.8,2231.5L697.4,2186.0L708.0,2173.4L718.6,2109.1L729.2,2082.0L739.8,2161.7L750.4,2147.3L761.0,2010.6L771.6,2151.8L782.2,2186.8L792.8,2124.4L803.4,2094.4L814.0,2122.3L824.6,2143.1L835.2,2161.7L845.8,2159.0L856.4,2094.0L867.0,2079.8L877.6,2110.0L888.2,2147.6L898.8,2141.2L909.4,2121.0L920.0,2030.0L930.6,2222.0L941.2,2102.5L951.8,2105.9L962.4,2103.8L973.0,2101.1L983.6,2094.1L994.2,2089.7L1004.8,2066.5L1015.4,2056.5L1026.0,2085.0L1036.6,2122.7L1047.2,2009.6L1057.8,2052.2L1068.4,2098.4L1079.0,2043.6L1089.6,2095.9L1100.2,2150.8L1110.8,2069.9L1121.4,1929.2L1132.0,2022.8L1142.6,2124.1L1153.2,2087.3L1163.8,2099.4L1174.4,2047.9L1185.0,1919.1L1195.6,2064.2L1206.2,2066.7L1216.8,1946.5L1227.4,1959.6L1238.0,2041.0L1248.6,2068.3L1259.1,2051.5L1269.7,2030.2L1280.3,1942.5L1290.9,2018.0L1301.5,2034.0L1312.1,2033.3L1322.7,2078.4L1333.3,1975.0L1343.9,1996.2L1354.5,1992.2L1365.1,1989.1L1375.7,2027.9L1386.3,1987.1L1396.9,2014.3L1407.5,1914.9L1418.1,1948.0L1428.7,1911.3L1439.3,1951.7L1449.9,1965.5L1460.5,1953.3L1471.1,1926.4L1481.7,1943.4L1492.3,2027.2L1502.9,1886.8L1513.5,1871.2L1524.1,1891.8L1534.7,1926.6L1545.3,1914.9L1555.9,1853.8L1566.5,1856.2L1577.1,1873.5L1587.7,1859.8L1598.3,1895.3L1608.9,1871.2L1619.5,1877.3L1630.1,1885.0L1640.7,1868.1L1651.3,1879.4L1661.9,1772.0L1672.5,1818.5L1683.1,1900.5L1693.7,1829.5L1704.3,1834.7L1714.9,1804.2L1725.5,1792.5L1736.1,1770.6L1746.7,1787.6L1757.3,1834.2L1767.9,1717.9L1778.5,1738.7L1789.1,1756.8L1799.7,1759.1L1810.3,1678.0L1820.9,1734.8L1831.5,1713.8L1842.1,1682.9L1852.7,1750.8L1863.3,1680.6L1873.9,1652.3L1884.5,1712.6L1895.1,1685.4L1905.7,1675.6L1916.3,1662.4L1926.9,1659.5L1937.5,1652.3L1948.1,1671.9L1958.7,1579.6L1969.3,1590.7L1979.9,1601.1L1990.5,1593.0L2001.1,1583.6L2011.7,1557.5L2022.3,1560.3L2032.9,1517.4L2043.5,1574.4L2054.1,1553.1L2064.7,1514.7L2075.3,1522.3L2085.9,1493.5L2096.5,1530.7L2107.1,1499.4L2117.7,1542.2L2128.3,1467.2L2138.9,1463.8L2149.5,1494.4L2160.1,1428.2L2170.7,1452.1L2181.3,1414.2L2191.9,1405.0L2202.5,1423.2L2213.1,1399.0"/>
<path d="M315.8,2242.0L326.4,2032.1L337.0,2197.0L347.6,2208.6L358.2,2172.6L368.8,2220.6L379.4,2220.4L390.0,2047.5L400.6,2160.4L411.2,2213.2L421.8,2228.4L432.4,2165.2L443.0,2238.7L453.6,2163.1L464.2,2236.1L474.8,2159.8L485.4,2210.9L496.0,2109.1L506.6,2205.9L517.2,2132.4L527.8,2131.1L538.4,2126.1L549.0,2128.4L559.6,2205.4L570.2,2193.4L580.8,2101.5L591.4,2142.1L602.0,2154.5L612.6,2112.6L623.2,2139.9L633.8,2187.1L644.4,2082.0L655.0,2140.9L665.6,2141.1L676.2,2087.9L686.8,2198.7L697.4,2223.0L708.0,2145.9L718.6,2082.5L729.2,2079.1L739.8,2168.7L750.4,2092.2L761.0,2051.5L771.6,2182.2L782.2,2156.7L792.8,2113.3L803.4,2129.3L814.0,2198.3L824.6,2117.8L835.2,2117.2L845.8,2099.9L856.4,2049.0L867.0,2049.3L877.6,2144.9L888.2,2158.2L898.8,2204.2L909.4,2174.5L920.0,2048.5L930.6,2131.5L941.2,1996.7L951.8,2084.4L962.4,2054.4L973.0,2136.0L983.6,2132.5L994.2,2093.1L1004.8,2083.4L1015.4,2089.8L1026.0,2043.8L1036.6,2060.4L1047.2,2162.4L1057.8,2121.1L1068.4,2100.8L1079.0,2072.3L1089.6,2100.7L1100.2,2067.3L1110.8,2025.1L1121.4,2023.9L1132.0,2036.1L1142.6,2028.9L1153.2,2042.2L1163.8,2155.5L1174.4,2087.6L1185.0,2066.6L1195.6,2062.9L1206.2,2059.9L1216.8,2051.1L1227.4,1975.6L1238.0,2062.5L1248.6,2049.5L1259.1,2037.9L1269.7,1922.2L1280.3,2077.2L1290.9,1978.7L1301.5,2024.5L1312.1,1831.3L1322.7,1980.0L1333.3,1994.2L1343.9,2018.3L1354.5,1951.7L1365.1,1985.5L1375.7,1929.1L1386.3,2027.1L1396.9,1995.8L1407.5,1976.1L1418.1,1954.0L1428.7,1948.5L1439.3,1948.8L1449.9,2010.5L1460.5,1949.3L1471.1,1945.0L1481.7,1985.5L1492.3,1937.0L1502.9,1961.4L1513.5,1957.7L1524.1,1927.0L1534.7,1938.2L1545.3,1957.2L1555.9,1888.0L1566.5,1906.2L1577.1,1959.1L1587.7,1912.5L1598.3,1937.1L1608.9,1902.6L1619.5,1814.3L1630.1,1860.9L1640.7,1874.5L1651.3,1770.5L1661.9,1886.6L1672.5,1868.3L1683.1,1796.0L1693.7,1877.7L1704.3,1817.0L1714.9,1741.3L1725.5,1854.5L1736.1,1796.2L1746.7,1807.7L1757.3,1783.5L1767.9,1768.5L1778.5,1781.7L1789.1,1762.6L1799.7,1804.6L1810.3,1706.1L1820.9,1704.9L1831.5,1758.6L1842.1,1628.9L1852.7,1719.6L1863.3,1654.5L1873.9,1588.1L1884.5,1732.8L1895.1,1667.6L1905.7,1652.7L1916.3,1666.6L1926.9,1670.3L1937.5,1554.3L1948.1,1617.9L1958.7,1580.2L1969.3,1665.9L1979.9,1562.5L1990.5,1556.3L2001.1,1578.4L2011.7,1612.0L2022.3,1567.8L2032.9,1576.4L2043.5,1555.7L2054.1,1481.4L2064.7,1508.7L2075.3,1481.4L2085.9,1454.1L2096.5,1490.6L2107.1,1464.6L2117.7,1458.0L2128.3,1429.0L2138.9,1383.3L2149.5,1432.4L2160.1,1412.4L2170.7,1419.4L2181.3,1361.6L2191.9,1445.6L2202.5,1359.7L2213.1,1374.9"/>
<path d="M315.8,2163.0L326.4,2229.6L337.0,2198.0L347.6,2234.9L358.2,2184.0L368.8,2130.6L379.4,2165.9L390.0,2237.9L400.6,2159.3L411.2,2281.5L421.8,2186.5L432.4,2048.4L443.0,2083.5L453.6,2226.0L464.2,2168.1L474.8,2264.8L485.4,2213.5L496.0,2182.0L506.6,2156.5L517.2,2126.6L527.8,2212.4L538.4,2116.1L549.0,2117.7L559.6,2171.5L570.2,2165.8L580.8,2220.1L591.4,2105.3L602.0,2128.0L612.6,2180.0L623.2,2208.0L633.8,2129.4L644.4,1938.7L655.0,2183.3L665.6,2033.5L676.2,2197.6L686.8,2160.9L697.4,2127.0L708.0,2215.8L718.6,2182.4L729.2,2169.4L739.8,1948.2L750.4,2081.3L761.0,2262.7L771.6,2200.2L782.2,2165.6L792.8,2128.1L803.4,2116.5L814.0,2156.2L824.6,2121.3L835.2,2171.1L845.8,2149.3L856.4,2051.2L867.0,2135.4L877.6,2149.1L888.2,2239.3L898.8,2129.0L909.4,2100.7L920.0,2079.3L930.6,2071.7L941.2,2161.2L951.8,2171.6L962.4,2115.3L973.0,2057.5L983.6,2052.2L994.2,2209.6L1004.8,2198.5L1015.4,2206.0L1026.0,2178.7L1036.6,2141.3L1047.2,2047.0L1057.8,2087.6L1068.4,2108.6L1079.0,2129.4L1089.6,2072.5L1100.2,2116.7L1110.8,2024.0L1121.4,1918.8L1132.0,2108.0L1142.6,2063.2L1153.2,1941.8L1163.8,1942.4L1174.4,2027.9L1185.0,2031.0L1195.6,2069.0L1206.2,2029.6L1216.8,2087.0L1227.4,2066.0L1238.0,2025.4L1248.6,1944.9L1259.1,1951.7L1269.7,2084.9L1280.3,2001.6L1290.9,1959.8L1301.5,2046.4L1312.1,2023.8L1322.7,2007.4L1333.3,2087.7L1343.9,1994.4L1354.5,1962.6L1365.1,1970.7L1375.7,1946.0L1386.3,1925.0L1396.9,2000.9L1407.5,2020.7L1418.1,1986.4L1428.7,2008.8L1439.3,1932.6L1449.9,1950.6L1460.5,1941.2L1471.1,1932.3L1481.7,1962.7L1492.3,1873.6L1502.9,1946.3L1513.5,1991.7L1524.1,1951.1L1534.7,1898.3L1545.3,1969.1L1555.9,1830.4L1566.5,1937.5L1577.1,1940.6L1587.7,1940.0L1598.3,1902.7L1608.9,1809.7L1619.5,1832.6L1630.1,1837.4L1640.7,1891.0L1651.3,1866.8L1661.9,1863.9L1672.5,1777.5L1683.1,1790.7L1693.7,1797.0L1704.3,1894.6L1714.9,1824.6L1725.5,1777.7L1736.1,1792.7L1746.7,1767.3L1757.3,1829.3L1767.9,1793.8L1778.5,1778.2L1789.1,1761.0L1799.7,1706.7L1810.3,1686.0L1820.9,1714.2L1831.5,1767.9L1842.1,1641.9L1852.7,1667.4L1863.3,1739.1L1873.9,1647.8L1884.5,1631.9L1895.1,1674.2L1905.7,1661.8L1916.3,1668.1L1926.9,1606.5L1937.5,1631.4L1948.1,1683.3L1958.7,1651.1L1969.3,1497.0L1979.9,1553.9L1990.5,1563.7L2001.1,1488.9L2011.7,1598.7L2022.3,1615.4L2032.9,1570.9L2043.5,1511.5L2054.1,1518.3L2064.7,1477.1L2075.3,1510.5L2085.9,1519.6L2096.5,1523.3L2107.1,1481.6L2117.7,1445.8L2128.3,1499.9L2138.9,1453.7L2149.5,1463.0L2160.1,1413.6L2170.7,1399.1L2181.3,1448.8L2191.9,1353.3L2202.5,1383.2L2213.1,1332.9"/>
<path d="M315.8,2229.5L326.4,2207.2L337.0,2156.3L347.6,2156.2L358.2,2128.4L368.8,2245.4L379.4,2244.0L390.0,2187.6L400.6,2056.9L411.2,2121.2L421.8,2170.8L432.4,2138.4L443.0,2190.3L453.6,2252.6L464.2,2218.9L474.8,2196.1L485.4,2129.1L496.0,2143.1L506.6,2153.0L517.2,2081.3L527.8,2167.6L538.4,2097.1L549.0,2146.8L559.6,2072.9L570.2,1980.3L580.8,2064.3L591.4,2140.6L602.0,2134.1L612.6,2145.5L623.2,2099.1L633.8,2129.2L644.4,2190.0L655.0,2102.3L665.6,2160.5L676.2,2209.3L686.8,2149.0L697.4,2113.7L708.0,2106.1L718.6,2162.5L729.2,2091.0L739.8,2121.2L750.4,2188.9L761.0,2188.9L771.6,2155.9L782.2,2138.6L792.8,2150.2L803.4,2231.9L814.0,2188.2L824.6,2182.3L835.2,2180.5L845.8,2010.7L856.4,2094.6L867.0,2114.9L877.6,2172.9L888.2,2160.6L898.8,2121.9L909.4,2060.9L920.0,2117.7L930.6,2131.3L941.2,2100.4L951.8,2106.1L962.4,2066.7L973.0,2181.1L983.6,2013.9L994.2,2118.4L1004.8,2198.4L1015.4,2121.2L1026.0,2091.7L1036.6,2124.7L1047.2,2179.1L1057.8,2134.6L1068.4,2191.9L1079.0,2188.2L1089.6,2073.5L1100.2,2097.4L1110.8,2116.1L1121.4,2065.5L1132.0,1983.6L1142.6,2096.3L1153.2,2078.5L1163.8,2129.2L1174.4,2092.5L1185.0,2049.8L1195.6,2043.8L1206.2,1945.3L1216.8,2136.4L1227.4,2018.0L1238.0,2083.4L1248.6,2089.4L1259.1,2073.3L1269.7,2052.5L1280.3,2030.2L1290.9,2123.2L1301.5,2011.0L1312.1,2045.1L1322.7,2044.5L1333.3,2006.1L1343.9,1978.1L1354.5,2068.9L1365.1,1943.1L1375.7,1922.7L1386.3,2045.7L1396.9,2004.5L1407.5,2008.0L1418.1,2042.9L1428.7,1961.5L1439.3,2002.6L1449.9,1994.5L1460.5,2092.2L1471.1,1991.3L1481.7,1981.5L1492.3,1886.6L1502.9,1960.7L1513.5,1925.0L1524.1,1906.3L1534.7,1892.7L1545.3,1966.3L1555.9,1967.5L1566.5,1896.0L1577.1,1805.1L1587.7,1913.4L1598.3,1937.6L1608.9,1860.8L1619.5,1881.5L1630.1,1900.9L1640.7,1812.9L1651.3,1901.2L1661.9,1907.7L1672.5,1826.8L1683.1,1810.1L1693.7,1835.6L1704.3,1855.1L1714.9,1821.5L1725.5,1774.5L1736.1,1769.4L1746.7,1851.6L1757.3,1771.2L1767.9,1816.5L1778.5,1763.1L1789.1,1761.9L1799.7,1754.8L1810.3,1735.6L1820.9,1758.3L1831.5,1767.0L1842.1,1709.5L1852.7,1661.9L1863.3,1745.1L1873.9,1699.9L1884.5,1662.8L1895.1,1689.6L1905.7,1646.9L1916.3,1577.6L1926.9,1606.3L1937.5,1643.7L1948.1,1638.7L1958.7,1651.8L1969.3,1669.5L1979.9,1622.4L1990.5,1632.3L2001.1,1614.4L2011.7,1616.1L2022.3,1532.5L2032.9,1574.3L2043.5,1621.2L2054.1,1554.1L2064.7,1501.4L2075.3,1488.6L2085.9,1492.7L2096.5,1410.3L2107.1,1460.9L2117.7,1511.7L2128.3,1525.1L2138.9,1432.1L2149.5,1434.0L2160.1,1403.8L2170.7,1446.7L2181.3,1375.1L2191.9,1398.7L2202.5,1354.0L2213.1,1383.9"/>
<path d="M315.8,2144.3L326.4,2148.0L337.0,2167.5L347.6,2278.6L358.2,2107.9L368.8,2194.8L379.4,2169.6L390.0,2165.4L400.6,2201.1L411.2,2070.3L421.8,2178.9L432.4,2117.7L443.0,2223.9L453.6,2150.0L464.2,2198.3L474.8,2175.5L485.4,2166.7L496.0,2130.7L506.6,2150.1L517.2,2161.4L527.8,1994.0L538.4,2205.6L549.0,2230.6L559.6,2097.7L570.2,2184.9L580.8,2117.6L591.4,2146.6L602.0,2097.3L612.6,2159.9L623.2,2221.1L633.8,2138.9L644.4,2169.2L655.0,2187.0L665.6,2230.3L676.2,2131.9L686.8,2124.8L697.4,2215.6L708.0,2220.2L718.6,2144.7L729.2,2069.0L739.8,2038.2L750.4,2179.0L761.0,2194.6L771.6,2185.5L782.2,2074.4L792.8,2129.2L803.4,2208.1L814.0,2115.5L824.6,2169.0L835.2,2165.2L845.8,2150.0L856.4,2176.5L867.0,2142.4L877.6,2186.3L888.2,2169.3L898.8,2166.3L909.4,2123.7L920.0,2073.4L930.6,2048.7L941.2,2095.6L951.8,2017.9L962.4,2086.8L973.0,2079.1L983.6,2161.0L994.2,2102.0L1004.8,2110.5L1015.4,2084.5L1026.0,2119.6L1036.6,2059.7L1047.2,2117.9L1057.8,2154.5L1068.4,2142.7L1079.0,2012.8L1089.6,2083.2L1100.2,2128.5L1110.8,2064.4L1121.4,2061.9L1132.0,2077.9L1142.6,2115.8L1153.2,2096.3L1163.8,2004.4L1174.4,2092.2L1185.0,2019.1L1195.6,2118.0L1206.2,2135.1L1216.8,2078.8L1227.4,2066.5L1238.0,2120.7L1248.6,2057.7L1259.1,2019.4L1269.7,1996.9L1280.3,1959.3L1290.9,2048.9L1301.5,2026.2L1312.1,2071.7L1322.7,2051.9L1333.3,1998.7L1343.9,1984.5L1354.5,1982.8L1365.1,2050.0L1375.7,2008.4L1386.3,1999.0L1396.9,2083.1L1407.5,2019.8L1418.1,1974.8L1428.7,1957.1L1439.3,1967.5L1449.9,1911.3L1460.5,1964.1L1471.1,2046.6L1481.7,1946.3L1492.3,2024.6L1502.9,1953.4L1513.5,1895.3L1524.1,1970.4L1534.7,1940.9L1545.3,1905.5L1555.9,1953.3L1566.5,1848.3L1577.1,1840.0L1587.7,1896.5L1598.3,1884.1L1608.9,1869.3L1619.5,1802.3L1630.1,1831.5L1640.7,1834.9L1651.3,1890.6L1661.9,1897.1L1672.5,1767.0L1683.1,1820.6L1693.7,1737.7L1704.3,1791.1L1714.9,1771.8L1725.5,1793.0L1736.1,1822.6L1746.7,1798.9L1757.3,1785.0L1767.9,1825.2L1778.5,1767.2L1789.1,1719.0L1799.7,1774.1L1810.3,1664.3L1820.9,1687.7L1831.5,1697.1L1842.1,1717.2L1852.7,1690.5L1863.3,1705.9L1873.9,1644.8L1884.5,1659.7L1895.1,1709.7L1905.7,1616.1L1916.3,1714.8L1926.9,1635.9L1937.5,1613.6L1948.1,1604.8L1958.7,1675.9L1969.3,1629.0L1979.9,1598.2L1990.5,1578.7L2001.1,1506.4L2011.7,1600.0L2022.3,1552.1L2032.9,1553.6L2043.5,1532.8L2054.1,1531.3L2064.7,1520.2L2075.3,1537.1L2085.9,1498.4L2096.5,1473.6L2107.1,1377.5L2117.7,1463.5L2128.3,1484.5L2138.9,1433.7L2149.5,1345.4L2160.1,1424.4L2170.7,1423.5L2181.3,1395.2L2191.9,1382.3L2202.5,1387.3L2213.1,1334.0"/>
<path d="M315.8,2097.3L326.4,2164.6L337.0,2167.8L347.6,2244.8L358.2,2247.6L368.8,2094.6L379.4,2090.2L390.0,2140.3L400.6,2164.0L411.2,2175.5L421.8,2196.3L432.4,2135.5L443.0,2173.8L453.6,2109.1L464.2,2218.9L474.8,2191.0L485.4,2239.6L496.0,2199.2L506.6,2151.2L517.2,2241.0L527.8,2156.6L538.4,2162.2L549.0,2087.6L559.6,2115.9L570.2,2133.4L580.8,2272.5L591.4,2138.7L602.0,2123.2L612.6,2123.9L623.2,2191.1L633.8,2129.0L644.4,2227.4L655.0,2081.9L665.6,2156.2L676.2,2126.3L686.8,2143.9L697.4,2162.8L708.0,2205.7L718.6,2115.7L729.2,2212.4L739.8,2103.4L750.4,2174.8L761.0,2202.7L771.6,2197.2L782.2,2086.5L792.8,2162.2L803.4,2146.9L814.0,2127.1L824.6,2094.8L835.2,2152.7L845.8,2124.5L856.4,2161.1L867.0,2133.9L877.6,2144.1L888.2,2111.5L898.8,2109.8L909.4,2094.0L920.0,2056.4L930.6,2024.8L941.2,2041.1L951.8,2133.4L962.4,2100.7L973.0,2175.8L983.6,2117.6L994.2,2049.5L1004.8,2189.2L1015.4,2125.5L1026.0,2124.5L1036.6,2103.7L1047.2,2093.0L1057.8,2152.0L1068.4,2175.6L1079.0,2043.7L1089.6,2073.7L1100.2,2186.1L1110.8,2074.9L1121.4,2069.0L1132.0,2081.4L1142.6,2061.3L1153.2,2097.9L1163.8,2066.7L1174.4,2119.4L1185.0,2035.3L1195.6,2061.4L1206.2,2081.9L1216.8,2010.0L1227.4,2053.2L1238.0,2039.1L1248.6,2048.6L1259.1,2042.1L1269.7,2001.5L1280.3,1965.8L1290.9,2065.8L1301.5,1999.9L1312.1,1992.5L1322.7,2052.7L1333.3,1968.4L1343.9,2048.5L1354.5,1967.1L1365.1,2024.8L1375.7,2040.1L1386.3,1998.5L1396.9,1959.8L1407.5,1991.2L1418.1,1944.1L1428.7,2017.4L1439.3,1903.9L1449.9,1894.8L1460.5,2000.3L1471.1,1922.2L1481.7,1994.3L1492.3,1931.2L1502.9,1921.6L1513.5,1929.7L1524.1,1893.4L1534.7,1971.7L1545.3,1906.2L1555.9,1854.1L1566.5,1815.6L1577.1,1864.0L1587.7,1872.1L1598.3,1890.9L1608.9,1927.7L1619.5,1853.5L1630.1,1838.9L1640.7,1789.0L1651.3,1814.0L1661.9,1854.2L1672.5,1835.7L1683.1,1856.7L1693.7,1838.0L1704.3,1818.3L1714.9,1838.7L1725.5,1805.6L1736.1,1842.6L1746.7,1743.3L1757.3,1821.7L1767.9,1751.3L1778.5,1818.0L1789.1,1781.6L1799.7,1787.3L1810.3,1738.2L1820.9,1767.0L1831.5,1717.6L1842.1,1778.7L1852.7,1633.2L1863.3,1698.0L1873.9,1696.9L1884.5,1658.6L1895.1,1736.1L1905.7,1698.0L1916.3,1671.2L1926.9,1758.4L1937.5,1648.7L1948.1,1628.6L1958.7,1625.0L1969.3,1592.3L1979.9,1610.8L1990.5,1618.5L2001.1,1575.0L2011.7,1565.7L2022.3,1489.9L2032.9,1535.1L2043.5,1501.2L2054.1,1483.9L2064.7,1481.0L2075.3,1527.3L2085.9,1502.8L2096.5,1525.8L2107.1,1528.3L2117.7,1475.1L2128.3,1437.3L2138.9,1477.7L2149.5,1425.1L2160.1,1437.1L2170.7,1437.4L2181.3,1432.0L2191.9,1398.5L2202.5,1379.0L2213.1,1285.4"/>
<path d="M315.8,2216.1L326.4,2209.3L337.0,2107.6L347.6,2307.2L358.2,2181.8L368.8,2182.2L379.4,2220.7L390.0,2156.8L400.6,2113.9L411.2,2178.4L421.8,2146.1L432.4,2180.7L443.0,2245.4L453.6,2073.9L464.2,2081.5L474.8,2175.9L485.4,2201.7L496.0,2169.8L506.6,2232.0L517.2,2194.9L527.8,2137.5L538.4,2182.0L549.0,2130.8L559.6,2140.7L570.2,2126.0L580.8,2181.8L591.4,2156.1L602.0,2218.6L612.6,2096.1L623.2,2123.2L633.8,2169.8L644.4,2197.4L655.0,2209.5L665.6,2117.8L676.2,2121.3L686.8,2167.5L697.4,2112.4L708.0,2127.9L718.6,2066.6L729.2,2096.5L739.8,2071.6L750.4,2095.9L761.0,2196.0L771.6,2215.1L782.2,2078.3L792.8,2169.0L803.4,2141.2L814.0,2075.6L824.6,2229.8L835.2,2090.0L845.8,2107.3L856.4,2080.8L867.0,2114.3L877.6,2092.8L888.2,2173.5L898.8,2083.0L909.4,2114.1L920.0,2137.7L930.6,2102.0L941.2,2110.8L951.8,2175.3L962.4,2127.4L973.0,2101.0L983.6,2115.6L994.2,2166.0L1004.8,2119.4L1015.4,2158.6L1026.0,2149.6L1036.6,2075.4L1047.2,2158.8L1057.8,2140.9L1068.4,2093.5L1079.0,2128.3L1089.6,2107.7L1100.2,2122.3L1110.8,2138.8L1121.4,2109.8L1132.0,2143.9L1142.6,2033.1L1153.2,2091.2L1163.8,2078.8L1174.4,2009.6L1185.0,2034.6L1195.6,2009.0L1206.2,2122.1L1216.8,1996.3L1227.4,1991.5L1238.0,2071.9L1248.6,2106.8L1259.1,2133.6L1269.7,2028.9L1280.3,2040.7L1290.9,1985.2L1301.5,1975.3L1312.1,2030.6L1322.7,2000.7L1333.3,1993.0L1343.9,1990.1L1354.5,1977.8L1365.1,2014.1L1375.7,2040.0L1386.3,1957.3L1396.9,2028.5L1407.5,1984.2L1418.1,2051.7L1428.7,1977.0L1439.3,1956.8L1449.9,1955.3L1460.5,1949.6L1471.1,1872.2L1481.7,1925.4L1492.3,2026.1L1502.9,1877.9L1513.5,1978.6L1524.1,1842.4L1534.7,1931.0L1545.3,1942.7L1555.9,1847.8L1566.5,1869.6L1577.1,1932.9L1587.7,1948.7L1598.3,1894.4L1608.9,1915.9L1619.5,1907.5L1630.1,1895.4L1640.7,1850.3L1651.3,1771.3L1661.9,1838.0L1672.5,1866.4L1683.1,1835.9L1693.7,1823.0L1704.3,1845.4L1714.9,1818.6L1725.5,1797.0L1736.1,1735.9L1746.7,1773.3L1757.3,1754.9L1767.9,1828.3L1778.5,1726.0L1789.1,1770.0L1799.7,1722.2L1810.3,1801.5L1820.9,1719.9L1831.5,1741.5L1842.1,1732.0L1852.7,1736.8L1863.3,1759.1L1873.9,1709.6L1884.5,1734.5L1895.1,1680.5L1905.7,1681.2L1916.3,1693.0L1926.9,1670.4L1937.5,1645.8L1948.1,1615.0L1958.7,1637.0L1969.3,1575.3L1979.9,1563.8L1990.5,1581.9L2001.1,1632.9L2011.7,1572.8L2022.3,1537.0L2032.9,1537.5L2043.5,1536.4L2054.1,1538.9L2064.7,1544.0L2075.3,1492.9L2085.9,1495.7L2096.5,1532.4L2107.1,1472.9L2117.7,1540.2L2128.3,1444.1L2138.9,1454.1L2149.5,1385.9L2160.1,1416.1L2170.7,1415.4L2181.3,1391.4L2191.9,1372.8L2202.5,1369.5L2213.1,1322.3"/>
<path d="M315.8,2236.5L326.4,2183.9L337.0,2210.1L347.6,2221.5L358.2,2190.0L368.8,2206.7L379.4,2174.8L390.0,2209.5L400.6,2189.0L411.2,2185.8L421.8,2155.2L432.4,2272.4L443.0,2177.2L453.6,2256.6L464.2,2141.7L474.8,2071.3L485.4,2194.2L496.0,2180.5L506.6,2218.1L517.2,2165.7L527.8,2154.4L538.4,2119.1L549.0,2169.6L559.6,2180.8L570.2,2209.1L580.8,2174.2L591.4,2090.1L602.0,2137.1L612.6,2125.6L623.2,2156.7L633.8,2112.3L644.4,2084.8L655.0,2124.5L665.6,2183.1L676.2,2179.3L686.8,2158.2L697.4,2189.7L708.0,2158.8L718.6,2161.1L729.2,2228.9L739.8,2104.4L750.4,2222.0L761.0,2172.7L771.6,2178.7L782.2,2203.9L792.8,2089.2L803.4,2152.6L814.0,2093.6L824.6,2181.3L835.2,2030.6L845.8,2145.8L856.4,2095.5L867.0,2099.1L877.6,2148.9L888.2,2163.5L898.8,2038.0L909.4,2164.8L920.0,2099.2L930.6,2118.9L941.2,2169.1L951.8,2161.6L962.4,2104.6L973.0,2025.9L983.6,2139.6L994.2,2137.4L1004.8,2128.0L1015.4,2057.7L1026.0,2028.7L1036.6,2080.0L1047.2,2109.3L1057.8,2015.4L1068.4,2014.7L1079.0,2008.4L1089.6,1984.8L1100.2,2073.4L1110.8,2096.8L1121.4,1991.5L1132.0,2121.8L1142.6,2067.6L1153.2,2075.6L1163.8,2020.6L1174.4,2084.0L1185.0,2120.4L1195.6,2046.4L1206.2,2045.1L1216.8,2033.9L1227.4,2008.2L1238.0,2062.6L1248.6,2017.0L1259.1,2007.3L1269.7,2048.9L1280.3,2048.5L1290.9,2001.8L1301.5,2059.9L1312.1,2010.1L1322.7,2015.4L1333.3,2014.9L1343.9,1920.1L1354.5,1876.7L1365.1,2088.8L1375.7,1976.4L1386.3,1966.1L1396.9,2004.4L1407.5,2001.1L1418.1,1986.2L1428.7,1996.2L1439.3,1976.0L1449.9,1948.1L1460.5,1954.3L1471.1,2033.6L1481.7,1887.6L1492.3,1891.6L1502.9,1918.2L1513.5,1921.6L1524.1,1936.2L1534.7,1993.9L1545.3,1888.2L1555.9,1909.7L1566.5,1898.2L1577.1,1923.9L1587.7,1834.2L1598.3,1834.1L1608.9,1863.1L1619.5,1970.8L1630.1,1895.2L1640.7,1825.6L1651.3,1849.7L1661.9,1897.9L1672.5,1767.7L1683.1,1933.9L1693.7,1879.5L1704.3,1839.6L1714.9,1862.3L1725.5,1914.1L1736.1,1800.3L1746.7,1845.0L1757.3,1760.0L1767.9,1769.2L1778.5,1847.8L1789.1,1762.3L1799.7,1744.5L1810.3,1768.4L1820.9,1723.2L1831.5,1716.4L1842.1,1738.0L1852.7,1694.2L1863.3,1762.1L1873.9,1688.2L1884.5,1719.6L1895.1,1647.1L1905.7,1655.9L1916.3,1578.0L1926.9,1673.7L1937.5,1663.9L1948.1,1594.1L1958.7,1630.9L1969.3,1586.7L1979.9,1579.2L1990.5,1573.4L2001.1,1538.9L2011.7,1568.6L2022.3,1543.3L2032.9,1482.5L2043.5,1517.9L2054.1,1507.7L2064.7,1486.8L2075.3,1476.2L2085.9,1565.0L2096.5,1459.6L2107.1,1466.2L2117.7,1452.2L2128.3,1455.2L2138.9,1439.4L2149.5,1432.1L2160.1,1422.7L2170.7,1396.5L2181.3,1463.9L2191.9,1425.9L2202.5,1387.6L2213.1,1417.1"/>
<path d="M315.8,2178.7L326.4,2267.8L337.0,2205.6L347.6,2221.1L358.2,2281.5L368.8,2207.6L379.4,2178.2L390.0,2171.1L400.6,2185.7L411.2,2169.3L421.8,2178.2L432.4,2067.7L443.0,2224.9L453.6,2140.8L464.2,2130.2L474.8,2215.6L485.4,2114.7L496.0,2127.1L506.6,2083.5L517.2,2071.9L527.8,2139.7L538.4,2163.2L549.0,2174.3L559.6,2095.7L570.2,2205.2L580.8,1960.8L591.4,2130.4L602.0,2138.3L612.6,2058.9L623.2,2138.6L633.8,2136.2L644.4,2105.1L655.0,2185.9L665.6,2203.8L676.2,2124.2L686.8,2208.5L697.4,2151.4L708.0,2110.1L718.6,2110.7L729.2,2118.0L739.8,2114.6L750.4,2169.6L761.0,2105.1L771.6,2194.8L782.2,2177.0L792.8,2117.3L803.4,2078.5L814.0,2189.5L824.6,2153.3L835.2,2124.0L845.8,2146.4L856.4,2080.3L867.0,2089.5L877.6,2163.9L888.2,2082.2L898.8,1972.0L909.4,2151.5L920.0,2082.4L930.6,2134.2L941.2,2136.6L951.8,2126.5L962.4,2056.6L973.0,2161.2L983.6,2095.9L994.2,2074.0L1004.8,2141.4L1015.4,2105.6L1026.0,2142.0L1036.6,2099.2L1047.2,1982.3L1057.8,2107.4L1068.4,2080.2L1079.0,2066.9L1089.6,2099.1L1100.2,1946.0L1110.8,2071.2L1121.4,2112.0L1132.0,2044.6L1142.6,2023.9L1153.2,2118.7L1163.8,1986.5L1174.4,2132.6L1185.0,2061.1L1195.6,2096.4L1206.2,2067.0L1216.8,2084.9L1227.4,2095.9L1238.0,2032.5L1248.6,2032.3L1259.1,2067.9L1269.7,2056.0L1280.3,1933.9L1290.9,1881.3L1301.5,2022.3L1312.1,2072.6L1322.7,2047.1L1333.3,2086.4L1343.9,2007.5L1354.5,2005.4L1365.1,1937.2L1375.7,2016.2L1386.3,1909.0L1396.9,2004.2L1407.5,1980.3L1418.1,1983.8L1428.7,1965.6L1439.3,1924.9L1449.9,1964.3L1460.5,1934.4L1471.1,1972.9L1481.7,1966.1L1492.3,1933.1L1502.9,1920.0L1513.5,1932.0L1524.1,1934.8L1534.7,1915.0L1545.3,2016.8L1555.9,1869.2L1566.5,1885.5L1577.1,1852.6L1587.7,1967.0L1598.3,1886.0L1608.9,1892.5L1619.5,1924.1L1630.1,1833.4L1640.7,1960.6L1651.3,1833.8L1661.9,1802.6L1672.5,1839.5L1683.1,1898.0L1693.7,1813.2L1704.3,1857.6L1714.9,1895.8L1725.5,1827.7L1736.1,1855.4L1746.7,1773.2L1757.3,1779.3L1767.9,1834.6L1778.5,1701.3L1789.1,1772.8L1799.7,1770.7L1810.3,1802.1L1820.9,1698.6L1831.5,1709.6L1842.1,1728.8L1852.7,1765.5L1863.3,1692.1L1873.9,1683.5L1884.5,1713.3L1895.1,1662.1L1905.7,1623.8L1916.3,1658.6L1926.9,1641.4L1937.5,1672.1L1948.1,1659.3L1958.7,1625.3L1969.3,1573.5L1979.9,1589.8L1990.5,1600.4L2001.1,1567.0L2011.7,1606.4L2022.3,1551.0L2032.9,1583.4L2043.5,1527.6L2054.1,1484.7L2064.7,1531.1L2075.3,1545.8L2085.9,1522.9L2096.5,1483.3L2107.1,1453.6L2117.7,1474.1L2128.3,1444.8L2138.9,1474.2L2149.5,1509.5L2160.1,1452.8L2170.7,1424.9L2181.3,1347.3L2191.9,1327.3L2202.5,1375.6L2213.1,1360.1"/>
<path d="M315.8,2218.7L326.4,2279.8L337.0,2136.1L347.6,2201.0L358.2,2217.4L368.8,2134.7L379.4,2183.5L390.0,2153.8L400.6,2256.5L411.2,2203.9L421.8,2124.7L432.4,2194.9L443.0,2223.5L453.6,2198.7L464.2,2186.4L474.8,2127.0L485.4,2225.4L496.0,2195.0L506.6,2134.2L517.2,2233.5L527.8,2130.4L538.4,2199.2L549.0,2113.9L559.6,2118.1L570.2,2161.5L580.8,2175.2L591.4,2157.6L602.0,2178.4L612.6,2107.8L623.2,2194.1L633.8,2141.5L644.4,2117.8L655.0,2065.4L665.6,2221.0L676.2,2088.3L686.8,2040.5L697.4,2189.1L708.0,2108.1L718.6,2062.7L729.2,2171.2L739.8,2151.5L750.4,2144.7L761.0,2070.9L771.6,2152.2L782.2,2182.2L792.8,2101.3L803.4,2169.0L814.0,2025.1L824.6,2135.5L835.2,2094.3L845.8,2205.6L856.4,2126.5L867.0,2106.8L877.6,2084.6L888.2,2147.7L898.8,2143.9L909.4,2095.8L920.0,2093.1L930.6,2098.9L941.2,2043.4L951.8,2089.5L962.4,2117.5L973.0,2177.5L983.6,2149.5L994.2,2154.0L1004.8,2028.9L1015.4,2108.2L1026.0,2101.7L1036.6,2014.4L1047.2,2104.5L1057.8,2123.6L1068.4,2052.4L1079.0,2011.6L1089.6,2020.4L1100.2,2130.7L1110.8,1975.5L1121.4,2097.1L1132.0,1999.7L1142.6,2068.8L1153.2,2039.7L1163.8,2124.5L1174.4,2001.1L1185.0,2096.2L1195.6,2009.0L1206.2,2094.5L1216.8,2134.1L1227.4,2052.3L1238.0,2063.0L1248.6,2072.8L1259.1,2046.6L1269.7,2056.1L1280.3,2064.5L1290.9,2073.2L1301.5,1999.0L1312.1,1936.3L1322.7,2009.5L1333.3,2066.5L1343.9,2031.9L1354.5,2042.4L1365.1,2117.2L1375.7,2064.5L1386.3,2006.8L1396.9,1892.6L1407.5,2007.7L1418.1,1938.2L1428.7,2036.6L1439.3,1989.7L1449.9,1912.0L1460.5,1953.7L1471.1,1945.0L1481.7,1897.9L1492.3,1885.6L1502.9,1883.2L1513.5,1938.0L1524.1,1900.6L1534.7,1880.8L1545.3,1909.8L1555.9,1919.7L1566.5,1803.7L1577.1,1964.1L1587.7,1952.8L1598.3,1914.5L1608.9,1821.3L1619.5,1822.9L1630.1,1868.0L1640.7,1818.0L1651.3,1891.3L1661.9,1854.1L1672.5,1842.8L1683.1,1831.3L1693.7,1847.1L1704.3,1781.4L1714.9,1771.5L1725.5,1800.1L1736.1,1794.6L1746.7,1828.1L1757.3,1790.8L1767.9,1818.3L1778.5,1772.5L1789.1,1796.0L1799.7,1695.6L1810.3,1785.5L1820.9,1732.1L1831.5,1733.9L1842.1,1677.4L1852.7,1701.7L1863.3,1725.0L1873.9,1690.9L1884.5,1686.1L1895.1,1650.3L1905.7,1632.0L1916.3,1650.9L1926.9,1715.3L1937.5,1649.8L1948.1,1669.1L1958.7,1607.1L1969.3,1625.2L1979.9,1565.3L1990.5,1571.4L2001.1,1591.0L2011.7,1516.5L2022.3,1580.7L2032.9,1628.4L2043.5,1508.1L2054.1,1562.4L2064.7,1504.9L2075.3,1479.7L2085.9,1509.2L2096.5,1503.6L2107.1,1509.9L2117.7,1440.6L2128.3,1419.2L2138.9,1477.6L2149.5,1420.0L2160.1,1427.2L2170.7,1395.3L2181.3,1458.4L2191.9,1433.4L2202.5,1431.4L2213.1,1348.4"/>
<path d="M315.8,2200.2L326.4,2215.2L337.0,2251.2L347.6,2155.0L358.2,2197.4L368.8,2268.2L379.4,2221.4L390.0,2134.6L400.6,2211.0L411.2,2188.5L421.8,2200.6L432.4,2156.3L443.0,2188.6L453.6,2096.9L464.2,2092.8L474.8,2142.8L485.4,2148.4L496.0,2180.3L506.6,2203.5L517.2,2240.7L527.8,2148.9L538.4,2162.9L549.0,2186.5L559.6,2157.5L570.2,2207.4L580.8,2171.8L591.4,2149.7L602.0,2100.2L612.6,2121.0L623.2,2131.8L633.8,2158.4L644.4,2163.5L655.0,2012.9L665.6,2180.0L676.2,2198.5L686.8,2095.5L697.4,2236.4L708.0,2098.4L718.6,2067.0L729.2,2123.8L739.8,2089.2L750.4,2164.4L761.0,2048.8L771.6,2217.4L782.2,2207.1L792.8,2130.1L803.4,2143.9L814.0,2140.4L824.6,2143.8L835.2,2189.9L845.8,2071.5L856.4,2094.2L867.0,2149.4L877.6,2178.2L888.2,2141.2L898.8,2141.1L909.4,2173.9L920.0,2076.1L930.6,2134.1L941.2,2204.6L951.8,2129.7L962.4,2117.9L973.0,2154.9L983.6,2041.0L994.2,2054.0L1004.8,2143.4L1015.4,2046.6L1026.0,2069.6L1036.6,2158.5L1047.2,2087.9L1057.8,2088.5L1068.4,2078.0L1079.0,2056.4L1089.6,2093.4L1100.2,2109.7L1110.8,2020.7L1121.4,2045.8L1132.0,2112.3L1142.6,1998.4L1153.2,1985.2L1163.8,2060.7L1174.4,2049.6L1185.0,2185.0L1195.6,2003.9L1206.2,2028.0L1216.8,2088.0L1227.4,2071.8L1238.0,2061.0L1248.6,2044.0L1259.1,2080.5L1269.7,2041.5L1280.3,2032.2L1290.9,2133.8L1301.5,2000.4L1312.1,1976.1L1322.7,2054.6L1333.3,2021.4L1343.9,1999.4L1354.5,2004.6L1365.1,2023.2L1375.7,1945.9L1386.3,1993.9L1396.9,1950.4L1407.5,1982.0L1418.1,1936.5L1428.7,2016.5L1439.3,1971.4L1449.9,1957.7L1460.5,2003.5L1471.1,1992.0L1481.7,1963.3L1492.3,1971.5L1502.9,1989.6L1513.5,1894.5L1524.1,1888.2L1534.7,1911.6L1545.3,2035.5L1555.9,1846.4L1566.5,1879.8L1577.1,1955.0L1587.7,1912.5L1598.3,1898.5L1608.9,1857.7L1619.5,1851.6L1630.1,1901.5L1640.7,1869.3L1651.3,1790.2L1661.9,1883.3L1672.5,1877.0L1683.1,1805.8L1693.7,1850.6L1704.3,1838.3L1714.9,1729.0L1725.5,1831.1L1736.1,1798.3L1746.7,1822.7L1757.3,1778.4L1767.9,1810.7L1778.5,1752.3L1789.1,1764.6L1799.7,1781.1L1810.3,1738.6L1820.9,1768.0L1831.5,1686.7L1842.1,1641.0L1852.7,1748.8L1863.3,1709.3L1873.9,1694.5L1884.5,1660.6L1895.1,1633.7L1905.7,1666.8L1916.3,1707.9L1926.9,1688.3L1937.5,1662.1L1948.1,1649.8L1958.7,1584.2L1969.3,1599.6L1979.9,1633.1L1990.5,1596.6L2001.1,1572.5L2011.7,1557.3L2022.3,1597.6L2032.9,1497.4L2043.5,1561.8L2054.1,1533.2L2064.7,1477.2L2075.3,1505.6L2085.9,1474.4L2096.5,1474.4L2107.1,1519.7L2117.7,1402.0L2128.3,1385.7L2138.9,1428.1L2149.5,1326.5L2160.1,1424.7L2170.7,1451.5L2181.3,1411.7L2191.9,1351.2L2202.5,1406.3L2213.1,1377.0"/>
<path d="M315.8,2198.5L326.4,2157.7L337.0,2203.2L347.6,2156.7L358.2,2177.7L368.8,2154.7L379.4,2032.5L390.0,2221.4L400.6,2121.4L411.2,2150.0L421.8,2184.7L432.4,2132.7L443.0,2093.2L453.6,2219.8L464.2,2153.0L474.8,2151.2L485.4,2183.5L496.0,2091.7L506.6,2127.9L517.2,2075.0L527.8,2151.0L538.4,2160.4L549.0,2233.8L559.6,2112.7L570.2,2100.3L580.8,2105.1L591.4,2086.4L602.0,2099.5L612.6,2166.9L623.2,2188.4L633.8,2178.9L644.4,2094.8L655.0,2104.5L665.6,2181.8L676.2,2108.3L686.8,2173.4L697.4,2118.4L708.0,2159.2L718.6,2230.5L729.2,2119.0L739.8,2181.8L750.4,2105.6L761.0,2154.5L771.6,2158.9L782.2,2082.8L792.8,2145.5L803.4,2105.5L814.0,2080.2L824.6,2150.5L835.2,2192.7L845.8,2194.5L856.4,2223.3L867.0,2127.3L877.6,2107.5L888.2,2097.2L898.8,2169.8L909.4,2071.0L920.0,2178.9L930.6,2099.1L941.2,2088.5L951.8,2061.7L962.4,2094.4L973.0,2159.7L983.6,2070.8L994.2,2069.1L1004.8,2138.4L1015.4,2122.8L1026.0,2159.2L1036.6,2115.6L1047.2,2159.1L1057.8,2027.5L1068.4,2065.6L1079.0,2062.5L1089.6,2147.9L1100.2,2203.1L1110.8,1992.1L1121.4,2008.1L1132.0,2037.6L1142.6,1965.8L1153.2,2103.1L1163.8,2136.7L1174.4,2124.1L1185.0,2041.7L1195.6,2005.2L1206.2,2098.3L1216.8,2076.6L1227.4,2066.1L1238.0,2131.3L1248.6,2013.1L1259.1,2072.1L1269.7,1947.2L1280.3,2001.6L1290.9,2046.2L1301.5,2035.6L1312.1,2022.5L1322.7,2006.5L1333.3,1986.9L1343.9,2008.6L1354.5,1993.2L1365.1,2023.2L1375.7,2031.6L1386.3,1960.1L1396.9,1978.6L1407.5,1984.5L1418.1,1970.1L1428.7,1985.7L1439.3,2035.5L1449.9,2001.1L1460.5,1979.5L1471.1,1932.0L1481.7,1932.4L1492.3,1968.8L1502.9,1948.7L1513.5,1912.9L1524.1,1868.1L1534.7,1927.1L1545.3,1916.8L1555.9,1860.6L1566.5,1921.7L1577.1,1890.7L1587.7,1829.7L1598.3,1882.0L1608.9,1926.7L1619.5,1923.2L1630.1,1753.9L1640.7,1882.8L1651.3,1806.1L1661.9,1818.7L1672.5,1873.6L1683.1,1787.8L1693.7,1804.1L1704.3,1804.1L1714.9,1901.0L1725.5,1801.9L1736.1,1824.4L1746.7,1834.9L1757.3,1830.1L1767.9,1762.9L1778.5,1794.8L1789.1,1778.5L1799.7,1751.1L1810.3,1733.5L1820.9,1651.4L1831.5,1720.8L1842.1,1718.5L1852.7,1662.0L1863.3,1703.1L1873.9,1745.5L1884.5,1710.2L1895.1,1640.0L1905.7,1691.2L1916.3,1654.0L1926.9,1678.4L1937.5,1574.5L1948.1,1626.0L1958.7,1605.1L1969.3,1656.6L1979.9,1662.3L1990.5,1574.0L2001.1,1596.9L2011.7,1619.4L2022.3,1586.4L2032.9,1546.4L2043.5,1555.0L2054.1,1495.1L2064.7,1469.3L2075.3,1486.5L2085.9,1449.3L2096.5,1503.4L2107.1,1423.1L2117.7,1492.7L2128.3,1464.8L2138.9,1417.4L2149.5,1434.7L2160.1,1418.6L2170.7,1409.2L2181.3,1408.9L2191.9,1441.3L2202.5,1406.2L2213.1,1410.3"/>
<path d="M315.8,2210.3L326.4,2224.2L337.0,2171.5L347.6,2165.2L358.2,2098.4L368.8,2239.4L379.4,2138.3L390.0,2204.4L400.6,2204.9L411.2,2093.8L421.8,2176.3L432.4,2170.3L443.0,2200.5L453.6,2170.5L464.2,2232.6L474.8,2232.3L485.4,2129.7L496.0,2123.6L506.6,2050.2L517.2,2158.7L527.8,2093.8L538.4,2104.4L549.0,2188.1L559.6,2165.2L570.2,2141.0L580.8,2145.7L591.4,2124.8L602.0,2160.8L612.6,2121.9L623.2,2116.4L633.8,2149.6L644.4,2087.9L655.0,2196.3L665.6,2205.2L676.2,2149.6L686.8,2134.4L697.4,2037.7L708.0,2149.7L718.6,2090.2L729.2,2190.8L739.8,2190.8L750.4,2188.4L761.0,2174.0L771.6,2186.9L782.2,2146.0L792.8,2140.8L803.4,2081.4L814.0,2084.7L824.6,2177.0L835.2,2034.1L845.8,2096.6L856.4,2108.2L867.0,2152.8L877.6,2071.8L888.2,2129.7L898.8,2085.3L909.4,2096.1L920.0,2125.5L930.6,2113.1L941.2,2067.5L951.8,2126.5L962.4,2110.6L973.0,2163.4L983.6,2071.0L994.2,2116.4L1004.8,2169.1L1015.4,2073.7L1026.0,2125.1L1036.6,2055.7L1047.2,2041.4L1057.8,2102.1L1068.4,2067.0L1079.0,2062.3L1089.6,2083.3L1100.2,2091.4L1110.8,2083.7L1121.4,2166.7L1132.0,2118.6L1142.6,2031.3L1153.2,2126.9L1163.8,2107.4L1174.4,1967.1L1185.0,2063.0L1195.6,2041.8L1206.2,2082.8L1216.8,2059.4L1227.4,1992.5L1238.0,1962.2L1248.6,1968.3L1259.1,2073.6L1269.7,1997.6L1280.3,2047.7L1290.9,1951.9L1301.5,2059.1L1312.1,2083.3L1322.7,2022.9L1333.3,2044.0L1343.9,2068.1L1354.5,2067.9L1365.1,2003.8L1375.7,1971.6L1386.3,1994.5L1396.9,1933.4L1407.5,1970.4L1418.1,1991.7L1428.7,1960.9L1439.3,1963.0L1449.9,2008.2L1460.5,1979.1L1471.1,1945.6L1481.7,1954.9L1492.3,1931.5L1502.9,1943.2L1513.5,1965.6L1524.1,1920.6L1534.7,1973.1L1545.3,1893.0L1555.9,1959.7L1566.5,1877.7L1577.1,1921.7L1587.7,1881.2L1598.3,1840.4L1608.9,1857.8L1619.5,1884.6L1630.1,1770.0L1640.7,1855.3L1651.3,1919.7L1661.9,1849.3L1672.5,1884.3L1683.1,1804.6L1693.7,1852.4L1704.3,1805.2L1714.9,1767.7L1725.5,1861.6L1736.1,1760.4L1746.7,1775.8L1757.3,1796.4L1767.9,1753.3L1778.5,1692.9L1789.1,1798.9L1799.7,1742.3L1810.3,1760.5L1820.9,1669.6L1831.5,1733.6L1842.1,1739.5L1852.7,1739.8L1863.3,1759.7L1873.9,1667.9L1884.5,1673.4L1895.1,1706.3L1905.7,1651.2L1916.3,1657.5L1926.9,1625.9L1937.5,1617.9L1948.1,1559.0L1958.7,1665.5L1969.3,1551.1L1979.9,1594.2L1990.5,1589.0L2001.1,1508.1L2011.7,1557.3L2022.3,1500.9L2032.9,1535.0L2043.5,1536.0L2054.1,1501.2L2064.7,1537.5L2075.3,1505.2L2085.9,1521.3L2096.5,1532.0L2107.1,1511.0L2117.7,1456.7L2128.3,1447.3L2138.9,1412.2L2149.5,1460.0L2160.1,1452.0L2170.7,1424.6L2181.3,1429.2L2191.9,1412.8L2202.5,1420.8L2213.1,1412.3"/>
<path d="M315.8,2134.1L326.4,2203.7L337.0,2172.0L347.6,2213.2L358.2,2152.6L368.8,2218.9L379.4,2162.6L390.0,2217.8L400.6,2125.5L411.2,2101.0L421.8,2195.3L432.4,2119.4L443.0,2232.1L453.6,2243.9L464.2,2158.2L474.8,2047.2L485.4,2115.8L496.0,2141.1L506.6,2135.4L517.2,2080.4L527.8,2165.8L538.4,2129.7L549.0,2264.2L559.6,2118.3L570.2,2157.0L580.8,2082.4L591.4,2160.8L602.0,2165.2L612.6,2111.3L623.2,2116.1L633.8,2106.8L644.4,2209.5L655.0,2153.1L665.6,2209.0L676.2,2105.8L686.8,2133.1L697.4,2119.2L708.0,2213.8L718.6,2109.0L729.2,2143.7L739.8,2102.7L750.4,2121.2L761.0,2095.4L771.6,2093.5L782.2,2159.0L792.8,2086.4L803.4,2110.9L814.0,2127.2L824.6,2092.2L835.2,2122.4L845.8,2044.5L856.4,2135.5L867.0,2162.0L877.6,2201.7L888.2,2120.0L898.8,2119.5L909.4,2117.3L920.0,2201.8L930.6,2028.8L941.2,1935.1L951.8,2145.5L962.4,2085.7L973.0,2130.6L983.6,2120.5L994.2,2066.0L1004.8,2115.7L1015.4,2160.2L1026.0,2189.6L1036.6,2103.1L1047.2,2039.6L1057.8,2143.8L1068.4,2078.2L1079.0,2062.5L1089.6,2058.3L1100.2,2081.4L1110.8,2131.4L1121.4,2019.6L1132.0,2081.9L1142.6,2053.8L1153.2,2070.4L1163.8,2013.8L1174.4,2083.9L1185.0,2025.3L1195.6,2070.2L1206.2,2046.0L1216.8,2054.1L1227.4,2005.1L1238.0,1998.9L1248.6,2041.5L1259.1,1887.3L1269.7,1961.8L1280.3,1986.1L1290.9,2042.0L1301.5,2081.5L1312.1,2016.5L1322.7,1990.6L1333.3,1911.9L1343.9,2056.0L1354.5,2004.2L1365.1,1988.4L1375.7,1959.4L1386.3,2036.0L1396.9,1973.7L1407.5,1999.9L1418.1,1973.0L1428.7,1918.5L1439.3,1929.2L1449.9,2016.6L1460.5,1993.0L1471.1,2014.5L1481.7,1998.9L1492.3,1854.5L1502.9,1896.4L1513.5,1939.1L1524.1,1930.5L1534.7,1861.5L1545.3,1933.2L1555.9,1914.3L1566.5,1953.9L1577.1,2008.4L1587.7,1950.1L1598.3,1939.3L1608.9,1824.6L1619.5,1919.0L1630.1,1869.1L1640.7,1902.2L1651.3,1874.6L1661.9,1838.9L1672.5,1884.0L1683.1,1875.2L1693.7,1818.8L1704.3,1839.0L1714.9,1819.2L1725.5,1892.6L1736.1,1818.4L1746.7,1895.5L1757.3,1806.0L1767.9,1818.8L1778.5,1705.1L1789.1,1736.7L1799.7,1724.6L1810.3,1760.3L1820.9,1720.4L1831.5,1693.0L1842.1,1699.6L1852.7,1732.7L1863.3,1683.8L1873.9,1718.2L1884.5,1669.4L1895.1,1596.6L1905.7,1624.9L1916.3,1679.3L1926.9,1676.2L1937.5,1605.7L1948.1,1647.7L1958.7,1625.0L1969.3,1506.1L1979.9,1512.4L1990.5,1562.7L2001.1,1536.6L2011.7,1535.4L2022.3,1574.3L2032.9,1567.3L2043.5,1590.5L2054.1,1516.4L2064.7,1523.2L2075.3,1534.6L2085.9,1453.0L2096.5,1505.7L2107.1,1438.7L2117.7,1511.7L2128.3,1406.4L2138.9,1503.5L2149.5,1458.8L2160.1,1414.8L2170.7,1375.0L2181.3,1403.7L2191.9,1411.7L2202.5,1428.5L2213.1,1467.1"/>
<path d="M315.8,2180.5L326.4,2244.4L337.0,2233.9L347.6,2121.3L358.2,2216.3L368.8,2124.6L379.4,2164.4L390.0,2174.5L400.6,2050.2L411.2,2224.4L421.8,2115.6L432.4,2276.7L443.0,2195.1L453.6,2194.0L464.2,2141.4L474.8,2216.9L485.4,2215.8L496.0,2188.6L506.6,2232.2L517.2,2140.1L527.8,2199.0L538.4,2198.9L549.0,2170.3L559.6,2076.6L570.2,2094.5L580.8,2113.9L591.4,2184.1L602.0,2184.1L612.6,2131.9L623.2,2172.2L633.8,2123.6L644.4,2191.2L655.0,2103.3L665.6,2141.8L676.2,2102.3L686.8,1987.9L697.4,2084.8L708.0,2143.2L718.6,2059.9L729.2,2135.6L739.8,2125.3L750.4,2144.0L761.0,2140.9L771.6,2220.1L782.2,2160.7L792.8,2086.6L803.4,2240.4L814.0,2189.0L824.6,2049.8L835.2,2170.6L845.8,2190.1L856.4,2134.4L867.0,2171.8L877.6,2160.1L888.2,2133.0L898.8,2155.9L909.4,2088.3L920.0,2154.7L930.6,2169.0L941.2,2111.6L951.8,1975.4L962.4,2135.9L973.0,2038.2L983.6,2125.4L994.2,2140.6L1004.8,2158.9L1015.4,2223.5L1026.0,2058.9L1036.6,2055.7L1047.2,2089.8L1057.8,2191.5L1068.4,2091.4L1079.0,2137.5L1089.6,2085.4L1100.2,2085.2L1110.8,2006.8L1121.4,2070.1L1132.0,2036.0L1142.6,2064.1L1153.2,2170.5L1163.8,2007.7L1174.4,2065.5L1185.0,2000.0L1195.6,2089.0L1206.2,2013.9L1216.8,2035.0L1227.4,2077.5L1238.0,2093.0L1248.6,2115.4L1259.1,1976.2L1269.7,2042.2L1280.3,2030.9L1290.9,2004.3L1301.5,2050.0L1312.1,2008.1L1322.7,2013.6L1333.3,1960.7L1343.9,2014.7L1354.5,2001.2L1365.1,2065.4L1375.7,1997.7L1386.3,1997.5L1396.9,1979.7L1407.5,1938.2L1418.1,1994.2L1428.7,1998.7L1439.3,2007.6L1449.9,2034.6L1460.5,1953.3L1471.1,1914.2L1481.7,1968.2L1492.3,2037.2L1502.9,1963.7L1513.5,1844.1L1524.1,1953.4L1534.7,1979.5L1545.3,1860.2L1555.9,1956.6L1566.5,1866.9L1577.1,1890.9L1587.7,1853.0L1598.3,1938.7L1608.9,1858.7L1619.5,1916.3L1630.1,1919.5L1640.7,1931.3L1651.3,1947.1L1661.9,1888.0L1672.5,1890.5L1683.1,1884.3L1693.7,1801.0L1704.3,1837.0L1714.9,1729.0L1725.5,1784.3L1736.1,1890.2L1746.7,1768.9L1757.3,1754.6L1767.9,1757.3L1778.5,1743.3L1789.1,1809.8L1799.7,1807.5L1810.3,1797.6L1820.9,1671.5L1831.5,1730.3L1842.1,1625.5L1852.7,1753.0L1863.3,1707.1L1873.9,1686.8L1884.5,1675.8L1895.1,1603.6L1905.7,1678.4L1916.3,1689.7L1926.9,1681.2L1937.5,1639.6L1948.1,1614.4L1958.7,1656.3L1969.3,1558.8L1979.9,1688.6L1990.5,1629.0L2001.1,1482.5L2011.7,1640.8L2022.3,1452.9L2032.9,1544.6L2043.5,1532.4L2054.1,1510.3L2064.7,1476.2L2075.3,1462.0L2085.9,1479.2L2096.5,1433.6L2107.1,1448.1L2117.7,1489.8L2128.3,1439.0L2138.9,1432.3L2149.5,1463.3L2160.1,1459.1L2170.7,1444.8L2181.3,1340.1L2191.9,1400.2L2202.5,1389.3L2213.1,1334.2"/>
<path d="M315.8,2020.8L326.4,2080.4L337.0,2123.6L347.6,2189.8L358.2,2151.6L368.8,2178.7L379.4,2210.0L390.0,2255.4L400.6,2070.1L411.2,2253.7L421.8,2171.2L432.4,2221.3L443.0,2146.2L453.6,2143.5L464.2,2148.3L474.8,2125.8L485.4,2205.6L496.0,2086.9L506.6,2068.1L517.2,2147.7L527.8,2132.5L538.4,2148.9L549.0,2114.6L559.6,2194.0L570.2,2093.6L580.8,2185.2L591.4,2200.1L602.0,2161.2L612.6,2104.0L623.2,2238.9L633.8,2189.7L644.4,2090.2L655.0,2124.2L665.6,2170.0L676.2,2145.4L686.8,2179.7L697.4,2203.2L708.0,2101.1L718.6,2142.5L729.2,2107.1L739.8,2114.4L750.4,2191.8L761.0,2120.2L771.6,2181.2L782.2,2092.1L792.8,2089.7L803.4,2146.8L814.0,2156.1L824.6,2102.6L835.2,2107.0L845.8,2108.8L856.4,2197.6L867.0,2128.9L877.6,2157.3L888.2,2216.1L898.8,2137.4L909.4,2126.7L920.0,2192.9L930.6,1938.9L941.2,2045.7L951.8,1970.0L962.4,2073.6L973.0,2147.8L983.6,2100.2L994.2,2169.7L1004.8,2099.5L1015.4,2092.5L1026.0,2112.1L1036.6,2080.3L1047.2,2108.5L1057.8,2099.9L1068.4,2056.5L1079.0,2106.7L1089.6,2116.5L1100.2,2114.0L1110.8,2016.1L1121.4,2129.4L1132.0,2001.1L1142.6,2056.2L1153.2,1972.5L1163.8,2076.8L1174.4,2042.7L1185.0,2137.7L1195.6,2044.6L1206.2,2056.7L1216.8,2082.2L1227.4,1999.1L1238.0,2057.1L1248.6,2043.4L1259.1,1969.2L1269.7,2017.5L1280.3,1981.0L1290.9,2046.0L1301.5,1937.2L1312.1,2049.5L1322.7,1942.3L1333.3,1978.9L1343.9,1947.5L1354.5,2051.5L1365.1,1994.9L1375.7,2040.0L1386.3,1960.0L1396.9,1979.2L1407.5,1981.4L1418.1,1937.1L1428.7,2029.3L1439.3,1974.1L1449.9,1996.9L1460.5,1933.1L1471.1,1979.2L1481.7,1984.5L1492.3,1901.1L1502.9,1889.3L1513.5,1913.8L1524.1,2052.8L1534.7,1909.9L1545.3,1913.4L1555.9,1956.9L1566.5,1894.0L1577.1,1917.7L1587.7,1858.4L1598.3,1909.7L1608.9,1862.9L1619.5,1882.5L1630.1,1878.2L1640.7,1880.1L1651.3,1818.0L1661.9,1827.0L1672.5,1878.3L1683.1,1795.4L1693.7,1825.5L1704.3,1818.5L1714.9,1775.6L1725.5,1823.8L1736.1,1838.9L1746.7,1737.6L1757.3,1793.2L1767.9,1760.3L1778.5,1732.4L1789.1,1721.6L1799.7,1753.8L1810.3,1749.5L1820.9,1733.4L1831.5,1716.7L1842.1,1573.5L1852.7,1667.1L1863.3,1674.5L1873.9,1718.8L1884.5,1667.2L1895.1,1707.1L1905.7,1652.0L1916.3,1668.2L1926.9,1596.0L1937.5,1661.3L1948.1,1673.3L1958.7,1644.6L1969.3,1610.4L1979.9,1614.9L1990.5,1611.6L2001.1,1609.3L2011.7,1573.3L2022.3,1581.0L2032.9,1535.0L2043.5,1499.4L2054.1,1443.4L2064.7,1501.7L2075.3,1480.7L2085.9,1479.0L2096.5,1446.5L2107.1,1439.4L2117.7,1457.2L2128.3,1498.6L2138.9,1421.5L2149.5,1454.6L2160.1,1421.9L2170.7,1422.1L2181.3,1439.6L2191.9,1395.5L2202.5,1318.8L2213.1,1351.0"/>
<path d="M315.8,2162.3L326.4,2256.8L337.0,2245.4L347.6,2156.1L358.2,2147.2L368.8,2178.3L379.4,2153.7L390.0,2197.7L400.6,2252.0L411.2,2231.6L421.8,2142.7L432.4,2118.2L443.0,2165.6L453.6,2159.0L464.2,2267.6L474.8,2169.6L485.4,2156.3L496.0,2171.4L506.6,2159.6L517.2,2234.6L527.8,2194.3L538.4,2081.9L549.0,2109.9L559.6,2131.8L570.2,2140.5L580.8,2097.3L591.4,2135.0L602.0,2147.9L612.6,2130.0L623.2,2195.3L633.8,2124.2L644.4,2147.3L655.0,2167.0L665.6,2160.5L676.2,2199.1L686.8,2148.1L697.4,2142.0L708.0,2073.0L718.6,2180.5L729.2,2181.6L739.8,2119.4L750.4,2187.3L761.0,2108.3L771.6,2176.3L782.2,2154.4L792.8,2154.3L803.4,2140.1L814.0,2217.0L824.6,2085.4L835.2,2175.8L845.8,2177.5L856.4,2119.6L867.0,1977.1L877.6,2077.0L888.2,2188.3L898.8,2078.8L909.4,1993.5L920.0,2157.5L930.6,2127.8L941.2,2172.4L951.8,2137.6L962.4,2065.5L973.0,2155.7L983.6,2121.5L994.2,2152.7L1004.8,2081.9L1015.4,2159.9L1026.0,2039.4L1036.6,2116.1L1047.2,2128.9L1057.8,2142.9L1068.4,2138.0L1079.0,2056.8L1089.6,2066.5L1100.2,2135.3L1110.8,2070.1L1121.4,2102.9L1132.0,2072.1L1142.6,2052.7L1153.2,1973.7L1163.8,2030.7L1174.4,2069.3L1185.0,2067.2L1195.6,2050.4L1206.2,2104.4L1216.8,2073.6L1227.4,2026.0L1238.0,1995.4L1248.6,1998.5L1259.1,2025.1L1269.7,1997.1L1280.3,1954.6L1290.9,2015.7L1301.5,2065.7L1312.1,2045.0L1322.7,2080.0L1333.3,2029.6L1343.9,1975.0L1354.5,1988.3L1365.1,1940.9L1375.7,2008.8L1386.3,1984.9L1396.9,2010.5L1407.5,2002.7L1418.1,1924.1L1428.7,2051.3L1439.3,1983.1L1449.9,2055.7L1460.5,1950.2L1471.1,1980.0L1481.7,1932.4L1492.3,1869.4L1502.9,1935.9L1513.5,1930.1L1524.1,1925.6L1534.7,1892.6L1545.3,1917.8L1555.9,1862.7L1566.5,1871.6L1577.1,1939.1L1587.7,1878.0L1598.3,1889.0L1608.9,1762.3L1619.5,1880.9L1630.1,1854.0L1640.7,1847.8L1651.3,1828.3L1661.9,1897.4L1672.5,1826.3L1683.1,1840.4L1693.7,1839.5L1704.3,1817.1L1714.9,1790.9L1725.5,1761.0L1736.1,1826.8L1746.7,1767.0L1757.3,1725.8L1767.9,1732.0L1778.5,1796.2L1789.1,1755.1L1799.7,1757.1L1810.3,1749.7L1820.9,1799.0L1831.5,1732.6L1842.1,1749.5L1852.7,1714.2L1863.3,1692.0L1873.9,1634.5L1884.5,1713.9L1895.1,1604.0L1905.7,1673.6L1916.3,1629.5L1926.9,1650.9L1937.5,1622.2L1948.1,1593.2L1958.7,1613.5L1969.3,1613.7L1979.9,1609.3L1990.5,1599.6L2001.1,1628.8L2011.7,1497.5L2022.3,1534.9L2032.9,1529.4L2043.5,1516.5L2054.1,1511.6L2064.7,1490.2L2075.3,1509.9L2085.9,1460.9L2096.5,1467.3L2107.1,1497.1L2117.7,1434.0L2128.3,1485.0L2138.9,1431.6L2149.5,1403.3L2160.1,1368.4L2170.7,1410.7L2181.3,1383.1L2191.9,1451.5L2202.5,1409.7L2213.1,1409.5"/>
<path d="M315.8,2205.4L326.4,2156.2L337.0,2221.4L347.6,2108.1L358.2,2176.5L368.8,2219.8L379.4,1987.2L390.0,2230.7L400.6,2202.3L411.2,2189.3L421.8,2235.7L432.4,2116.2L443.0,2170.7L453.6,2226.2L464.2,2193.8L474.8,2224.7L485.4,2118.5L496.0,2144.7L506.6,2111.6L517.2,2180.8L527.8,2149.4L538.4,2062.9L549.0,2116.1L559.6,2223.5L570.2,2153.0L580.8,2153.6L591.4,2121.8L602.0,2193.2L612.6,2102.0L623.2,2083.9L633.8,2196.4L644.4,2108.5L655.0,2125.9L665.6,2148.6L676.2,2178.5L686.8,2128.9L697.4,2182.0L708.0,2116.5L718.6,2157.9L729.2,2108.7L739.8,2173.5L750.4,2121.9L761.0,2190.5L771.6,2156.1L782.2,2117.6L792.8,2121.3L803.4,2115.8L814.0,2154.7L824.6,2116.1L835.2,2125.8L845.8,2193.0L856.4,2079.1L867.0,2138.0L877.6,2134.6L888.2,2159.0L898.8,2116.7L909.4,2142.5L920.0,2097.5L930.6,2070.2L941.2,2155.6L951.8,2103.8L962.4,2159.4L973.0,2122.8L983.6,2116.4L994.2,2157.3L1004.8,2156.1L1015.4,2161.5L1026.0,2089.0L1036.6,2086.8L1047.2,2021.1L1057.8,2071.1L1068.4,2076.5L1079.0,2012.2L1089.6,2094.3L1100.2,2014.4L1110.8,2103.0L1121.4,2075.5L1132.0,2042.9L1142.6,2086.0L1153.2,2144.4L1163.8,2091.3L1174.4,2047.7L1185.0,1985.4L1195.6,2084.0L1206.2,1998.4L1216.8,2078.0L1227.4,2021.7L1238.0,2032.9L1248.6,1939.7L1259.1,2080.5L1269.7,2052.2L1280.3,2102.2L1290.9,1987.7L1301.5,1981.3L1312.1,1978.2L1322.7,1961.7L1333.3,1996.1L1343.9,1997.7L1354.5,1943.3L1365.1,2107.7L1375.7,2036.4L1386.3,2037.7L1396.9,1967.6L1407.5,2034.6L1418.1,2035.0L1428.7,2015.7L1439.3,1972.0L1449.9,2005.1L1460.5,1915.2L1471.1,1966.0L1481.7,2013.0L1492.3,1932.1L1502.9,1996.2L1513.5,1913.2L1524.1,1969.8L1534.7,1997.6L1545.3,1768.1L1555.9,1836.6L1566.5,1917.0L1577.1,1870.8L1587.7,1881.7L1598.3,1928.9L1608.9,1910.0L1619.5,1941.9L1630.1,1820.5L1640.7,1850.9L1651.3,1841.6L1661.9,1903.7L1672.5,1833.0L1683.1,1874.1L1693.7,1886.3L1704.3,1808.8L1714.9,1754.1L1725.5,1740.1L1736.1,1807.1L1746.7,1797.8L1757.3,1840.3L1767.9,1809.8L1778.5,1785.0L1789.1,1804.2L1799.7,1746.4L1810.3,1789.4L1820.9,1700.1L1831.5,1751.7L1842.1,1751.0L1852.7,1712.7L1863.3,1673.2L1873.9,1712.0L1884.5,1621.2L1895.1,1642.9L1905.7,1584.0L1916.3,1684.1L1926.9,1625.7L1937.5,1602.1L1948.1,1528.6L1958.7,1526.9L1969.3,1592.2L1979.9,1604.0L1990.5,1606.9L2001.1,1641.6L2011.7,1545.6L2022.3,1576.8L2032.9,1522.3L2043.5,1543.9L2054.1,1546.5L2064.7,1570.2L2075.3,1513.0L2085.9,1494.5L2096.5,1474.1L2107.1,1464.8L2117.7,1380.0L2128.3,1506.8L2138.9,1402.1L2149.5,1479.7L2160.1,1471.5L2170.7,1408.7L2181.3,1385.1L2191.9,1411.2L2202.5,1376.0L2213.1,1381.1"/>
<path d="M315.8,2257.1L326.4,2162.4L337.0,2258.0L347.6,2152.5L358.2,2190.8L368.8,2215.2L379.4,2188.0L390.0,2085.4L400.6,2237.4L411.2,2093.5L421.8,2156.4L432.4,2187.6L443.0,2206.8L453.6,2213.6L464.2,2191.7L474.8,2152.9L485.4,2119.6L496.0,2197.7L506.6,2134.8L517.2,2140.1L527.8,2144.4L538.4,2186.5L549.0,2174.4L559.6,2217.5L570.2,2176.1L580.8,2207.0L591.4,2225.2L602.0,2201.6L612.6,2087.9L623.2,2086.7L633.8,2105.6L644.4,2077.9L655.0,2214.4L665.6,2083.4L676.2,2168.0L686.8,2177.8L697.4,2144.7L708.0,2181.5L718.6,2115.6L729.2,2069.3L739.8,2173.3L750.4,2047.5L761.0,2163.4L771.6,2109.2L782.2,2109.8L792.8,2104.4L803.4,2154.0L814.0,2019.2L824.6,2150.8L835.2,2059.6L845.8,2076.0L856.4,2152.4L867.0,2139.4L877.6,2112.5L888.2,2149.8L898.8,2133.9L909.4,2160.5L920.0,2110.7L930.6,2107.7L941.2,2073.3L951.8,2152.9L962.4,2106.3L973.0,2150.1L983.6,2050.7L994.2,2226.4L1004.8,2144.5L1015.4,2054.6L1026.0,2103.2L1036.6,2114.8L1047.2,2158.6L1057.8,2038.4L1068.4,2046.6L1079.0,2065.9L1089.6,2015.2L1100.2,2068.3L1110.8,2069.1L1121.4,2044.0L1132.0,2105.4L1142.6,2061.9L1153.2,2047.7L1163.8,2058.5L1174.4,2100.0L1185.0,2149.5L1195.6,2031.4L1206.2,2047.5L1216.8,2077.5L1227.4,2060.3L1238.0,1998.5L1248.6,1974.6L1259.1,2024.8L1269.7,1919.7L1280.3,2031.5L1290.9,2072.2L1301.5,2020.3L1312.1,2030.5L1322.7,1923.4L1333.3,2097.4L1343.9,2023.2L1354.5,2042.0L1365.1,1888.8L1375.7,2031.3L1386.3,2028.7L1396.9,2015.8L1407.5,1959.2L1418.1,1952.4L1428.7,1962.7L1439.3,1963.8L1449.9,1976.6L1460.5,1999.4L1471.1,1891.0L1481.7,1905.1L1492.3,2003.6L1502.9,1912.5L1513.5,1932.9L1524.1,1871.3L1534.7,1949.8L1545.3,1942.3L1555.9,1907.3L1566.5,1829.8L1577.1,1929.9L1587.7,1929.0L1598.3,1948.3L1608.9,1867.9L1619.5,1868.1L1630.1,1947.4L1640.7,1869.5L1651.3,1796.2L1661.9,1928.1L1672.5,1867.8L1683.1,1838.1L1693.7,1808.0L1704.3,1791.7L1714.9,1853.8L1725.5,1799.3L1736.1,1784.3L1746.7,1753.5L1757.3,1685.4L1767.9,1745.2L1778.5,1765.7L1789.1,1780.4L1799.7,1760.2L1810.3,1698.3L1820.9,1735.1L1831.5,1733.5L1842.1,1712.1L1852.7,1742.0L1863.3,1626.6L1873.9,1704.6L1884.5,1779.5L1895.1,1682.5L1905.7,1640.4L1916.3,1606.5L1926.9,1574.2L1937.5,1614.2L1948.1,1654.0L1958.7,1600.1L1969.3,1664.5L1979.9,1641.7L1990.5,1551.7L2001.1,1553.3L2011.7,1533.3L2022.3,1588.7L2032.9,1527.5L2043.5,1614.6L2054.1,1532.4L2064.7,1474.1L2075.3,1565.6L2085.9,1433.6L2096.5,1484.0L2107.1,1501.7L2117.7,1456.7L2128.3,1407.3L2138.9,1486.2L2149.5,1413.0L2160.1,1425.7L2170.7,1447.5L2181.3,1334.2L2191.9,1362.9L2202.5,1399.2L2213.1,1355.0"/>
<path d="M315.8,2148.7L326.4,2129.2L337.0,2195.7L347.6,2167.1L358.2,2045.2L368.8,2090.2L379.4,2222.7L390.0,2236.2L400.6,2153.9L411.2,2158.3L421.8,2169.6L432.4,2083.4L443.0,2236.7L453.6,2172.6L464.2,2174.0L474.8,2137.5L485.4,2114.7L496.0,2153.9L506.6,2045.9L517.2,2171.5L527.8,2133.7L538.4,2131.1L549.0,2233.3L559.6,2177.6L570.2,2156.5L580.8,2027.9L591.4,2172.9L602.0,2113.4L612.6,2107.6L623.2,2131.8L633.8,2160.1L644.4,2135.8L655.0,2093.6L665.6,2176.7L676.2,2142.1L686.8,2139.6L697.4,2199.3L708.0,2176.8L718.6,2229.8L729.2,2086.8L739.8,2134.9L750.4,2144.0L761.0,2096.6L771.6,2121.2L782.2,2144.8L792.8,2124.4L803.4,2138.7L814.0,2169.7L824.6,2154.0L835.2,2115.5L845.8,2123.6L856.4,2144.7L867.0,2170.8L877.6,2129.9L888.2,2109.6L898.8,2106.1L909.4,2112.9L920.0,2065.3L930.6,2146.6L941.2,2147.0L951.8,2120.8L962.4,2125.7L973.0,2121.4L983.6,2062.0L994.2,2193.1L1004.8,2160.1L1015.4,2074.5L1026.0,2084.4L1036.6,2101.5L1047.2,2134.9L1057.8,2067.3L1068.4,2081.8L1079.0,2090.8L1089.6,2092.2L1100.2,2087.3L1110.8,2036.4L1121.4,2074.8L1132.0,2081.2L1142.6,2015.9L1153.2,2155.2L1163.8,2045.1L1174.4,2008.4L1185.0,2079.5L1195.6,2047.9L1206.2,2040.0L1216.8,2083.6L1227.4,2042.1L1238.0,1989.9L1248.6,1976.9L1259.1,2110.3L1269.7,2054.1L1280.3,2029.2L1290.9,1915.1L1301.5,2112.1L1312.1,2047.0L1322.7,2018.4L1333.3,2011.2L1343.9,1942.0L1354.5,2013.6L1365.1,2035.3L1375.7,1974.9L1386.3,1990.7L1396.9,1970.5L1407.5,2004.5L1418.1,1969.4L1428.7,1998.3L1439.3,2019.1L1449.9,1970.1L1460.5,2021.5L1471.1,1991.8L1481.7,1980.3L1492.3,1957.8L1502.9,2020.1L1513.5,1926.2L1524.1,1989.0L1534.7,1910.4L1545.3,1886.1L1555.9,1856.3L1566.5,1878.6L1577.1,1929.9L1587.7,1869.4L1598.3,1861.3L1608.9,1868.9L1619.5,1853.8L1630.1,1832.8L1640.7,1912.1L1651.3,1886.9L1661.9,1904.7L1672.5,1869.5L1683.1,1876.2L1693.7,1834.5L1704.3,1867.4L1714.9,1808.5L1725.5,1852.0L1736.1,1750.8L1746.7,1799.0L1757.3,1877.6L1767.9,1697.2L1778.5,1838.7L1789.1,1807.1L1799.7,1722.8L1810.3,1695.3L1820.9,1710.1L1831.5,1762.8L1842.1,1722.4L1852.7,1703.1L1863.3,1691.3L1873.9,1683.7L1884.5,1599.0L1895.1,1715.3L1905.7,1678.8L1916.3,1667.1L1926.9,1652.4L1937.5,1621.3L1948.1,1635.5L1958.7,1599.9L1969.3,1596.6L1979.9,1603.1L1990.5,1521.0L2001.1,1585.9L2011.7,1518.4L2022.3,1564.3L2032.9,1508.2L2043.5,1445.2L2054.1,1472.9L2064.7,1466.9L2075.3,1468.1L2085.9,1578.7L2096.5,1475.5L2107.1,1461.3L2117.7,1436.5L2128.3,1489.0L2138.9,1517.3L2149.5,1438.2L2160.1,1470.7L2170.7,1387.5L2181.3,1420.9L2191.9,1372.8L2202.5,1367.0L2213.1,1398.4"/>
<path d="M315.8,2157.1L326.4,2181.5L337.0,2197.8L347.6,2241.4L358.2,2135.4L368.8,2123.8L379.4,2180.1L390.0,2222.9L400.6,2227.8L411.2,2212.6L421.8,2198.0L432.4,2160.7L443.0,2091.9L453.6,2246.9L464.2,2228.9L474.8,2156.6L485.4,2120.1L496.0,2181.4L506.6,2049.9L517.2,2143.7L527.8,2193.1L538.4,2043.1L549.0,2159.9L559.6,2096.9L570.2,2113.8L580.8,2104.6L591.4,2076.5L602.0,2157.7L612.6,2098.3L623.2,2227.7L633.8,2068.0L644.4,2073.6L655.0,2146.5L665.6,2113.5L676.2,2073.8L686.8,2146.4L697.4,2148.0L708.0,2181.9L718.6,2152.2L729.2,2129.0L739.8,2154.2L750.4,2186.0L761.0,2105.7L771.6,2105.4L782.2,2161.0L792.8,2120.7L803.4,2163.5L814.0,2044.5L824.6,2109.7L835.2,2049.4L845.8,2165.8L856.4,2173.9L867.0,2145.1L877.6,2070.9L888.2,2134.1L898.8,2071.7L909.4,2103.8L920.0,2066.1L930.6,2225.2L941.2,2124.1L951.8,2149.5L962.4,2026.4L973.0,1957.7L983.6,2137.3L994.2,2093.2L1004.8,2094.5L1015.4,2055.8L1026.0,2173.3L1036.6,2052.5L1047.2,2081.0L1057.8,2028.3L1068.4,2144.2L1079.0,2128.6L1089.6,2057.1L1100.2,2145.7L1110.8,2088.3L1121.4,2063.9L1132.0,2123.7L1142.6,2092.1L1153.2,2031.0L1163.8,2055.7L1174.4,2068.4L1185.0,2083.0L1195.6,2089.4L1206.2,2050.1L1216.8,2015.2L1227.4,2158.1L1238.0,2023.3L1248.6,2078.4L1259.1,2037.5L1269.7,2027.6L1280.3,2106.9L1290.9,2067.3L1301.5,2085.5L1312.1,2063.7L1322.7,2002.4L1333.3,2025.4L1343.9,2047.4L1354.5,2015.9L1365.1,1999.9L1375.7,2024.2L1386.3,1992.2L1396.9,1900.4L1407.5,1996.0L1418.1,1957.6L1428.7,1936.8L1439.3,1987.3L1449.9,2014.1L1460.5,1965.2L1471.1,1882.1L1481.7,1957.1L1492.3,1963.3L1502.9,1962.0L1513.5,1947.4L1524.1,1907.4L1534.7,1959.4L1545.3,1896.6L1555.9,1928.9L1566.5,1838.0L1577.1,1889.9L1587.7,1907.3L1598.3,1930.7L1608.9,1840.8L1619.5,1874.7L1630.1,1824.9L1640.7,1886.5L1651.3,1913.3L1661.9,1905.7L1672.5,1795.5L1683.1,1838.8L1693.7,1816.0L1704.3,1808.6L1714.9,1816.3L1725.5,1756.8L1736.1,1848.4L1746.7,1767.6L1757.3,1723.0L1767.9,1803.7L1778.5,1827.7L1789.1,1771.1L1799.7,1784.5L1810.3,1749.3L1820.9,1721.4L1831.5,1715.2L1842.1,1709.9L1852.7,1639.1L1863.3,1676.6L1873.9,1705.8L1884.5,1666.7L1895.1,1634.7L1905.7,1639.6L1916.3,1584.1L1926.9,1630.1L1937.5,1681.2L1948.1,1662.0L1958.7,1489.6L1969.3,1678.0L1979.9,1587.0L1990.5,1534.7L2001.1,1572.1L2011.7,1578.0L2022.3,1546.6L2032.9,1562.3L2043.5,1532.2L2054.1,1529.1L2064.7,1542.9L2075.3,1468.5L2085.9,1502.9L2096.5,1517.3L2107.1,1475.5L2117.7,1478.4L2128.3,1473.3L2138.9,1416.5L2149.5,1422.1L2160.1,1400.0L2170.7,1426.9L2181.3,1422.7L2191.9,1385.2L2202.5,1441.6L2213.1,1383.1"/>
<path d="M315.8,2211.6L326.4,2203.2L337.0,2205.5L347.6,2150.7L358.2,2176.7L368.8,2150.7L379.4,2174.6L390.0,2243.7L400.6,2222.7L411.2,2186.2L421.8,2206.0L432.4,2196.9L443.0,2155.2L453.6,2176.3L464.2,2216.1L474.8,2231.3L485.4,2165.1L496.0,2185.0L506.6,2199.8L517.2,2155.3L527.8,2106.7L538.4,2177.5L549.0,2161.3L559.6,2162.6L570.2,2188.7L580.8,2148.7L591.4,2180.5L602.0,2142.6L612.6,2123.7L623.2,2039.5L633.8,2062.7L644.4,2102.6L655.0,2155.9L665.6,2161.5L676.2,2177.7L686.8,2072.4L697.4,2117.6L708.0,2178.5L718.6,2147.0L729.2,2051.3L739.8,2064.9L750.4,2117.2L761.0,2092.7L771.6,2211.4L782.2,2202.3L792.8,2063.0L803.4,2101.5L814.0,2197.1L824.6,2225.2L835.2,2163.1L845.8,2087.9L856.4,2134.4L867.0,2205.0L877.6,2079.1L888.2,2109.0L898.8,2196.0L909.4,2115.7L920.0,2096.3L930.6,2111.0L941.2,2154.7L951.8,2101.6L962.4,2083.0L973.0,2074.4L983.6,2070.1L994.2,2141.9L1004.8,2157.0L1015.4,2156.9L1026.0,2084.0L1036.6,2120.4L1047.2,2051.0L1057.8,2037.3L1068.4,2102.3L1079.0,2139.7L1089.6,2130.8L1100.2,2072.2L1110.8,2156.7L1121.4,2107.5L1132.0,1977.9L1142.6,2060.7L1153.2,2100.7L1163.8,2137.0L1174.4,2056.1L1185.0,2033.0L1195.6,2033.7L1206.2,2002.1L1216.8,2019.3L1227.4,2029.1L1238.0,2026.9L1248.6,2090.9L1259.1,2010.8L1269.7,2060.0L1280.3,2126.5L1290.9,1947.0L1301.5,2052.3L1312.1,1997.2L1322.7,2047.5L1333.3,2063.8L1343.9,1986.4L1354.5,2011.2L1365.1,2039.4L1375.7,1925.0L1386.3,2000.1L1396.9,1991.6L1407.5,1996.9L1418.1,1980.4L1428.7,2008.1L1439.3,1799.1L1449.9,1941.4L1460.5,1952.8L1471.1,1924.9L1481.7,1977.5L1492.3,1983.7L1502.9,1912.6L1513.5,1986.6L1524.1,1931.5L1534.7,1883.8L1545.3,1967.9L1555.9,1957.4L1566.5,1839.7L1577.1,1928.9L1587.7,1889.0L1598.3,1859.8L1608.9,1914.9L1619.5,1881.4L1630.1,1789.5L1640.7,1898.3L1651.3,1809.3L1661.9,1837.2L1672.5,1889.4L1683.1,1827.9L1693.7,1767.7L1704.3,1849.5L1714.9,1888.3L1725.5,1798.7L1736.1,1840.2L1746.7,1748.2L1757.3,1684.3L1767.9,1839.5L1778.5,1836.2L1789.1,1804.0L1799.7,1768.5L1810.3,1730.0L1820.9,1733.5L1831.5,1665.9L1842.1,1701.1L1852.7,1734.0L1863.3,1705.3L1873.9,1649.6L1884.5,1680.5L1895.1,1702.8L1905.7,1694.9L1916.3,1628.4L1926.9,1621.6L1937.5,1700.2L1948.1,1607.7L1958.7,1638.1L1969.3,1651.3L1979.9,1650.1L1990.5,1614.3L2001.1,1610.3L2011.7,1591.8L2022.3,1545.7L2032.9,1572.3L2043.5,1518.7L2054.1,1498.1L2064.7,1531.4L2075.3,1498.3L2085.9,1488.9L2096.5,1473.1L2107.1,1461.4L2117.7,1451.7L2128.3,1455.3L2138.9,1466.4L2149.5,1406.0L2160.1,1392.4L2170.7,1443.4L2181.3,1450.8L2191.9,1429.9L2202.5,1393.9L2213.1,1403.7"/>
<path d="M315.8,2111.0L326.4,2163.2L337.0,2173.7L347.6,2278.5L358.2,2170.4L368.8,2236.9L379.4,2239.1L390.0,1997.8L400.6,2174.0L411.2,2137.1L421.8,2196.0L432.4,2208.0L443.0,2168.7L453.6,2152.8L464.2,2159.9L474.8,2113.7L485.4,2247.0L496.0,2138.8L506.6,2139.2L517.2,2153.6L527.8,1936.9L538.4,2164.0L549.0,2219.6L559.6,2201.0L570.2,2157.0L580.8,2123.4L591.4,2064.1L602.0,2125.1L612.6,2112.1L623.2,2130.9L633.8,2163.2L644.4,2202.1L655.0,2235.1L665.6,2146.3L676.2,2143.3L686.8,2155.6L697.4,2096.3L708.0,2069.7L718.6,1960.9L729.2,2123.6L739.8,2208.0L750.4,2152.4L761.0,2206.5L771.6,2177.7L782.2,2138.2L792.8,2146.2L803.4,2173.1L814.0,2132.3L824.6,2119.9L835.2,2067.3L845.8,2120.8L856.4,2011.8L867.0,2157.4L877.6,2172.7L888.2,2037.0L898.8,2046.1L909.4,1992.4L920.0,2167.0L930.6,2176.8L941.2,2130.7L951.8,2118.4L962.4,2143.0L973.0,2100.5L983.6,2091.8L994.2,2131.7L1004.8,2137.4L1015.4,2205.5L1026.0,2087.5L1036.6,2124.5L1047.2,2018.3L1057.8,2069.3L1068.4,2077.3L1079.0,2156.8L1089.6,2085.3L1100.2,2112.0L1110.8,2087.0L1121.4,2075.8L1132.0,2091.1L1142.6,2109.7L1153.2,2064.2L1163.8,2085.5L1174.4,2046.8L1185.0,1980.1L1195.6,2064.8L1206.2,2056.6L1216.8,2069.2L1227.4,2018.0L1238.0,2062.0L1248.6,2055.4L1259.1,2058.0L1269.7,2080.7L1280.3,2041.0L1290.9,1992.4L1301.5,2102.3L1312.1,2029.8L1322.7,1999.7L1333.3,2028.0L1343.9,2008.5L1354.5,2028.9L1365.1,1995.2L1375.7,2056.6L1386.3,2035.6L1396.9,1966.8L1407.5,1877.7L1418.1,1955.7L1428.7,1948.9L1439.3,1976.7L1449.9,1950.9L1460.5,1953.7L1471.1,1919.4L1481.7,1877.2L1492.3,1849.4L1502.9,1976.6L1513.5,1928.3L1524.1,1921.4L1534.7,1968.2L1545.3,1895.6L1555.9,1901.5L1566.5,1952.6L1577.1,1945.5L1587.7,1912.3L1598.3,1821.4L1608.9,1916.8L1619.5,1839.0L1630.1,1897.0L1640.7,1865.1L1651.3,1849.1L1661.9,1892.8L1672.5,1863.5L1683.1,1814.4L1693.7,1857.5L1704.3,1854.7L1714.9,1772.8L1725.5,1792.2L1736.1,1789.6L1746.7,1830.8L1757.3,1819.9L1767.9,1758.3L1778.5,1807.4L1789.1,1705.8L1799.7,1740.0L1810.3,1763.1L1820.9,1738.2L1831.5,1643.9L1842.1,1698.4L1852.7,1710.2L1863.3,1715.1L1873.9,1761.7L1884.5,1637.2L1895.1,1670.2L1905.7,1624.8L1916.3,1651.7L1926.9,1643.3L1937.5,1597.6L1948.1,1571.7L1958.7,1641.3L1969.3,1623.0L1979.9,1575.6L1990.5,1620.5L2001.1,1600.1L2011.7,1522.7L2022.3,1513.8L2032.9,1559.6L2043.5,1496.9L2054.1,1526.2L2064.7,1536.5L2075.3,1540.4L2085.9,1511.1L2096.5,1496.2L2107.1,1498.3L2117.7,1452.1L2128.3,1409.6L2138.9,1455.0L2149.5,1508.9L2160.1,1460.9L2170.7,1390.0L2181.3,1390.0L2191.9,1439.7L2202.5,1338.5L2213.1,1393.7"/>
<path d="M315.8,2024.0L326.4,2193.0L337.0,2158.3L347.6,2262.3L358.2,2133.1L368.8,2134.0L379.4,2233.6L390.0,2152.8L400.6,2226.5L411.2,2143.9L421.8,2253.0L432.4,2145.6L443.0,2176.9L453.6,2143.3L464.2,2169.7L474.8,2200.6L485.4,2207.9L496.0,2094.3L506.6,2178.8L517.2,2110.2L527.8,2181.5L538.4,2013.1L549.0,2114.9L559.6,2144.3L570.2,2134.6L580.8,2107.5L591.4,2247.3L602.0,2121.5L612.6,2128.4L623.2,2180.5L633.8,2153.7L644.4,2062.2L655.0,2150.6L665.6,2198.3L676.2,2061.2L686.8,2171.2L697.4,2077.5L708.0,2191.3L718.6,2156.0L729.2,2093.4L739.8,2175.6L750.4,2151.1L761.0,2184.0L771.6,2137.5L782.2,2165.8L792.8,2096.2L803.4,2171.5L814.0,2066.3L824.6,2145.0L835.2,2184.1L845.8,2097.7L856.4,2084.8L867.0,2102.4L877.6,2177.4L888.2,2167.1L898.8,2113.5L909.4,2180.1L920.0,2200.6L930.6,2146.3L941.2,2071.9L951.8,2027.2L962.4,2103.8L973.0,2126.0L983.6,2131.5L994.2,2128.0L1004.8,2121.5L1015.4,2131.9L1026.0,2135.8L1036.6,2112.9L1047.2,2090.7L1057.8,2093.4L1068.4,2129.1L1079.0,2080.0L1089.6,2110.6L1100.2,2027.4L1110.8,2178.8L1121.4,2005.2L1132.0,2075.3L1142.6,2053.0L1153.2,2116.1L1163.8,2025.3L1174.4,1964.2L1185.0,2048.8L1195.6,2052.7L1206.2,2049.8L1216.8,2040.0L1227.4,1904.4L1238.0,1928.7L1248.6,2069.5L1259.1,1949.6L1269.7,1990.3L1280.3,2023.7L1290.9,2082.9L1301.5,2005.5L1312.1,2017.8L1322.7,2014.4L1333.3,2005.1L1343.9,1967.4L1354.5,2033.3L1365.1,2009.2L1375.7,1991.0L1386.3,2032.4L1396.9,1964.4L1407.5,1945.5L1418.1,1978.6L1428.7,1932.5L1439.3,1971.2L1449.9,2035.2L1460.5,1927.1L1471.1,1928.9L1481.7,1934.7L1492.3,1915.4L1502.9,1960.3L1513.5,1943.3L1524.1,1915.4L1534.7,1913.7L1545.3,1958.5L1555.9,1924.9L1566.5,1878.0L1577.1,1891.3L1587.7,1761.2L1598.3,1893.8L1608.9,1909.7L1619.5,1871.5L1630.1,1891.1L1640.7,1840.3L1651.3,1861.4L1661.9,1860.2L1672.5,1885.8L1683.1,1743.8L1693.7,1868.3L1704.3,1852.1L1714.9,1851.2L1725.5,1808.4L1736.1,1819.8L1746.7,1767.4L1757.3,1762.5L1767.9,1745.3L1778.5,1745.0L1789.1,1717.6L1799.7,1702.3L1810.3,1752.1L1820.9,1737.2L1831.5,1647.7L1842.1,1714.2L1852.7,1693.4L1863.3,1701.8L1873.9,1690.2L1884.5,1674.4L1895.1,1652.0L1905.7,1688.3L1916.3,1681.7L1926.9,1662.0L1937.5,1648.8L1948.1,1629.4L1958.7,1615.0L1969.3,1517.9L1979.9,1577.9L1990.5,1588.2L2001.1,1621.1L2011.7,1523.9L2022.3,1555.1L2032.9,1513.1L2043.5,1558.9L2054.1,1484.0L2064.7,1522.3L2075.3,1510.1L2085.9,1489.6L2096.5,1487.3L2107.1,1466.9L2117.7,1503.0L2128.3,1444.6L2138.9,1433.7L2149.5,1409.8L2160.1,1393.6L2170.7,1443.6L2181.3,1442.8L2191.9,1444.5L2202.5,1344.3L2213.1,1386.1"/>
<path d="M315.8,2157.9L326.4,2225.3L337.0,2151.2L347.6,2180.4L358.2,2131.2L368.8,2136.2L379.4,2142.0L390.0,2212.4L400.6,2212.4L411.2,2154.6L421.8,2137.9L432.4,2084.5L443.0,2098.6L453.6,2203.3L464.2,2129.1L474.8,2153.2L485.4,2146.6L496.0,2224.0L506.6,2245.3L517.2,2152.0L527.8,2178.3L538.4,2183.3L549.0,2167.5L559.6,2127.9L570.2,2123.8L580.8,2164.1L591.4,2152.8L602.0,2137.7L612.6,2121.8L623.2,2145.7L633.8,2151.8L644.4,2163.4L655.0,2159.6L665.6,1993.3L676.2,2125.0L686.8,2186.2L697.4,2148.7L708.0,2003.2L718.6,2108.7L729.2,2138.2L739.8,2147.9L750.4,2184.9L761.0,2073.0L771.6,2061.9L782.2,2094.9L792.8,2124.9L803.4,2112.3L814.0,2134.1L824.6,2082.2L835.2,2114.6L845.8,2152.5L856.4,2067.6L867.0,2109.7L877.6,2174.5L888.2,2113.9L898.8,2126.4L909.4,2091.3L920.0,2119.7L930.6,2108.6L941.2,2102.8L951.8,2187.3L962.4,2094.5L973.0,2153.0L983.6,2189.3L994.2,2104.0L1004.8,2067.8L1015.4,2046.9L1026.0,2077.9L1036.6,2108.6L1047.2,2134.1L1057.8,2108.9L1068.4,2089.2L1079.0,2131.6L1089.6,2092.4L1100.2,2100.5L1110.8,2144.1L1121.4,2079.0L1132.0,2053.1L1142.6,2070.4L1153.2,2086.2L1163.8,2101.1L1174.4,2045.7L1185.0,2022.6L1195.6,2095.5L1206.2,2134.6L1216.8,2140.4L1227.4,2054.6L1238.0,2034.6L1248.6,2048.7L1259.1,1988.1L1269.7,2010.8L1280.3,2093.6L1290.9,2086.1L1301.5,1956.3L1312.1,1973.2L1322.7,2049.8L1333.3,2055.7L1343.9,2018.5L1354.5,1937.0L1365.1,1956.5L1375.7,1994.0L1386.3,1970.6L1396.9,1968.7L1407.5,1970.3L1418.1,1920.5L1428.7,1911.0L1439.3,2009.5L1449.9,1967.8L1460.5,2010.5L1471.1,1912.3L1481.7,1924.9L1492.3,1962.1L1502.9,1990.5L1513.5,1908.3L1524.1,1925.0L1534.7,1921.3L1545.3,1919.1L1555.9,1916.8L1566.5,1910.8L1577.1,1929.4L1587.7,1916.3L1598.3,1930.2L1608.9,1948.5L1619.5,1927.4L1630.1,1846.0L1640.7,1826.0L1651.3,1852.6L1661.9,1838.2L1672.5,1832.2L1683.1,1821.4L1693.7,1837.2L1704.3,1861.1L1714.9,1810.0L1725.5,1808.6L1736.1,1785.2L1746.7,1757.6L1757.3,1724.2L1767.9,1797.7L1778.5,1776.2L1789.1,1768.2L1799.7,1644.4L1810.3,1736.8L1820.9,1759.7L1831.5,1702.2L1842.1,1699.8L1852.7,1741.9L1863.3,1750.6L1873.9,1719.0L1884.5,1588.0L1895.1,1671.8L1905.7,1660.5L1916.3,1640.9L1926.9,1615.4L1937.5,1612.8L1948.1,1684.1L1958.7,1675.8L1969.3,1665.8L1979.9,1590.1L1990.5,1485.0L2001.1,1569.1L2011.7,1549.7L2022.3,1572.1L2032.9,1513.3L2043.5,1516.8L2054.1,1431.0L2064.7,1504.5L2075.3,1500.0L2085.9,1456.6L2096.5,1538.4L2107.1,1426.2L2117.7,1459.9L2128.3,1442.1L2138.9,1393.0L2149.5,1407.4L2160.1,1363.1L2170.7,1396.0L2181.3,1399.8L2191.9,1405.3L2202.5,1372.8L2213.1,1368.9"/>
<path d="M315.8,2125.8L326.4,2206.4L337.0,2256.2L347.6,2260.9L358.2,2119.6L368.8,2204.3L379.4,2144.6L390.0,2124.8L400.6,2203.0L411.2,2150.5L421.8,2148.3L432.4,2203.8L443.0,2183.6L453.6,2216.2L464.2,2179.8L474.8,2116.7L485.4,2247.3L496.0,2202.2L506.6,2169.1L517.2,2170.1L527.8,2120.9L538.4,2195.2L549.0,2152.7L559.6,2162.9L570.2,2118.5L580.8,2125.2L591.4,2125.4L602.0,2270.5L612.6,2046.1L623.2,2185.0L633.8,2149.6L644.4,2199.8L655.0,2132.1L665.6,2120.4L676.2,2153.0L686.8,2192.8L697.4,2108.2L708.0,2167.9L718.6,2107.5L729.2,2032.8L739.8,2207.8L750.4,2145.7L761.0,2191.9L771.6,2132.7L782.2,2120.0L792.8,2087.3L803.4,2038.9L814.0,2193.1L824.6,2125.5L835.2,2156.3L845.8,2093.6L856.4,2139.9L867.0,2015.1L877.6,2156.5L888.2,2127.2L898.8,2200.8L909.4,2139.7L920.0,2107.7L930.6,2132.8L941.2,2136.5L951.8,2176.0L962.4,2049.5L973.0,2082.4L983.6,2148.8L994.2,2088.9L1004.8,2087.8L1015.4,2087.9L1026.0,2062.3L1036.6,2067.8L1047.2,2083.3L1057.8,2105.7L1068.4,2062.8L1079.0,2085.3L1089.6,2060.9L1100.2,2120.8L1110.8,2128.0L1121.4,2080.9L1132.0,2101.0L1142.6,2092.0L1153.2,2055.5L1163.8,2023.9L1174.4,2055.0L1185.0,2004.4L1195.6,2053.0L1206.2,2044.6L1216.8,2134.4L1227.4,2078.6L1238.0,2042.9L1248.6,2033.7L1259.1,1998.5L1269.7,2116.7L1280.3,2020.3L1290.9,1992.5L1301.5,1910.6L1312.1,2026.5L1322.7,2066.8L1333.3,1997.0L1343.9,2044.7L1354.5,1971.4L1365.1,2028.1L1375.7,2017.9L1386.3,1940.3L1396.9,2013.5L1407.5,2011.1L1418.1,1951.1L1428.7,1991.6L1439.3,2025.5L1449.9,1846.2L1460.5,1857.6L1471.1,1948.2L1481.7,1966.0L1492.3,1802.0L1502.9,1938.0L1513.5,2016.3L1524.1,1998.2L1534.7,1884.0L1545.3,1975.2L1555.9,1896.5L1566.5,2031.2L1577.1,1914.0L1587.7,1871.5L1598.3,1787.8L1608.9,1848.9L1619.5,1784.2L1630.1,1833.9L1640.7,1845.2L1651.3,1798.4L1661.9,1854.2L1672.5,1814.2L1683.1,1838.2L1693.7,1811.4L1704.3,1782.2L1714.9,1848.7L1725.5,1798.1L1736.1,1833.4L1746.7,1841.9L1757.3,1793.6L1767.9,1713.5L1778.5,1768.5L1789.1,1778.5L1799.7,1742.6L1810.3,1753.1L1820.9,1748.2L1831.5,1741.4L1842.1,1700.4L1852.7,1743.3L1863.3,1664.5L1873.9,1687.5L1884.5,1735.5L1895.1,1709.8L1905.7,1568.1L1916.3,1650.4L1926.9,1663.2L1937.5,1599.5L1948.1,1592.4L1958.7,1601.9L1969.3,1628.5L1979.9,1628.1L1990.5,1588.8L2001.1,1588.1L2011.7,1487.0L2022.3,1527.9L2032.9,1542.8L2043.5,1569.3L2054.1,1504.3L2064.7,1528.9L2075.3,1511.7L2085.9,1515.4L2096.5,1464.9L2107.1,1511.9L2117.7,1504.3L2128.3,1470.6L2138.9,1477.7L2149.5,1456.1L2160.1,1426.0L2170.7,1368.7L2181.3,1417.8L2191.9,1405.3L2202.5,1346.1L2213.1,1373.4"/>
<path d="M315.8,2141.9L326.4,2105.3L337.0,2120.0L347.6,2249.5L358.2,2054.7L368.8,2219.1L379.4,2146.3L390.0,2127.6L400.6,2143.6L411.2,2073.4L421.8,2156.2L432.4,2165.5L443.0,2168.6L453.6,2221.5L464.2,2137.0L474.8,2128.1L485.4,2197.1L496.0,2123.2L506.6,2133.8L517.2,2208.3L527.8,2188.3L538.4,2088.1L549.0,2186.9L559.6,2170.5L570.2,2189.8L580.8,2147.1L591.4,2123.9L602.0,2140.0L612.6,2090.1L623.2,2170.4L633.8,2186.4L644.4,2218.1L655.0,2116.5L665.6,2087.0L676.2,2081.4L686.8,2166.8L697.4,2153.6L708.0,2223.6L718.6,2108.8L729.2,2125.9L739.8,2101.2L750.4,2182.8L761.0,2055.6L771.6,2172.7L782.2,2161.8L792.8,2174.2L803.4,2151.2L814.0,2158.7L824.6,2146.8L835.2,2056.4L845.8,2203.4L856.4,2174.3L867.0,2163.5L877.6,2171.5L888.2,2066.6L898.8,2098.3L909.4,2102.0L920.0,2052.1L930.6,2121.2L941.2,2133.1L951.8,2206.2L962.4,2149.3L973.0,2191.4L983.6,2142.7L994.2,2134.8L1004.8,2139.8L1015.4,2114.9L1026.0,2133.2L1036.6,2111.8L1047.2,2035.5L1057.8,2121.9L1068.4,2133.3L1079.0,2114.2L1089.6,2105.9L1100.2,2111.2L1110.8,2130.2L1121.4,2071.5L1132.0,2081.3L1142.6,2085.7L1153.2,2019.9L1163.8,2094.6L1174.4,2063.2L1185.0,2028.5L1195.6,2079.2L1206.2,2026.6L1216.8,2034.1L1227.4,2001.4L1238.0,2047.6L1248.6,2108.4L1259.1,2034.6L1269.7,2005.8L1280.3,2035.7L1290.9,2047.2L1301.5,2096.8L1312.1,2033.7L1322.7,2015.4L1333.3,2046.0L1343.9,1986.4L1354.5,1992.1L1365.1,2044.8L1375.7,2075.3L1386.3,1954.5L1396.9,1962.1L1407.5,1985.2L1418.1,1960.0L1428.7,2010.0L1439.3,1970.3L1449.9,1959.2L1460.5,1964.0L1471.1,1964.0L1481.7,2004.1L1492.3,1983.2L1502.9,1948.2L1513.5,1914.0L1524.1,1938.3L1534.7,1993.3L1545.3,1949.6L1555.9,1872.9L1566.5,1913.4L1577.1,1748.5L1587.7,1900.7L1598.3,1799.5L1608.9,1871.7L1619.5,1858.0L1630.1,1908.8L1640.7,1836.2L1651.3,1831.5L1661.9,1832.2L1672.5,1837.6L1683.1,1791.8L1693.7,1818.2L1704.3,1831.1L1714.9,1835.5L1725.5,1815.0L1736.1,1868.2L1746.7,1782.1L1757.3,1793.3L1767.9,1803.9L1778.5,1774.0L1789.1,1791.0L1799.7,1826.8L1810.3,1709.9L1820.9,1682.8L1831.5,1740.5L1842.1,1786.2L1852.7,1642.1L1863.3,1705.8L1873.9,1725.1L1884.5,1650.8L1895.1,1655.9L1905.7,1596.8L1916.3,1669.6L1926.9,1665.9L1937.5,1658.4L1948.1,1593.8L1958.7,1632.5L1969.3,1572.0L1979.9,1621.1L1990.5,1628.0L2001.1,1597.0L2011.7,1574.4L2022.3,1519.1L2032.9,1543.2L2043.5,1528.3L2054.1,1549.0L2064.7,1530.8L2075.3,1504.5L2085.9,1451.5L2096.5,1453.3L2107.1,1453.9L2117.7,1501.5L2128.3,1449.0L2138.9,1366.1L2149.5,1441.9L2160.1,1412.6L2170.7,1416.5L2181.3,1350.2L2191.9,1374.5L2202.5,1439.6L2213.1,1363.7"/>
<path d="M315.8,2273.7L326.4,2213.6L337.0,2158.6L347.6,2195.4L358.2,2253.7L368.8,2165.1L379.4,2173.5L390.0,2220.6L400.6,2170.7L411.2,2231.7L421.8,2151.9L432.4,2162.5L443.0,2225.0L453.6,2213.7L464.2,2146.8L474.8,2188.7L485.4,2151.3L496.0,2219.0L506.6,2168.3L517.2,2134.3L527.8,2230.5L538.4,2220.9L549.0,2203.2L559.6,2154.6L570.2,2148.9L580.8,2137.0L591.4,2148.6L602.0,2202.9L612.6,2059.5L623.2,2181.7L633.8,2051.6L644.4,2193.9L655.0,2093.4L665.6,2129.9L676.2,2176.7L686.8,2168.6L697.4,2119.5L708.0,2212.5L718.6,2106.0L729.2,2218.9L739.8,2051.3L750.4,2069.6L761.0,2127.5L771.6,2110.5L782.2,2120.6L792.8,2144.3L803.4,2180.9L814.0,2075.1L824.6,2129.8L835.2,2151.4L845.8,2034.6L856.4,2103.0L867.0,2127.3L877.6,2098.0L888.2,2029.0L898.8,2068.5L909.4,2041.1L920.0,2109.2L930.6,2099.3L941.2,2113.6L951.8,2075.6L962.4,2147.7L973.0,2117.4L983.6,2127.2L994.2,1942.9L1004.8,2124.0L1015.4,2154.9L1026.0,2063.6L1036.6,2127.9L1047.2,2095.2L1057.8,2116.2L1068.4,2021.0L1079.0,2101.1L1089.6,2103.8L1100.2,2049.4L1110.8,2138.4L1121.4,2146.9L1132.0,2140.9L1142.6,2081.7L1153.2,2072.5L1163.8,2058.1L1174.4,2023.0L1185.0,2074.1L1195.6,1991.4L1206.2,2066.1L1216.8,2070.5L1227.4,2040.6L1238.0,1945.2L1248.6,2063.3L1259.1,2018.1L1269.7,2058.1L1280.3,1988.5L1290.9,2081.5L1301.5,2046.1L1312.1,1946.4L1322.7,1945.4L1333.3,2050.1L1343.9,1963.5L1354.5,1946.5L1365.1,2039.2L1375.7,1984.8L1386.3,2038.1L1396.9,1957.9L1407.5,1936.5L1418.1,1944.4L1428.7,1964.8L1439.3,1993.0L1449.9,1973.1L1460.5,1906.9L1471.1,1956.5L1481.7,1930.3L1492.3,2012.5L1502.9,1931.1L1513.5,1933.5L1524.1,1975.4L1534.7,1874.9L1545.3,1910.3L1555.9,1894.3L1566.5,1879.2L1577.1,1884.0L1587.7,1907.6L1598.3,1908.0L1608.9,1939.3L1619.5,1903.8L1630.1,1910.8L1640.7,1976.7L1651.3,1862.3L1661.9,1828.5L1672.5,1757.3L1683.1,1824.4L1693.7,1869.3L1704.3,1812.2L1714.9,1793.6L1725.5,1787.3L1736.1,1775.5L1746.7,1785.3L1757.3,1828.6L1767.9,1778.9L1778.5,1834.4L1789.1,1721.7L1799.7,1748.2L1810.3,1723.5L1820.9,1769.2L1831.5,1711.4L1842.1,1717.7L1852.7,1744.6L1863.3,1687.6L1873.9,1687.2L1884.5,1695.7L1895.1,1697.3L1905.7,1673.3L1916.3,1635.7L1926.9,1608.6L1937.5,1615.4L1948.1,1633.1L1958.7,1583.0L1969.3,1615.6L1979.9,1639.0L1990.5,1545.8L2001.1,1604.5L2011.7,1466.7L2022.3,1509.7L2032.9,1560.6L2043.5,1430.2L2054.1,1530.9L2064.7,1488.6L2075.3,1530.9L2085.9,1515.8L2096.5,1499.0L2107.1,1512.9L2117.7,1471.6L2128.3,1410.5L2138.9,1469.9L2149.5,1297.4L2160.1,1430.3L2170.7,1399.0L2181.3,1444.3L2191.9,1363.2L2202.5,1419.4L2213.1,1424.9"/>
<path d="M315.8,2226.4L326.4,2175.4L337.0,2159.2L347.6,2244.7L358.2,2129.1L368.8,2114.0L379.4,2180.2L390.0,2141.8L400.6,2140.1L411.2,2222.6L421.8,2112.6L432.4,2219.2L443.0,2251.7L453.6,2320.0L464.2,2154.9L474.8,2210.1L485.4,2132.9L496.0,2220.2L506.6,2101.5L517.2,2091.6L527.8,2084.7L538.4,2070.5L549.0,2040.7L559.6,2112.6L570.2,2152.2L580.8,2129.0L591.4,2152.6L602.0,2256.8L612.6,2187.3L623.2,2125.3L633.8,2101.7L644.4,2123.5L655.0,2070.5L665.6,2158.0L676.2,2097.9L686.8,2188.9L697.4,2146.7L708.0,2137.1L718.6,2054.8L729.2,2216.5L739.8,2125.8L750.4,2176.6L761.0,2155.8L771.6,1949.1L782.2,2198.8L792.8,2118.0L803.4,2156.2L814.0,2075.1L824.6,2151.3L835.2,2117.0L845.8,2224.2L856.4,2106.8L867.0,2127.4L877.6,2151.4L888.2,2104.7L898.8,2111.1L909.4,2159.1L920.0,2075.0L930.6,2146.8L941.2,2025.2L951.8,2088.1L962.4,2134.4L973.0,2122.0L983.6,2175.5L994.2,2037.4L1004.8,2157.2L1015.4,2120.1L1026.0,1938.4L1036.6,2064.0L1047.2,2064.7L1057.8,2043.6L1068.4,2088.0L1079.0,2052.0L1089.6,2170.5L1100.2,1964.3L1110.8,2039.5L1121.4,2126.8L1132.0,2051.6L1142.6,2103.1L1153.2,2103.5L1163.8,2090.8L1174.4,2074.3L1185.0,2124.2L1195.6,2048.1L1206.2,2079.1L1216.8,2092.2L1227.4,2044.0L1238.0,2033.2L1248.6,2044.4L1259.1,2071.7L1269.7,1986.8L1280.3,1930.5L1290.9,2110.8L1301.5,1991.8L1312.1,2012.4L1322.7,1984.8L1333.3,2048.7L1343.9,1945.3L1354.5,2022.2L1365.1,1994.7L1375.7,1912.4L1386.3,1874.5L1396.9,1972.0L1407.5,2004.5L1418.1,2012.0L1428.7,1997.9L1439.3,2009.5L1449.9,2039.6L1460.5,1946.2L1471.1,1946.5L1481.7,1941.3L1492.3,1875.0L1502.9,1962.1L1513.5,1918.8L1524.1,1909.3L1534.7,1907.3L1545.3,1886.4L1555.9,1889.9L1566.5,1950.3L1577.1,1897.1L1587.7,1841.8L1598.3,1857.6L1608.9,1904.6L1619.5,1847.7L1630.1,1830.1L1640.7,1954.9L1651.3,1804.8L1661.9,1861.6L1672.5,1830.3L1683.1,1775.2L1693.7,1821.0L1704.3,1843.3L1714.9,1859.1L1725.5,1878.7L1736.1,1831.5L1746.7,1756.0L1757.3,1802.2L1767.9,1807.9L1778.5,1799.8L1789.1,1793.8L1799.7,1754.6L1810.3,1614.6L1820.9,1733.5L1831.5,1718.1L1842.1,1678.0L1852.7,1675.4L1863.3,1729.0L1873.9,1645.7L1884.5,1680.3L1895.1,1619.6L1905.7,1702.5L1916.3,1663.2L1926.9,1668.4L1937.5,1630.1L1948.1,1563.2L1958.7,1539.3L1969.3,1605.3L1979.9,1496.7L1990.5,1579.2L2001.1,1593.5L2011.7,1540.1L2022.3,1509.7L2032.9,1493.0L2043.5,1445.2L2054.1,1615.4L2064.7,1554.3L2075.3,1497.7L2085.9,1513.3L2096.5,1486.0L2107.1,1498.8L2117.7,1418.0L2128.3,1505.3L2138.9,1403.8L2149.5,1430.8L2160.1,1412.9L2170.7,1403.9L2181.3,1395.7L2191.9,1362.5L2202.5,1290.1L2213.1,1366.1"/>
<path d="M315.8,2179.3L326.4,2113.3L337.0,2197.5L347.6,2169.6L358.2,2203.8L368.8,2201.8L379.4,2131.0L390.0,2291.7L400.6,2174.6L411.2,2100.4L421.8,2162.5L432.4,2283.6L443.0,2154.1L453.6,2117.5L464.2,2222.2L474.8,2179.8L485.4,2156.2L496.0,2163.2L506.6,2076.3L517.2,2142.1L527.8,2219.6L538.4,2207.1L549.0,2170.8L559.6,2075.7L570.2,2088.1L580.8,2086.2L591.4,2172.8L602.0,2163.5L612.6,2151.7L623.2,2150.5L633.8,2031.8L644.4,2136.9L655.0,2093.3L665.6,2188.8L676.2,2068.7L686.8,2035.0L697.4,2280.1L708.0,2201.0L718.6,2121.2L729.2,2185.5L739.8,2126.4L750.4,2198.1L761.0,2036.1L771.6,2199.4L782.2,2100.3L792.8,2160.7L803.4,2127.5L814.0,2023.7L824.6,2113.7L835.2,2135.4L845.8,2111.9L856.4,2081.2L867.0,2135.1L877.6,2216.2L888.2,2086.7L898.8,2073.2L909.4,2208.7L920.0,2159.9L930.6,2124.9L941.2,2135.9L951.8,2092.6L962.4,2062.6L973.0,2163.4L983.6,2089.9L994.2,2024.6L1004.8,2189.1L1015.4,2097.7L1026.0,2122.7L1036.6,2124.9L1047.2,1997.9L1057.8,2096.8L1068.4,2086.1L1079.0,2094.1L1089.6,2035.1L1100.2,2129.9L1110.8,2112.6L1121.4,2092.1L1132.0,2081.5L1142.6,2004.0L1153.2,2018.1L1163.8,2106.4L1174.4,2080.1L1185.0,2063.2L1195.6,1991.5L1206.2,2032.4L1216.8,2050.9L1227.4,2062.9L1238.0,2070.7L1248.6,2091.8L1259.1,2026.1L1269.7,2091.2L1280.3,2032.7L1290.9,2035.6L1301.5,1983.7L1312.1,1965.4L1322.7,2025.7L1333.3,2064.0L1343.9,1935.7L1354.5,2007.7L1365.1,2009.9L1375.7,1988.6L1386.3,2074.7L1396.9,1927.9L1407.5,2009.6L1418.1,1940.8L1428.7,1989.2L1439.3,1964.7L1449.9,1929.4L1460.5,1944.9L1471.1,1941.1L1481.7,1957.3L1492.3,1921.7L1502.9,1947.7L1513.5,1897.7L1524.1,1932.9L1534.7,1938.9L1545.3,1929.3L1555.9,1902.9L1566.5,1908.1L1577.1,1920.7L1587.7,1924.8L1598.3,1862.5L1608.9,1925.2L1619.5,1900.9L1630.1,1944.4L1640.7,1877.4L1651.3,1817.9L1661.9,1823.7L1672.5,1824.5L1683.1,1740.3L1693.7,1888.9L1704.3,1840.7L1714.9,1764.9L1725.5,1803.0L1736.1,1726.3L1746.7,1787.9L1757.3,1815.5L1767.9,1773.9L1778.5,1777.4L1789.1,1776.0L1799.7,1777.7L1810.3,1784.4L1820.9,1666.4L1831.5,1660.0L1842.1,1705.0L1852.7,1627.8L1863.3,1682.9L1873.9,1718.3L1884.5,1718.3L1895.1,1581.8L1905.7,1676.9L1916.3,1727.6L1926.9,1695.9L1937.5,1668.0L1948.1,1682.4L1958.7,1616.4L1969.3,1624.4L1979.9,1591.6L1990.5,1584.5L2001.1,1526.6L2011.7,1616.9L2022.3,1571.3L2032.9,1646.5L2043.5,1519.1L2054.1,1554.8L2064.7,1497.3L2075.3,1495.2L2085.9,1456.3L2096.5,1422.7L2107.1,1505.4L2117.7,1450.0L2128.3,1441.9L2138.9,1478.7L2149.5,1438.0L2160.1,1432.6L2170.7,1398.3L2181.3,1448.3L2191.9,1343.7L2202.5,1385.2L2213.1,1365.8"/>
<path d="M315.8,2251.3L326.4,2261.3L337.0,2175.3L347.6,2240.4L358.2,2291.0L368.8,2119.0L379.4,2180.5L390.0,2073.4L400.6,2137.6L411.2,2132.4L421.8,2196.8L432.4,2170.4L443.0,2078.2L453.6,2254.7L464.2,2132.9L474.8,2246.5L485.4,2184.5L496.0,2172.4L506.6,2149.7L517.2,2091.6L527.8,2201.7L538.4,2167.9L549.0,2181.1L559.6,2041.4L570.2,2061.2L580.8,2205.2L591.4,2182.2L602.0,2141.9L612.6,2157.8L623.2,2130.3L633.8,2125.8L644.4,2154.5L655.0,2158.0L665.6,2078.2L676.2,2159.8L686.8,2174.0L697.4,2139.9L708.0,2057.2L718.6,2065.0L729.2,2138.8L739.8,2099.4L750.4,2205.6L761.0,2100.8L771.6,2043.9L782.2,2166.7L792.8,2119.2L803.4,2171.5L814.0,2116.5L824.6,1973.7L835.2,2167.6L845.8,2148.9L856.4,2110.2L867.0,2094.6L877.6,2175.9L888.2,2146.5L898.8,2116.8L909.4,2140.2L920.0,2096.9L930.6,2073.4L941.2,2078.8L951.8,2113.5L962.4,2130.5L973.0,2062.1L983.6,2119.6L994.2,2138.1L1004.8,2120.2L1015.4,2162.2L1026.0,2100.7L1036.6,2101.8L1047.2,2051.1L1057.8,2019.4L1068.4,2058.0L1079.0,2133.2L1089.6,2053.0L1100.2,2092.1L1110.8,2086.7L1121.4,2122.9L1132.0,2021.8L1142.6,2056.8L1153.2,2117.4L1163.8,2092.5L1174.4,2140.9L1185.0,2082.3L1195.6,2155.8L1206.2,1907.5L1216.8,1984.3L1227.4,1995.9L1238.0,2071.2L1248.6,2023.2L1259.1,2042.7L1269.7,2025.4L1280.3,2085.4L1290.9,2090.0L1301.5,1994.1L1312.1,2036.8L1322.7,1985.7L1333.3,1952.7L1343.9,1998.2L1354.5,1981.9L1365.1,1969.8L1375.7,2036.3L1386.3,2054.1L1396.9,1981.3L1407.5,1942.8L1418.1,2005.0L1428.7,1954.1L1439.3,1990.7L1449.9,1938.6L1460.5,1912.6L1471.1,1897.7L1481.7,2009.1L1492.3,1898.7L1502.9,1913.4L1513.5,1817.5L1524.1,1988.8L1534.7,1828.5L1545.3,1921.6L1555.9,1948.6L1566.5,1902.8L1577.1,1954.0L1587.7,1888.7L1598.3,1926.4L1608.9,1884.1L1619.5,1882.5L1630.1,1806.8L1640.7,1891.9L1651.3,1821.2L1661.9,1853.0L1672.5,1824.3L1683.1,1811.2L1693.7,1813.0L1704.3,1798.4L1714.9,1874.7L1725.5,1771.1L1736.1,1798.0L1746.7,1721.2L1757.3,1830.0L1767.9,1672.5L1778.5,1754.3L1789.1,1758.0L1799.7,1780.3L1810.3,1685.2L1820.9,1724.0L1831.5,1759.3L1842.1,1693.7L1852.7,1707.7L1863.3,1652.7L1873.9,1694.5L1884.5,1710.0L1895.1,1672.3L1905.7,1633.3L1916.3,1639.2L1926.9,1640.7L1937.5,1581.2L1948.1,1619.1L1958.7,1570.1L1969.3,1563.2L1979.9,1565.9L1990.5,1527.3L2001.1,1590.6L2011.7,1555.3L2022.3,1593.2L2032.9,1559.3L2043.5,1542.0L2054.1,1554.0L2064.7,1454.0L2075.3,1512.0L2085.9,1505.2L2096.5,1529.2L2107.1,1490.4L2117.7,1452.0L2128.3,1426.2L2138.9,1457.8L2149.5,1469.7L2160.1,1339.4L2170.7,1373.5L2181.3,1360.0L2191.9,1342.1L2202.5,1357.2L2213.1,1408.3"/>
<path d="M315.8,2217.9L326.4,2116.5L337.0,2110.6L347.6,2244.3L358.2,2201.0L368.8,2167.6L379.4,2162.6L390.0,2149.5L400.6,2116.6L411.2,2138.9L421.8,2110.8L432.4,2198.7L443.0,2171.0L453.6,2187.1L464.2,2199.6L474.8,2093.3L485.4,2278.4L496.0,2193.6L506.6,2171.4L517.2,2187.2L527.8,2208.9L538.4,2170.7L549.0,2105.5L559.6,2105.6L570.2,2170.3L580.8,2119.7L591.4,2152.7L602.0,2132.4L612.6,2117.0L623.2,2143.8L633.8,2109.6L644.4,2137.6L655.0,2053.9L665.6,2168.6L676.2,2073.5L686.8,2250.2L697.4,2125.2L708.0,2101.0L718.6,2126.4L729.2,2043.0L739.8,2133.0L750.4,2098.7L761.0,2226.8L771.6,2167.9L782.2,2111.0L792.8,2142.5L803.4,2189.5L814.0,2220.9L824.6,2108.8L835.2,2109.8L845.8,2093.9L856.4,1996.4L867.0,2154.3L877.6,2171.5L888.2,2174.5L898.8,2075.7L909.4,2063.9L920.0,2087.0L930.6,2087.8L941.2,2153.7L951.8,2100.7L962.4,2075.6L973.0,2171.5L983.6,2098.2L994.2,2147.0L1004.8,2173.6L1015.4,2040.2L1026.0,2111.4L1036.6,2124.4L1047.2,2095.5L1057.8,2070.4L1068.4,1973.6L1079.0,2042.8L1089.6,2094.5L1100.2,2056.9L1110.8,2047.3L1121.4,2064.3L1132.0,2116.2L1142.6,2105.9L1153.2,2119.5L1163.8,2080.8L1174.4,2044.2L1185.0,2026.0L1195.6,2027.0L1206.2,2055.7L1216.8,2104.8L1227.4,2098.2L1238.0,2046.1L1248.6,2039.6L1259.1,2026.1L1269.7,2075.6L1280.3,2019.4L1290.9,2012.0L1301.5,2046.3L1312.1,2039.1L1322.7,2056.6L1333.3,1949.3L1343.9,2000.9L1354.5,1991.4L1365.1,1989.7L1375.7,1977.9L1386.3,1992.2L1396.9,1986.2L1407.5,1951.6L1418.1,1995.2L1428.7,1972.2L1439.3,1912.8L1449.9,1934.1L1460.5,1939.0L1471.1,1854.7L1481.7,1930.4L1492.3,1887.1L1502.9,1938.9L1513.5,1887.0L1524.1,1928.0L1534.7,1903.7L1545.3,1921.7L1555.9,1884.3L1566.5,1953.1L1577.1,1896.8L1587.7,1930.7L1598.3,1899.4L1608.9,1902.0L1619.5,1822.5L1630.1,1862.0L1640.7,1811.8L1651.3,1895.1L1661.9,1838.7L1672.5,1881.5L1683.1,1821.6L1693.7,1845.0L1704.3,1830.9L1714.9,1852.2L1725.5,1858.2L1736.1,1818.5L1746.7,1764.1L1757.3,1808.7L1767.9,1787.6L1778.5,1761.9L1789.1,1796.0L1799.7,1728.1L1810.3,1748.8L1820.9,1710.1L1831.5,1767.0L1842.1,1698.7L1852.7,1716.7L1863.3,1686.2L1873.9,1609.7L1884.5,1596.9L1895.1,1684.2L1905.7,1656.4L1916.3,1640.6L1926.9,1656.6L1937.5,1645.5L1948.1,1639.0L1958.7,1604.4L1969.3,1583.9L1979.9,1619.0L1990.5,1560.5L2001.1,1524.9L2011.7,1579.4L2022.3,1524.6L2032.9,1540.2L2043.5,1550.8L2054.1,1497.6L2064.7,1540.2L2075.3,1495.0L2085.9,1524.5L2096.5,1393.8L2107.1,1495.7L2117.7,1454.6L2128.3,1473.4L2138.9,1515.2L2149.5,1513.3L2160.1,1423.0L2170.7,1438.3L2181.3,1375.5L2191.9,1365.8L2202.5,1450.8L2213.1,1363.8"/>
<path d="M315.8,2147.4L326.4,2178.4L337.0,2231.7L347.6,2205.6L358.2,2123.5L368.8,2144.8L379.4,2124.9L390.0,2164.2L400.6,2122.4L411.2,2220.4L421.8,2171.4L432.4,2133.8L443.0,2257.3L453.6,2194.6L464.2,2239.5L474.8,2097.5L485.4,2128.2L496.0,2097.4L506.6,2229.4L517.2,2218.1L527.8,2121.5L538.4,2132.3L549.0,2157.0L559.6,2047.4L570.2,2131.6L580.8,2147.1L591.4,2200.7L602.0,2129.4L612.6,2071.8L623.2,2085.5L633.8,2159.4L644.4,2089.7L655.0,2006.0L665.6,2109.5L676.2,2166.1L686.8,2067.2L697.4,2220.9L708.0,2151.3L718.6,2173.3L729.2,2125.0L739.8,2188.1L750.4,2095.6L761.0,2084.3L771.6,2180.8L782.2,2152.6L792.8,2037.6L803.4,2125.2L814.0,2106.2L824.6,2078.6L835.2,2072.6L845.8,2124.8L856.4,2112.2L867.0,2175.3L877.6,2157.9L888.2,2092.0L898.8,2109.6L909.4,2090.1L920.0,2057.4L930.6,2110.6L941.2,2141.5L951.8,2120.7L962.4,2161.8L973.0,2167.1L983.6,2076.7L994.2,2166.6L1004.8,2069.1L1015.4,2104.4L1026.0,2069.8L1036.6,2132.7L1047.2,2125.5L1057.8,2064.3L1068.4,2112.7L1079.0,2144.5L1089.6,2051.6L1100.2,2174.2L1110.8,2080.9L1121.4,2076.5L1132.0,2148.6L1142.6,2061.8L1153.2,2055.0L1163.8,1969.4L1174.4,2126.4L1185.0,2038.5L1195.6,2025.2L1206.2,2111.6L1216.8,2035.9L1227.4,2018.1L1238.0,2058.2L1248.6,1967.8L1259.1,2016.2L1269.7,2084.7L1280.3,2033.1L1290.9,2024.1L1301.5,2026.2L1312.1,2120.4L1322.7,2017.9L1333.3,2029.8L1343.9,1984.7L1354.5,2005.8L1365.1,2010.0L1375.7,1970.1L1386.3,1969.5L1396.9,2017.5L1407.5,1970.9L1418.1,2034.9L1428.7,1983.0L1439.3,1855.6L1449.9,1949.7L1460.5,1925.2L1471.1,1949.2L1481.7,1914.5L1492.3,1931.6L1502.9,1891.6L1513.5,1972.6L1524.1,1942.8L1534.7,1906.6L1545.3,1921.3L1555.9,1909.3L1566.5,1896.2L1577.1,1918.9L1587.7,1947.5L1598.3,1921.4L1608.9,1865.2L1619.5,1879.2L1630.1,1900.3L1640.7,1869.6L1651.3,1862.3L1661.9,1895.4L1672.5,1888.5L1683.1,1821.2L1693.7,1822.3L1704.3,1861.8L1714.9,1785.8L1725.5,1841.4L1736.1,1755.4L1746.7,1820.2L1757.3,1770.6L1767.9,1817.6L1778.5,1802.8L1789.1,1781.2L1799.7,1758.7L1810.3,1727.5L1820.9,1751.9L1831.5,1702.2L1842.1,1719.9L1852.7,1725.3L1863.3,1688.6L1873.9,1683.6L1884.5,1644.9L1895.1,1680.1L1905.7,1731.0L1916.3,1673.3L1926.9,1575.2L1937.5,1652.0L1948.1,1613.5L1958.7,1582.5L1969.3,1558.7L1979.9,1569.4L1990.5,1546.1L2001.1,1625.8L2011.7,1603.6L2022.3,1619.5L2032.9,1540.8L2043.5,1513.0L2054.1,1534.4L2064.7,1509.5L2075.3,1504.8L2085.9,1570.8L2096.5,1451.3L2107.1,1432.7L2117.7,1442.8L2128.3,1474.9L2138.9,1437.3L2149.5,1410.7L2160.1,1441.8L2170.7,1506.8L2181.3,1464.7L2191.9,1369.7L2202.5,1333.3L2213.1,1348.0"/>
<path d="M315.8,2208.1L326.4,2208.4L337.0,2261.5L347.6,2223.5L358.2,2187.2L368.8,2194.1L379.4,2081.8L390.0,2123.5L400.6,2149.8L411.2,2161.8L421.8,2182.3L432.4,2258.0L443.0,2169.7L453.6,2209.8L464.2,2011.3L474.8,2161.5L485.4,2222.5L496.0,2215.4L506.6,2085.2L517.2,2180.6L527.8,2172.4L538.4,2196.9L549.0,2101.3L559.6,2104.5L570.2,2169.9L580.8,2173.7L591.4,2166.6L602.0,2154.4L612.6,2141.1L623.2,2232.3L633.8,2165.9L644.4,2145.8L655.0,2103.4L665.6,2136.4L676.2,2107.1L686.8,2179.6L697.4,2127.0L708.0,2193.4L718.6,2129.6L729.2,2106.6L739.8,2163.7L750.4,2201.3L761.0,2075.2L771.6,2181.1L782.2,2053.9L792.8,2178.3L803.4,2146.2L814.0,2159.9L824.6,2108.3L835.2,2186.9L845.8,2078.6L856.4,2099.2L867.0,2142.2L877.6,2087.8L888.2,2121.5L898.8,2061.1L909.4,2091.9L920.0,2182.6L930.6,2131.1L941.2,2115.5L951.8,2077.6L962.4,2157.4L973.0,2131.8L983.6,2092.8L994.2,2144.7L1004.8,2188.3L1015.4,2151.3L1026.0,2095.7L1036.6,2074.9L1047.2,2157.8L1057.8,2078.3L1068.4,2025.4L1079.0,2182.4L1089.6,2052.1L1100.2,2058.3L1110.8,2064.5L1121.4,2038.8L1132.0,2061.2L1142.6,2085.9L1153.2,1987.5L1163.8,2101.8L1174.4,2091.7L1185.0,1954.9L1195.6,2038.5L1206.2,2060.6L1216.8,2048.9L1227.4,2030.7L1238.0,2041.7L1248.6,2004.6L1259.1,1983.6L1269.7,2025.8L1280.3,2031.7L1290.9,2003.5L1301.5,2025.7L1312.1,2066.2L1322.7,2060.5L1333.3,1979.2L1343.9,1976.9L1354.5,1955.9L1365.1,1991.2L1375.7,1970.9L1386.3,1992.8L1396.9,1967.8L1407.5,1964.4L1418.1,2004.0L1428.7,1970.8L1439.3,1957.5L1449.9,1779.4L1460.5,1934.4L1471.1,2051.0L1481.7,1920.7L1492.3,1947.0L1502.9,1866.6L1513.5,1982.4L1524.1,1911.1L1534.7,1929.3L1545.3,1882.8L1555.9,1945.8L1566.5,1903.2L1577.1,1878.7L1587.7,1897.7L1598.3,1855.5L1608.9,1803.8L1619.5,1900.0L1630.1,1849.7L1640.7,1839.8L1651.3,1802.2L1661.9,1823.7L1672.5,1862.0L1683.1,1830.7L1693.7,1773.9L1704.3,1863.0L1714.9,1786.2L1725.5,1794.9L1736.1,1835.5L1746.7,1834.3L1757.3,1781.1L1767.9,1756.2L1778.5,1755.8L1789.1,1799.8L1799.7,1760.1L1810.3,1769.0L1820.9,1698.4L1831.5,1746.1L1842.1,1660.3L1852.7,1657.2L1863.3,1706.5L1873.9,1732.0L1884.5,1658.3L1895.1,1652.8L1905.7,1643.2L1916.3,1726.9L1926.9,1653.9L1937.5,1616.9L1948.1,1616.5L1958.7,1607.4L1969.3,1629.3L1979.9,1644.0L1990.5,1625.1L2001.1,1567.8L2011.7,1576.6L2022.3,1582.1L2032.9,1527.4L2043.5,1546.9L2054.1,1469.8L2064.7,1498.7L2075.3,1402.1L2085.9,1538.7L2096.5,1443.4L2107.1,1467.5L2117.7,1476.0L2128.3,1483.9L2138.9,1385.2L2149.5,1306.1L2160.1,1392.7L2170.7,1444.6L2181.3,1416.0L2191.9,1444.8L2202.5,1356.1L2213.1,1333.6"/>
<path d="M315.8,2128.0L326.4,2242.8L337.0,2209.0L347.6,2202.5L358.2,2179.2L368.8,2126.0L379.4,2143.7L390.0,2175.9L400.6,2198.0L411.2,2095.3L421.8,2126.6L432.4,2106.4L443.0,2186.4L453.6,2115.1L464.2,2092.2L474.8,2182.9L485.4,2072.7L496.0,2212.9L506.6,2215.6L517.2,2104.4L527.8,2126.2L538.4,1989.6L549.0,2179.8L559.6,2163.2L570.2,2154.7L580.8,2205.3L591.4,2074.3L602.0,2117.8L612.6,2099.1L623.2,2169.6L633.8,2231.9L644.4,2203.1L655.0,2144.0L665.6,2247.5L676.2,2210.8L686.8,2153.7L697.4,2173.5L708.0,2194.6L718.6,2117.0L729.2,2132.2L739.8,2096.4L750.4,2146.0L761.0,2223.9L771.6,2184.6L782.2,2165.0L792.8,2083.0L803.4,2098.8L814.0,2114.5L824.6,2074.4L835.2,2171.1L845.8,2110.4L856.4,2095.7L867.0,2119.5L877.6,2134.9L888.2,2201.5L898.8,2064.1L909.4,2113.5L920.0,2089.7L930.6,2098.4L941.2,2141.2L951.8,2147.4L962.4,2137.6L973.0,2126.9L983.6,2113.8L994.2,2033.7L1004.8,2097.6L1015.4,2168.0L1026.0,2138.9L1036.6,2064.1L1047.2,2165.7L1057.8,2030.4L1068.4,2118.3L1079.0,2102.8L1089.6,2000.8L1100.2,2129.9L1110.8,2093.7L1121.4,2035.5L1132.0,2045.6L1142.6,2139.3L1153.2,2156.3L1163.8,2058.3L1174.4,2011.2L1185.0,2052.1L1195.6,2107.3L1206.2,2089.2L1216.8,2130.0L1227.4,2016.0L1238.0,1862.2L1248.6,2057.2L1259.1,2016.2L1269.7,2120.2L1280.3,2099.0L1290.9,2072.5L1301.5,2025.5L1312.1,2020.1L1322.7,2016.1L1333.3,2051.0L1343.9,1983.3L1354.5,1943.4L1365.1,1969.3L1375.7,1959.2L1386.3,2048.6L1396.9,2048.6L1407.5,1900.0L1418.1,1852.9L1428.7,1967.8L1439.3,1932.0L1449.9,2024.5L1460.5,1968.7L1471.1,1991.4L1481.7,1969.1L1492.3,1963.1L1502.9,1935.2L1513.5,1888.0L1524.1,1958.5L1534.7,1963.3L1545.3,1864.7L1555.9,1836.3L1566.5,1966.7L1577.1,1913.2L1587.7,1900.8L1598.3,1860.7L1608.9,1939.1L1619.5,1833.2L1630.1,1957.2L1640.7,1904.4L1651.3,1929.2L1661.9,1904.5L1672.5,1885.5L1683.1,1826.6L1693.7,1853.4L1704.3,1775.3L1714.9,1839.8L1725.5,1862.9L1736.1,1785.5L1746.7,1874.7L1757.3,1815.8L1767.9,1799.5L1778.5,1742.2L1789.1,1700.0L1799.7,1774.6L1810.3,1754.1L1820.9,1663.6L1831.5,1782.4L1842.1,1672.3L1852.7,1666.2L1863.3,1612.5L1873.9,1688.4L1884.5,1668.8L1895.1,1662.2L1905.7,1664.5L1916.3,1628.0L1926.9,1663.3L1937.5,1668.4L1948.1,1600.7L1958.7,1607.7L1969.3,1593.3L1979.9,1585.1L1990.5,1637.4L2001.1,1524.7L2011.7,1540.7L2022.3,1540.6L2032.9,1506.5L2043.5,1519.9L2054.1,1575.4L2064.7,1530.5L2075.3,1489.1L2085.9,1464.4L2096.5,1471.8L2107.1,1485.1L2117.7,1395.0L2128.3,1453.3L2138.9,1384.0L2149.5,1459.2L2160.1,1447.0L2170.7,1402.5L2181.3,1427.7L2191.9,1382.8L2202.5,1398.2L2213.1,1353.4"/>
<path d="M315.8,2186.9L326.4,2191.5L337.0,2130.5L347.6,2097.8L358.2,2233.9L368.8,2154.9L379.4,2173.8L390.0,2192.6L400.6,2149.9L411.2,2191.6L421.8,2144.9L432.4,2145.8L443.0,2218.3L453.6,2077.1L464.2,1968.2L474.8,2151.8L485.4,2183.0L496.0,2153.9L506.6,2103.2L517.2,2110.4L527.8,2138.1L538.4,2155.1L549.0,2117.0L559.6,2035.7L570.2,2029.2L580.8,2122.1L591.4,2191.6L602.0,2252.8L612.6,2150.7L623.2,2131.9L633.8,2107.4L644.4,2122.0L655.0,2152.0L665.6,2154.9L676.2,2142.6L686.8,2140.8L697.4,2186.3L708.0,2083.9L718.6,2099.4L729.2,2131.6L739.8,2082.5L750.4,2208.6L761.0,2055.0L771.6,2213.1L782.2,2165.8L792.8,2150.2L803.4,2137.2L814.0,2037.6L824.6,2187.0L835.2,2121.3L845.8,2129.4L856.4,2128.6L867.0,2188.4L877.6,2127.5L888.2,2156.6L898.8,2156.9L909.4,2121.0L920.0,2099.5L930.6,2121.6L941.2,2122.4L951.8,2112.5L962.4,2053.7L973.0,2097.7L983.6,2094.4L994.2,2087.7L1004.8,2129.2L1015.4,2082.7L1026.0,2099.5L1036.6,2155.5L1047.2,2069.0L1057.8,2044.4L1068.4,1996.0L1079.0,2083.0L1089.6,2010.8L1100.2,2060.8L1110.8,2018.3L1121.4,2039.2L1132.0,2022.5L1142.6,2062.6L1153.2,2140.7L1163.8,2119.7L1174.4,2042.0L1185.0,2034.8L1195.6,2055.3L1206.2,2054.8L1216.8,2086.6L1227.4,2089.6L1238.0,2007.7L1248.6,1997.3L1259.1,2071.0L1269.7,2095.7L1280.3,2029.1L1290.9,2044.7L1301.5,2025.6L1312.1,1985.3L1322.7,1900.7L1333.3,2081.6L1343.9,2009.3L1354.5,1978.8L1365.1,2051.8L1375.7,2003.4L1386.3,1996.9L1396.9,1960.3L1407.5,2015.0L1418.1,1930.8L1428.7,1972.9L1439.3,1951.5L1449.9,1985.1L1460.5,1975.6L1471.1,2006.6L1481.7,1984.8L1492.3,1963.8L1502.9,2021.4L1513.5,1926.7L1524.1,1909.4L1534.7,1949.0L1545.3,1971.9L1555.9,1865.1L1566.5,1939.4L1577.1,1915.4L1587.7,1886.4L1598.3,1870.0L1608.9,1796.9L1619.5,1860.0L1630.1,1839.0L1640.7,1862.1L1651.3,1820.4L1661.9,1834.5L1672.5,1842.4L1683.1,1834.6L1693.7,1883.1L1704.3,1857.0L1714.9,1877.8L1725.5,1825.6L1736.1,1820.2L1746.7,1783.9L1757.3,1792.0L1767.9,1769.5L1778.5,1772.6L1789.1,1805.3L1799.7,1756.5L1810.3,1769.1L1820.9,1706.4L1831.5,1659.4L1842.1,1762.8L1852.7,1669.7L1863.3,1698.2L1873.9,1728.9L1884.5,1732.3L1895.1,1645.4L1905.7,1602.3L1916.3,1692.4L1926.9,1603.3L1937.5,1663.8L1948.1,1581.4L1958.7,1630.6L1969.3,1593.2L1979.9,1568.9L1990.5,1606.6L2001.1,1568.0L2011.7,1552.4L2022.3,1531.4L2032.9,1548.5L2043.5,1582.4L2054.1,1575.7L2064.7,1518.8L2075.3,1523.4L2085.9,1506.9L2096.5,1445.4L2107.1,1532.2L2117.7,1467.9L2128.3,1451.6L2138.9,1453.6L2149.5,1486.7L2160.1,1457.9L2170.7,1408.6L2181.3,1374.5L2191.9,1422.0L2202.5,1416.3L2213.1,1387.8"/>
<path d="M315.8,2176.6L326.4,2198.8L337.0,2122.5L347.6,2214.9L358.2,2163.5L368.8,2218.0L379.4,2254.4L390.0,2262.8L400.6,2141.3L411.2,2117.2L421.8,2126.5L432.4,2153.9L443.0,2223.4L453.6,2209.1L464.2,2179.0L474.8,2156.8L485.4,2145.4L496.0,2190.4L506.6,2196.6L517.2,2152.0L527.8,2137.0L538.4,2196.3L549.0,2176.2L559.6,2159.5L570.2,2119.1L580.8,2124.9L591.4,2138.1L602.0,2146.1L612.6,2083.8L623.2,2243.8L633.8,2162.8L644.4,2075.0L655.0,2169.0L665.6,2135.2L676.2,2115.1L686.8,2111.4L697.4,2161.2L708.0,2203.2L718.6,2131.8L729.2,2088.8L739.8,2046.6L750.4,2186.2L761.0,2065.3L771.6,2250.9L782.2,2029.1L792.8,2143.4L803.4,2152.7L814.0,2105.4L824.6,2036.5L835.2,2146.5L845.8,2054.8L856.4,2135.6L867.0,2116.5L877.6,2101.6L888.2,2132.3L898.8,2144.0L909.4,2106.2L920.0,2063.4L930.6,2141.1L941.2,2057.5L951.8,2057.5L962.4,2161.2L973.0,2125.7L983.6,2110.3L994.2,2070.8L1004.8,2065.1L1015.4,2140.0L1026.0,2021.7L1036.6,2057.4L1047.2,2132.9L1057.8,2107.3L1068.4,2074.9L1079.0,2033.1L1089.6,2060.3L1100.2,2080.1L1110.8,2090.1L1121.4,2024.3L1132.0,2153.3L1142.6,2097.2L1153.2,2102.3L1163.8,2054.3L1174.4,2035.9L1185.0,2081.0L1195.6,2110.2L1206.2,2084.8L1216.8,2037.1L1227.4,2041.6L1238.0,2095.7L1248.6,2002.6L1259.1,2024.3L1269.7,2107.8L1280.3,2077.0L1290.9,1984.3L1301.5,2013.8L1312.1,1993.5L1322.7,2002.4L1333.3,2006.2L1343.9,1915.3L1354.5,2106.4L1365.1,1999.7L1375.7,1975.6L1386.3,1998.0L1396.9,1985.2L1407.5,1990.3L1418.1,1930.8L1428.7,1889.3L1439.3,1986.0L1449.9,1920.5L1460.5,1994.8L1471.1,2036.5L1481.7,1942.6L1492.3,1929.1L1502.9,1927.0L1513.5,1966.8L1524.1,1922.0L1534.7,1922.4L1545.3,1856.7L1555.9,1950.1L1566.5,1967.1L1577.1,1909.8L1587.7,1895.7L1598.3,1935.1L1608.9,1893.8L1619.5,1818.5L1630.1,1821.5L1640.7,1810.4L1651.3,1797.2L1661.9,1846.2L1672.5,1792.6L1683.1,1849.0L1693.7,1824.1L1704.3,1822.3L1714.9,1853.4L1725.5,1849.1L1736.1,1848.3L1746.7,1728.5L1757.3,1837.5L1767.9,1801.8L1778.5,1746.8L1789.1,1702.6L1799.7,1639.1L1810.3,1693.8L1820.9,1767.5L1831.5,1709.1L1842.1,1719.3L1852.7,1681.3L1863.3,1734.4L1873.9,1711.3L1884.5,1700.0L1895.1,1679.3L1905.7,1659.2L1916.3,1636.7L1926.9,1595.1L1937.5,1573.7L1948.1,1554.7L1958.7,1647.9L1969.3,1593.5L1979.9,1554.6L1990.5,1601.9L2001.1,1520.0L2011.7,1550.8L2022.3,1570.6L2032.9,1502.1L2043.5,1518.4L2054.1,1543.5L2064.7,1572.6L2075.3,1453.1L2085.9,1436.7L2096.5,1480.8L2107.1,1433.3L2117.7,1445.1L2128.3,1448.0L2138.9,1436.0L2149.5,1462.9L2160.1,1450.8L2170.7,1280.3L2181.3,1385.7L2191.9,1337.3L2202.5,1384.3L2213.1,1356.8"/>
<path d="M315.8,2090.8L326.4,2105.7L337.0,2196.6L347.6,2178.2L358.2,2235.9L368.8,2155.8L379.4,2179.5L390.0,2134.8L400.6,2222.8L411.2,2200.4L421.8,2190.9L432.4,2136.5L443.0,2184.6L453.6,2077.7L464.2,2031.1L474.8,2091.2L485.4,2198.1L496.0,2199.5L506.6,2114.2L517.2,2157.5L527.8,2165.1L538.4,2163.5L549.0,2178.6L559.6,2110.2L570.2,2127.8L580.8,2135.7L591.4,2125.6L602.0,2087.1L612.6,2129.4L623.2,2147.0L633.8,2070.1L644.4,2063.5L655.0,2060.6L665.6,2140.2L676.2,2156.8L686.8,2187.0L697.4,2201.0L708.0,2177.3L718.6,2111.5L729.2,2116.5L739.8,2166.2L750.4,2129.1L761.0,2186.9L771.6,2186.0L782.2,2196.7L792.8,2082.4L803.4,2078.4L814.0,2109.8L824.6,2082.7L835.2,2105.4L845.8,2158.4L856.4,2164.6L867.0,2078.2L877.6,2237.1L888.2,2158.9L898.8,2092.8L909.4,2169.4L920.0,2171.4L930.6,2189.4L941.2,2152.0L951.8,2118.9L962.4,2077.2L973.0,2178.1L983.6,2133.3L994.2,2091.0L1004.8,2056.0L1015.4,2185.6L1026.0,2125.7L1036.6,2123.2L1047.2,2130.4L1057.8,2169.8L1068.4,2054.6L1079.0,2061.5L1089.6,2039.0L1100.2,2065.2L1110.8,2082.5L1121.4,2075.7L1132.0,2064.4L1142.6,2017.8L1153.2,2038.3L1163.8,2144.4L1174.4,1998.7L1185.0,2065.6L1195.6,2074.9L1206.2,1988.8L1216.8,2100.6L1227.4,2058.0L1238.0,1992.8L1248.6,2042.4L1259.1,2061.3L1269.7,2031.2L1280.3,2017.5L1290.9,1987.5L1301.5,2006.7L1312.1,2024.5L1322.7,2061.2L1333.3,1997.1L1343.9,2011.8L1354.5,1996.9L1365.1,1963.2L1375.7,2013.2L1386.3,2062.6L1396.9,2047.0L1407.5,1958.8L1418.1,1927.4L1428.7,1981.2L1439.3,1991.8L1449.9,2018.3L1460.5,2025.2L1471.1,1983.6L1481.7,1966.9L1492.3,1921.2L1502.9,1943.3L1513.5,1940.0L1524.1,1904.7L1534.7,1939.7L1545.3,1953.8L1555.9,1893.5L1566.5,1845.3L1577.1,1859.3L1587.7,1913.4L1598.3,1912.3L1608.9,1930.1L1619.5,1866.6L1630.1,1885.8L1640.7,1872.3L1651.3,1867.8L1661.9,1809.5L1672.5,1799.7L1683.1,1857.4L1693.7,1779.5L1704.3,1766.0L1714.9,1802.4L1725.5,1874.0L1736.1,1841.4L1746.7,1783.9L1757.3,1684.2L1767.9,1725.4L1778.5,1780.6L1789.1,1720.2L1799.7,1738.7L1810.3,1699.9L1820.9,1703.0L1831.5,1627.2L1842.1,1678.4L1852.7,1721.8L1863.3,1697.8L1873.9,1697.0L1884.5,1720.0L1895.1,1734.6L1905.7,1660.3L1916.3,1644.2L1926.9,1507.5L1937.5,1650.4L1948.1,1632.0L1958.7,1615.7L1969.3,1625.0L1979.9,1557.7L1990.5,1578.7L2001.1,1628.7L2011.7,1582.1L2022.3,1557.8L2032.9,1569.0L2043.5,1591.8L2054.1,1554.9L2064.7,1548.7L2075.3,1490.9L2085.9,1450.3L2096.5,1541.3L2107.1,1445.1L2117.7,1426.0L2128.3,1401.4L2138.9,1495.9L2149.5,1407.3L2160.1,1396.1L2170.7,1410.7L2181.3,1392.2L2191.9,1409.4L2202.5,1386.0L2213.1,1377.3"/>
<path d="M315.8,2142.9L326.4,2172.0L337.0,2205.9L347.6,2183.6L358.2,2144.0L368.8,2132.0L379.4,2181.6L390.0,2196.8L400.6,2241.6L411.2,2125.4L421.8,2172.3L432.4,2168.5L443.0,2192.9L453.6,2211.3L464.2,2150.2L474.8,2010.9L485.4,2077.7L496.0,2143.1L506.6,2111.3L517.2,2174.1L527.8,2176.4L538.4,2128.2L549.0,2265.0L559.6,2166.0L570.2,2090.0L580.8,2131.0L591.4,2005.3L602.0,2086.7L612.6,2149.1L623.2,2078.7L633.8,2142.9L644.4,2133.8L655.0,2129.8L665.6,2172.4L676.2,2148.8L686.8,2188.1L697.4,2182.7L708.0,2165.5L718.6,2113.6L729.2,2165.2L739.8,2162.4L750.4,2085.1L761.0,2094.7L771.6,2218.5L782.2,2126.7L792.8,2091.4L803.4,2117.8L814.0,2232.8L824.6,2142.5L835.2,2038.1L845.8,2121.4L856.4,2141.8L867.0,2137.1L877.6,2127.8L888.2,2162.5L898.8,2115.0L909.4,2142.8L920.0,2168.9L930.6,2124.9L941.2,2097.8L951.8,2018.8L962.4,2087.6L973.0,2084.5L983.6,2076.5L994.2,2138.8L1004.8,2039.9L1015.4,2158.7L1026.0,2111.0L1036.6,2129.5L1047.2,1962.5L1057.8,2080.2L1068.4,2078.6L1079.0,2067.5L1089.6,2121.3L1100.2,2198.8L1110.8,2174.2L1121.4,2067.5L1132.0,2107.3L1142.6,2025.6L1153.2,2060.4L1163.8,2098.3L1174.4,2178.0L1185.0,2013.8L1195.6,2031.6L1206.2,2075.7L1216.8,1995.8L1227.4,2032.2L1238.0,1977.3L1248.6,1998.5L1259.1,2051.8L1269.7,2111.9L1280.3,1999.1L1290.9,2013.3L1301.5,2029.6L1312.1,1943.8L1322.7,2046.0L1333.3,1981.9L1343.9,2019.1L1354.5,1938.1L1365.1,2033.3L1375.7,1991.7L1386.3,1986.8L1396.9,1943.2L1407.5,1961.4L1418.1,2024.2L1428.7,1950.7L1439.3,1981.6L1449.9,2004.2L1460.5,1978.1L1471.1,1957.1L1481.7,1934.1L1492.3,1969.4L1502.9,1913.5L1513.5,2008.0L1524.1,1931.6L1534.7,1880.1L1545.3,1912.3L1555.9,1871.0L1566.5,1952.0L1577.1,1898.3L1587.7,1878.6L1598.3,1938.1L1608.9,1923.8L1619.5,1865.6L1630.1,1903.9L1640.7,1840.0L1651.3,1875.6L1661.9,1883.0L1672.5,1855.4L1683.1,1859.0L1693.7,1821.1L1704.3,1864.7L1714.9,1826.4L1725.5,1792.9L1736.1,1825.6L1746.7,1849.8L1757.3,1839.0L1767.9,1757.6L1778.5,1791.5L1789.1,1727.4L1799.7,1808.0L1810.3,1718.4L1820.9,1736.8L1831.5,1762.9L1842.1,1717.8L1852.7,1663.2L1863.3,1704.6L1873.9,1685.6L1884.5,1656.9L1895.1,1611.4L1905.7,1706.2L1916.3,1642.9L1926.9,1643.9L1937.5,1618.4L1948.1,1618.2L1958.7,1606.2L1969.3,1654.2L1979.9,1531.5L1990.5,1555.3L2001.1,1527.9L2011.7,1530.4L2022.3,1569.9L2032.9,1513.3L2043.5,1515.3L2054.1,1556.4L2064.7,1555.6L2075.3,1568.2L2085.9,1471.7L2096.5,1451.2L2107.1,1473.1L2117.7,1502.8L2128.3,1406.9L2138.9,1456.9L2149.5,1469.9L2160.1,1465.6L2170.7,1389.9L2181.3,1389.9L2191.9,1377.7L2202.5,1337.9L2213.1,1354.1"/>
</g>
<path d="M305.2,2158.0H2213.1" stroke="#737578" stroke-opacity="0.8" stroke-width="3.9" stroke-dasharray="12.33 5.33" stroke-dashoffset="1.3"/>
<path d="M623.2,2334.6V1653.4" stroke="#f9a51a" stroke-opacity="0.52" stroke-width="6.2" stroke-dasharray="18.7 8.06"/>
<path d="M891.9,2334.6V1653.4" stroke="#7f2582" stroke-opacity="0.52" stroke-width="6.2" stroke-dasharray="18.7 8.06"/>
<path d="M315.8,2169.2L326.4,2180.5L337.0,2184.8L347.6,2197.0L358.2,2170.4L368.8,2170.0L379.4,2165.2L390.0,2175.3L400.6,2170.4L411.2,2164.8L421.8,2170.9L432.4,2162.7L443.0,2181.9L453.6,2181.4L464.2,2159.3L474.8,2161.0L485.4,2170.9L496.0,2163.1L506.6,2150.6L517.2,2152.3L527.8,2148.3L538.4,2142.5L549.0,2159.6L559.6,2136.1L570.2,2140.8L580.8,2136.6L591.4,2147.4L602.0,2154.0L612.6,2121.8L623.2,2154.0L633.8,2140.9L644.4,2136.6L655.0,2136.6L665.6,2154.8L676.2,2140.0L686.8,2154.0L697.4,2158.6L708.0,2154.0L718.6,2125.6L729.2,2133.1L739.8,2131.9L750.4,2156.2L761.0,2135.7L771.6,2164.4L782.2,2146.6L792.8,2128.7L803.4,2145.8L814.0,2134.3L824.6,2133.9L835.2,2134.3L845.8,2133.1L856.4,2121.8L867.0,2133.1L877.6,2147.0L888.2,2143.3L898.8,2119.2L909.4,2122.6L920.0,2117.9L930.6,2120.8L941.2,2112.7L951.8,2114.4L962.4,2111.4L973.0,2128.8L983.6,2114.9L994.2,2120.1L1004.8,2131.3L1015.4,2125.7L1026.0,2106.6L1036.6,2104.8L1047.2,2097.0L1057.8,2099.6L1068.4,2092.6L1079.0,2093.0L1089.6,2084.3L1100.2,2106.6L1110.8,2089.2L1121.4,2071.8L1132.0,2080.8L1142.6,2071.8L1153.2,2083.1L1163.8,2080.1L1174.4,2071.8L1185.0,2061.7L1195.6,2065.7L1206.2,2063.4L1216.8,2071.4L1227.4,2047.1L1238.0,2045.8L1248.6,2041.8L1259.1,2041.8L1269.7,2041.8L1280.3,2034.9L1290.9,2035.7L1301.5,2032.2L1312.1,2024.4L1322.7,2024.4L1333.3,2024.4L1343.9,2003.5L1354.5,2003.5L1365.1,2014.8L1375.7,2004.4L1386.3,2001.8L1396.9,1990.5L1407.5,1985.6L1418.1,1975.7L1428.7,1980.0L1439.3,1971.7L1449.9,1974.5L1460.5,1967.0L1471.1,1960.0L1481.7,1957.4L1492.3,1941.8L1502.9,1944.9L1513.5,1937.4L1524.1,1935.7L1534.7,1930.5L1545.3,1927.9L1555.9,1905.7L1566.5,1904.4L1577.1,1910.7L1587.7,1900.5L1598.3,1897.2L1608.9,1884.8L1619.5,1879.6L1630.1,1870.5L1640.7,1872.1L1651.3,1853.5L1661.9,1865.9L1672.5,1849.6L1683.1,1834.6L1693.7,1834.2L1704.3,1833.7L1714.9,1822.2L1725.5,1818.9L1736.1,1811.8L1746.7,1796.1L1757.3,1791.9L1767.9,1782.4L1778.5,1777.0L1789.1,1768.5L1799.7,1756.8L1810.3,1741.1L1820.9,1727.7L1831.5,1721.6L1842.1,1708.5L1852.7,1707.2L1863.3,1705.3L1873.9,1694.8L1884.5,1683.7L1895.1,1670.0L1905.7,1661.5L1916.3,1662.2L1926.9,1648.1L1937.5,1638.1L1948.1,1628.1L1958.7,1618.1L1969.3,1608.1L1979.9,1598.1L1990.5,1588.1L2001.1,1578.1L2011.7,1568.1L2022.3,1558.1L2032.9,1548.1L2043.5,1538.1L2054.1,1528.1L2064.7,1518.1L2075.3,1508.1L2085.9,1498.1L2096.5,1488.1L2107.1,1478.1L2117.7,1468.1L2128.3,1458.1L2138.9,1448.1L2149.5,1438.1L2160.1,1428.1L2170.7,1418.1L2181.3,1408.1L2191.9,1398.1L2202.5,1388.1L2213.1,1378.1" stroke="#231f20" stroke-width="4.0" stroke-linecap="square"/>
<path d="M623.2,2128.8L628.9,2146.3L647.2,2146.3L632.4,2157.1L638.1,2174.6L623.2,2163.8L608.3,2174.6L614.0,2157.1L599.1,2146.3L617.5,2146.3Z" fill="#f9a51a" stroke="#f9a51a" stroke-width="4.4" stroke-linejoin="bevel"/>
<path d="M891.9,2109.6L897.6,2127.1L915.9,2127.1L901.1,2137.9L906.8,2155.4L891.9,2144.6L877.0,2155.4L882.7,2137.9L867.8,2127.1L886.2,2127.1Z" fill="#7f2582" stroke="#7f2582" stroke-width="4.4" stroke-linejoin="bevel"/>
</g>
<rect x="305.2" y="1653.4" width="1907.9" height="681.2" fill="none" stroke="#fff" stroke-width="5"/>
<path d="M288.2,1653.4H303.6M288.2,1779.5H303.6M288.2,1905.7H303.6M288.2,2031.8H303.6M288.2,2158.0H303.6M288.2,2284.1H303.6M305.2,2336.4V2351.8M517.2,2336.4V2351.8M729.2,2336.4V2351.8M941.2,2336.4V2351.8M1153.2,2336.4V2351.8M1365.1,2336.4V2351.8M1577.1,2336.4V2351.8M1789.1,2336.4V2351.8M2001.1,2336.4V2351.8M2213.1,2336.4V2351.8" stroke="#6d6e71" stroke-width="3.2" fill="none"/>
<text transform="translate(284.6,1674.0) scale(0.972,1)" font-family="'DejaVu Sans', 'Liberation Sans', sans-serif" font-size="55.56" fill="#717275" text-anchor="end" stroke="#717275" stroke-width="0.35" stroke-linejoin="round">2.0</text>
<text transform="translate(284.6,1800.1) scale(0.972,1)" font-family="'DejaVu Sans', 'Liberation Sans', sans-serif" font-size="55.56" fill="#717275" text-anchor="end" stroke="#717275" stroke-width="0.35" stroke-linejoin="round">1.5</text>
<text transform="translate(284.6,1926.3) scale(0.972,1)" font-family="'DejaVu Sans', 'Liberation Sans', sans-serif" font-size="55.56" fill="#717275" text-anchor="end" stroke="#717275" stroke-width="0.35" stroke-linejoin="round">1.0</text>
<text transform="translate(284.6,2052.4) scale(0.972,1)" font-family="'DejaVu Sans', 'Liberation Sans', sans-serif" font-size="55.56" fill="#717275" text-anchor="end" stroke="#717275" stroke-width="0.35" stroke-linejoin="round">0.5</text>
<text transform="translate(284.6,2178.6) scale(0.972,1)" font-family="'DejaVu Sans', 'Liberation Sans', sans-serif" font-size="55.56" fill="#717275" text-anchor="end" stroke="#717275" stroke-width="0.35" stroke-linejoin="round">0.0</text>
<text transform="translate(284.6,2304.7) scale(0.972,1)" font-family="'DejaVu Sans', 'Liberation Sans', sans-serif" font-size="55.56" fill="#717275" text-anchor="end" stroke="#717275" stroke-width="0.35" stroke-linejoin="round">−0.5</text>
<text transform="translate(305.2,2425.7) scale(0.972,1)" font-family="'DejaVu Sans', 'Liberation Sans', sans-serif" font-size="55.56" fill="#717275" text-anchor="middle" stroke="#717275" stroke-width="0.35" stroke-linejoin="round">1920</text>
<text transform="translate(517.2,2425.7) scale(0.972,1)" font-family="'DejaVu Sans', 'Liberation Sans', sans-serif" font-size="55.56" fill="#717275" text-anchor="middle" stroke="#717275" stroke-width="0.35" stroke-linejoin="round">1940</text>
<text transform="translate(729.2,2425.7) scale(0.972,1)" font-family="'DejaVu Sans', 'Liberation Sans', sans-serif" font-size="55.56" fill="#717275" text-anchor="middle" stroke="#717275" stroke-width="0.35" stroke-linejoin="round">1960</text>
<text transform="translate(941.2,2425.7) scale(0.972,1)" font-family="'DejaVu Sans', 'Liberation Sans', sans-serif" font-size="55.56" fill="#717275" text-anchor="middle" stroke="#717275" stroke-width="0.35" stroke-linejoin="round">1980</text>
<text transform="translate(1153.2,2425.7) scale(0.972,1)" font-family="'DejaVu Sans', 'Liberation Sans', sans-serif" font-size="55.56" fill="#717275" text-anchor="middle" stroke="#717275" stroke-width="0.35" stroke-linejoin="round">2000</text>
<text transform="translate(1365.1,2425.7) scale(0.972,1)" font-family="'DejaVu Sans', 'Liberation Sans', sans-serif" font-size="55.56" fill="#717275" text-anchor="middle" stroke="#717275" stroke-width="0.35" stroke-linejoin="round">2020</text>
<text transform="translate(1577.1,2425.7) scale(0.972,1)" font-family="'DejaVu Sans', 'Liberation Sans', sans-serif" font-size="55.56" fill="#717275" text-anchor="middle" stroke="#717275" stroke-width="0.35" stroke-linejoin="round">2040</text>
<text transform="translate(1789.1,2425.7) scale(0.972,1)" font-family="'DejaVu Sans', 'Liberation Sans', sans-serif" font-size="55.56" fill="#717275" text-anchor="middle" stroke="#717275" stroke-width="0.35" stroke-linejoin="round">2060</text>
<text transform="translate(2001.1,2425.7) scale(0.972,1)" font-family="'DejaVu Sans', 'Liberation Sans', sans-serif" font-size="55.56" fill="#717275" text-anchor="middle" stroke="#717275" stroke-width="0.35" stroke-linejoin="round">2080</text>
<text transform="translate(2213.1,2425.7) scale(0.972,1)" font-family="'DejaVu Sans', 'Liberation Sans', sans-serif" font-size="55.56" fill="#717275" text-anchor="middle" stroke="#717275" stroke-width="0.35" stroke-linejoin="round">2100</text>
<text transform="translate(128.8,2029.0) rotate(-90) scale(0.995,1)" font-family="'DejaVu Sans', 'Liberation Sans', sans-serif" font-size="61.1" fill="#717275" text-anchor="start" stroke="#717275" stroke-width="0.35" stroke-linejoin="round">°C</text>
<text transform="translate(357.6,1716.7) scale(0.978,1)" font-family="'DejaVu Sans', 'Liberation Sans', sans-serif" font-size="34.4" fill="#231f20" text-anchor="start" stroke="#231f20" stroke-width="0.8" stroke-linejoin="round">mean value: 1.086 °C</text>
<text transform="translate(2087.5,1732.0)" font-family="'Liberation Sans', Arial, Helvetica, sans-serif" font-size="83" fill="#231f20" text-anchor="middle" stroke="#231f20" stroke-width="0.5" stroke-linejoin="round">c</text>
</g>
<text transform="translate(1263.3,2496.3) scale(1.03,1)" font-family="'DejaVu Sans', 'Liberation Sans', sans-serif" font-size="61.1" fill="#717275" text-anchor="middle" stroke="#717275" stroke-width="0.35" stroke-linejoin="round">Year</text>
</g>
</svg>
</body>
</html>
